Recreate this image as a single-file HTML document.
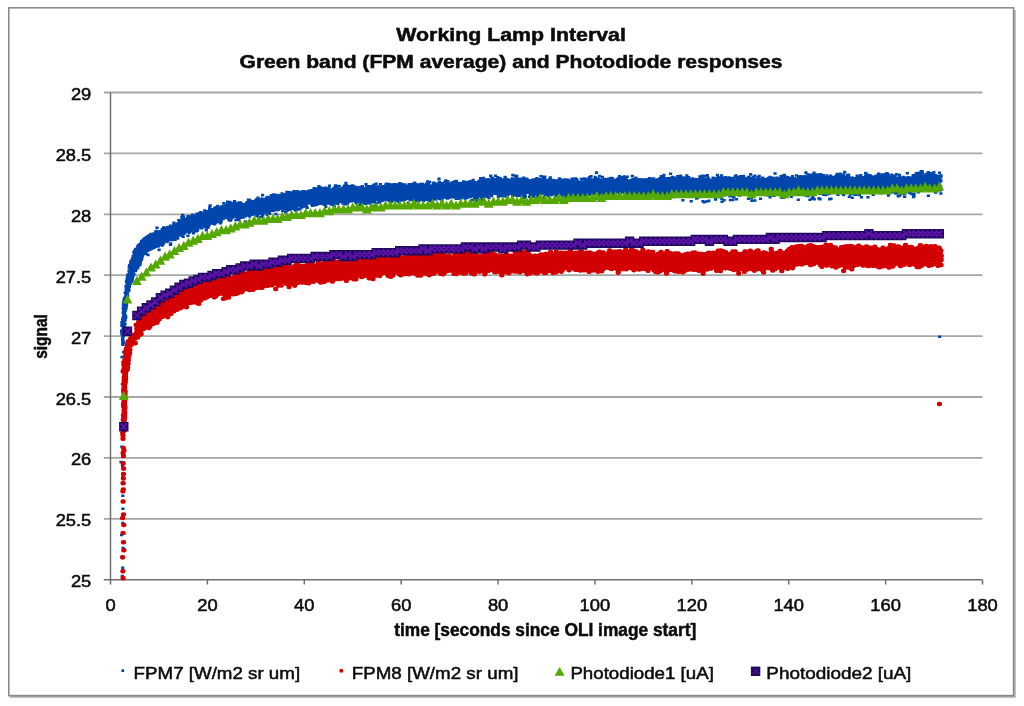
<!DOCTYPE html>
<html lang="en"><head><meta charset="utf-8"><title>Working Lamp Interval</title>
<style>html,body{margin:0;padding:0;background:#fff}svg{display:block}</style></head>
<body>
<svg width="1024" height="706" viewBox="0 0 1024 706">
<rect width="1024" height="706" fill="#fff"/>
<path d="M1014.9 10V696.9H10" fill="none" stroke="#adadad" stroke-width="1.6"/>
<rect x="8.8" y="7.8" width="1004.8" height="687.8" fill="#fff" stroke="#8a8a8a" stroke-width="1.6"/>
<path d="M103.8 92.50H982.5M103.8 153.40H982.5M103.8 214.30H982.5M103.8 275.20H982.5M103.8 336.10H982.5M103.8 397.00H982.5M103.8 457.90H982.5M103.8 518.80H982.5" stroke="#a6a6a6" stroke-width="1.8" fill="none"/>
<path d="M110.5 92.5V579.75M110.5 579.75H982.5M103.8 579.75H110.5M110.50 579.75V584.6M207.39 579.75V584.6M304.28 579.75V584.6M401.17 579.75V584.6M498.06 579.75V584.6M594.94 579.75V584.6M691.83 579.75V584.6M788.72 579.75V584.6M885.61 579.75V584.6M982.50 579.75V584.6" stroke="#707070" stroke-width="1.5" fill="none"/>
<path d="M131 263.5L132.6 258.6L134.2 252L135.8 250.2L137.4 248.1L139 246.7L140.6 243.8L142.2 240.8L143.8 239.7L145.4 238.9L147 237.3L148.6 236.1L150.2 235.8L151.8 233.7L153.4 234L155 232.3L156.6 231.3L158.2 232.6L159.8 229.7L161.4 230.4L163 229.9L164.6 227.4L166.2 226.6L167.8 225.8L169.4 227.3L171 225.7L172.6 224.1L174.2 225.1L175.8 223.1L177.4 222.6L179 219.4L180.6 219.5L182.2 219.5L183.8 218.5L185.4 218.4L187 217.1L188.6 217.3L190.2 217.3L191.8 216.9L193.4 214.9L195 214.3L196.6 214.7L198.2 214.9L199.8 212.3L201.4 212.6L203 212L204.6 212.2L206.2 211.2L207.8 210.6L209.4 208.8L211 208.1L212.6 208.6L214.2 207.1L215.8 207L217.4 206L219 207.1L220.6 205.2L222.2 205.6L223.8 204.9L225.4 204.7L227 203.1L228.6 202.7L230.2 204.4L231.8 203.4L233.4 203.8L235 203L236.6 201.8L238.2 201.8L239.8 201.7L241.4 201.2L243 202.8L244.6 203.2L246.2 201.4L247.8 202.4L249.4 199.7L251 199.8L252.6 200L254.2 199.7L255.8 197.8L257.4 199.8L259 199.7L260.6 197.6L262.2 197.3L263.8 198L265.4 197.2L267 197.4L268.6 198.2L270.2 197.5L271.8 195.9L273.4 196L275 196.9L276.6 196.7L278.2 194.6L279.8 193.5L281.4 195L283 193.3L284.6 193L286.2 193.2L287.8 192L289.4 193.3L291 193.8L292.6 192.5L294.2 193.4L295.8 192.1L297.4 192.7L299 192L300.6 191.4L302.2 191.4L303.8 191.3L305.4 189.9L307 191.2L308.6 190.8L310.2 189.5L311.8 189.5L313.4 188.7L315 187.9L316.6 189.9L318.2 189.8L319.8 188.6L321.4 189.5L323 188.7L324.6 189.8L326.2 188.9L327.8 189.4L329.4 188.5L331 188.3L332.6 188.4L334.2 188.8L335.8 186.6L337.4 187.9L339 187.6L340.6 188.1L342.2 186.3L343.8 187L345.4 186.1L347 186.6L348.6 184.9L350.2 186.9L351.8 185.2L353.4 186.1L355 185.5L356.6 187.7L358.2 187.3L359.8 187.8L361.4 187.7L363 188.2L364.6 187.6L366.2 186.2L367.8 186.3L369.4 188.1L371 186.8L372.6 187.7L374.2 186.7L375.8 187.6L377.4 186L379 185.1L380.6 186.8L382.2 185.3L383.8 185.3L385.4 186.1L387 184.6L388.6 186.3L390.2 184L391.8 186L393.4 186.3L395 185.8L396.6 184.7L398.2 184.5L399.8 186.2L401.4 186L403 186.1L404.6 186.6L406.2 185.5L407.8 186.1L409.4 186L411 184.7L412.6 184.9L414.2 183L415.8 185.1L417.4 183.8L419 183.9L420.6 184.5L422.2 185L423.8 183.5L425.4 184.8L427 185L428.6 183.9L430.2 184L431.8 185.2L433.4 183.7L435 184.7L436.6 184.7L438.2 183L439.8 182.6L441.4 182.1L443 181.9L444.6 183.4L446.2 181.8L447.8 181.6L449.4 182.4L451 181.3L452.6 181.4L454.2 183.2L455.8 183.5L457.4 183L459 183.2L460.6 182.2L462.2 182L463.8 183.1L465.4 182.3L467 181.4L468.6 181.6L470.2 182.6L471.8 181.8L473.4 183L475 181.5L476.6 181L478.2 181.4L479.8 180.8L481.4 180.6L483 182.1L484.6 180.8L486.2 179.8L487.8 178.8L489.4 180.6L491 180.2L492.6 179.2L494.2 179.8L495.8 180.8L497.4 181L499 180.9L500.6 179.9L502.2 179.7L503.8 179.3L505.4 178.1L507 178.7L508.6 179.9L510.2 178.5L511.8 179.1L513.4 179.7L515 179.3L516.6 178.3L518.2 178.4L519.8 180.4L521.4 178.8L523 180.3L524.6 180.2L526.2 180L527.8 179.4L529.4 181.1L531 180.6L532.6 179.6L534.2 178.7L535.8 179.1L537.4 177.9L539 178L540.6 177.9L542.2 177.9L543.8 179.2L545.4 178.5L547 178.7L548.6 179L550.2 181.4L551.8 179.3L553.4 181.5L555 181.3L556.6 180.1L558.2 181L559.8 178.7L561.4 180.6L563 179.9L564.6 180.1L566.2 181.1L567.8 178.9L569.4 179.2L571 180.2L572.6 178.8L574.2 180.7L575.8 178.7L577.4 179.3L579 180.3L580.6 180.7L582.2 180.6L583.8 180.7L585.4 179.7L587 179.4L588.6 179.5L590.2 178.1L591.8 178.7L593.4 178.3L595 177.4L596.6 177.2L598.2 177.4L599.8 178.3L601.4 179.1L603 180.6L604.6 178.7L606.2 178.2L607.8 178.9L609.4 179.3L611 179.6L612.6 179L614.2 180.2L615.8 177.9L617.4 177.7L619 177.3L620.6 178.8L622.2 177.2L623.8 177.2L625.4 176.8L627 178L628.6 179.5L630.2 179.9L631.8 180.3L633.4 178.3L635 177.8L636.6 178L638.2 177.7L639.8 179.7L641.4 178.3L643 179.9L644.6 178.6L646.2 178.3L647.8 178.9L649.4 179.9L651 180.7L652.6 179.6L654.2 179.8L655.8 178.9L657.4 179.8L659 179.5L660.6 179.9L662.2 179.6L663.8 179.2L665.4 179.6L667 179.8L668.6 179.2L670.2 177.7L671.8 178.7L673.4 180.1L675 179.4L676.6 178.6L678.2 179.6L679.8 178L681.4 177.9L683 178L684.6 178.1L686.2 178L687.8 177.5L689.4 178.3L691 178L692.6 179L694.2 178.9L695.8 177.6L697.4 178.8L699 179.5L700.6 178.5L702.2 176.9L703.8 178.1L705.4 177.2L707 177.9L708.6 177.3L710.2 179.3L711.8 179L713.4 178.3L715 177.4L716.6 176.7L718.2 178.1L719.8 176.7L721.4 178.3L723 178.5L724.6 176.8L726.2 179.2L727.8 179.4L729.4 177.3L731 178.4L732.6 177.7L734.2 178.5L735.8 178.9L737.4 177.3L739 176.7L740.6 177.4L742.2 176.8L743.8 178L745.4 176.8L747 177.5L748.6 176.2L750.2 176.7L751.8 178.1L753.4 178.4L755 177.8L756.6 178L758.2 176.8L759.8 178.3L761.4 178.4L763 177.5L764.6 178.9L766.2 177.5L767.8 178.6L769.4 177.6L771 179.6L772.6 178.5L774.2 180.1L775.8 178.5L777.4 178.8L779 177.5L780.6 175.8L782.2 175.9L783.8 176L785.4 176.8L787 175.3L788.6 176.8L790.2 177.8L791.8 176.7L793.4 177.3L795 177L796.6 178.1L798.2 176.8L799.8 178.3L801.4 178L803 177.1L804.6 178.1L806.2 176.3L807.8 175.4L809.4 177L811 177.2L812.6 177.3L814.2 175.1L815.8 174.6L817.4 175.9L819 175.2L820.6 174.8L822.2 176.3L823.8 176.3L825.4 176.9L827 178.1L828.6 178.3L830.2 176.3L831.8 175.6L833.4 176.7L835 174.6L836.6 174.8L838.2 176.3L839.8 175.2L841.4 176.4L843 176.5L844.6 175.4L846.2 177.3L847.8 177.5L849.4 175.7L851 178.3L852.6 176.2L854.2 177.3L855.8 177.4L857.4 177L859 177.8L860.6 175.2L862.2 176.4L863.8 176.1L865.4 173.8L867 173.7L868.6 174.5L870.2 174.1L871.8 174.4L873.4 176.5L875 174.4L876.6 174.8L878.2 174.2L879.8 174.2L881.4 175L883 175.8L884.6 175.9L886.2 174.2L887.8 176.2L889.4 176.6L891 175.2L892.6 175.3L894.2 175.9L895.8 177.1L897.4 177.8L899 176.8L900.6 176.6L902.2 176.6L903.8 176.8L905.4 176.3L907 177.6L908.6 177.3L910.2 176.6L911.8 176.9L913.4 176.4L915 174.2L916.6 174.1L918.2 174.1L919.8 174.1L921.4 172.5L923 172.8L924.6 174.7L926.2 174.8L927.8 173.5L929.4 174.1L931 175L932.6 174.7L934.2 175.6L935.8 174.3L937.4 175L939 174.8L940.6 176.2L940.6 189.9L939 189.6L937.4 189.4L935.8 190.4L934.2 189.6L932.6 190.4L931 190.6L929.4 188.8L927.8 190.1L926.2 190.1L924.6 188.9L923 188.7L921.4 188.1L919.8 188.4L918.2 188.3L916.6 190.1L915 191.1L913.4 191.5L911.8 190.7L910.2 192.8L908.6 193L907 192.2L905.4 192.7L903.8 192.9L902.2 193.3L900.6 192.1L899 190.6L897.4 192.8L895.8 190.7L894.2 192.5L892.6 190.8L891 192.3L889.4 190.7L887.8 189.6L886.2 191.6L884.6 189.1L883 188.9L881.4 191L879.8 190.2L878.2 190.7L876.6 191.8L875 190L873.4 191.4L871.8 191.7L870.2 189.5L868.6 190.2L867 190.3L865.4 189.4L863.8 189.7L862.2 191.2L860.6 191.3L859 192.6L857.4 193.2L855.8 191.8L854.2 192.9L852.6 192.7L851 193L849.4 192L847.8 192.2L846.2 190.6L844.6 192L843 190.9L841.4 191.8L839.8 190.2L838.2 191.2L836.6 190.2L835 190.6L833.4 192L831.8 191.7L830.2 192.1L828.6 192.9L827 193.5L825.4 190.6L823.8 192.7L822.2 190.8L820.6 190.2L819 189.5L817.4 191.7L815.8 192.1L814.2 190L812.6 191L811 192.6L809.4 191.9L807.8 190.9L806.2 191.4L804.6 191L803 192.4L801.4 193.2L799.8 191.7L798.2 191.9L796.6 193.2L795 194L793.4 192.7L791.8 193.7L790.2 191.1L788.6 192L787 190.9L785.4 190.2L783.8 189.8L782.2 190.6L780.6 193.2L779 191.5L777.4 194.3L775.8 194.1L774.2 194.9L772.6 194.7L771 193.3L769.4 193.3L767.8 193.8L766.2 193.2L764.6 194.7L763 194.2L761.4 192.7L759.8 192.3L758.2 193.1L756.6 193L755 193.5L753.4 193.1L751.8 192.9L750.2 191.4L748.6 192.9L747 191.2L745.4 193L743.8 192.3L742.2 194L740.6 192.9L739 193.6L737.4 192L735.8 193.1L734.2 193.7L732.6 193.6L731 193.3L729.4 192.6L727.8 193.6L726.2 193L724.6 193.1L723 192.6L721.4 192.7L719.8 191.8L718.2 192.1L716.6 191.8L715 194.3L713.4 192.6L711.8 193.4L710.2 194.1L708.6 193.6L707 193.9L705.4 193.7L703.8 191.9L702.2 193.1L700.6 193.6L699 194.4L697.4 194.7L695.8 193.8L694.2 195.1L692.6 195L691 192.6L689.4 192.6L687.8 194.4L686.2 193.5L684.6 193.6L683 191.9L681.4 194.3L679.8 193.5L678.2 195L676.6 193.6L675 193L673.4 193.1L671.8 195.1L670.2 193.5L668.6 193.8L667 192.8L665.4 194.4L663.8 193L662.2 193.6L660.6 193.3L659 192.8L657.4 193.6L655.8 194.4L654.2 193.2L652.6 193.9L651 194.8L649.4 193.9L647.8 194.2L646.2 195.4L644.6 193.7L643 193.8L641.4 195.3L639.8 194.6L638.2 193.7L636.6 193.9L635 195.4L633.4 194.4L631.8 195.3L630.2 194.4L628.6 194.5L627 192.6L625.4 192.5L623.8 193.8L622.2 192.4L620.6 194L619 194.1L617.4 192.6L615.8 195L614.2 193.5L612.6 195.4L611 193.4L609.4 194.1L607.8 194.1L606.2 194.6L604.6 193.5L603 194.6L601.4 194.5L599.8 192.7L598.2 194.7L596.6 193.2L595 193.4L593.4 192.5L591.8 195L590.2 194.5L588.6 195.7L587 194L585.4 194.6L583.8 194.3L582.2 194.6L580.6 194.8L579 194.6L577.4 195.9L575.8 195.5L574.2 196L572.6 195.4L571 195.8L569.4 195.8L567.8 194.4L566.2 194.1L564.6 195.5L563 196.2L561.4 194.2L559.8 196.3L558.2 195.6L556.6 194.2L555 194.2L553.4 195.7L551.8 196.5L550.2 195.7L548.6 196.3L547 194.9L545.4 193.4L543.8 193.8L542.2 192.9L540.6 194.7L539 194.2L537.4 194.5L535.8 195L534.2 195.2L532.6 194.8L531 195.7L529.4 194.1L527.8 193.8L526.2 194.1L524.6 194.4L523 194.2L521.4 193.8L519.8 194.4L518.2 193.1L516.6 193.1L515 193.1L513.4 193.9L511.8 193.1L510.2 194.4L508.6 193.6L507 194.3L505.4 193.4L503.8 194.4L502.2 195.3L500.6 196L499 196.1L497.4 195.3L495.8 195.1L494.2 195L492.6 194.6L491 194.4L489.4 194.8L487.8 194.8L486.2 194L484.6 195.3L483 196.8L481.4 196.2L479.8 196.1L478.2 196.4L476.6 197.3L475 196.3L473.4 196.5L471.8 197.4L470.2 196.6L468.6 198.1L467 196.8L465.4 198.2L463.8 197.1L462.2 198.5L460.6 197.5L459 198.4L457.4 198.4L455.8 197.4L454.2 197L452.6 197.5L451 196.9L449.4 198.5L447.8 198.4L446.2 196.4L444.6 198.6L443 196.9L441.4 198.5L439.8 199.1L438.2 197.3L436.6 198.9L435 200.1L433.4 198.5L431.8 199.6L430.2 198.5L428.6 200.4L427 200.4L425.4 200L423.8 198.9L422.2 199L420.6 199.1L419 198.8L417.4 198.7L415.8 198.5L414.2 198.7L412.6 199.8L411 200.5L409.4 200.9L407.8 199.9L406.2 199.9L404.6 199.8L403 201.2L401.4 201.1L399.8 200.4L398.2 202L396.6 199.6L395 200.5L393.4 201.1L391.8 199.5L390.2 201.3L388.6 201.1L387 200.2L385.4 200L383.8 202.1L382.2 199.9L380.6 202.4L379 201.1L377.4 200.8L375.8 201.1L374.2 201L372.6 203.2L371 201.5L369.4 202.3L367.8 203.4L366.2 201.5L364.6 202.4L363 203.4L361.4 201.5L359.8 202.6L358.2 201.4L356.6 202.4L355 200.5L353.4 202.3L351.8 200.9L350.2 201.5L348.6 202.4L347 202.1L345.4 201.3L343.8 202.7L342.2 201L340.6 202.1L339 202.2L337.4 203.1L335.8 203.5L334.2 203.9L332.6 203L331 204.6L329.4 203L327.8 202.9L326.2 203L324.6 203.4L323 203.5L321.4 202.9L319.8 204.6L318.2 204.2L316.6 204.5L315 204.9L313.4 203.6L311.8 206L310.2 204.6L308.6 204.6L307 206L305.4 206L303.8 206.9L302.2 207.9L300.6 207.2L299 206.9L297.4 208.5L295.8 207.1L294.2 208L292.6 207.4L291 208.9L289.4 207.7L287.8 208.5L286.2 208.2L284.6 209.5L283 209.5L281.4 209.2L279.8 210.7L278.2 211.5L276.6 209.9L275 211.2L273.4 212.6L271.8 211.4L270.2 211.7L268.6 213.7L267 213.5L265.4 211.7L263.8 213.2L262.2 213.2L260.6 213.4L259 214.8L257.4 212.8L255.8 213.4L254.2 213.9L252.6 215.7L251 215.1L249.4 216.3L247.8 216.8L246.2 216L244.6 216.3L243 217.7L241.4 217.8L239.8 218.5L238.2 218.7L236.6 219.5L235 217.5L233.4 218.7L231.8 219.6L230.2 218L228.6 217.9L227 218.7L225.4 219.2L223.8 219.6L222.2 221.1L220.6 220.4L219 222.7L217.4 223.1L215.8 222.8L214.2 223.1L212.6 224.4L211 224.6L209.4 226L207.8 226.8L206.2 226L204.6 225.7L203 226.9L201.4 226.6L199.8 227.8L198.2 228.9L196.6 230.3L195 230.9L193.4 231.4L191.8 232.3L190.2 233.9L188.6 234.5L187 232.2L185.4 233.9L183.8 234.8L182.2 235.3L180.6 235.2L179 236.6L177.4 238L175.8 236.9L174.2 238.8L172.6 239.8L171 241L169.4 241.4L167.8 243.4L166.2 242.2L164.6 244.2L163 244.6L161.4 244.6L159.8 247.2L158.2 247.9L156.6 247.2L155 249.3L153.4 248.7L151.8 250.3L150.2 251.1L148.6 252L147 252.6L145.4 253.7L143.8 256.4L142.2 257.6L140.6 257.2L139 259.8L137.4 263.5L135.8 264.8L134.2 268.3L132.6 273.9L131 277.7z" fill="#0046ad"/>
<path d="M126.2 281.3h0.6M126.4 282.2h0.6M126.7 290.2h0.6M126.7 279.9h0.6M127.2 284.9h0.6M127.3 276.6h0.6M127.4 286.2h0.6M127.5 288.9h0.6M127.6 285.2h0.6M127.7 274.6h0.6M127.7 286.8h0.6M127.7 281.2h0.6M127.9 288.5h0.6M127.9 274.9h0.6M128 278.2h0.6M128.1 287.6h0.6M128.2 286h0.6M128.3 285.4h0.6M128.4 276.9h0.6M128.4 279h0.6M128.4 289.1h0.6M128.7 280.3h0.6M128.7 270.9h0.6M128.7 270.9h0.6M128.9 267.4h0.6M129.2 273.5h0.6M129.2 265.2h0.6M129.3 272.6h0.6M129.4 276.2h0.6M129.9 276.9h0.6M129.9 269.2h0.6M130 265.8h0.6M130.1 278.4h0.6M130.2 278.1h0.6M130.3 280.9h0.6M130.4 261.6h0.6M130.4 273.7h0.6M130.4 276.2h0.6M130.5 273.2h0.6M130.5 263.9h0.6M130.6 272.6h0.6M131.1 271.5h0.6M131.2 262.2h0.6M131.2 265.4h0.6M131.6 273.7h0.6M132.2 260.5h0.6M132.3 270.5h0.6M132.4 258.9h0.6M132.4 264.9h0.6M132.4 261.2h0.6M132.8 257.1h0.6M132.8 272.3h0.6M132.9 261.5h0.6M133 265.2h0.6M133.3 270.4h0.6M133.4 260.2h0.6M133.6 252h0.6M133.7 261.4h0.6M134.1 256.1h0.6M134.2 265.8h0.6M134.3 254.5h0.6M134.5 264.3h0.6M134.6 250.6h0.6M135 258.5h0.6M135.2 252.2h0.6M135.3 263.2h0.6M135.6 262.9h0.6M135.8 264.2h0.6M135.9 250.5h0.6M136.1 253.6h0.6M136.1 261.8h0.6M136.1 260.9h0.6M136.2 261.5h0.6M136.5 255h0.6M136.5 252.2h0.6M136.6 265.5h0.6M136.7 253.4h0.6M136.8 254.3h0.6M136.9 260.3h0.6M137 249.6h0.6M137.1 259.8h0.6M137.2 259.8h0.6M137.2 255.5h0.6M137.3 256.9h0.6M137.7 256.2h0.6M138 247.5h0.6M138 248.4h0.6M138 253.7h0.6M138.3 245.2h0.6M138.3 246.3h0.6M138.4 254.3h0.6M138.5 256.5h0.6M138.6 252.8h0.6M138.6 248.2h0.6M138.6 257.1h0.6M138.6 255.2h0.6M138.7 255.5h0.6M139 253.4h0.6M139.1 248.7h0.6M139.2 257.7h0.6M139.2 255.6h0.6M139.5 246.3h0.6M139.5 255.5h0.6M139.6 253.4h0.6M139.6 252.2h0.6M140 248.3h0.6M140 257.2h0.6M140.3 254.7h0.6M140.4 251h0.6M140.4 243.6h0.6M140.7 244.9h0.6M140.7 256.7h0.6M140.8 248.7h0.6M140.9 254.1h0.6M141.2 243.1h0.6M141.2 248.4h0.6M141.2 250.3h0.6M141.4 256.8h0.6M141.5 255.8h0.6M141.6 250.6h0.6M141.7 245.7h0.6M141.8 244.8h0.6M141.9 246.1h0.6M142.1 245.2h0.6M142.2 255.8h0.6M142.4 252.5h0.6M142.5 251.3h0.6M142.6 253.4h0.6M142.9 239.6h0.6M143.1 243.4h0.6M143.1 249.3h0.6M143.2 241.5h0.6M143.3 245.9h0.6M143.8 251.7h0.6M143.9 250.1h0.6M144.2 240.1h0.6M144.6 238.4h0.6M144.8 249.7h0.6M144.9 247.4h0.6M145.2 240.3h0.6M145.3 252.4h0.6M145.7 250.4h0.6M145.7 253.8h0.6M146.1 237.2h0.6M146.1 250.2h0.6M146.2 245h0.6M146.4 243.3h0.6M146.4 244.2h0.6M146.6 236.8h0.6M146.6 239.1h0.6M146.7 238.4h0.6M146.7 247.5h0.6M146.7 245.9h0.6M146.7 238.2h0.6M147.1 240.6h0.6M147.3 249h0.6M147.3 244.7h0.6M147.5 246.1h0.6M147.6 254.9h0.6M147.8 245.9h0.6M147.9 248.2h0.6M148.1 245.9h0.6M148.5 235.5h0.6M148.9 245.9h0.6M149.1 246.6h0.6M149.1 245.4h0.6M149.4 249.5h0.6M149.7 242.7h0.6M150.2 241.7h0.6M150.3 240h0.6M150.4 237.1h0.6M150.5 234.1h0.6M150.8 238.2h0.6M150.9 237.5h0.6M151.2 239.7h0.6M151.7 239.5h0.6M151.9 245.4h0.6M152 248.5h0.6M152.2 243.6h0.6M152.3 245.1h0.6M152.5 242.3h0.6M152.5 238.1h0.6M152.6 242.8h0.6M152.6 243.1h0.6M152.6 247.2h0.6M152.7 246h0.6M152.9 235h0.6M152.9 244.3h0.6M153 236.8h0.6M153.4 240.8h0.6M153.5 247h0.6M153.5 245.6h0.6M153.7 233.5h0.6M154 240.5h0.6M154.1 235.5h0.6M154.4 241.9h0.6M154.4 246.5h0.6M154.4 242.7h0.6M154.5 240.4h0.6M154.8 241.9h0.6M154.8 234.5h0.6M155 246.4h0.6M155.1 246.8h0.6M155.5 231.3h0.6M155.7 242h0.6M155.7 240.9h0.6M155.7 238.1h0.6M155.9 234h0.6M156.2 234.3h0.6M156.3 241.9h0.6M156.7 227.9h0.6M156.9 236.9h0.6M157 244.5h0.6M157.1 232.8h0.6M157.2 242.2h0.6M157.3 238.3h0.6M157.5 238h0.6M157.5 236.6h0.6M157.7 240.1h0.6M157.8 243.5h0.6M158 242.5h0.6M158.1 239.2h0.6M158.2 231.6h0.6M158.8 239h0.6M158.8 249.9h0.6M159.1 244.7h0.6M159.5 233.1h0.6M159.7 236.5h0.6M159.7 238.3h0.6M160 237.9h0.6M160 231.4h0.6M160.2 232.5h0.6M160.5 240.2h0.6M160.6 242h0.6M160.7 242.3h0.6M160.7 238.7h0.6M160.9 240.6h0.6M161 231.6h0.6M161.4 234.3h0.6M161.5 235.3h0.6M161.5 232.5h0.6M161.6 234.5h0.6M161.8 236.4h0.6M161.8 237h0.6M161.9 229.2h0.6M162 245.5h0.6M162.4 244h0.6M162.5 240.9h0.6M162.5 231.4h0.6M162.6 236.3h0.6M162.9 241.7h0.6M163.1 239.4h0.6M163.1 240.8h0.6M163.1 238.3h0.6M163.2 243.3h0.6M163.2 238.4h0.6M163.3 227.5h0.6M163.4 235h0.6M163.5 242h0.6M163.6 231.6h0.6M163.6 231.3h0.6M163.7 228.1h0.6M163.8 228.7h0.6M163.9 231.1h0.6M164.1 239.8h0.6M164.3 237.3h0.6M164.9 241.1h0.6M164.9 237.1h0.6M165.1 233.2h0.6M165.2 239.4h0.6M165.7 232.5h0.6M165.8 232.1h0.6M166 234.1h0.6M166 236.5h0.6M166.2 238.6h0.6M166.2 236.5h0.6M166.3 236.3h0.6M166.3 232.4h0.6M166.5 236.8h0.6M166.5 238.4h0.6M166.7 230.1h0.6M166.7 240.9h0.6M166.9 234h0.6M167 237.6h0.6M167 236.7h0.6M167.1 227.6h0.6M167.1 231h0.6M167.2 228.9h0.6M167.6 235.2h0.6M167.6 235.8h0.6M167.7 239.1h0.6M168.2 231.4h0.6M168.4 230.6h0.6M168.9 231.2h0.6M169.2 235.6h0.6M169.3 233h0.6M169.6 227.2h0.6M170 225.8h0.6M170.1 244.6h0.6M170.2 235.7h0.6M170.4 243.6h0.6M170.7 227.5h0.6M170.8 229h0.6M171 237.6h0.6M171.7 239.9h0.6M171.9 227.7h0.6M171.9 237.3h0.6M172 234h0.6M172.1 237.5h0.6M172.1 239.5h0.6M172.2 232.1h0.6M172.3 238.6h0.6M172.4 226.7h0.6M172.5 230.8h0.6M172.6 231.5h0.6M172.6 229.7h0.6M172.6 232.5h0.6M172.8 237.1h0.6M173.6 222.8h0.6M173.8 230.6h0.6M173.8 233.4h0.6M174 225h0.6M174 233h0.6M174.2 225.6h0.6M174.4 234.6h0.6M174.4 231.6h0.6M174.6 233.9h0.6M174.8 239.2h0.6M174.8 239.8h0.6M175 231.6h0.6M175.3 228.3h0.6M175.4 226.5h0.6M175.5 234.9h0.6M175.5 234h0.6M175.6 234.4h0.6M175.8 234.7h0.6M175.8 231.9h0.6M175.9 236.5h0.6M176.2 232.7h0.6M176.6 232.8h0.6M176.6 235.1h0.6M176.7 229.8h0.6M176.9 232.5h0.6M176.9 234.6h0.6M177.1 224.3h0.6M177.1 233.6h0.6M177.1 223.8h0.6M177.2 226.8h0.6M177.3 233.5h0.6M177.4 238.4h0.6M177.6 235.8h0.6M177.8 234.7h0.6M177.8 234.3h0.6M178.1 234.2h0.6M178.1 231.3h0.6M178.5 224.9h0.6M178.5 220.4h0.6M178.6 230.7h0.6M178.7 231.6h0.6M178.7 229.9h0.6M179 228.8h0.6M179 230.6h0.6M179.2 233.9h0.6M179.4 230.5h0.6M179.5 231.3h0.6M179.5 224.5h0.6M179.5 228.4h0.6M179.5 234.3h0.6M179.5 231.2h0.6M179.6 227.9h0.6M179.6 221.8h0.6M179.6 230.6h0.6M179.6 222.7h0.6M179.7 232.5h0.6M179.8 222.5h0.6M179.8 230h0.6M180 226.3h0.6M180.1 233.9h0.6M180.1 223.8h0.6M180.2 220.9h0.6M180.2 226.8h0.6M180.4 232.2h0.6M180.4 226.3h0.6M180.7 223.9h0.6M180.8 227.6h0.6M180.8 222.7h0.6M181.1 224.3h0.6M181.2 224.7h0.6M181.4 226.2h0.6M181.4 222.3h0.6M181.4 232.2h0.6M181.5 217.1h0.6M181.5 235.2h0.6M181.6 235.6h0.6M181.6 227h0.6M181.7 234.4h0.6M181.7 217.6h0.6M182.1 227.8h0.6M182.3 221.4h0.6M182.3 226.4h0.6M182.3 233.9h0.6M182.3 215.1h0.6M182.4 229.2h0.6M182.7 220.2h0.6M182.7 229.5h0.6M182.8 222.2h0.6M182.8 227.8h0.6M182.9 236.8h0.6M182.9 231.9h0.6M183.2 216.6h0.6M183.4 222.7h0.6M183.5 223.8h0.6M183.5 228.5h0.6M183.5 218.6h0.6M183.5 232h0.6M183.7 230.1h0.6M183.7 233.7h0.6M183.9 219.8h0.6M184.3 222.3h0.6M184.5 231.2h0.6M184.6 227h0.6M184.9 221.4h0.6M185.1 219.3h0.6M185.1 221.1h0.6M185.4 228.9h0.6M185.5 228.9h0.6M185.8 223.8h0.6M185.8 229.9h0.6M185.9 230.6h0.6M185.9 225.1h0.6M185.9 224.3h0.6M186.2 223.5h0.6M186.3 222.7h0.6M186.3 231.9h0.6M186.8 224h0.6M186.8 220.6h0.6M187 222.4h0.6M187 231.3h0.6M187.1 226.1h0.6M187.1 222.3h0.6M187.3 222.1h0.6M187.4 223.4h0.6M187.4 218h0.6M187.6 235.8h0.6M187.7 229.7h0.6M187.7 216.4h0.6M188 226.7h0.6M188 223.1h0.6M188.5 218.5h0.6M188.9 218.8h0.6M188.9 216.6h0.6M189.2 230h0.6M189.4 223.3h0.6M189.6 230.2h0.6M189.8 230.6h0.6M190.1 226.5h0.6M190.2 223.8h0.6M190.3 219.1h0.6M190.4 228.2h0.6M190.7 226.4h0.6M191 228.6h0.6M191 219.7h0.6M191.1 216.9h0.6M191.3 229.8h0.6M191.5 227.5h0.6M191.6 218.8h0.6M191.8 227.9h0.6M191.9 215.8h0.6M192 228.1h0.6M192.1 229.5h0.6M192.2 226.4h0.6M192.2 214.9h0.6M192.5 229.6h0.6M192.5 229.8h0.6M192.9 229.8h0.6M193 226.2h0.6M193 222.1h0.6M193.2 233.1h0.6M193.3 228.1h0.6M193.8 228.3h0.6M193.9 225.2h0.6M194.1 220.2h0.6M194.1 228h0.6M194.2 225h0.6M194.2 216.6h0.6M194.2 223.2h0.6M194.3 218.9h0.6M194.5 221.1h0.6M194.5 230.6h0.6M194.5 221.1h0.6M194.7 221.5h0.6M194.8 229.3h0.6M194.8 216h0.6M194.9 217.2h0.6M195.2 224.2h0.6M195.3 215.9h0.6M195.4 221.3h0.6M195.6 230.7h0.6M195.6 225.8h0.6M195.7 216.6h0.6M195.8 219.3h0.6M195.9 226.3h0.6M196.1 231.3h0.6M196.2 222h0.6M196.2 225h0.6M196.3 219.6h0.6M196.3 217.8h0.6M196.5 221.6h0.6M196.6 213.7h0.6M196.6 221.1h0.6M196.7 225.4h0.6M196.7 216.4h0.6M196.7 224.7h0.6M196.7 225.2h0.6M196.8 215.7h0.6M197.2 223.4h0.6M197.3 216.5h0.6M197.3 230.5h0.6M197.4 219.3h0.6M197.4 220.8h0.6M197.7 228.3h0.6M197.9 226.9h0.6M198.2 219.1h0.6M198.4 216.9h0.6M198.5 221.4h0.6M199 221.5h0.6M199.1 213.2h0.6M199.1 222.4h0.6M199.2 227h0.6M199.4 220h0.6M199.4 216.4h0.6M199.5 222.1h0.6M199.7 220h0.6M199.9 223.4h0.6M200.3 220.6h0.6M200.4 212.3h0.6M200.6 212.4h0.6M200.6 217.1h0.6M200.6 227.2h0.6M200.7 217.5h0.6M200.9 215.3h0.6M200.9 225.2h0.6M200.9 214.2h0.6M201.1 219.4h0.6M201.3 228.2h0.6M201.3 228.2h0.6M201.3 213.2h0.6M201.4 216.7h0.6M201.5 215.1h0.6M201.7 221.4h0.6M202 215.8h0.6M202.6 214.5h0.6M202.6 215.1h0.6M202.8 213.5h0.6M202.8 224.9h0.6M203 218.7h0.6M203.1 216.9h0.6M203.2 216.9h0.6M203.6 216.9h0.6M203.8 214.2h0.6M203.8 219h0.6M204.1 223.3h0.6M204.2 213.9h0.6M204.3 222.8h0.6M204.4 216.2h0.6M204.4 210.5h0.6M204.6 215.7h0.6M204.6 227.1h0.6M204.8 211.8h0.6M205 216.8h0.6M205.2 227h0.6M205.3 211.5h0.6M205.3 215h0.6M205.4 214.4h0.6M205.7 225.3h0.6M205.9 211.8h0.6M206 230.1h0.6M206.1 211.6h0.6M206.1 220.5h0.6M206.3 223.8h0.6M206.5 218.8h0.6M206.5 220.1h0.6M206.6 217.2h0.6M206.8 213.5h0.6M207.1 226.4h0.6M207.6 215.2h0.6M207.6 222.5h0.6M207.7 220.5h0.6M207.8 227.4h0.6M208 211.4h0.6M208.1 212.7h0.6M208.1 223.2h0.6M208.3 218.1h0.6M208.4 222.3h0.6M208.5 220.3h0.6M208.7 222.1h0.6M208.8 225.2h0.6M209 222.6h0.6M209.2 212.4h0.6M209.2 219.9h0.6M209.3 210.4h0.6M209.4 222.6h0.6M209.4 207.6h0.6M209.5 222.1h0.6M209.7 217.6h0.6M209.8 205.6h0.6M209.8 219.9h0.6M210 218h0.6M210.2 214h0.6M210.5 222h0.6M210.7 216.4h0.6M211.1 212.7h0.6M211.4 223.4h0.6M211.5 211.2h0.6M211.7 211.4h0.6M211.8 220.5h0.6M212.1 209.4h0.6M212.1 217.7h0.6M212.3 211.7h0.6M212.3 218.8h0.6M212.5 210h0.6M212.8 220h0.6M213 218.6h0.6M213 214.8h0.6M213.3 216.8h0.6M213.3 216.6h0.6M213.4 211.6h0.6M214.1 220.7h0.6M214.3 224.1h0.6M214.5 210.9h0.6M214.6 207.7h0.6M214.6 215.1h0.6M215.2 223h0.6M215.7 214.8h0.6M215.8 213.6h0.6M216 218.9h0.6M216 208.7h0.6M216.2 213.8h0.6M216.3 221h0.6M216.4 207.3h0.6M216.5 216.4h0.6M216.5 214.2h0.6M216.7 220.8h0.6M216.9 213h0.6M217 213.1h0.6M217.1 220.9h0.6M217.4 206h0.6M217.6 221.2h0.6M217.7 213.3h0.6M217.7 210.8h0.6M218 222h0.6M218 210.2h0.6M218.2 212.2h0.6M218.4 208.1h0.6M218.7 216.9h0.6M218.7 219h0.6M218.7 209.1h0.6M218.8 211.1h0.6M219 208.7h0.6M219 218.7h0.6M219.2 214.4h0.6M219.3 216h0.6M219.5 220.1h0.6M219.5 210.7h0.6M220.2 223.1h0.6M220.3 211.8h0.6M220.3 218.1h0.6M220.5 210.9h0.6M220.5 217.3h0.6M220.6 212.9h0.6M220.6 215.1h0.6M220.9 221.5h0.6M220.9 212.2h0.6M221 209h0.6M221.2 220h0.6M221.6 212.3h0.6M221.8 215.7h0.6M221.8 215h0.6M222 206.6h0.6M222.3 208.8h0.6M222.6 208h0.6M222.7 214.1h0.6M222.8 218.6h0.6M222.9 213h0.6M223 216.3h0.6M223.2 209.9h0.6M223.4 203.4h0.6M223.7 209.9h0.6M223.8 206.3h0.6M224.3 209.2h0.6M224.4 209h0.6M224.5 207.9h0.6M224.8 216.7h0.6M225.1 213.7h0.6M225.3 216.1h0.6M225.5 216.9h0.6M225.6 206.6h0.6M225.6 217.5h0.6M225.7 212.8h0.6M225.9 215.3h0.6M225.9 216.2h0.6M226.1 212.2h0.6M226.2 204.5h0.6M226.3 204.8h0.6M226.6 212.6h0.6M226.7 214.6h0.6M226.8 211h0.6M227.1 217.3h0.6M227.3 201.8h0.6M227.5 204.5h0.6M227.5 210.4h0.6M227.5 212.7h0.6M227.6 210.1h0.6M227.6 207.1h0.6M227.6 205.4h0.6M228.1 216.1h0.6M228.2 218.6h0.6M228.2 205.7h0.6M228.2 218.4h0.6M228.2 204.8h0.6M228.4 208.8h0.6M228.4 209h0.6M228.6 214.5h0.6M228.7 210.5h0.6M228.7 215.9h0.6M228.9 220.2h0.6M229.3 205.1h0.6M229.5 202.1h0.6M229.5 207.4h0.6M229.6 209.5h0.6M229.8 205.7h0.6M229.8 203.8h0.6M230 218.2h0.6M230.2 220.5h0.6M230.3 218.4h0.6M230.3 211h0.6M230.5 208.7h0.6M230.5 214.1h0.6M230.8 219.1h0.6M230.8 210.2h0.6M231 215.7h0.6M231 215.8h0.6M231.4 206.6h0.6M231.7 209.2h0.6M231.8 203h0.6M231.8 208.9h0.6M232.2 211.4h0.6M232.3 217.2h0.6M232.5 206.7h0.6M232.6 215.2h0.6M232.6 215.1h0.6M232.9 212.8h0.6M233 209.3h0.6M233.1 207h0.6M233.2 213.9h0.6M233.3 209.2h0.6M233.3 216.5h0.6M233.5 203.1h0.6M233.6 214.5h0.6M233.8 214.4h0.6M234.3 201.4h0.6M234.3 213.3h0.6M234.4 209.3h0.6M234.5 208.8h0.6M234.5 213h0.6M234.7 210.8h0.6M234.8 214.8h0.6M235 210.6h0.6M235.3 207h0.6M235.4 205.1h0.6M235.6 213.4h0.6M235.6 220h0.6M235.6 203.4h0.6M235.8 214.4h0.6M235.9 209.3h0.6M235.9 215.1h0.6M236 205.8h0.6M236.3 210.8h0.6M236.3 208.5h0.6M236.4 216h0.6M236.8 207.3h0.6M236.8 209.6h0.6M236.9 213.5h0.6M237 204.8h0.6M237.2 214.9h0.6M237.3 216.1h0.6M237.3 218.4h0.6M237.4 206.6h0.6M237.4 213.3h0.6M237.5 205.2h0.6M237.6 203.6h0.6M237.6 212.2h0.6M237.6 212.6h0.6M237.6 212.4h0.6M237.8 213.3h0.6M237.9 204.6h0.6M238 214.3h0.6M238 205.7h0.6M238.1 209.1h0.6M238.1 215.1h0.6M238.3 215.1h0.6M238.3 217.1h0.6M238.5 213.7h0.6M238.7 219.9h0.6M238.7 206.2h0.6M239 217.6h0.6M239.2 207.3h0.6M239.2 210.7h0.6M239.4 202.6h0.6M239.5 208.5h0.6M239.5 210.9h0.6M239.5 205.6h0.6M239.7 213.3h0.6M240 209.5h0.6M240.1 215.4h0.6M240.2 217.6h0.6M240.6 211.6h0.6M240.8 204.3h0.6M240.8 208.5h0.6M240.9 205.7h0.6M241.1 213.1h0.6M241.3 213.5h0.6M241.4 207.9h0.6M241.4 213.1h0.6M241.8 205.3h0.6M241.9 214.4h0.6M241.9 217.5h0.6M242.4 215h0.6M242.5 217.5h0.6M242.6 211.4h0.6M243.4 217.3h0.6M243.5 210.6h0.6M243.8 207.9h0.6M243.9 211.3h0.6M244.1 214.3h0.6M244.2 210.2h0.6M244.3 214.1h0.6M244.6 205.6h0.6M244.7 216.3h0.6M245 221.5h0.6M245 209.5h0.6M245.2 216h0.6M245.4 206.4h0.6M245.7 206.6h0.6M246 204.4h0.6M246.2 210.1h0.6M246.4 213.9h0.6M246.5 214.9h0.6M246.5 202.5h0.6M246.8 212.3h0.6M246.9 206.5h0.6M247.1 205.1h0.6M247.5 215h0.6M248 208.6h0.6M248.1 199.9h0.6M248.2 202.6h0.6M248.4 214.3h0.6M248.7 213.4h0.6M248.9 204.3h0.6M249.1 212.2h0.6M249.4 203.3h0.6M249.4 215.4h0.6M249.4 200.1h0.6M249.5 216.5h0.6M249.7 210.8h0.6M249.9 213.2h0.6M250.1 210h0.6M250.3 208.8h0.6M250.4 207.5h0.6M250.4 204.2h0.6M250.7 204.6h0.6M250.8 203.4h0.6M250.8 204.3h0.6M250.9 211.9h0.6M251.4 208.5h0.6M251.5 207.7h0.6M251.7 206.3h0.6M251.7 214.6h0.6M252 214.2h0.6M252.1 205.7h0.6M252.2 208.1h0.6M252.5 214.1h0.6M252.5 202.5h0.6M252.7 212.8h0.6M252.9 209.8h0.6M253 209.1h0.6M253 209.4h0.6M253.5 208.7h0.6M253.8 205.1h0.6M254.2 214.1h0.6M254.2 207.8h0.6M254.8 202.1h0.6M255.2 210.7h0.6M255.3 212.7h0.6M255.4 211.3h0.6M255.7 209.1h0.6M255.7 208.1h0.6M255.9 208.1h0.6M255.9 204.6h0.6M256.2 201.3h0.6M256.4 208.5h0.6M256.5 216h0.6M256.6 208.1h0.6M256.8 201.9h0.6M256.9 201.8h0.6M256.9 208.9h0.6M256.9 199.2h0.6M257 211.1h0.6M257 215.1h0.6M257.1 211.2h0.6M257.1 208.1h0.6M257.2 213.2h0.6M257.3 205.1h0.6M257.4 212.2h0.6M257.5 208.4h0.6M257.7 197.7h0.6M257.8 211.5h0.6M258.1 200.1h0.6M258.5 217.2h0.6M258.6 199.7h0.6M258.7 207.5h0.6M259 200.9h0.6M259.4 209h0.6M259.5 204.2h0.6M259.5 214h0.6M259.7 202h0.6M259.8 210.7h0.6M260 211.5h0.6M260.1 199.9h0.6M260.2 206.9h0.6M260.3 201.1h0.6M260.3 207.7h0.6M260.5 207.9h0.6M260.6 200.6h0.6M260.8 211.7h0.6M260.9 204.8h0.6M261 203.1h0.6M261.1 213.2h0.6M261.2 202.1h0.6M261.2 201.1h0.6M261.2 203.3h0.6M261.5 213.1h0.6M261.5 217h0.6M261.6 203.4h0.6M261.7 205.5h0.6M262.1 208h0.6M262.2 210.2h0.6M262.3 195.1h0.6M262.3 209.3h0.6M262.4 215.1h0.6M262.5 203.3h0.6M262.6 205.4h0.6M262.9 211.6h0.6M263.3 204.5h0.6M263.4 202h0.6M263.5 209.7h0.6M263.6 205h0.6M263.7 207.7h0.6M263.8 204.2h0.6M264.1 205.3h0.6M264.3 203.8h0.6M264.3 212.7h0.6M264.5 207.4h0.6M264.6 211.4h0.6M264.9 204.7h0.6M264.9 210.1h0.6M265.1 204.6h0.6M265.4 208.2h0.6M265.5 201.7h0.6M265.6 207.5h0.6M266.1 205.8h0.6M266.3 197.8h0.6M266.3 203.5h0.6M266.6 209.6h0.6M266.8 199.8h0.6M266.9 205.2h0.6M266.9 214.9h0.6M267.3 204.6h0.6M267.4 197.1h0.6M267.8 207.8h0.6M267.9 202.9h0.6M267.9 212.5h0.6M268 209.3h0.6M268 210.8h0.6M268.2 203.4h0.6M268.3 210.8h0.6M268.3 208.1h0.6M268.6 197.8h0.6M269 206.4h0.6M269 212.7h0.6M269.3 207h0.6M269.3 213.6h0.6M269.4 198h0.6M269.5 207.9h0.6M269.5 203.8h0.6M269.6 198.7h0.6M269.9 207h0.6M270 202.5h0.6M270.1 209.2h0.6M270.1 210.7h0.6M270.2 206.5h0.6M270.2 198.3h0.6M270.8 197.1h0.6M270.9 207.3h0.6M271.1 205.4h0.6M271.1 195.2h0.6M271.3 196.9h0.6M271.3 199.9h0.6M271.5 197.8h0.6M271.7 210h0.6M271.7 198.5h0.6M271.9 210.3h0.6M272 210h0.6M272 204.7h0.6M272.1 207.6h0.6M272.9 208.6h0.6M272.9 202.1h0.6M273 205.1h0.6M273.1 195.9h0.6M273.5 194.5h0.6M273.6 209.9h0.6M273.9 208.8h0.6M274 208h0.6M274 197.1h0.6M274.1 207.7h0.6M274.2 207.1h0.6M274.4 205.6h0.6M274.6 203.4h0.6M274.9 206.5h0.6M275.2 196.8h0.6M275.3 197.9h0.6M275.5 201.7h0.6M275.5 203.2h0.6M275.5 204.9h0.6M275.6 199.1h0.6M275.6 214h0.6M275.7 209.2h0.6M275.7 207.4h0.6M275.8 210.1h0.6M275.8 203h0.6M276 198h0.6M276 209.6h0.6M276.1 195.1h0.6M276.2 206h0.6M276.3 205.6h0.6M276.5 198.6h0.6M276.6 196.1h0.6M276.9 208h0.6M277 209.4h0.6M277.2 204.5h0.6M277.2 202.3h0.6M277.7 209.4h0.6M277.8 205.3h0.6M278.2 203.3h0.6M278.3 203.6h0.6M278.3 207h0.6M278.6 208.7h0.6M278.6 202.1h0.6M278.9 203.1h0.6M279.1 196h0.6M279.2 199.3h0.6M279.4 207.7h0.6M279.5 199.3h0.6M279.5 201.7h0.6M279.9 208.7h0.6M280 196.6h0.6M280.3 204.3h0.6M280.5 200h0.6M280.6 204.4h0.6M281.1 207.6h0.6M281.1 204.8h0.6M281.1 207.1h0.6M281.2 201h0.6M281.3 201.7h0.6M281.3 198.2h0.6M281.7 193.5h0.6M282 205.5h0.6M282 195.4h0.6M282.3 210.9h0.6M282.4 195.5h0.6M282.6 205.8h0.6M282.7 201.2h0.6M282.7 201.5h0.6M282.7 202.1h0.6M283.4 194.7h0.6M283.4 207.9h0.6M284 205.8h0.6M284.1 200.3h0.6M284.2 201.4h0.6M284.2 198.7h0.6M284.3 208.5h0.6M284.4 199.4h0.6M284.4 200.8h0.6M284.5 200.9h0.6M284.5 208.5h0.6M284.7 206.9h0.6M284.9 201.4h0.6M285 197.8h0.6M285 204.9h0.6M285.2 201.2h0.6M285.2 207.1h0.6M285.2 207h0.6M285.3 202.9h0.6M285.4 212.3h0.6M285.4 201.5h0.6M285.7 209.5h0.6M285.7 207.3h0.6M285.9 195.1h0.6M286.3 205.3h0.6M286.3 207.8h0.6M286.4 200.2h0.6M286.5 192.1h0.6M286.5 200.9h0.6M286.5 205.7h0.6M286.5 195h0.6M286.6 194.9h0.6M286.8 205.8h0.6M286.9 210.4h0.6M287 205.9h0.6M287 206.7h0.6M287 202.7h0.6M287.2 200.9h0.6M287.3 201.6h0.6M287.3 203.5h0.6M287.5 198.1h0.6M287.5 195.4h0.6M287.6 204.2h0.6M287.9 204.5h0.6M287.9 208.5h0.6M288 195.9h0.6M288.1 198.6h0.6M288.3 194.3h0.6M288.4 194.1h0.6M288.8 196.2h0.6M288.8 203.6h0.6M289 207.7h0.6M289 195.1h0.6M289.1 192.2h0.6M289.3 205.7h0.6M289.4 197.9h0.6M289.5 193.7h0.6M289.6 206.2h0.6M289.6 194.7h0.6M289.6 198.2h0.6M289.7 205.6h0.6M289.9 202.8h0.6M289.9 209.7h0.6M289.9 202.9h0.6M290 198.1h0.6M290 193.4h0.6M290 202.6h0.6M290.1 201.3h0.6M290.3 196.3h0.6M290.3 194.7h0.6M290.4 196h0.6M290.6 195h0.6M290.7 197.1h0.6M290.8 197.5h0.6M291 202.6h0.6M291.2 197.8h0.6M291.4 205.8h0.6M291.4 201.8h0.6M291.5 196.7h0.6M291.8 208.7h0.6M291.8 204.7h0.6M291.8 207.5h0.6M292 195.3h0.6M292.2 207.7h0.6M292.7 199.5h0.6M292.7 197.3h0.6M292.8 197.2h0.6M292.8 192h0.6M293.1 195.1h0.6M293.2 198h0.6M293.4 196.8h0.6M293.6 202.7h0.6M293.7 196.4h0.6M293.7 191.2h0.6M293.8 194h0.6M293.9 192.6h0.6M294.1 192.6h0.6M294.2 195.7h0.6M294.3 206.3h0.6M294.6 195.3h0.6M294.8 207.5h0.6M294.8 209.9h0.6M294.8 202.8h0.6M295 192.7h0.6M295.2 194.4h0.6M295.2 198h0.6M295.6 210.4h0.6M296 207h0.6M296.2 201.7h0.6M296.9 205.8h0.6M297 191.2h0.6M297 204.3h0.6M297.1 201h0.6M297.1 198.4h0.6M297.3 204.3h0.6M297.4 202.7h0.6M297.9 209.5h0.6M298.2 192.1h0.6M298.3 197.1h0.6M298.4 194h0.6M298.6 196h0.6M298.7 196.2h0.6M298.8 200.4h0.6M298.9 209.3h0.6M298.9 197.4h0.6M299.3 197.1h0.6M299.5 195.9h0.6M299.6 197.1h0.6M299.7 195.4h0.6M299.7 199.1h0.6M299.8 197.6h0.6M299.9 198.3h0.6M300.1 197.2h0.6M300.1 193h0.6M300.1 203h0.6M300.3 192.7h0.6M300.4 201.6h0.6M300.5 208.2h0.6M300.6 195.3h0.6M300.8 191.8h0.6M301 199.6h0.6M301 206.1h0.6M301.1 200.2h0.6M301.3 194.6h0.6M301.5 202.2h0.6M301.7 201.2h0.6M302 200.8h0.6M302.3 201.8h0.6M302.6 207h0.6M302.6 199h0.6M302.7 195.3h0.6M302.8 203.6h0.6M302.8 199.3h0.6M303.1 191.3h0.6M303.1 204.8h0.6M303.3 191.8h0.6M303.5 202.2h0.6M303.8 195.4h0.6M303.8 205.9h0.6M303.9 200.1h0.6M304 206.1h0.6M304.5 197.9h0.6M304.6 195.3h0.6M304.7 203.7h0.6M304.9 206.3h0.6M305.1 200.2h0.6M305.3 206.5h0.6M305.4 201h0.6M305.4 203.8h0.6M305.6 192.2h0.6M305.8 204.9h0.6M306.1 202.1h0.6M306.1 203.8h0.6M306.2 198.9h0.6M306.4 199.9h0.6M306.4 201.5h0.6M306.5 199.4h0.6M306.5 192.6h0.6M306.5 195.4h0.6M306.9 207.6h0.6M306.9 199.5h0.6M307.1 192h0.6M307.1 193.8h0.6M307.2 201.2h0.6M307.2 195.5h0.6M307.3 198.3h0.6M307.8 202.2h0.6M307.9 191.2h0.6M308 193.4h0.6M308.1 202.4h0.6M308.7 190.9h0.6M308.8 191.4h0.6M308.8 202.6h0.6M308.9 200.7h0.6M309.1 197.1h0.6M309.3 202h0.6M309.3 192.1h0.6M309.4 191.6h0.6M309.4 202.6h0.6M309.7 202.4h0.6M310.3 192.9h0.6M310.3 196.5h0.6M310.5 190.8h0.6M310.5 195.7h0.6M311 197.4h0.6M311.2 204.2h0.6M311.2 195.9h0.6M311.3 191.9h0.6M311.4 190.3h0.6M311.5 194h0.6M311.9 196.4h0.6M311.9 200.6h0.6M312.3 200.8h0.6M312.3 205.7h0.6M312.5 197.9h0.6M312.5 198.4h0.6M312.6 196.9h0.6M312.9 201.3h0.6M313.3 196.3h0.6M313.4 202.9h0.6M313.4 195.1h0.6M313.6 200.3h0.6M313.8 188.2h0.6M314 191.7h0.6M314.5 205.1h0.6M314.6 195.9h0.6M314.7 197.3h0.6M314.7 190.4h0.6M314.9 198.1h0.6M315 188.5h0.6M315.4 199.1h0.6M315.8 204.5h0.6M315.8 198.6h0.6M316 201.5h0.6M316.1 196.3h0.6M316.2 194h0.6M316.3 199.7h0.6M316.3 194h0.6M316.5 193.1h0.6M316.5 195.9h0.6M316.6 204.6h0.6M316.6 202.4h0.6M316.8 202.4h0.6M316.9 192.6h0.6M317 201.1h0.6M317.1 197.5h0.6M317.3 199.1h0.6M317.4 200.4h0.6M317.4 198.9h0.6M317.6 191.1h0.6M317.7 188.6h0.6M317.8 194.6h0.6M317.8 190.5h0.6M318.3 200.9h0.6M318.5 189.4h0.6M318.6 186.3h0.6M318.7 195.1h0.6M318.7 188.7h0.6M318.7 201.2h0.6M318.9 189.6h0.6M319 190.9h0.6M319.2 196.6h0.6M319.5 203.8h0.6M319.6 193h0.6M320 190.3h0.6M320 191.5h0.6M320.1 201.4h0.6M320.1 202.9h0.6M320.4 192h0.6M320.5 187.6h0.6M320.6 194.1h0.6M320.6 191.8h0.6M320.6 200.8h0.6M320.6 199.4h0.6M320.7 201.1h0.6M320.8 192.9h0.6M321 194.9h0.6M321.1 202.1h0.6M321.1 188.5h0.6M321.2 189.4h0.6M321.2 193.4h0.6M321.2 201.6h0.6M321.3 197.8h0.6M321.6 199.7h0.6M321.6 200.8h0.6M321.7 202.3h0.6M322.1 198.5h0.6M322.3 194h0.6M322.4 193.9h0.6M322.5 197.1h0.6M322.5 188.3h0.6M322.6 203.9h0.6M322.7 200.8h0.6M323.1 188.9h0.6M323.1 195h0.6M323.3 195h0.6M323.6 196.7h0.6M323.7 203.9h0.6M323.8 189.5h0.6M324.1 199.4h0.6M324.2 197.7h0.6M324.2 204.4h0.6M324.3 191h0.6M324.3 198.7h0.6M324.5 188.7h0.6M324.6 198.9h0.6M324.7 204.8h0.6M324.8 203.3h0.6M325.1 187.8h0.6M325.5 206.7h0.6M325.8 195.9h0.6M325.9 197.2h0.6M326.4 201.7h0.6M326.4 198.4h0.6M326.5 191.4h0.6M326.5 196h0.6M326.6 202.8h0.6M326.6 194.3h0.6M326.6 191.3h0.6M326.7 195.8h0.6M326.8 189.4h0.6M326.8 188.5h0.6M327 190.4h0.6M327 197.1h0.6M327.1 194.4h0.6M327.2 192.2h0.6M327.3 198.9h0.6M327.4 198.7h0.6M327.5 203.5h0.6M327.5 189.6h0.6M327.5 198.7h0.6M327.6 191h0.6M327.8 196.2h0.6M327.8 198.1h0.6M327.8 197.7h0.6M327.9 195.5h0.6M328 203.5h0.6M328.1 198.4h0.6M328.1 195.4h0.6M328.1 198.5h0.6M328.1 188.8h0.6M328.2 200.4h0.6M328.4 194.6h0.6M328.6 193.9h0.6M328.8 196.7h0.6M328.8 188.1h0.6M329.2 185.7h0.6M329.2 191h0.6M329.4 197.3h0.6M329.7 199.1h0.6M330.4 194.3h0.6M330.5 198.1h0.6M330.8 200.3h0.6M331.2 204.5h0.6M331.3 196.3h0.6M331.4 191.6h0.6M331.5 194.7h0.6M331.7 199.9h0.6M331.7 203h0.6M331.7 201.8h0.6M331.8 196.8h0.6M331.8 194h0.6M332.1 195h0.6M332.1 201.7h0.6M332.1 204.8h0.6M332.1 196.7h0.6M332.4 198.1h0.6M332.5 196.6h0.6M332.5 195.1h0.6M332.8 196.8h0.6M332.9 190.1h0.6M332.9 189.5h0.6M333.1 192.8h0.6M333.2 193.2h0.6M333.5 191.1h0.6M333.5 203.5h0.6M333.6 200.1h0.6M333.7 191.9h0.6M333.7 200.6h0.6M333.7 188h0.6M333.8 192.6h0.6M333.9 206.1h0.6M334.2 202.9h0.6M334.3 202.1h0.6M334.6 191.6h0.6M334.6 200.1h0.6M334.7 188.5h0.6M334.7 189.2h0.6M335 201h0.6M335.1 185.6h0.6M335.3 186.9h0.6M335.3 187.4h0.6M335.6 201.2h0.6M335.6 197.8h0.6M335.6 190.2h0.6M336 193.7h0.6M336.1 201.7h0.6M336.1 190.2h0.6M336.2 187.9h0.6M336.3 198.6h0.6M336.4 190.1h0.6M336.4 193.2h0.6M336.5 191.4h0.6M336.5 189.6h0.6M336.6 195.9h0.6M336.8 198.7h0.6M336.9 192.2h0.6M337.3 191.1h0.6M337.4 203.8h0.6M337.5 190.2h0.6M337.5 191.5h0.6M337.8 194.3h0.6M337.8 191.2h0.6M338 193.7h0.6M338 202.5h0.6M338.3 186h0.6M338.8 198.8h0.6M339.1 194.9h0.6M339.1 186.5h0.6M339.1 189.9h0.6M339.6 197.7h0.6M339.7 198.4h0.6M339.7 191.6h0.6M339.8 193.6h0.6M339.9 200.3h0.6M340.1 197.7h0.6M340.4 198.3h0.6M340.7 201.6h0.6M340.7 191h0.6M340.8 192h0.6M340.9 199h0.6M341.1 196.3h0.6M341.3 195.4h0.6M341.4 196.8h0.6M341.5 201.6h0.6M341.7 200.8h0.6M341.7 200h0.6M341.7 193.3h0.6M341.8 195.4h0.6M341.8 191.2h0.6M342 189.8h0.6M342.2 191.4h0.6M342.3 197.8h0.6M342.5 203.4h0.6M342.5 199.9h0.6M342.7 191.8h0.6M342.7 196h0.6M342.8 193.5h0.6M342.9 199.9h0.6M343 191.8h0.6M343.2 189.4h0.6M343.4 190.1h0.6M343.4 188.1h0.6M343.7 193h0.6M343.7 189.6h0.6M343.8 194.7h0.6M343.8 196.7h0.6M343.9 199.5h0.6M343.9 200.8h0.6M344 194.1h0.6M344 189.8h0.6M344.1 189.9h0.6M344.1 197.2h0.6M344.1 185.8h0.6M344.4 188.5h0.6M344.7 198.2h0.6M344.7 187.6h0.6M344.7 203.3h0.6M344.7 196.8h0.6M344.8 194.9h0.6M344.9 197.3h0.6M345.1 189h0.6M345.2 189.9h0.6M345.2 194.9h0.6M345.2 198.9h0.6M345.2 189h0.6M345.3 198.2h0.6M345.3 204.2h0.6M345.6 183.1h0.6M345.7 198.4h0.6M345.9 197.8h0.6M345.9 186.6h0.6M345.9 193.4h0.6M346 201.1h0.6M346.2 195.9h0.6M346.4 191.9h0.6M346.5 195.4h0.6M346.7 186.1h0.6M346.8 199.7h0.6M346.9 185.8h0.6M347.1 203.4h0.6M347.2 203.4h0.6M347.4 196.9h0.6M347.4 202.4h0.6M347.6 194.6h0.6M347.8 190.2h0.6M347.8 197.5h0.6M347.9 197h0.6M348 188.9h0.6M348.3 199.8h0.6M348.4 191.6h0.6M348.8 193.2h0.6M348.8 188.4h0.6M349 191.4h0.6M349 201.4h0.6M349.1 198.9h0.6M349.4 186.2h0.6M349.8 199.7h0.6M349.9 200.8h0.6M350.1 194.8h0.6M350.1 197.4h0.6M350.2 190.7h0.6M350.2 198.4h0.6M350.4 190.2h0.6M350.6 199.5h0.6M350.7 197.7h0.6M350.8 190h0.6M350.9 200h0.6M350.9 199.9h0.6M351 189.4h0.6M351 192.1h0.6M351.2 186.1h0.6M351.2 201.1h0.6M351.2 188.7h0.6M351.3 194.3h0.6M351.5 197.7h0.6M351.8 190.3h0.6M351.9 192.4h0.6M352.2 185.7h0.6M352.3 185.5h0.6M352.4 195.4h0.6M352.7 188.5h0.6M352.7 199.2h0.6M352.8 186.4h0.6M352.8 190.3h0.6M352.9 188.6h0.6M353 200.8h0.6M353.2 197.7h0.6M353.4 189.3h0.6M353.8 187.4h0.6M353.9 186.7h0.6M354.4 198.2h0.6M354.7 199.9h0.6M354.8 197.6h0.6M355 196.1h0.6M355 193.3h0.6M355 196h0.6M355.2 191.1h0.6M355.2 199h0.6M355.4 201.6h0.6M355.4 198.6h0.6M355.6 189.1h0.6M355.7 187.1h0.6M356.1 203.3h0.6M356.3 200.6h0.6M356.4 197.2h0.6M356.7 196.2h0.6M356.7 195.7h0.6M356.8 200.8h0.6M356.8 197.6h0.6M356.8 194h0.6M356.9 197.8h0.6M357.1 187.6h0.6M357.3 193.5h0.6M357.3 199.7h0.6M357.4 189.7h0.6M357.7 196.6h0.6M357.7 196.2h0.6M357.7 201.9h0.6M357.8 192.2h0.6M357.9 195.1h0.6M357.9 188.8h0.6M358.3 192.7h0.6M358.4 187.8h0.6M358.7 193.7h0.6M359.1 188.7h0.6M359.2 197.1h0.6M359.4 191.5h0.6M359.4 194h0.6M359.6 204.7h0.6M359.8 190.3h0.6M360 195.7h0.6M360 193.9h0.6M360 187.4h0.6M360.2 193.3h0.6M360.3 200.3h0.6M360.5 188.1h0.6M360.5 195.5h0.6M360.6 194.2h0.6M360.6 195.3h0.6M360.7 193.9h0.6M360.8 187h0.6M361.1 202.5h0.6M361.2 195.6h0.6M361.3 189h0.6M361.3 190.3h0.6M361.5 204.4h0.6M361.6 201.6h0.6M361.7 192.4h0.6M361.8 189.4h0.6M362 198.4h0.6M362.1 186.2h0.6M362.1 198.7h0.6M362.1 186.3h0.6M362.1 189h0.6M362.3 193.3h0.6M362.7 193.8h0.6M362.8 189.9h0.6M363.1 190.1h0.6M363.2 202.9h0.6M363.3 197.2h0.6M363.5 188.9h0.6M363.7 201h0.6M363.8 191.6h0.6M363.8 201.7h0.6M363.9 195h0.6M363.9 193h0.6M363.9 198.1h0.6M364 196.2h0.6M364.2 188.6h0.6M364.3 194h0.6M364.3 195h0.6M364.4 190.5h0.6M364.6 199.7h0.6M364.6 200h0.6M364.6 200.9h0.6M364.7 199.3h0.6M364.7 195.1h0.6M364.7 197.6h0.6M364.8 189.6h0.6M364.9 189.9h0.6M365 193.7h0.6M365 189.1h0.6M365.1 189.5h0.6M365.2 195.1h0.6M365.4 203.7h0.6M365.4 189.7h0.6M365.5 192.2h0.6M365.7 184.4h0.6M365.8 195.8h0.6M366.3 194.6h0.6M366.5 195.2h0.6M366.6 186.7h0.6M366.6 198.9h0.6M366.8 197.2h0.6M366.8 197.7h0.6M366.9 197.3h0.6M366.9 199.9h0.6M366.9 189.8h0.6M366.9 198.3h0.6M367 188.4h0.6M367.2 194.5h0.6M367.3 188.6h0.6M367.3 192h0.6M367.4 199.1h0.6M367.8 200.2h0.6M367.8 191.8h0.6M367.8 192.5h0.6M367.9 188.8h0.6M367.9 202.9h0.6M368 192.6h0.6M368 191h0.6M368.1 201.1h0.6M368.4 196.6h0.6M368.4 195.9h0.6M368.4 200.5h0.6M368.6 197.6h0.6M368.7 186.3h0.6M368.8 201.5h0.6M369.3 195.5h0.6M369.3 189.6h0.6M369.4 201.9h0.6M369.5 194.5h0.6M369.7 197.4h0.6M369.8 201.1h0.6M370.1 186.9h0.6M370.1 203.5h0.6M370.5 196.9h0.6M370.7 186.3h0.6M370.7 194.4h0.6M370.7 188.5h0.6M370.7 202.4h0.6M370.7 194.5h0.6M370.9 190.6h0.6M371.1 201.6h0.6M371.4 198.3h0.6M371.4 200.4h0.6M371.5 192.8h0.6M371.7 187.7h0.6M371.9 201.6h0.6M372.1 199.8h0.6M372.1 191.5h0.6M372.4 191.6h0.6M372.6 194.1h0.6M372.8 188.8h0.6M372.8 201.7h0.6M372.9 195.2h0.6M373 199h0.6M373.1 192.8h0.6M373.5 184.7h0.6M373.5 185.9h0.6M373.5 188.3h0.6M373.6 194.7h0.6M373.8 196.9h0.6M374.2 206.1h0.6M374.3 202.2h0.6M374.4 199.3h0.6M374.7 191.6h0.6M374.8 193.1h0.6M374.9 198.8h0.6M375 192.9h0.6M375.3 198.5h0.6M375.6 199.1h0.6M375.6 190.5h0.6M375.6 197.9h0.6M375.8 183.8h0.6M375.8 192.5h0.6M375.9 203.3h0.6M375.9 196.3h0.6M375.9 199.3h0.6M375.9 205.9h0.6M376.2 189.4h0.6M376.4 196.9h0.6M376.5 191.1h0.6M376.5 187.7h0.6M376.6 186.5h0.6M376.6 187.2h0.6M377 196.7h0.6M377.1 195.6h0.6M377.2 199.9h0.6M377.7 190.4h0.6M378 196.4h0.6M378.1 190.1h0.6M378.2 188.7h0.6M378.4 197.9h0.6M378.8 190.3h0.6M378.8 201.6h0.6M378.9 187.6h0.6M379 188.6h0.6M379.1 197.9h0.6M379.3 202.4h0.6M379.3 187.8h0.6M379.6 191.8h0.6M379.6 190.8h0.6M380.1 184.3h0.6M380.3 191.1h0.6M380.4 195.7h0.6M380.6 199.9h0.6M380.8 187h0.6M380.8 190.4h0.6M380.9 190.1h0.6M380.9 196.3h0.6M380.9 188.6h0.6M381.1 200.4h0.6M381.4 187.6h0.6M381.4 195.9h0.6M381.5 197.1h0.6M381.6 201h0.6M381.6 194.7h0.6M381.7 199.3h0.6M381.8 195h0.6M382 188.3h0.6M382.2 189.2h0.6M382.2 195.3h0.6M382.3 193.5h0.6M382.5 198.7h0.6M382.7 194h0.6M382.7 193.9h0.6M382.8 191.5h0.6M382.9 191.9h0.6M382.9 186.2h0.6M383.1 188.6h0.6M383.1 194.9h0.6M383.5 196.6h0.6M383.5 188.6h0.6M383.6 198.3h0.6M383.9 195.5h0.6M384 191.3h0.6M384.6 186.4h0.6M385 199.2h0.6M385 198.2h0.6M385.1 196.6h0.6M385.1 189h0.6M385.2 195.1h0.6M385.3 190.2h0.6M385.6 199.7h0.6M385.6 184.6h0.6M385.7 196h0.6M385.7 191h0.6M386 200h0.6M386.1 194.4h0.6M386.6 183.8h0.6M386.7 195h0.6M387 193.6h0.6M387.1 188.5h0.6M387.2 186.1h0.6M387.2 188.7h0.6M387.3 193.1h0.6M387.6 191.3h0.6M387.7 184.7h0.6M387.8 188.7h0.6M387.8 197.2h0.6M387.8 194.5h0.6M387.9 196.9h0.6M388 190.7h0.6M388.2 189.2h0.6M388.4 196.8h0.6M388.4 187.4h0.6M388.5 184h0.6M388.5 190.4h0.6M388.8 191.8h0.6M389.1 190.9h0.6M389.1 201.2h0.6M389.2 187.6h0.6M389.2 187.7h0.6M389.3 194.6h0.6M389.4 188.5h0.6M389.6 190.4h0.6M389.6 196.1h0.6M389.6 187.2h0.6M389.8 195.2h0.6M389.9 186.6h0.6M390 195.6h0.6M390.5 187.6h0.6M390.5 192.5h0.6M390.6 199.5h0.6M390.8 198.1h0.6M391.1 201.8h0.6M391.1 191.7h0.6M391.5 184.6h0.6M391.7 192.6h0.6M391.7 198.8h0.6M391.9 188.5h0.6M392.1 194h0.6M392.1 189.6h0.6M392.2 200.2h0.6M392.5 191.1h0.6M392.6 189.7h0.6M393 189h0.6M393 195.2h0.6M393.1 199.7h0.6M393.1 192.7h0.6M393.4 196.2h0.6M393.5 192.4h0.6M393.5 186.2h0.6M393.6 194h0.6M393.9 193.8h0.6M394.1 196.9h0.6M394.2 190.1h0.6M394.2 188.5h0.6M394.2 192.2h0.6M394.4 184.3h0.6M394.5 187.4h0.6M394.7 189.3h0.6M394.7 192.3h0.6M394.7 199.2h0.6M394.8 196.5h0.6M395 190.9h0.6M395.3 196h0.6M395.5 192.5h0.6M395.5 186h0.6M395.6 196.6h0.6M395.7 200.3h0.6M395.7 196.7h0.6M395.8 198.7h0.6M395.8 197.5h0.6M396 198.5h0.6M396.1 186.2h0.6M396.1 200.9h0.6M396.3 197h0.6M396.5 192.8h0.6M396.6 196h0.6M396.6 190.1h0.6M396.7 188h0.6M396.8 200.4h0.6M396.8 195.6h0.6M396.8 199.7h0.6M396.9 192h0.6M397 195.6h0.6M397 194.2h0.6M397.1 184.6h0.6M397.1 194h0.6M397.2 191.6h0.6M397.3 192h0.6M397.5 185.6h0.6M397.9 192.9h0.6M397.9 194.8h0.6M398.1 198.9h0.6M398.1 198.1h0.6M398.1 199.9h0.6M398.5 202h0.6M398.8 197.9h0.6M399 189.5h0.6M399 190.1h0.6M399.2 185.8h0.6M399.3 195h0.6M399.3 189.6h0.6M399.3 194h0.6M399.3 197.3h0.6M399.4 183.3h0.6M399.4 195.1h0.6M399.5 186.3h0.6M399.6 192h0.6M399.6 189h0.6M399.7 184.8h0.6M399.8 192.4h0.6M399.8 191.2h0.6M399.8 184.1h0.6M400 198.3h0.6M400 187h0.6M400 200.4h0.6M400.2 195.5h0.6M400.3 191.6h0.6M400.3 185.9h0.6M401.1 196.6h0.6M401.1 186.8h0.6M401.2 199h0.6M401.2 195h0.6M401.2 195.7h0.6M401.4 186.9h0.6M401.4 190h0.6M401.5 184.1h0.6M401.9 197.4h0.6M402.1 198h0.6M402.3 185h0.6M402.3 194.5h0.6M402.4 188.6h0.6M402.5 195h0.6M402.7 188.7h0.6M402.9 186.2h0.6M403 189.3h0.6M403.3 200.2h0.6M403.5 198.5h0.6M403.6 189.4h0.6M403.6 198.6h0.6M403.6 187.1h0.6M403.9 187h0.6M404.2 198.5h0.6M404.3 187.7h0.6M404.7 198.6h0.6M404.7 199.7h0.6M404.7 184.5h0.6M404.9 198.8h0.6M405 196.5h0.6M405.2 188.8h0.6M405.6 187.4h0.6M405.8 188.9h0.6M406.1 186.9h0.6M406.1 192.4h0.6M406.2 189.7h0.6M406.2 187.2h0.6M406.3 188h0.6M406.4 190.9h0.6M406.4 195.5h0.6M406.5 197.8h0.6M406.7 196.8h0.6M407 190.1h0.6M407 198h0.6M407.4 190.9h0.6M407.6 190.9h0.6M407.8 185.7h0.6M407.9 196.2h0.6M407.9 194.2h0.6M408 187.2h0.6M408 191.7h0.6M408.1 202.9h0.6M408.4 194.5h0.6M408.5 188.9h0.6M408.8 195h0.6M408.8 189.5h0.6M408.9 184.2h0.6M409 185h0.6M409.7 199h0.6M409.7 185.3h0.6M410 195h0.6M410.2 184.3h0.6M410.2 188.3h0.6M410.4 187h0.6M410.5 188.2h0.6M410.5 186.6h0.6M410.6 191.1h0.6M410.7 196.4h0.6M410.8 190.5h0.6M411.1 185.2h0.6M411.3 198.2h0.6M411.4 200h0.6M412.6 188.6h0.6M412.6 188.6h0.6M413 183.8h0.6M413 185h0.6M413.2 189.5h0.6M413.2 186.2h0.6M413.2 197h0.6M413.2 196.5h0.6M413.2 186.6h0.6M413.4 193h0.6M413.7 186.8h0.6M413.8 200.3h0.6M413.9 192.9h0.6M414 196.2h0.6M414.1 188.2h0.6M414.1 190.7h0.6M414.3 196.2h0.6M414.3 192h0.6M414.5 182.9h0.6M414.6 188.6h0.6M414.9 195.1h0.6M414.9 193h0.6M415.2 201.3h0.6M415.3 191.8h0.6M415.3 198.1h0.6M415.3 184.4h0.6M415.5 195.2h0.6M415.6 188.5h0.6M415.7 188.1h0.6M416.4 197.6h0.6M416.4 185.1h0.6M416.6 191.3h0.6M417 187.7h0.6M417 199.5h0.6M417.1 191.9h0.6M417.2 191.4h0.6M417.5 186.6h0.6M417.6 184.9h0.6M417.8 185h0.6M417.9 199.2h0.6M418.6 201h0.6M418.9 199.4h0.6M419.3 190h0.6M419.3 189.2h0.6M419.3 193h0.6M419.3 196.2h0.6M419.6 184.7h0.6M419.7 184.2h0.6M419.8 192.6h0.6M419.8 186h0.6M420.1 198h0.6M420.1 185.7h0.6M420.3 197.6h0.6M420.3 184.8h0.6M420.4 185.9h0.6M420.5 191.7h0.6M420.7 193.4h0.6M420.7 198.6h0.6M420.8 192.5h0.6M420.8 198.5h0.6M420.9 197.2h0.6M421 199.8h0.6M421.3 188.9h0.6M421.4 192.2h0.6M421.5 183.9h0.6M421.6 188.4h0.6M421.7 188.4h0.6M421.8 184.7h0.6M421.8 197.7h0.6M422.1 188.6h0.6M422.2 184.2h0.6M422.5 185h0.6M422.6 184.3h0.6M422.7 197.7h0.6M422.8 192.6h0.6M423.2 195.2h0.6M423.3 190.3h0.6M423.4 200.6h0.6M423.5 189.1h0.6M423.9 189.7h0.6M424 195h0.6M424.2 199.6h0.6M424.2 198.2h0.6M424.3 198.3h0.6M424.5 185.9h0.6M425 197.8h0.6M425.1 196.6h0.6M425.1 189.7h0.6M425.3 198.3h0.6M425.4 193.9h0.6M425.8 196.8h0.6M425.8 197.5h0.6M425.9 199.4h0.6M426.2 198.6h0.6M426.3 197.5h0.6M426.4 184h0.6M426.6 186.8h0.6M426.7 186.3h0.6M426.7 189.4h0.6M426.8 183.2h0.6M426.8 192.9h0.6M427.1 196.6h0.6M427.1 199.8h0.6M427.4 181.6h0.6M427.4 195.1h0.6M427.5 185.9h0.6M427.8 196.8h0.6M427.9 182.4h0.6M428 184.3h0.6M428 185.2h0.6M428.2 182.9h0.6M428.2 194.6h0.6M428.5 188.8h0.6M428.8 194.6h0.6M428.8 198.9h0.6M428.9 193.5h0.6M429.1 194.1h0.6M429.2 199.2h0.6M429.2 190.4h0.6M429.3 200.1h0.6M429.4 196.1h0.6M429.4 182h0.6M429.6 186.9h0.6M429.7 196.4h0.6M429.8 188h0.6M430.1 197.4h0.6M430.2 201.2h0.6M430.2 199.2h0.6M430.2 194.9h0.6M430.3 192.4h0.6M430.4 199.4h0.6M430.4 192.8h0.6M430.4 191.2h0.6M430.8 195.1h0.6M430.9 192.2h0.6M431.1 187.6h0.6M431.3 192h0.6M431.5 188.9h0.6M431.5 186.9h0.6M431.5 196.3h0.6M431.8 198.9h0.6M431.8 195.9h0.6M431.9 197.4h0.6M432.3 187.8h0.6M432.4 189.5h0.6M432.6 195.8h0.6M432.6 184.9h0.6M432.7 192.8h0.6M432.8 191.3h0.6M433 197.6h0.6M433 194.9h0.6M433 194.9h0.6M433.3 191h0.6M433.4 182.7h0.6M433.4 197.6h0.6M433.7 199.1h0.6M433.8 189.7h0.6M434.1 194.8h0.6M434.1 186.7h0.6M434.2 189.1h0.6M434.5 192.1h0.6M434.6 197.6h0.6M434.7 185.1h0.6M434.8 183.6h0.6M434.9 199.5h0.6M434.9 196.7h0.6M435 184.7h0.6M435 199.4h0.6M435.1 195.6h0.6M435.1 186.7h0.6M435.2 195.8h0.6M435.5 189h0.6M435.6 186.3h0.6M435.9 187.2h0.6M436.1 192.1h0.6M436.1 195.2h0.6M436.1 189.5h0.6M436.2 183.8h0.6M436.4 196.9h0.6M436.7 188.3h0.6M436.7 186.2h0.6M436.7 193.3h0.6M436.8 183.8h0.6M436.8 198h0.6M437.4 189.2h0.6M437.8 196.1h0.6M437.8 190.5h0.6M437.9 191.2h0.6M438.3 188.2h0.6M438.3 186.1h0.6M438.3 190.3h0.6M438.5 195h0.6M438.6 190.7h0.6M438.6 196.2h0.6M438.7 178.9h0.6M438.8 188.8h0.6M438.9 183.8h0.6M439 199h0.6M439 182h0.6M439 192.6h0.6M439.1 194.4h0.6M439.3 182.2h0.6M439.4 195.8h0.6M439.5 198.8h0.6M439.5 185.3h0.6M439.9 184.6h0.6M440.3 192h0.6M440.3 193.2h0.6M440.5 189.1h0.6M440.6 190.2h0.6M440.6 196.5h0.6M440.8 192.7h0.6M440.9 186.4h0.6M441 194.5h0.6M441.5 187.3h0.6M441.7 198.8h0.6M441.7 192.1h0.6M441.7 184h0.6M441.8 200.5h0.6M441.8 188.5h0.6M441.8 195.6h0.6M442.3 195h0.6M442.3 195.5h0.6M442.3 197.3h0.6M442.6 196.7h0.6M442.8 192.3h0.6M443.5 190.7h0.6M443.6 187.6h0.6M443.6 190.9h0.6M443.7 186.1h0.6M443.7 189.1h0.6M443.8 187.6h0.6M443.8 187.7h0.6M443.9 188.2h0.6M443.9 187h0.6M444.2 187.1h0.6M444.4 187.3h0.6M444.4 193.3h0.6M444.6 182h0.6M444.7 186.2h0.6M445 181.8h0.6M445.2 193.4h0.6M445.3 187h0.6M445.5 180.5h0.6M445.7 197.8h0.6M446 192.2h0.6M446.7 195.7h0.6M446.7 188.4h0.6M446.9 189.8h0.6M447 190.5h0.6M447.1 184.4h0.6M447.1 198.4h0.6M447.6 181.2h0.6M447.8 195.1h0.6M448 191.5h0.6M448 195.9h0.6M448.3 185.1h0.6M448.5 197.8h0.6M448.7 189.5h0.6M448.9 186.1h0.6M449 187.9h0.6M449.1 188.6h0.6M449.2 196.3h0.6M449.2 197.1h0.6M449.3 190.2h0.6M449.4 191.5h0.6M449.4 192.6h0.6M449.6 187.1h0.6M450 190h0.6M450.1 190.8h0.6M450.3 186.3h0.6M450.5 192.5h0.6M450.6 185.6h0.6M451 188.2h0.6M451.2 186.2h0.6M451.6 196.9h0.6M452 184.6h0.6M452.1 191.8h0.6M452.3 192.1h0.6M452.6 186.3h0.6M452.9 197.1h0.6M453.1 183.2h0.6M453.2 182.5h0.6M453.3 188.2h0.6M453.7 193.2h0.6M453.8 191.2h0.6M453.8 193.4h0.6M453.9 195.3h0.6M453.9 182.9h0.6M453.9 190.8h0.6M454 186.7h0.6M454.1 193.1h0.6M454.1 191.8h0.6M454.1 187.8h0.6M454.3 181.6h0.6M454.4 187h0.6M454.4 188.1h0.6M454.5 186.3h0.6M454.6 184.7h0.6M454.6 192h0.6M454.6 188.7h0.6M454.6 195h0.6M455.4 186.1h0.6M455.6 190.2h0.6M455.7 189h0.6M455.7 196.8h0.6M455.7 192.4h0.6M455.8 198.7h0.6M455.9 181.6h0.6M456 196.1h0.6M456 187.7h0.6M456 196.6h0.6M456.2 181.1h0.6M456.4 196.1h0.6M456.6 194.1h0.6M456.6 190.7h0.6M456.7 190.3h0.6M456.9 187.9h0.6M457 187.5h0.6M457.1 185.1h0.6M457.3 191.9h0.6M457.4 189.4h0.6M457.5 184.2h0.6M457.7 184h0.6M457.7 184.9h0.6M457.8 184.1h0.6M457.9 190.8h0.6M457.9 194.5h0.6M457.9 191.1h0.6M458 190.6h0.6M458.3 184.5h0.6M458.3 189.6h0.6M458.5 194.4h0.6M458.9 198.7h0.6M459.2 193.1h0.6M459.3 191.2h0.6M459.4 196.2h0.6M459.4 183.2h0.6M459.5 192.2h0.6M459.6 194.3h0.6M459.6 195.2h0.6M459.7 189h0.6M459.8 183.1h0.6M460.1 186.2h0.6M460.1 193.8h0.6M460.2 188.5h0.6M460.3 198.2h0.6M460.3 183.9h0.6M460.4 194.1h0.6M460.5 185.5h0.6M460.7 187.7h0.6M460.8 185.8h0.6M460.8 190.9h0.6M460.9 184.7h0.6M460.9 186.9h0.6M461.1 183.9h0.6M461.2 197.9h0.6M461.3 187.3h0.6M461.3 192.7h0.6M461.3 193.4h0.6M461.4 188.7h0.6M461.5 197.5h0.6M461.7 187.4h0.6M461.8 187h0.6M462.2 183.3h0.6M462.3 185.8h0.6M462.3 184.7h0.6M462.3 191.9h0.6M462.6 191.9h0.6M463.3 181.5h0.6M463.6 196.3h0.6M463.9 188.8h0.6M464 191.9h0.6M464.1 195.4h0.6M464.2 191.6h0.6M464.3 187.4h0.6M464.7 192.4h0.6M464.9 198.8h0.6M465.3 182.4h0.6M465.7 190.6h0.6M465.8 183.3h0.6M465.8 196.5h0.6M465.9 183.3h0.6M466.2 197.2h0.6M466.3 188.4h0.6M466.6 192.6h0.6M466.7 192.3h0.6M466.9 197.6h0.6M467.3 182.1h0.6M467.4 189.3h0.6M467.5 183.6h0.6M467.5 184.3h0.6M467.8 185.2h0.6M467.8 182.9h0.6M468 196.7h0.6M468 193.7h0.6M468.3 188.2h0.6M468.4 190.1h0.6M468.4 182.7h0.6M468.7 184.5h0.6M468.7 193.4h0.6M468.8 192h0.6M468.9 191.8h0.6M468.9 196.9h0.6M469.1 196.6h0.6M469.2 195.3h0.6M469.3 189.1h0.6M469.4 193h0.6M469.4 185.4h0.6M469.4 195.8h0.6M469.5 184.7h0.6M469.9 196.8h0.6M470.1 181.4h0.6M470.1 195.7h0.6M470.4 191.5h0.6M470.4 195.3h0.6M470.4 189.6h0.6M470.5 195.2h0.6M470.6 196.3h0.6M471.3 193.5h0.6M471.3 195.7h0.6M471.4 183.3h0.6M471.4 196h0.6M471.5 189.5h0.6M471.5 190.5h0.6M471.6 192.6h0.6M471.7 185.8h0.6M471.7 189.2h0.6M471.8 200.1h0.6M471.9 191.2h0.6M472.6 195.3h0.6M472.9 180h0.6M473.1 189.6h0.6M473.2 189.9h0.6M473.2 186.5h0.6M473.4 182.4h0.6M473.6 193h0.6M473.8 195.2h0.6M473.9 187.8h0.6M474.1 182.3h0.6M474.2 198.3h0.6M474.3 195.6h0.6M474.5 195.5h0.6M474.6 198.1h0.6M474.6 188h0.6M474.9 190.8h0.6M475 189.8h0.6M475.4 187.4h0.6M475.4 186.1h0.6M475.7 195.8h0.6M475.8 200.6h0.6M475.9 187.4h0.6M476 188.5h0.6M476.1 189.4h0.6M476.3 193.8h0.6M476.4 188.3h0.6M476.4 191.9h0.6M476.5 194.6h0.6M476.6 194h0.6M477 184h0.6M477 194h0.6M477.2 188.1h0.6M477.4 197.7h0.6M477.4 191.9h0.6M477.5 196.5h0.6M477.8 196.1h0.6M478.1 186.4h0.6M478.6 181.1h0.6M478.7 197.1h0.6M478.8 182h0.6M478.9 199.9h0.6M479.2 191.7h0.6M479.6 187.7h0.6M479.7 191.8h0.6M479.8 185.1h0.6M480 190.9h0.6M480.1 196.9h0.6M480.3 178.4h0.6M480.4 195.7h0.6M480.6 186.4h0.6M480.7 187.2h0.6M480.8 193.3h0.6M481.2 194.7h0.6M481.3 185.5h0.6M481.9 199.9h0.6M482 180.7h0.6M482 195.1h0.6M482.4 189.9h0.6M482.6 195.8h0.6M482.6 179.8h0.6M482.6 185.4h0.6M482.6 188.9h0.6M482.7 178.3h0.6M482.7 192.6h0.6M482.8 192.4h0.6M482.9 194.8h0.6M483.3 178h0.6M483.3 189.2h0.6M483.4 197.6h0.6M483.4 181.7h0.6M483.6 192.2h0.6M483.7 184.1h0.6M483.7 195.3h0.6M484 192h0.6M484 194h0.6M484.5 181.4h0.6M484.6 190.9h0.6M484.7 186.3h0.6M484.7 181.8h0.6M484.8 186.8h0.6M484.9 191.1h0.6M484.9 193.3h0.6M485.1 188.7h0.6M485.1 187h0.6M485.1 189.8h0.6M485.2 183.6h0.6M485.4 195h0.6M485.5 195.7h0.6M485.6 188h0.6M485.6 186.3h0.6M485.7 184.7h0.6M485.8 186.8h0.6M485.9 179.8h0.6M486.2 194.9h0.6M486.2 186.4h0.6M486.5 181.9h0.6M486.7 184.6h0.6M486.9 196.6h0.6M487 182.3h0.6M487.2 183.6h0.6M487.4 194.5h0.6M487.4 195h0.6M487.8 182.9h0.6M487.9 179.2h0.6M488 185.5h0.6M488.1 187.3h0.6M488.2 191.3h0.6M488.3 187.6h0.6M488.4 192.2h0.6M488.7 197.9h0.6M488.8 194.7h0.6M488.8 186.3h0.6M488.8 185.5h0.6M489.4 187.8h0.6M489.5 190.6h0.6M489.5 192.1h0.6M489.6 191.2h0.6M489.6 182.5h0.6M489.7 191.4h0.6M490.2 184.1h0.6M490.4 193.5h0.6M490.4 175.9h0.6M490.5 194.2h0.6M490.5 191.6h0.6M490.5 183.6h0.6M490.5 182.9h0.6M490.6 181.8h0.6M491 186.1h0.6M491.1 196h0.6M491.1 194.7h0.6M491.2 188.5h0.6M491.2 180h0.6M491.2 195.3h0.6M491.5 194.7h0.6M491.6 178h0.6M491.6 189.2h0.6M491.7 191.9h0.6M491.8 192.5h0.6M492 191h0.6M492.1 178.4h0.6M492.7 186.5h0.6M492.9 184.5h0.6M493.4 188h0.6M493.5 180.5h0.6M493.9 184.9h0.6M494 184.7h0.6M494 179.2h0.6M494.1 187.9h0.6M494.2 182h0.6M494.5 189.1h0.6M494.6 183h0.6M495 192.8h0.6M495 179.4h0.6M495.1 191.5h0.6M495.2 189.6h0.6M495.2 175.9h0.6M495.2 186.9h0.6M496.2 185.5h0.6M496.4 186.4h0.6M496.5 189.8h0.6M496.6 179.5h0.6M496.8 182.3h0.6M496.8 188.6h0.6M496.9 180.9h0.6M497.1 193.3h0.6M497.4 185.3h0.6M497.5 177.3h0.6M497.6 191.6h0.6M497.6 181.1h0.6M498 196.2h0.6M498.1 196.6h0.6M498.3 195.2h0.6M498.3 193.2h0.6M498.5 179.4h0.6M498.5 178.6h0.6M498.7 186.3h0.6M498.9 184.9h0.6M498.9 185h0.6M499.2 184.8h0.6M499.2 190.6h0.6M499.3 190.8h0.6M499.3 193.6h0.6M499.5 192.3h0.6M499.7 191.3h0.6M499.8 178.3h0.6M500.2 180.4h0.6M500.2 184.9h0.6M500.2 193.4h0.6M500.2 185.7h0.6M500.3 180.8h0.6M500.4 179.8h0.6M500.7 184.3h0.6M500.8 195.8h0.6M501.1 182.9h0.6M501.8 192.7h0.6M501.8 196.1h0.6M501.8 191.4h0.6M502.4 192.6h0.6M502.4 182.4h0.6M502.7 183.5h0.6M503 181.2h0.6M503.1 179.6h0.6M503.1 194.9h0.6M503.4 181.2h0.6M503.5 190.2h0.6M503.6 184.6h0.6M503.6 189.4h0.6M503.8 187.6h0.6M504 188.3h0.6M504 183.6h0.6M504.2 184.5h0.6M504.2 182.7h0.6M504.4 182.8h0.6M504.4 194.1h0.6M504.7 195.4h0.6M504.8 177.1h0.6M504.9 194.9h0.6M505 189.6h0.6M505 178.4h0.6M505.1 182h0.6M505.2 192.1h0.6M505.4 182.5h0.6M505.5 193.3h0.6M505.6 188.1h0.6M505.6 196.4h0.6M505.6 187h0.6M505.7 182.3h0.6M505.9 190.1h0.6M506.1 184.6h0.6M506.2 181.2h0.6M506.3 193.2h0.6M506.5 193.7h0.6M506.5 196.4h0.6M506.7 192h0.6M506.8 189.5h0.6M506.8 179.3h0.6M506.9 195.2h0.6M506.9 190.5h0.6M507 189.2h0.6M507.1 190.6h0.6M507.2 191.9h0.6M507.2 186.9h0.6M507.3 180.8h0.6M507.6 194.9h0.6M507.9 180.2h0.6M507.9 184.2h0.6M507.9 188.5h0.6M508 180.1h0.6M508.3 183.4h0.6M508.4 193h0.6M508.6 185.1h0.6M508.6 185.6h0.6M508.7 180.3h0.6M508.8 184.8h0.6M508.8 183.3h0.6M508.9 187.7h0.6M509 182.7h0.6M509.3 185.8h0.6M509.4 188.2h0.6M509.4 189.9h0.6M509.7 186.5h0.6M509.9 192.9h0.6M510 183.5h0.6M510.1 180.1h0.6M510.4 184h0.6M510.6 193.8h0.6M510.6 182.7h0.6M511.5 192.4h0.6M511.6 188.3h0.6M511.8 183.1h0.6M511.9 181.6h0.6M512 178.5h0.6M512 185.6h0.6M512.4 188.2h0.6M512.4 181.4h0.6M512.4 195.6h0.6M512.5 175.1h0.6M512.7 191.8h0.6M512.7 181.8h0.6M513.2 193.4h0.6M513.4 181.2h0.6M514.2 194.6h0.6M514.3 182.3h0.6M514.4 183.4h0.6M514.5 179.3h0.6M514.6 180.3h0.6M514.6 185.2h0.6M514.7 194.6h0.6M514.9 192.8h0.6M515 175.9h0.6M515.6 188h0.6M515.9 177.4h0.6M516 177h0.6M516.3 187.7h0.6M516.3 182.9h0.6M516.4 192.5h0.6M516.4 195.6h0.6M516.5 176.1h0.6M516.5 189.4h0.6M516.6 190h0.6M516.6 190.3h0.6M516.8 186.1h0.6M517 187.8h0.6M517 187.7h0.6M517 183.8h0.6M517.1 185.5h0.6M517.2 192.4h0.6M517.5 186h0.6M517.5 183.6h0.6M517.7 186.3h0.6M517.9 193.3h0.6M517.9 179.1h0.6M517.9 187.5h0.6M518.6 190.9h0.6M518.6 188.7h0.6M518.9 195.6h0.6M518.9 187h0.6M519.3 180h0.6M519.4 183h0.6M520.1 178.9h0.6M520.2 187.3h0.6M520.3 184.4h0.6M520.4 183.7h0.6M520.6 192.3h0.6M521 194.9h0.6M521.2 193h0.6M521.4 191.6h0.6M521.5 193.4h0.6M521.6 194.4h0.6M521.7 185.3h0.6M521.9 190.4h0.6M522 179.8h0.6M522.1 184.3h0.6M522.5 192.5h0.6M522.5 183.5h0.6M522.9 197.3h0.6M523.1 197.9h0.6M523.4 177.8h0.6M523.5 190.7h0.6M523.6 194.1h0.6M523.7 189.7h0.6M523.9 188.4h0.6M524 190.4h0.6M524.2 187.1h0.6M524.2 189.1h0.6M524.4 189.6h0.6M524.6 194.6h0.6M524.6 179.8h0.6M524.7 181.3h0.6M524.7 181.1h0.6M524.8 180.8h0.6M525 184.3h0.6M525 192.5h0.6M525 181.1h0.6M525 188.1h0.6M525.1 184.1h0.6M525.1 196.9h0.6M525.3 184.1h0.6M525.4 187.7h0.6M525.5 187.9h0.6M525.9 183.9h0.6M525.9 180.6h0.6M526.1 184.4h0.6M526.2 183.7h0.6M526.5 178.7h0.6M526.5 192.5h0.6M526.7 185.8h0.6M526.9 179.7h0.6M526.9 190.8h0.6M527.2 185.9h0.6M527.4 192.6h0.6M527.6 185.8h0.6M527.7 181.2h0.6M528 188.5h0.6M528.1 184h0.6M528.4 191.5h0.6M528.5 187h0.6M528.8 180.5h0.6M528.9 183.3h0.6M529 183h0.6M529 182.2h0.6M529.1 187.1h0.6M529.1 185.2h0.6M529.2 196.8h0.6M529.2 183.5h0.6M530 194.8h0.6M530.1 182.5h0.6M530.2 184.3h0.6M530.8 198.3h0.6M530.9 190.5h0.6M531 192.3h0.6M531 190h0.6M531.1 182h0.6M531.3 191.7h0.6M531.3 192.2h0.6M531.5 180.3h0.6M531.6 182.6h0.6M531.7 192.6h0.6M531.7 189.2h0.6M531.9 192.5h0.6M532.1 182.3h0.6M532.2 195.2h0.6M532.4 184.9h0.6M532.5 180.2h0.6M532.7 181.5h0.6M532.7 185.6h0.6M533.3 179.6h0.6M533.3 194.4h0.6M533.6 196.8h0.6M533.6 182.3h0.6M533.7 189h0.6M533.9 191.8h0.6M533.9 186.7h0.6M534 187.9h0.6M534.1 183.3h0.6M534.1 188.1h0.6M534.6 182.1h0.6M535 193.3h0.6M535.1 182.1h0.6M535.1 181.9h0.6M535.5 190.6h0.6M535.5 181.3h0.6M535.6 191.4h0.6M535.8 189.7h0.6M536 183.2h0.6M536.2 196.9h0.6M536.2 188.3h0.6M536.4 181.9h0.6M536.5 178.4h0.6M536.6 192.4h0.6M536.7 181.4h0.6M536.7 191.9h0.6M536.8 184.6h0.6M536.9 194.2h0.6M536.9 179.9h0.6M537 193.4h0.6M537.1 194.7h0.6M537.2 188.1h0.6M537.7 181.7h0.6M537.7 195.3h0.6M538.1 190.6h0.6M538.1 181.2h0.6M538.1 194.9h0.6M538.6 179.7h0.6M538.7 180.1h0.6M538.9 179.6h0.6M539 189.7h0.6M539 184.3h0.6M539 179.5h0.6M539.6 184.3h0.6M539.7 192.3h0.6M539.8 180.3h0.6M539.9 190h0.6M539.9 181h0.6M540.2 186.3h0.6M540.5 182.4h0.6M540.5 182.8h0.6M540.6 176.3h0.6M540.7 187.7h0.6M540.7 185.3h0.6M540.8 187.8h0.6M540.9 181.5h0.6M540.9 193.9h0.6M541.4 179.4h0.6M541.4 180.5h0.6M541.4 189.5h0.6M541.6 182.9h0.6M542 182.8h0.6M542.2 187.8h0.6M542.3 189.7h0.6M542.6 192h0.6M542.7 180.4h0.6M543.2 189.1h0.6M543.2 176.9h0.6M543.4 193.4h0.6M544 186.3h0.6M544 192.1h0.6M544 182.2h0.6M544.1 187.5h0.6M544.1 188.2h0.6M544.1 178.3h0.6M544.2 196.8h0.6M544.3 191.7h0.6M544.4 192h0.6M544.5 176.8h0.6M544.6 190h0.6M544.8 189h0.6M544.8 181.6h0.6M545 181.7h0.6M545.2 194.7h0.6M545.4 185.6h0.6M545.4 184.8h0.6M545.6 182h0.6M545.6 194.4h0.6M545.8 180.7h0.6M546.1 180.6h0.6M546.1 192.3h0.6M546.5 195h0.6M546.6 191.9h0.6M546.8 193.8h0.6M547.1 184.4h0.6M547.1 186.3h0.6M547.1 183.5h0.6M547.5 184.9h0.6M547.6 183.4h0.6M547.6 192h0.6M547.8 182.9h0.6M547.9 184.2h0.6M548.1 188h0.6M548.5 196.5h0.6M548.6 186.9h0.6M548.8 190.9h0.6M548.8 183.9h0.6M548.8 190.5h0.6M549 186.2h0.6M549 179.5h0.6M549.1 191.7h0.6M549.3 189.1h0.6M549.4 186.7h0.6M549.8 183.1h0.6M550 177.5h0.6M550.7 191.4h0.6M550.7 187.3h0.6M550.7 192.6h0.6M550.8 189.4h0.6M550.8 185.4h0.6M551 187.3h0.6M551 189.7h0.6M551.1 193.3h0.6M551.2 186.3h0.6M551.2 180h0.6M551.4 180.7h0.6M551.9 184.1h0.6M552 189.7h0.6M552.5 189.5h0.6M552.5 193.7h0.6M552.8 191.7h0.6M552.8 180h0.6M552.8 183.9h0.6M553.1 184.4h0.6M553.3 180.7h0.6M553.6 188.9h0.6M553.7 191.1h0.6M553.8 182h0.6M553.8 189.9h0.6M553.9 181.1h0.6M554 191.6h0.6M554.6 188.4h0.6M555 180.5h0.6M555 188h0.6M555.1 180.8h0.6M555.1 182.2h0.6M555.2 187.4h0.6M555.4 186.2h0.6M555.6 196h0.6M555.6 192.9h0.6M556 193.8h0.6M556 185.2h0.6M556.3 193.2h0.6M556.4 183.8h0.6M556.5 193.7h0.6M556.7 186.1h0.6M557.4 193h0.6M557.5 180.5h0.6M558.2 188.5h0.6M558.2 181.2h0.6M558.3 182.7h0.6M558.4 188.5h0.6M558.5 180.9h0.6M558.7 188.4h0.6M558.7 190.6h0.6M558.9 184.3h0.6M558.9 186.9h0.6M559 184.2h0.6M559.1 178.6h0.6M559.2 189.6h0.6M559.4 190.1h0.6M559.4 191.8h0.6M559.4 193.5h0.6M559.7 185.5h0.6M560.2 190.6h0.6M560.3 186h0.6M560.3 180.1h0.6M560.3 189.6h0.6M560.4 182h0.6M560.5 185.7h0.6M560.7 188.4h0.6M560.8 188.7h0.6M561.1 185h0.6M561.9 193.2h0.6M561.9 179.7h0.6M562.1 192.2h0.6M562.3 185.4h0.6M562.3 195.2h0.6M562.5 194.5h0.6M562.7 192.7h0.6M562.9 196.3h0.6M563 191h0.6M563 193h0.6M563.1 191.3h0.6M563.3 196.1h0.6M563.3 181.9h0.6M563.3 191.4h0.6M563.5 181.4h0.6M564 186.8h0.6M564.2 186.5h0.6M564.5 188.2h0.6M564.5 189.2h0.6M564.7 195h0.6M564.8 192.3h0.6M564.8 183.6h0.6M565.1 179.5h0.6M565.1 184.1h0.6M565.2 189.8h0.6M565.3 186.5h0.6M565.3 198h0.6M565.5 183.6h0.6M565.7 192.6h0.6M565.7 191.1h0.6M565.8 191.9h0.6M565.8 190.1h0.6M566 195.4h0.6M566.1 184.9h0.6M566.1 196h0.6M566.1 192.1h0.6M566.2 190.8h0.6M567 187.1h0.6M567.4 183.1h0.6M567.5 185.4h0.6M567.6 185.8h0.6M567.6 185.9h0.6M567.6 179.7h0.6M567.9 196.5h0.6M568 189.8h0.6M568 183.1h0.6M568.1 187.7h0.6M568.1 187.8h0.6M568.2 195.1h0.6M568.5 187.3h0.6M568.6 190.5h0.6M568.7 190.5h0.6M569 182.9h0.6M569.2 188.2h0.6M569.2 192.5h0.6M569.3 193.9h0.6M569.4 195.1h0.6M569.5 182.1h0.6M569.8 192.3h0.6M570.1 183h0.6M570.9 193.3h0.6M570.9 188.3h0.6M571 182.6h0.6M571.1 186.5h0.6M571.2 187.3h0.6M571.3 196.7h0.6M571.3 187.9h0.6M571.6 179.8h0.6M571.9 189.8h0.6M572 178.7h0.6M572.1 182.3h0.6M572.3 187.8h0.6M572.4 184.4h0.6M572.4 180.6h0.6M572.6 185h0.6M572.9 181.8h0.6M572.9 182h0.6M573.3 184.1h0.6M573.3 181.8h0.6M573.7 183h0.6M574.1 184h0.6M574.2 193.5h0.6M574.2 192.2h0.6M574.3 193.8h0.6M574.3 183.5h0.6M574.5 195.3h0.6M574.5 190.9h0.6M574.6 194.8h0.6M574.6 190.8h0.6M574.7 185.1h0.6M574.8 186h0.6M575.1 186.2h0.6M575.1 178.5h0.6M575.4 188.7h0.6M575.6 183.1h0.6M575.9 196.6h0.6M576.1 191.3h0.6M576.3 193h0.6M576.4 179.3h0.6M576.4 190.2h0.6M576.5 192.2h0.6M576.6 187.8h0.6M576.6 183.3h0.6M577 187.5h0.6M577.1 188h0.6M577.1 186h0.6M577.3 183.1h0.6M577.5 186.8h0.6M577.5 194.7h0.6M577.9 184.3h0.6M578.1 191.9h0.6M578.1 183.1h0.6M578.1 188.4h0.6M578.5 186.4h0.6M578.7 188.1h0.6M578.8 185.4h0.6M578.9 182.2h0.6M579.1 183.3h0.6M579.2 195.4h0.6M579.6 184.1h0.6M579.6 192.7h0.6M579.9 188h0.6M580 196.6h0.6M580 187.9h0.6M580.3 195.4h0.6M580.6 187.5h0.6M580.6 184.5h0.6M580.8 184.9h0.6M581 179h0.6M581.5 182.1h0.6M581.5 190.9h0.6M581.7 183.8h0.6M581.7 191.9h0.6M581.7 184.5h0.6M581.8 195.2h0.6M582 181.9h0.6M582.1 183.8h0.6M582.2 186.4h0.6M582.4 183.7h0.6M582.4 188.8h0.6M582.7 192h0.6M583.5 179h0.6M583.8 183.1h0.6M583.9 178.5h0.6M584 191.5h0.6M584.1 183.3h0.6M584.1 190.6h0.6M584.7 194.7h0.6M584.7 184.8h0.6M585 179.6h0.6M585 182h0.6M585.1 195.5h0.6M585.3 181.1h0.6M585.3 192.6h0.6M585.4 180.5h0.6M585.6 184.6h0.6M585.6 193.8h0.6M585.6 190h0.6M585.6 185h0.6M585.9 193.1h0.6M586 182.3h0.6M586.5 194.1h0.6M586.5 186h0.6M586.9 191.8h0.6M587 185.6h0.6M587.4 184.6h0.6M587.4 193.1h0.6M587.7 189.1h0.6M587.8 178.7h0.6M588 189.6h0.6M588 184.4h0.6M588.1 189.2h0.6M588.1 192.8h0.6M588.5 191.2h0.6M588.7 194.7h0.6M588.8 183.4h0.6M589.1 182h0.6M589.1 179.3h0.6M589.3 177.4h0.6M589.4 181.3h0.6M589.6 179.7h0.6M589.7 183.1h0.6M590 186.4h0.6M590.1 192.6h0.6M590.3 191.5h0.6M590.3 188.3h0.6M590.3 193.4h0.6M590.4 187.2h0.6M590.4 186h0.6M590.5 185.8h0.6M590.6 179.6h0.6M590.7 176.4h0.6M590.8 192.1h0.6M590.8 180.2h0.6M591 192.5h0.6M591.5 187.1h0.6M591.8 181.7h0.6M592 194.2h0.6M592.1 188.5h0.6M592.2 193h0.6M592.4 186.7h0.6M592.5 193.8h0.6M592.8 182.5h0.6M592.8 180.9h0.6M593.1 187.2h0.6M593.1 186.4h0.6M593.2 191h0.6M593.3 189.8h0.6M593.5 193.7h0.6M594.1 186.1h0.6M594.1 184.4h0.6M594.5 183.3h0.6M594.6 193.7h0.6M594.6 183.2h0.6M594.8 177h0.6M594.9 183.7h0.6M595.4 189.4h0.6M595.4 188.6h0.6M595.5 190.3h0.6M595.5 187h0.6M595.6 189.3h0.6M595.6 185.6h0.6M595.7 189.7h0.6M595.7 189.2h0.6M595.8 192.4h0.6M596.1 193.9h0.6M596.2 172.6h0.6M596.8 179.3h0.6M597 196.4h0.6M597.1 191.3h0.6M597.3 179.1h0.6M597.4 191.4h0.6M597.6 179.8h0.6M597.6 184.5h0.6M597.8 183.5h0.6M597.9 179.7h0.6M598 181.8h0.6M598.1 179.2h0.6M598.2 186.8h0.6M598.3 180.1h0.6M598.3 187h0.6M598.3 183h0.6M598.6 188.4h0.6M598.8 193.5h0.6M599 192.3h0.6M599.2 190.9h0.6M599.2 192.5h0.6M599.3 176.1h0.6M599.9 194.8h0.6M600.2 189h0.6M600.2 185.1h0.6M600.3 192.6h0.6M600.4 180.1h0.6M600.7 190.2h0.6M600.9 181.6h0.6M601.1 195.2h0.6M601.1 187.1h0.6M601.4 182.3h0.6M601.4 192.7h0.6M601.5 186.7h0.6M601.6 187.6h0.6M601.6 192.7h0.6M601.6 188.7h0.6M601.7 187.1h0.6M601.8 184.1h0.6M602.1 177.1h0.6M602.3 190.1h0.6M602.5 180.8h0.6M602.9 185.1h0.6M603 194.2h0.6M603.1 193.6h0.6M603.2 192.4h0.6M603.3 183.7h0.6M603.7 192.7h0.6M603.8 179.1h0.6M603.9 192.7h0.6M604.3 193h0.6M604.3 194.3h0.6M604.5 198.4h0.6M604.6 182.2h0.6M604.6 182.7h0.6M604.7 193.3h0.6M605.8 184.4h0.6M605.9 186.6h0.6M605.9 187.9h0.6M606.1 179.4h0.6M606.2 187.8h0.6M606.3 183.7h0.6M606.5 181.9h0.6M606.6 194.8h0.6M606.8 194.5h0.6M606.8 193.2h0.6M607.1 190h0.6M607.2 191.6h0.6M607.3 185.9h0.6M607.7 193.2h0.6M607.9 179h0.6M608.6 182h0.6M608.8 179.6h0.6M608.8 185.7h0.6M608.8 178.7h0.6M608.8 190.7h0.6M609 183h0.6M609.1 190.6h0.6M609.5 189.2h0.6M609.5 187.8h0.6M609.6 191.2h0.6M610.1 192.3h0.6M610.2 185.6h0.6M610.3 187.9h0.6M610.5 178.1h0.6M610.7 187.2h0.6M610.7 179.5h0.6M610.7 190.7h0.6M610.8 195h0.6M610.8 178.8h0.6M610.9 179.4h0.6M611.1 184.8h0.6M611.2 188.3h0.6M611.4 186.8h0.6M611.7 183.8h0.6M611.8 189.9h0.6M611.9 186.8h0.6M612.1 181.6h0.6M612.2 179.3h0.6M612.3 187.5h0.6M612.3 178.2h0.6M612.6 195.1h0.6M612.8 188.2h0.6M612.9 182.8h0.6M613.5 187.6h0.6M613.5 194.6h0.6M613.5 180.2h0.6M613.5 184.6h0.6M614 191.2h0.6M614 192.5h0.6M614.4 186.7h0.6M614.6 183.4h0.6M614.7 191.5h0.6M615 182.5h0.6M615 181.6h0.6M615.2 190h0.6M615.3 188.5h0.6M615.6 189.5h0.6M615.8 187.8h0.6M616 191.1h0.6M616.1 181.7h0.6M616.3 187h0.6M616.8 192.1h0.6M616.9 181.5h0.6M616.9 190.9h0.6M617 187.6h0.6M617.1 186.9h0.6M617.3 191.9h0.6M617.4 179.1h0.6M617.6 189.4h0.6M617.8 183.3h0.6M617.9 180.4h0.6M618.1 179.7h0.6M618.4 181.5h0.6M618.6 180.4h0.6M618.6 178.1h0.6M618.7 191.8h0.6M619 194.5h0.6M619 194.6h0.6M619.1 187.1h0.6M619.1 186.3h0.6M619.3 176.4h0.6M619.6 179.9h0.6M619.6 189.1h0.6M619.7 184.8h0.6M619.9 187.6h0.6M619.9 186.7h0.6M620.3 189.4h0.6M620.5 189.9h0.6M620.7 178.5h0.6M620.8 185.1h0.6M621.1 190.6h0.6M621.1 191.2h0.6M621.2 192.3h0.6M621.2 183.9h0.6M621.4 186h0.6M621.6 177.2h0.6M621.6 185.2h0.6M622.1 187.9h0.6M622.4 192.4h0.6M622.5 190.6h0.6M622.6 178h0.6M622.7 182.4h0.6M622.8 181.9h0.6M622.8 189.3h0.6M622.8 178.2h0.6M623 190.3h0.6M623.3 184.6h0.6M623.5 192.2h0.6M623.5 183.9h0.6M623.8 182.3h0.6M623.9 176.5h0.6M624.1 183.1h0.6M624.4 190h0.6M624.5 183.7h0.6M624.6 184.7h0.6M624.7 191.7h0.6M624.8 188.8h0.6M625.2 183.9h0.6M625.3 195.7h0.6M625.3 185.7h0.6M625.8 181h0.6M626 181.4h0.6M626.2 186.9h0.6M626.2 185h0.6M626.3 187.8h0.6M626.4 182h0.6M626.4 192.2h0.6M626.4 191.3h0.6M626.7 184.8h0.6M626.8 182.1h0.6M626.8 193.5h0.6M627 191.9h0.6M627 176.7h0.6M627.9 186.2h0.6M627.9 186.8h0.6M628 183.8h0.6M628.3 183.4h0.6M628.6 188.8h0.6M628.7 183.1h0.6M628.8 183.7h0.6M629 190.6h0.6M629 190.6h0.6M629.6 183h0.6M629.7 181.8h0.6M630.2 186.2h0.6M630.3 190.7h0.6M630.3 191.8h0.6M630.5 184.5h0.6M630.6 188.6h0.6M630.6 180.3h0.6M630.8 194.2h0.6M631.2 193.2h0.6M631.2 182.5h0.6M631.3 185.9h0.6M631.5 185.6h0.6M631.6 184h0.6M631.6 187.9h0.6M631.8 186.1h0.6M632 176.1h0.6M632.1 181.8h0.6M632.2 189h0.6M632.5 191.1h0.6M632.6 179.2h0.6M632.9 189.6h0.6M633 187.9h0.6M633.1 190.4h0.6M633.3 189.8h0.6M633.4 191.3h0.6M633.6 181.8h0.6M633.7 193.4h0.6M633.7 186.2h0.6M633.8 180.7h0.6M633.9 189.1h0.6M634 183.6h0.6M634.1 189.5h0.6M634.2 185.3h0.6M634.2 187.7h0.6M634.3 190.7h0.6M634.4 189h0.6M634.4 186.6h0.6M634.6 184.4h0.6M634.8 183.7h0.6M635 190h0.6M635.2 185.5h0.6M635.5 177.9h0.6M635.7 180.6h0.6M635.7 186.5h0.6M636.1 181.6h0.6M636.2 189.1h0.6M636.3 184.8h0.6M636.4 184.3h0.6M636.6 196.7h0.6M636.7 192.9h0.6M636.7 181.5h0.6M636.7 192.2h0.6M636.7 184.9h0.6M636.8 190.6h0.6M636.9 191.9h0.6M637.2 182h0.6M637.7 180.8h0.6M637.9 193.1h0.6M638 185.8h0.6M638 191.3h0.6M638 192.3h0.6M638.1 194.3h0.6M638.2 188.3h0.6M638.2 180.6h0.6M638.3 193.6h0.6M638.3 181.8h0.6M638.5 182.9h0.6M638.6 184.1h0.6M638.7 182.9h0.6M638.8 179.6h0.6M638.9 189.7h0.6M639 194h0.6M639 181.5h0.6M639 181.7h0.6M639.1 186.5h0.6M639.1 181.4h0.6M639.2 187.1h0.6M639.5 192.9h0.6M639.6 179.4h0.6M639.8 187.7h0.6M640 182.8h0.6M640.1 193.2h0.6M640.1 180.5h0.6M640.3 192.4h0.6M640.3 185.9h0.6M640.4 191.9h0.6M640.5 184.3h0.6M640.6 184.7h0.6M641 179.5h0.6M641.1 183.5h0.6M641.1 182.2h0.6M641.3 191.5h0.6M641.5 186.6h0.6M641.6 191.8h0.6M642 191.2h0.6M642.1 180.4h0.6M642.3 182h0.6M642.5 191.2h0.6M642.5 191.9h0.6M642.9 188.2h0.6M643 185.3h0.6M643.1 186.6h0.6M643.2 180.3h0.6M643.2 182.8h0.6M643.3 183.7h0.6M643.5 179.5h0.6M643.6 180.5h0.6M643.7 194.7h0.6M643.7 189.7h0.6M644.1 188.4h0.6M644.1 188.3h0.6M644.2 195.5h0.6M644.3 180.2h0.6M644.4 188.6h0.6M644.5 183.1h0.6M644.6 193h0.6M644.6 187h0.6M645 182.8h0.6M645.3 190.9h0.6M645.7 192.2h0.6M645.8 191.1h0.6M645.9 191.5h0.6M646 179.8h0.6M646.6 186.8h0.6M647.3 191.1h0.6M647.3 192.6h0.6M647.4 187.4h0.6M647.4 181.7h0.6M647.5 186.1h0.6M647.6 188.5h0.6M647.8 194.8h0.6M647.8 193.9h0.6M647.8 189.2h0.6M648 186.2h0.6M648.1 184h0.6M648.2 193.1h0.6M648.3 185.8h0.6M648.5 179.4h0.6M648.6 191.4h0.6M648.6 185h0.6M648.7 182.5h0.6M648.8 187h0.6M648.9 191.1h0.6M649.1 178.2h0.6M649.1 191.4h0.6M649.3 182.4h0.6M649.7 190.1h0.6M649.7 189.2h0.6M650.3 191.4h0.6M650.4 183.9h0.6M650.4 185.8h0.6M650.5 194.6h0.6M650.6 184.9h0.6M650.6 186.2h0.6M650.7 179.8h0.6M651.2 182.9h0.6M651.3 179.1h0.6M651.5 192.5h0.6M651.6 183.5h0.6M651.8 192.3h0.6M651.8 183.1h0.6M652.1 190.3h0.6M652.2 191.7h0.6M652.2 188.7h0.6M652.3 191.8h0.6M652.5 179.3h0.6M652.5 190.8h0.6M652.6 178.5h0.6M652.6 183.2h0.6M652.6 189.2h0.6M652.9 187.5h0.6M652.9 195.1h0.6M653.3 189.4h0.6M653.4 184.9h0.6M653.4 184.1h0.6M653.4 183.9h0.6M653.6 178.9h0.6M653.6 191h0.6M653.7 194.7h0.6M654 181.3h0.6M654.1 185.7h0.6M654.3 191.1h0.6M654.4 190.6h0.6M654.8 185.5h0.6M654.8 193.1h0.6M655.2 184.8h0.6M655.3 183.9h0.6M655.3 186.1h0.6M655.4 183.5h0.6M655.8 184.2h0.6M656 183.8h0.6M656.2 182.3h0.6M656.4 190.1h0.6M656.7 190.2h0.6M656.9 189.6h0.6M657 182.2h0.6M657.2 179.6h0.6M657.2 191.1h0.6M657.5 180.9h0.6M657.6 188.4h0.6M657.6 180.7h0.6M657.8 183.5h0.6M657.8 181.1h0.6M657.9 188.9h0.6M658.3 189.5h0.6M658.7 181.7h0.6M659 185.5h0.6M659 185.4h0.6M659.1 188.2h0.6M659.5 183.7h0.6M659.6 178.3h0.6M659.9 186.6h0.6M659.9 186.9h0.6M660.1 194.3h0.6M660.3 187.4h0.6M660.3 180.4h0.6M660.3 189.1h0.6M660.5 180.9h0.6M660.9 184.3h0.6M661 176.3h0.6M661.1 186h0.6M661.3 178h0.6M661.4 195.5h0.6M661.4 181.9h0.6M661.5 193.2h0.6M661.5 191.4h0.6M661.5 187.2h0.6M661.7 185.4h0.6M661.8 185h0.6M661.9 189h0.6M662.1 179.2h0.6M662.1 186.5h0.6M662.3 177.3h0.6M662.4 185h0.6M662.7 183.4h0.6M663 190.2h0.6M663 186.6h0.6M663.2 181.8h0.6M663.2 182.3h0.6M663.3 181.4h0.6M663.5 177.5h0.6M663.6 175.1h0.6M663.7 193.1h0.6M663.9 179.3h0.6M664.1 193.5h0.6M664.2 195.9h0.6M664.5 193.7h0.6M664.5 181.7h0.6M664.9 192.4h0.6M664.9 190.6h0.6M665.1 194.6h0.6M665.1 185h0.6M665.2 187.6h0.6M665.3 187.5h0.6M665.3 181.3h0.6M665.4 188.7h0.6M665.4 191h0.6M665.5 194.7h0.6M665.5 193.7h0.6M665.7 178.6h0.6M665.9 194h0.6M666 184h0.6M666.3 191.4h0.6M666.4 181.4h0.6M666.6 183.7h0.6M667 183h0.6M667.1 189.8h0.6M667.5 187.8h0.6M667.5 190.1h0.6M667.7 178.4h0.6M667.8 182.5h0.6M667.8 189.3h0.6M667.9 179.1h0.6M667.9 191.8h0.6M667.9 186.2h0.6M668.1 190.7h0.6M668.5 180.8h0.6M668.6 193.3h0.6M668.7 181.7h0.6M668.8 183.8h0.6M669.1 183.8h0.6M669.2 184h0.6M669.2 184.6h0.6M669.4 186.9h0.6M669.8 191.8h0.6M670 197.1h0.6M670 190.2h0.6M670.1 190.8h0.6M670.1 180.3h0.6M670.2 180.7h0.6M670.3 173.8h0.6M670.4 178.1h0.6M670.5 193.1h0.6M670.6 179.9h0.6M670.7 182.9h0.6M671 188.6h0.6M671.3 181.7h0.6M671.4 181.7h0.6M671.6 182h0.6M671.8 184.8h0.6M672 183.8h0.6M672.2 177.1h0.6M672.2 194h0.6M672.3 192.1h0.6M672.4 189.6h0.6M672.6 182.5h0.6M672.8 190.4h0.6M672.8 192.2h0.6M673 181.2h0.6M673.2 182.3h0.6M673.4 194.2h0.6M673.5 179.2h0.6M673.6 187.8h0.6M673.6 192.8h0.6M673.6 197h0.6M673.7 194.5h0.6M673.8 187h0.6M674.1 177.7h0.6M674.1 183.3h0.6M674.1 180.9h0.6M674.2 187.5h0.6M674.3 189.1h0.6M674.4 196.1h0.6M674.4 184.6h0.6M674.5 184h0.6M674.5 178.7h0.6M674.6 187.2h0.6M674.7 185.5h0.6M675.1 182.6h0.6M675.2 187.7h0.6M675.2 181.1h0.6M675.2 187.7h0.6M675.5 182.3h0.6M675.5 184.9h0.6M675.6 185.2h0.6M675.8 179.1h0.6M676 181.4h0.6M676.1 179h0.6M676.1 184.4h0.6M676.4 188.9h0.6M676.4 190.8h0.6M676.5 191.8h0.6M677 180.3h0.6M677 194.7h0.6M677.1 183.4h0.6M677.2 192.1h0.6M677.3 184.6h0.6M677.3 189.9h0.6M677.4 190.9h0.6M677.4 176.3h0.6M677.7 193.7h0.6M678 178.3h0.6M678.1 184.5h0.6M678.3 180.4h0.6M678.3 189.6h0.6M678.4 179.9h0.6M678.5 187.3h0.6M678.7 189.5h0.6M678.7 186.3h0.6M678.8 193.3h0.6M678.8 187.8h0.6M678.9 191.1h0.6M679.1 186h0.6M679.4 194.2h0.6M679.5 178.7h0.6M680 191.2h0.6M680.4 175.8h0.6M680.4 194.2h0.6M680.6 178.4h0.6M680.6 187.9h0.6M680.8 178.1h0.6M680.8 190.8h0.6M681.4 180.2h0.6M681.5 178.6h0.6M681.5 192.1h0.6M681.5 189.2h0.6M681.7 189.3h0.6M681.9 191h0.6M682 177.7h0.6M682.2 178.2h0.6M682.5 191.8h0.6M682.5 192.3h0.6M682.6 179.6h0.6M682.6 192.8h0.6M682.8 177.6h0.6M682.8 191.8h0.6M683 186.8h0.6M683.2 184.4h0.6M683.4 183.1h0.6M683.6 182.2h0.6M684.8 184.6h0.6M684.8 184.2h0.6M684.9 179.9h0.6M685.2 178.9h0.6M685.4 184.8h0.6M685.4 179.5h0.6M685.7 179.3h0.6M685.9 180h0.6M685.9 181h0.6M686.1 192.7h0.6M686.1 178.1h0.6M686.3 186.8h0.6M686.5 175.5h0.6M686.6 189.5h0.6M686.7 194.6h0.6M686.7 187.7h0.6M686.9 188.7h0.6M686.9 184h0.6M687.1 184.5h0.6M687.3 193.4h0.6M687.6 182.9h0.6M687.9 186.7h0.6M687.9 191.3h0.6M688 184.5h0.6M688.1 185.1h0.6M688.4 177.3h0.6M689.4 187.6h0.6M689.6 181.7h0.6M689.6 183.4h0.6M689.7 183h0.6M689.7 189h0.6M689.8 183.6h0.6M689.9 194.5h0.6M690.1 193h0.6M690.1 193.6h0.6M690.3 189.4h0.6M690.3 180.1h0.6M690.4 183.8h0.6M690.5 184.6h0.6M690.9 179.5h0.6M691 188.4h0.6M691.2 189.4h0.6M691.2 188h0.6M691.2 180.2h0.6M691.2 190.2h0.6M691.4 192.5h0.6M691.4 184.7h0.6M691.6 181.3h0.6M691.7 189.6h0.6M691.8 186.2h0.6M691.9 192.8h0.6M692 189.1h0.6M692.1 192.6h0.6M692.1 178.5h0.6M692.1 191.6h0.6M692.2 187.6h0.6M692.6 191.5h0.6M692.7 182.3h0.6M693.1 185.4h0.6M693.3 179.2h0.6M693.3 190.8h0.6M693.3 180.8h0.6M693.3 181h0.6M693.4 192.9h0.6M693.5 189.2h0.6M693.7 183.6h0.6M693.9 182.8h0.6M693.9 182.6h0.6M694 183.1h0.6M694.2 180.8h0.6M694.2 194.8h0.6M694.3 183.3h0.6M694.3 192.7h0.6M694.5 190.9h0.6M694.7 189.9h0.6M694.8 179.5h0.6M695 182.2h0.6M695.2 187.9h0.6M695.3 196.7h0.6M695.3 186.5h0.6M695.3 182.4h0.6M695.3 188.7h0.6M695.6 180.9h0.6M695.7 183.6h0.6M695.8 188.7h0.6M695.9 181.4h0.6M696.1 185.7h0.6M696.4 190.3h0.6M696.5 179.3h0.6M697.3 181.5h0.6M697.4 197.7h0.6M698 189.9h0.6M698.2 191.9h0.6M698.4 187.2h0.6M698.4 187.7h0.6M698.5 182.8h0.6M698.5 183.7h0.6M698.5 179.5h0.6M698.6 185.1h0.6M698.9 184.8h0.6M698.9 180.4h0.6M699.1 179.7h0.6M699.3 185.6h0.6M699.5 182.5h0.6M699.6 176.6h0.6M699.7 182.4h0.6M699.8 191.2h0.6M699.8 186.6h0.6M700 186.2h0.6M700 181.3h0.6M700.1 185h0.6M700.4 179h0.6M700.5 182.1h0.6M700.6 189.7h0.6M700.7 180.9h0.6M701.2 185.5h0.6M701.3 180.6h0.6M701.4 180.4h0.6M701.6 180.2h0.6M701.7 185.6h0.6M701.7 190.6h0.6M701.9 175.9h0.6M701.9 183.5h0.6M701.9 186.4h0.6M701.9 186.5h0.6M702 191.7h0.6M702.1 190.9h0.6M702.2 178.9h0.6M702.3 186h0.6M702.3 194.8h0.6M702.5 190.2h0.6M702.6 183.6h0.6M702.6 184.3h0.6M702.8 184.9h0.6M702.9 182h0.6M703.1 195h0.6M703.4 181.8h0.6M703.5 182.8h0.6M704.1 176.1h0.6M704.2 196.4h0.6M704.3 192.4h0.6M704.4 185.7h0.6M704.5 185.5h0.6M704.6 185.9h0.6M704.7 183.6h0.6M704.7 192.6h0.6M704.7 182.7h0.6M704.8 193.7h0.6M705 191.8h0.6M705.1 186.9h0.6M705.2 191h0.6M705.4 192.4h0.6M705.5 192.6h0.6M705.9 191.5h0.6M706.2 180.4h0.6M706.6 183h0.6M706.7 179h0.6M706.7 195.6h0.6M706.9 183.8h0.6M707 175.4h0.6M707 189.3h0.6M707.1 192.8h0.6M707.1 192.7h0.6M707.2 193.2h0.6M707.3 192.9h0.6M707.4 183.3h0.6M707.4 184.8h0.6M707.4 188.3h0.6M707.5 187.1h0.6M707.6 183.3h0.6M707.9 178.1h0.6M708 190.1h0.6M708 190.9h0.6M708.6 189.7h0.6M708.7 183.4h0.6M708.8 181.2h0.6M708.9 191.1h0.6M709.2 190.9h0.6M709.2 191.4h0.6M709.2 179.9h0.6M709.6 182h0.6M710.3 189.8h0.6M710.5 194.6h0.6M710.7 183.3h0.6M711.2 192.4h0.6M711.2 181h0.6M711.5 185h0.6M711.5 182.4h0.6M711.8 186.2h0.6M711.8 181.5h0.6M711.8 183.7h0.6M711.9 183.8h0.6M711.9 185.2h0.6M712.4 180.9h0.6M712.6 185.5h0.6M712.7 179h0.6M712.8 193.5h0.6M712.8 181.8h0.6M712.8 177.9h0.6M713 178.9h0.6M713 187.4h0.6M713.1 186.2h0.6M713.2 187.7h0.6M713.6 178.6h0.6M713.7 180.3h0.6M713.8 188.1h0.6M713.9 191.7h0.6M714.1 193.3h0.6M714.2 185.8h0.6M714.3 182h0.6M714.5 178.9h0.6M714.5 184.7h0.6M714.8 191.2h0.6M715.3 182.4h0.6M715.7 189.3h0.6M716.1 183.4h0.6M716.2 189.6h0.6M716.2 184.2h0.6M716.3 179.3h0.6M716.5 191.9h0.6M716.8 187.4h0.6M716.9 193h0.6M716.9 178.7h0.6M716.9 191h0.6M717.1 175.1h0.6M717.6 187.1h0.6M717.6 185.8h0.6M717.7 180.2h0.6M717.7 182h0.6M717.8 187.5h0.6M718.1 186.3h0.6M718.2 185.2h0.6M718.2 177.6h0.6M718.7 190.3h0.6M718.7 183.6h0.6M718.8 186.8h0.6M718.9 191.5h0.6M719 196.9h0.6M719.3 177.6h0.6M719.5 191.7h0.6M719.6 185.6h0.6M719.7 187.7h0.6M720 180.7h0.6M720 178h0.6M720.1 189.6h0.6M720.8 188.1h0.6M720.9 181.7h0.6M721 194.9h0.6M721.1 189.2h0.6M721.2 175.6h0.6M721.2 190.6h0.6M721.7 178.1h0.6M721.7 184.8h0.6M721.7 186.8h0.6M721.9 190.5h0.6M722 179.3h0.6M722.1 180.6h0.6M722.5 180.1h0.6M722.8 178.8h0.6M722.9 186.1h0.6M723 186.7h0.6M723.3 188.8h0.6M723.5 178.4h0.6M723.5 184.5h0.6M723.6 182.5h0.6M723.6 191.7h0.6M723.7 183h0.6M724 186.6h0.6M724 189.3h0.6M724.1 189.9h0.6M724.2 185.7h0.6M724.3 195.2h0.6M724.6 186.7h0.6M724.7 183.4h0.6M724.7 183.9h0.6M724.7 190.1h0.6M724.8 185.5h0.6M724.8 192.6h0.6M725 186.3h0.6M725.1 192.2h0.6M725.1 177.2h0.6M725.2 188h0.6M725.4 183.7h0.6M725.4 180.6h0.6M725.6 187.1h0.6M725.9 179.1h0.6M726 178.4h0.6M726.2 191.7h0.6M726.2 183.9h0.6M726.2 181.7h0.6M726.3 184h0.6M726.3 182.1h0.6M726.6 180.5h0.6M726.9 188.1h0.6M726.9 180.1h0.6M726.9 182.3h0.6M727.2 187h0.6M727.3 191.7h0.6M728 191.7h0.6M728.1 191.6h0.6M728.2 182.3h0.6M728.5 177.5h0.6M728.9 190.9h0.6M728.9 190h0.6M729 180.9h0.6M729.5 185.5h0.6M729.6 196.2h0.6M729.9 189.6h0.6M730.2 195.7h0.6M730.3 184.8h0.6M730.3 179.3h0.6M730.4 187h0.6M730.5 181.3h0.6M730.6 178.4h0.6M730.8 178h0.6M731.1 181.1h0.6M731.3 179.2h0.6M731.4 182.2h0.6M731.5 188h0.6M732.2 188.3h0.6M732.3 178.6h0.6M732.5 191.1h0.6M732.7 193.1h0.6M732.7 192.1h0.6M733 179.8h0.6M733 193.1h0.6M733.1 189.3h0.6M733.2 189.4h0.6M733.3 193.9h0.6M733.4 179.4h0.6M733.6 190.6h0.6M733.7 192.9h0.6M733.7 188.7h0.6M733.7 186.3h0.6M733.7 183.3h0.6M733.9 181.2h0.6M734.3 190.1h0.6M734.4 185.4h0.6M734.6 186.2h0.6M734.7 188.5h0.6M734.8 176.8h0.6M734.8 177.2h0.6M735.6 180.7h0.6M735.6 176.1h0.6M735.6 190h0.6M735.8 175.5h0.6M735.8 182.6h0.6M736 188.9h0.6M736 181.5h0.6M736 192.5h0.6M736.2 190.6h0.6M736.3 184.8h0.6M736.3 185.5h0.6M736.4 191.9h0.6M736.7 193.9h0.6M737 188.1h0.6M737.2 187.2h0.6M737.3 177.3h0.6M737.3 189.6h0.6M737.3 188.4h0.6M737.5 188.7h0.6M737.6 184.7h0.6M737.6 192.3h0.6M737.6 187h0.6M737.9 183.3h0.6M737.9 181.6h0.6M738.3 177.8h0.6M738.4 188.4h0.6M738.6 180.6h0.6M738.8 186.9h0.6M738.8 182.3h0.6M739.1 181.8h0.6M739.2 192.2h0.6M739.4 184.2h0.6M739.4 195.4h0.6M739.5 189.4h0.6M739.6 192.5h0.6M739.8 177.7h0.6M740 179.2h0.6M740.1 176.2h0.6M740.1 191.1h0.6M740.4 187.4h0.6M740.6 190.1h0.6M740.8 187.6h0.6M740.9 190.7h0.6M741.4 190.4h0.6M741.5 186.8h0.6M741.5 177.7h0.6M741.8 183.6h0.6M741.8 184.1h0.6M741.9 179h0.6M741.9 191.5h0.6M742 189.6h0.6M742.4 190.4h0.6M742.6 183h0.6M742.6 176.6h0.6M742.6 188.8h0.6M742.7 188.2h0.6M742.7 189.9h0.6M742.9 190.4h0.6M743 184.7h0.6M743.2 176h0.6M743.2 183.6h0.6M743.4 183.1h0.6M743.5 178.4h0.6M743.6 187.6h0.6M743.6 184.8h0.6M743.6 188.9h0.6M744.5 191.9h0.6M744.7 186.1h0.6M745 189.5h0.6M745.1 190.4h0.6M745.2 186.3h0.6M745.5 186.8h0.6M745.6 186.9h0.6M745.7 179.8h0.6M745.8 193h0.6M745.8 186.3h0.6M746 180.8h0.6M746.1 184.4h0.6M746.2 186.9h0.6M746.3 179.4h0.6M746.4 188.5h0.6M746.5 184.7h0.6M746.6 192.2h0.6M747.4 190.7h0.6M747.6 180.3h0.6M747.7 181.9h0.6M747.8 187.8h0.6M748.1 177h0.6M748.3 192.5h0.6M748.3 186.9h0.6M748.5 190.5h0.6M748.8 184.6h0.6M748.9 188.8h0.6M748.9 183.1h0.6M748.9 185h0.6M749.2 191.6h0.6M749.3 180.3h0.6M749.6 180.2h0.6M749.8 194.4h0.6M749.8 184.2h0.6M749.9 185.7h0.6M750 193.4h0.6M750.1 192.2h0.6M750.1 187.9h0.6M750.4 174.4h0.6M750.4 194.8h0.6M750.7 183.9h0.6M750.7 182.3h0.6M750.7 179h0.6M750.7 177.7h0.6M750.8 180.3h0.6M751 186.1h0.6M751.1 183.4h0.6M751.2 180.9h0.6M751.2 191.5h0.6M751.3 179.8h0.6M751.6 182.8h0.6M751.7 191.1h0.6M751.7 189.8h0.6M751.8 186.5h0.6M751.9 184.9h0.6M752 180.5h0.6M752.1 184.3h0.6M752.2 190.8h0.6M752.4 188.6h0.6M752.4 186.5h0.6M752.5 191.9h0.6M752.6 187.3h0.6M752.9 190.8h0.6M753 190.3h0.6M753.3 177.1h0.6M753.3 181.3h0.6M753.3 195.1h0.6M753.6 180.7h0.6M753.7 186.9h0.6M754.1 183.9h0.6M754.2 191.8h0.6M754.3 179.4h0.6M754.4 184.3h0.6M754.5 183.4h0.6M754.6 175.7h0.6M755 185h0.6M755.1 192.3h0.6M755.1 179.4h0.6M755.1 182.3h0.6M755.4 187.4h0.6M755.4 188.1h0.6M755.8 188h0.6M755.9 183.5h0.6M756 180.1h0.6M756 183.1h0.6M756.2 193.9h0.6M756.5 185.2h0.6M756.7 186.1h0.6M756.7 191.7h0.6M756.9 186.6h0.6M757 182.8h0.6M757.2 185.4h0.6M757.2 192.4h0.6M757.4 177.5h0.6M757.5 188.1h0.6M757.5 182.1h0.6M757.6 189.3h0.6M757.7 180.3h0.6M757.8 187.4h0.6M758.2 192.5h0.6M758.3 178.3h0.6M758.5 190.5h0.6M758.6 178.2h0.6M758.9 176h0.6M759.1 188.8h0.6M759.3 185.4h0.6M759.4 179.5h0.6M759.6 186.3h0.6M759.7 182.4h0.6M760 193.6h0.6M760.3 198.7h0.6M760.5 191h0.6M760.6 186.6h0.6M760.7 190.3h0.6M761.1 191.2h0.6M761.2 184.5h0.6M761.7 189.7h0.6M762.1 184.5h0.6M762.1 182.7h0.6M762.2 179.2h0.6M762.2 177.7h0.6M762.5 186.2h0.6M762.6 190.4h0.6M762.7 191.2h0.6M762.7 178.3h0.6M762.9 187h0.6M762.9 182.9h0.6M762.9 180h0.6M763.1 182.3h0.6M763.3 186.9h0.6M763.4 192.3h0.6M763.4 179.9h0.6M764 182.3h0.6M764 190.4h0.6M764.1 188.1h0.6M764.5 183.6h0.6M764.8 191.5h0.6M765.1 179.4h0.6M765.3 194.3h0.6M765.9 183h0.6M766 192h0.6M766 194.9h0.6M766.1 191.6h0.6M766.3 187.4h0.6M766.4 189.6h0.6M766.5 181.4h0.6M766.7 187.3h0.6M766.8 188.3h0.6M766.9 183.8h0.6M766.9 190h0.6M767.1 187.2h0.6M767.5 190.1h0.6M767.6 193.1h0.6M767.6 183.7h0.6M767.7 191.2h0.6M768.1 178.1h0.6M768.3 193.5h0.6M768.4 195h0.6M768.7 193h0.6M768.8 189.9h0.6M768.9 186.9h0.6M769.1 180.6h0.6M769.3 191.1h0.6M769.4 184.3h0.6M769.7 185h0.6M769.7 177.1h0.6M769.8 191.8h0.6M770.1 187.4h0.6M770.3 185.4h0.6M770.3 180.8h0.6M770.5 185.5h0.6M770.5 186.4h0.6M770.6 187h0.6M770.6 187.8h0.6M770.7 181.4h0.6M770.8 184.3h0.6M771.1 178.7h0.6M771.3 187.6h0.6M771.8 184.1h0.6M771.9 190.4h0.6M772.1 190.5h0.6M772.4 177.7h0.6M772.4 188.1h0.6M772.4 193h0.6M772.9 191.8h0.6M773.5 179.3h0.6M774 180.5h0.6M774 185.5h0.6M774.1 192.2h0.6M774.2 182.7h0.6M774.3 194.2h0.6M774.6 190.4h0.6M774.7 173.5h0.6M774.8 190h0.6M775.5 186.3h0.6M775.7 178.9h0.6M775.8 191.2h0.6M775.8 186.5h0.6M775.8 190.5h0.6M775.9 181.2h0.6M776 179.1h0.6M776 178h0.6M776.2 180.1h0.6M776.3 182h0.6M776.4 180.9h0.6M776.8 177.8h0.6M776.8 193.2h0.6M777.2 181.2h0.6M777.3 181h0.6M777.4 179.8h0.6M777.4 184.1h0.6M777.6 187.1h0.6M777.7 178.8h0.6M777.7 180.5h0.6M778.3 180.5h0.6M778.3 184.8h0.6M778.5 193.8h0.6M778.6 192.2h0.6M778.7 189.7h0.6M778.9 189.7h0.6M779.1 181.5h0.6M779.5 187.6h0.6M779.6 183.7h0.6M779.8 184.1h0.6M779.8 188.5h0.6M779.8 185.6h0.6M780 187.4h0.6M780 182h0.6M780.2 193.6h0.6M780.3 187.4h0.6M780.4 187.2h0.6M780.6 184.7h0.6M780.6 193.4h0.6M780.7 176.4h0.6M780.8 180.4h0.6M780.9 196.5h0.6M781 186.7h0.6M781.1 188h0.6M781.5 184.1h0.6M781.6 191.2h0.6M781.7 182.6h0.6M781.8 188.8h0.6M781.9 192.1h0.6M781.9 185.6h0.6M782.1 182.3h0.6M782.2 185.8h0.6M782.2 176.2h0.6M782.4 177.8h0.6M782.6 190.1h0.6M782.8 187.4h0.6M782.9 175.6h0.6M783 184.3h0.6M783.2 181.9h0.6M783.5 187.2h0.6M783.5 179.1h0.6M783.6 176.4h0.6M783.8 185.7h0.6M783.9 190.9h0.6M783.9 187.1h0.6M784 194.7h0.6M784.2 175.1h0.6M784.4 179.6h0.6M784.4 188.4h0.6M784.5 181.3h0.6M784.8 178.2h0.6M784.8 181.8h0.6M784.8 178.5h0.6M785.1 188.9h0.6M785.4 186.3h0.6M785.4 187.4h0.6M785.4 187.1h0.6M785.4 193.3h0.6M785.8 187.8h0.6M785.8 180.4h0.6M786.2 184.5h0.6M786.3 190.9h0.6M786.3 192.1h0.6M786.4 187h0.6M786.5 186.4h0.6M786.7 187h0.6M786.7 179.3h0.6M786.8 185.2h0.6M787 177.3h0.6M787.2 178.7h0.6M787.3 177.3h0.6M787.3 189h0.6M787.5 180.4h0.6M787.7 177.6h0.6M787.9 179.3h0.6M788 188.6h0.6M788.1 189.9h0.6M788.3 185.2h0.6M788.4 191.9h0.6M788.6 184h0.6M789.1 186.4h0.6M789.5 186.6h0.6M789.6 184.7h0.6M789.7 189.3h0.6M790 189.9h0.6M790 183.3h0.6M790.1 180.8h0.6M790.3 192.3h0.6M790.4 187.3h0.6M790.4 182.2h0.6M790.5 178h0.6M790.5 185.2h0.6M790.5 184.1h0.6M790.8 189.6h0.6M791.2 188.8h0.6M791.4 185.1h0.6M791.8 189.2h0.6M791.8 186.2h0.6M791.9 194h0.6M791.9 178.8h0.6M791.9 180.2h0.6M791.9 190h0.6M792 186.5h0.6M792.1 180h0.6M792.1 181.2h0.6M792.2 176.4h0.6M792.2 180.9h0.6M792.3 193.5h0.6M792.6 179.7h0.6M792.7 180.8h0.6M792.8 191.5h0.6M792.8 180.2h0.6M793.1 180.4h0.6M793.5 189.8h0.6M793.7 189.9h0.6M794 192.5h0.6M794 178.8h0.6M794 180.6h0.6M794 186.7h0.6M794.3 180.5h0.6M794.6 190.5h0.6M794.8 181.7h0.6M794.8 188.5h0.6M794.9 181.3h0.6M795 181.1h0.6M795.3 191.3h0.6M795.3 185.9h0.6M795.4 187.8h0.6M795.4 181.5h0.6M795.5 192h0.6M795.8 193.1h0.6M796 184h0.6M796.2 175.5h0.6M796.3 182.9h0.6M796.3 191.7h0.6M796.4 179h0.6M796.6 188.3h0.6M796.9 179.3h0.6M796.9 185.5h0.6M797 185.1h0.6M797.2 189.2h0.6M797.3 181.1h0.6M797.4 188.3h0.6M797.6 188.5h0.6M797.7 190.6h0.6M798 179.6h0.6M798.2 176.5h0.6M798.2 192.4h0.6M798.3 177.1h0.6M798.4 184.9h0.6M798.5 188.8h0.6M798.5 194.8h0.6M798.7 189.7h0.6M798.8 177.8h0.6M799.1 191.3h0.6M799.1 177.1h0.6M799.1 179.2h0.6M799.5 188.7h0.6M799.7 190.7h0.6M799.8 192.8h0.6M799.9 188.4h0.6M800 186.9h0.6M800 178.8h0.6M800.1 185h0.6M800.2 189.2h0.6M800.2 184h0.6M800.2 185.8h0.6M800.3 185h0.6M800.5 176.2h0.6M800.6 189.5h0.6M800.6 182h0.6M800.7 178h0.6M800.8 179.6h0.6M800.9 184.2h0.6M801 184.8h0.6M801 180.5h0.6M801.1 178.7h0.6M801.6 181.5h0.6M801.7 176.8h0.6M801.9 185.3h0.6M802.6 177.2h0.6M802.6 176.9h0.6M802.7 179.8h0.6M802.8 188.6h0.6M802.9 190.6h0.6M802.9 191.8h0.6M803 186.8h0.6M803 187.4h0.6M803.1 183.8h0.6M803.2 186.9h0.6M803.3 184.3h0.6M803.4 192.4h0.6M803.7 182.3h0.6M803.8 189.9h0.6M803.8 194.8h0.6M803.9 188.6h0.6M804 187.8h0.6M804.1 183.2h0.6M804.3 190h0.6M804.5 180.8h0.6M804.5 190h0.6M804.6 176.2h0.6M804.8 178.9h0.6M804.8 182.9h0.6M805 185.8h0.6M805.1 177.5h0.6M805.2 188h0.6M805.3 185h0.6M805.4 177.6h0.6M805.6 172.6h0.6M805.6 181.5h0.6M805.6 191.7h0.6M805.7 191.4h0.6M805.8 188.5h0.6M806 178.5h0.6M806.1 189.7h0.6M806.1 178.4h0.6M806.3 180.2h0.6M806.3 186.7h0.6M806.3 178.7h0.6M806.7 181.9h0.6M806.7 180.4h0.6M806.9 192h0.6M807.2 185.3h0.6M807.3 174.5h0.6M807.6 182.8h0.6M807.7 184.8h0.6M807.9 186.7h0.6M808.2 190.7h0.6M808.2 183.7h0.6M808.3 188.3h0.6M808.3 190.3h0.6M808.5 180.1h0.6M808.6 183.9h0.6M808.9 183.4h0.6M809.3 176.8h0.6M809.3 176.6h0.6M809.7 179.1h0.6M809.7 179.2h0.6M810 179.8h0.6M810.5 181h0.6M810.5 174.8h0.6M810.6 190.8h0.6M810.8 181.9h0.6M810.9 174.8h0.6M811 188.5h0.6M811.1 191.2h0.6M811.2 191.8h0.6M811.3 176.5h0.6M811.7 182.4h0.6M811.8 186.7h0.6M812 185.8h0.6M812.1 187.1h0.6M812.3 191.4h0.6M812.4 191.7h0.6M812.5 175.9h0.6M812.6 183h0.6M812.7 192h0.6M812.7 179.1h0.6M813 175.8h0.6M813 186.6h0.6M813.1 175.5h0.6M813.2 186.4h0.6M813.2 190.8h0.6M813.3 185.5h0.6M813.7 172.8h0.6M813.7 176.6h0.6M813.9 183h0.6M814 175.2h0.6M814.1 185.4h0.6M814.1 180h0.6M814.2 183.6h0.6M814.6 184.5h0.6M814.6 189.9h0.6M814.7 188.8h0.6M814.7 176.7h0.6M814.8 181.8h0.6M814.9 185.6h0.6M815.2 185.3h0.6M815.4 187h0.6M815.6 183.4h0.6M815.7 188.5h0.6M815.9 179.1h0.6M815.9 186.9h0.6M816 188h0.6M816.1 192.4h0.6M816.2 180.1h0.6M816.2 191.3h0.6M816.6 183.9h0.6M816.6 184.2h0.6M816.8 178.8h0.6M816.9 189.3h0.6M816.9 174.5h0.6M817.2 192.5h0.6M817.3 183.9h0.6M817.5 185.4h0.6M817.6 175.1h0.6M817.6 183.7h0.6M817.7 176.8h0.6M817.8 186.9h0.6M817.8 186.9h0.6M818.1 178.4h0.6M818.1 189.6h0.6M818.2 187.7h0.6M818.6 180.9h0.6M819 184.4h0.6M819.1 187h0.6M819.1 182h0.6M819.1 187h0.6M819.4 185.9h0.6M819.5 191.6h0.6M819.5 189h0.6M819.8 175.8h0.6M820 186.6h0.6M820 190.8h0.6M820.1 181.7h0.6M820.1 190.1h0.6M820.1 177.1h0.6M820.2 174.4h0.6M820.2 183.1h0.6M820.2 179.1h0.6M820.8 174.8h0.6M820.8 181.8h0.6M820.9 191.6h0.6M821 183.2h0.6M821.3 190.5h0.6M821.3 187h0.6M821.6 181.2h0.6M821.7 175.9h0.6M821.7 175.5h0.6M822.1 189.4h0.6M822.2 182.6h0.6M822.3 186h0.6M822.4 189.6h0.6M822.4 184.3h0.6M822.8 182.7h0.6M822.9 189.1h0.6M822.9 186.3h0.6M823.2 175.2h0.6M823.4 191h0.6M824 181.6h0.6M824.2 189h0.6M824.5 187.1h0.6M824.5 189.1h0.6M824.6 178.1h0.6M824.7 187.8h0.6M824.8 177.4h0.6M824.9 188.4h0.6M825.2 178.1h0.6M825.2 194.9h0.6M825.4 190.7h0.6M825.5 180.6h0.6M825.7 186.3h0.6M825.8 185.2h0.6M826 188.6h0.6M826 178.4h0.6M826.6 189.8h0.6M826.7 180.2h0.6M826.7 180.6h0.6M826.7 190.4h0.6M826.7 178.3h0.6M826.7 175.5h0.6M826.8 189.1h0.6M826.9 186.1h0.6M827 182.3h0.6M827.3 188.3h0.6M827.3 181.8h0.6M827.3 177.3h0.6M827.3 179.6h0.6M827.4 178.8h0.6M827.5 186.6h0.6M827.5 182.8h0.6M827.5 184.1h0.6M827.7 189.9h0.6M828 182.8h0.6M828.1 181.2h0.6M828.2 190.1h0.6M828.4 187.7h0.6M828.5 188.7h0.6M828.6 182.1h0.6M828.7 185.9h0.6M829 183.5h0.6M829.1 193.7h0.6M829.1 179.5h0.6M829.3 191.6h0.6M829.5 182.4h0.6M829.5 186.5h0.6M829.5 187.8h0.6M829.7 191.5h0.6M829.7 181.8h0.6M830 191.8h0.6M830.2 183.7h0.6M830.4 175.8h0.6M830.4 186.6h0.6M830.7 176.9h0.6M830.8 188h0.6M831 188h0.6M831.1 177.8h0.6M831.1 179.3h0.6M831.3 179.6h0.6M831.4 185.8h0.6M831.5 187.8h0.6M831.9 190.9h0.6M832 178.3h0.6M832.1 177.6h0.6M832.2 187.3h0.6M832.4 192.8h0.6M832.5 188h0.6M832.6 183.2h0.6M832.8 179.7h0.6M832.9 188.6h0.6M833 191.1h0.6M833.4 177.6h0.6M833.5 187.5h0.6M833.6 189.2h0.6M833.8 188.4h0.6M834 183.8h0.6M834.2 181.3h0.6M834.4 177.3h0.6M834.6 177.7h0.6M834.6 187h0.6M834.7 179.4h0.6M835 190.6h0.6M835.1 181.7h0.6M835.3 187.7h0.6M835.3 179h0.6M835.4 186.2h0.6M835.7 180.4h0.6M835.7 179.6h0.6M836.2 176.5h0.6M836.2 182h0.6M836.3 176.9h0.6M836.4 188.9h0.6M836.4 192.1h0.6M836.6 187.2h0.6M836.8 174.1h0.6M837.1 190.4h0.6M837.2 188.9h0.6M837.5 186.7h0.6M837.6 189h0.6M837.7 178.7h0.6M837.8 177.1h0.6M837.8 180.5h0.6M838 179h0.6M838 175.2h0.6M838 191.7h0.6M838.1 184.9h0.6M838.1 186.1h0.6M838.3 179.6h0.6M838.5 189.9h0.6M838.9 185.9h0.6M839.2 177.8h0.6M839.2 176.8h0.6M839.3 188.6h0.6M839.5 176.7h0.6M840.1 173.7h0.6M840.3 175.6h0.6M840.3 176.9h0.6M840.4 188.4h0.6M840.4 190.1h0.6M840.6 184.5h0.6M840.7 183.2h0.6M840.8 189.4h0.6M840.9 184.4h0.6M841 174.9h0.6M841.1 178.3h0.6M841.1 185.7h0.6M841.1 184.2h0.6M841.2 182.9h0.6M841.3 184.3h0.6M841.4 180.7h0.6M841.5 183.6h0.6M841.5 175.9h0.6M841.5 189.1h0.6M841.6 185.7h0.6M841.7 182.6h0.6M841.8 191.5h0.6M841.9 186.1h0.6M842 184.8h0.6M842 189.4h0.6M842.3 185h0.6M842.3 191.2h0.6M842.4 187.4h0.6M842.8 177.7h0.6M842.9 178.6h0.6M842.9 190.6h0.6M843 189.8h0.6M843.1 183.1h0.6M843.2 186.7h0.6M843.3 195h0.6M843.3 174.7h0.6M843.4 178h0.6M843.4 180.5h0.6M843.5 193h0.6M843.6 184.8h0.6M843.8 186.3h0.6M844 182.5h0.6M844.2 177.2h0.6M844.4 172.1h0.6M844.4 176.8h0.6M844.4 177.9h0.6M844.6 185.5h0.6M844.7 180.7h0.6M845 190h0.6M845 192.1h0.6M845.2 185.7h0.6M845.4 179.8h0.6M845.5 181.2h0.6M845.9 178.2h0.6M846.5 187.9h0.6M846.5 179.4h0.6M846.5 191.8h0.6M846.6 182.6h0.6M846.6 190.3h0.6M846.6 185.1h0.6M846.8 186.2h0.6M846.9 183.2h0.6M847.1 187.4h0.6M847.2 179.8h0.6M847.2 177.8h0.6M847.2 175.3h0.6M847.3 180.2h0.6M847.4 188.7h0.6M847.8 184.6h0.6M847.9 189.1h0.6M848 183.8h0.6M848 183.5h0.6M848.1 185.8h0.6M848.2 174.8h0.6M848.3 187.9h0.6M848.4 176.5h0.6M848.5 178.1h0.6M848.6 179h0.6M848.8 181.1h0.6M848.8 185.8h0.6M849 179.7h0.6M849.1 178.7h0.6M849.1 184.7h0.6M849.4 191.9h0.6M849.5 179.8h0.6M849.6 180.6h0.6M849.7 180.9h0.6M849.8 181.6h0.6M850.1 183.3h0.6M850.1 186.5h0.6M850.4 194.1h0.6M850.7 182h0.6M850.9 190.7h0.6M851.6 177.7h0.6M851.6 184.3h0.6M851.8 191.4h0.6M852.1 178.4h0.6M852.2 190.6h0.6M852.3 183h0.6M852.5 184.6h0.6M852.8 192.9h0.6M852.8 191.9h0.6M852.9 179.9h0.6M853 185.9h0.6M853.4 186.9h0.6M853.4 187.9h0.6M853.6 191.2h0.6M853.7 178.2h0.6M853.7 194.1h0.6M853.8 188.8h0.6M853.9 188.9h0.6M854.3 190.5h0.6M854.4 181.9h0.6M854.5 184.1h0.6M854.9 181h0.6M855 190.1h0.6M855 181.3h0.6M855.1 181.8h0.6M855.3 194.6h0.6M855.4 182.5h0.6M855.5 192.1h0.6M855.6 183.3h0.6M855.9 184.7h0.6M856 188.6h0.6M856.2 184.3h0.6M856.3 192.2h0.6M856.3 188.3h0.6M856.4 188.1h0.6M856.6 186.4h0.6M856.8 181.5h0.6M856.8 175.7h0.6M856.8 178.6h0.6M856.8 186.7h0.6M856.9 190.2h0.6M856.9 183.2h0.6M856.9 183.6h0.6M857.1 177.8h0.6M857.3 181.4h0.6M857.3 182.1h0.6M857.4 186.4h0.6M857.5 185h0.6M857.6 191.6h0.6M857.6 182.2h0.6M857.7 192.3h0.6M857.8 176.5h0.6M858.2 184.3h0.6M858.4 190.1h0.6M858.5 182.3h0.6M858.6 178.5h0.6M858.8 184.4h0.6M859 186.1h0.6M859 190.1h0.6M859 179.3h0.6M859 176.7h0.6M859.1 188.6h0.6M859.1 186h0.6M859.6 180.8h0.6M859.6 183.6h0.6M859.8 183.3h0.6M860.1 185.5h0.6M860.1 187.3h0.6M860.1 181.1h0.6M860.1 190.6h0.6M860.2 183.1h0.6M860.3 182.4h0.6M860.4 180.2h0.6M860.5 175.3h0.6M860.6 180.6h0.6M860.9 182.3h0.6M860.9 181h0.6M861.2 179h0.6M861.5 188.3h0.6M861.9 180h0.6M861.9 188h0.6M861.9 179.2h0.6M862.1 183.7h0.6M862.7 180.6h0.6M862.7 188.6h0.6M862.8 179.9h0.6M862.9 186.1h0.6M863.2 180.8h0.6M863.3 184h0.6M863.6 177.4h0.6M863.7 185.7h0.6M863.7 180.8h0.6M864.3 177.3h0.6M864.3 177.3h0.6M864.6 184.7h0.6M864.9 184.3h0.6M864.9 177.5h0.6M865.1 179h0.6M865.1 187.9h0.6M865.2 189.5h0.6M865.3 173.1h0.6M865.3 190.4h0.6M865.6 176.5h0.6M865.7 189h0.6M865.8 188h0.6M866 175.4h0.6M866 189.1h0.6M866.2 186.6h0.6M866.3 180.8h0.6M866.4 186.8h0.6M866.5 183.2h0.6M866.6 177.4h0.6M866.7 174.6h0.6M866.8 177.4h0.6M866.8 185.8h0.6M867 185.9h0.6M867.1 188.9h0.6M867.1 180h0.6M867.2 182.1h0.6M867.4 180.7h0.6M867.5 179.5h0.6M867.9 184.9h0.6M868 187.8h0.6M868 182.7h0.6M868 178.6h0.6M868.1 182.9h0.6M868.2 183.5h0.6M868.2 189.2h0.6M869.3 187.5h0.6M869.3 179.8h0.6M869.4 185.4h0.6M869.4 175.9h0.6M869.5 186h0.6M869.6 180.3h0.6M869.8 185.3h0.6M869.8 184.5h0.6M869.9 180.1h0.6M870 179.1h0.6M870.1 187.8h0.6M870.1 185.9h0.6M870.1 190.6h0.6M870.5 181.7h0.6M870.9 177.1h0.6M871.1 177.1h0.6M871.4 189.9h0.6M871.4 188.8h0.6M871.4 176.8h0.6M871.7 185.2h0.6M871.7 179.7h0.6M871.8 190.7h0.6M871.9 186h0.6M872 188.8h0.6M872.1 182.9h0.6M872.2 182.9h0.6M872.3 188.3h0.6M872.3 183.8h0.6M872.4 187.6h0.6M872.4 180.1h0.6M872.6 177.6h0.6M872.8 184.2h0.6M872.8 180.4h0.6M872.9 190.7h0.6M873 181.6h0.6M873.3 191.2h0.6M873.3 183.8h0.6M873.4 186.2h0.6M873.5 183.3h0.6M873.5 178h0.6M873.6 181.8h0.6M873.7 192.1h0.6M873.8 186.1h0.6M874.2 190.1h0.6M874.4 180.4h0.6M874.5 179h0.6M874.5 186.5h0.6M874.8 182.5h0.6M874.9 186.5h0.6M875 176.3h0.6M875.1 182h0.6M875.2 184.3h0.6M875.3 187.6h0.6M875.4 178.1h0.6M875.5 192.3h0.6M875.5 186.7h0.6M875.5 176.9h0.6M875.7 176.7h0.6M875.7 190h0.6M876 187.5h0.6M876.4 185.5h0.6M877.1 182.5h0.6M877.3 178.3h0.6M877.4 181.7h0.6M877.4 185h0.6M877.4 180.5h0.6M877.5 191.7h0.6M877.6 188.3h0.6M877.9 174.9h0.6M878 177h0.6M878 189.7h0.6M878.1 185h0.6M878.2 188.2h0.6M878.3 173.9h0.6M878.4 191.8h0.6M878.4 188.9h0.6M878.6 182.2h0.6M878.6 184.6h0.6M879 178.2h0.6M879 191.1h0.6M879.1 177.1h0.6M879.1 177.9h0.6M879.5 188.5h0.6M879.7 182.7h0.6M880 190.1h0.6M880.1 187.7h0.6M880.4 185.8h0.6M880.7 179.2h0.6M881 182h0.6M881.1 178.8h0.6M881.2 181.6h0.6M881.6 174.6h0.6M881.7 179h0.6M881.7 186.4h0.6M881.8 183.9h0.6M881.9 177.4h0.6M882.1 181.9h0.6M882.3 177.4h0.6M882.4 174.6h0.6M882.5 175.2h0.6M882.5 183.4h0.6M882.6 188.6h0.6M882.7 185.6h0.6M882.8 178.5h0.6M882.8 183.8h0.6M883.5 176.8h0.6M883.6 174.5h0.6M883.7 179.1h0.6M884.1 183.6h0.6M884.7 184.8h0.6M884.9 177.3h0.6M885 189.9h0.6M885.3 178h0.6M885.8 185.4h0.6M885.8 185.3h0.6M886 173.7h0.6M886.1 180.1h0.6M886.2 179.9h0.6M886.5 186.2h0.6M886.5 185.7h0.6M886.6 186.3h0.6M886.8 173.4h0.6M886.9 175h0.6M886.9 187.3h0.6M887.1 176.3h0.6M887.5 181.9h0.6M887.8 188.5h0.6M888.1 174.7h0.6M888.3 191.2h0.6M888.4 185.8h0.6M888.4 178h0.6M888.5 177.2h0.6M888.7 184.3h0.6M888.7 189.4h0.6M888.7 178.7h0.6M888.8 179.5h0.6M889.2 181.8h0.6M889.2 188.3h0.6M889.2 180h0.6M889.2 180.5h0.6M889.3 189.5h0.6M889.4 182.5h0.6M889.5 187.6h0.6M889.5 185.9h0.6M889.5 182.8h0.6M889.8 184.1h0.6M889.8 185.2h0.6M890.2 191.5h0.6M890.3 179.2h0.6M890.6 177.6h0.6M890.6 180.2h0.6M890.9 186.3h0.6M891.5 183.1h0.6M891.6 183.3h0.6M891.6 182.2h0.6M891.6 187.5h0.6M891.6 174.7h0.6M891.8 176.1h0.6M891.9 191.6h0.6M892.1 180.9h0.6M892.2 181.1h0.6M892.4 191.9h0.6M892.7 177.2h0.6M892.8 176.1h0.6M892.8 190.1h0.6M893 190.3h0.6M893.2 182.8h0.6M893.5 180.9h0.6M893.6 186.4h0.6M893.6 178.4h0.6M894 180.7h0.6M894 178h0.6M894 183.3h0.6M894.1 177.7h0.6M894.1 180.2h0.6M894.3 181.8h0.6M894.5 190.3h0.6M894.5 183.9h0.6M894.6 183h0.6M894.6 179.3h0.6M894.7 179.4h0.6M894.8 177h0.6M894.8 192h0.6M894.9 175.8h0.6M895.2 187.5h0.6M895.4 190.9h0.6M895.4 193.5h0.6M895.8 185.7h0.6M896.1 181.4h0.6M896.2 192.6h0.6M896.2 181.3h0.6M896.2 188.2h0.6M896.3 193.4h0.6M896.3 174.3h0.6M896.4 188.3h0.6M896.4 186.2h0.6M896.4 186.7h0.6M896.5 179.3h0.6M896.6 192h0.6M896.7 178.4h0.6M896.8 181.1h0.6M896.9 188.1h0.6M896.9 191.7h0.6M897.2 181.3h0.6M897.3 183.9h0.6M897.3 191.9h0.6M897.5 186.1h0.6M897.7 180.3h0.6M897.7 184h0.6M897.7 184.3h0.6M898.1 187.9h0.6M898.2 178.1h0.6M898.3 179.1h0.6M898.6 188.1h0.6M898.6 182.4h0.6M898.7 179.3h0.6M898.7 179.7h0.6M898.8 179.7h0.6M898.8 178h0.6M898.9 183.3h0.6M899 177.7h0.6M899.1 184.3h0.6M899.2 175.1h0.6M899.4 183.9h0.6M900.1 189.8h0.6M900.5 183h0.6M900.6 189.1h0.6M900.7 181.4h0.6M900.7 188.3h0.6M900.9 179.7h0.6M901.1 190.8h0.6M901.2 192.7h0.6M901.2 189h0.6M901.2 181.2h0.6M901.5 186.8h0.6M901.5 188.9h0.6M901.5 186.9h0.6M901.5 186h0.6M901.9 181.6h0.6M902 189.8h0.6M902 180.8h0.6M902.1 182.3h0.6M902.2 183.1h0.6M902.3 180.5h0.6M902.3 182.2h0.6M902.4 190h0.6M902.6 178.4h0.6M902.7 187.7h0.6M902.8 183.5h0.6M903 177.4h0.6M903 177.1h0.6M903.1 181h0.6M903.2 181.6h0.6M903.3 183.3h0.6M903.5 178.9h0.6M904 179.7h0.6M904.2 188.9h0.6M904.7 193.5h0.6M905.1 181.8h0.6M905.5 182.4h0.6M905.5 187.7h0.6M905.6 181.4h0.6M906.5 179.6h0.6M906.6 187.2h0.6M906.8 183.8h0.6M907 173.3h0.6M907.1 183.2h0.6M907.2 190.1h0.6M907.7 177.3h0.6M907.8 190.4h0.6M907.9 187.6h0.6M908.4 190h0.6M908.4 186.7h0.6M908.4 186.8h0.6M908.5 191.4h0.6M908.6 181.3h0.6M908.6 180.1h0.6M908.7 185.3h0.6M909 184.6h0.6M909.1 184.4h0.6M909.2 182.2h0.6M909.2 192.7h0.6M909.2 188.5h0.6M909.6 187.5h0.6M909.7 179.3h0.6M909.8 183.6h0.6M909.8 178.9h0.6M910 193.3h0.6M910 177.8h0.6M910.2 181.9h0.6M910.2 186.5h0.6M910.3 185.7h0.6M910.4 191.6h0.6M910.5 182.2h0.6M910.7 178.4h0.6M910.7 179.7h0.6M910.8 183.8h0.6M910.8 184.9h0.6M910.9 182.5h0.6M910.9 188.4h0.6M910.9 181.7h0.6M911 185.1h0.6M911.5 186.7h0.6M911.5 185.2h0.6M911.9 189.7h0.6M912.3 183h0.6M912.8 175.4h0.6M912.8 184.7h0.6M913 175.5h0.6M913 177.7h0.6M913.2 187.1h0.6M913.3 190.5h0.6M913.3 188.6h0.6M913.4 179.3h0.6M913.7 183.5h0.6M914 189.5h0.6M914.1 190.3h0.6M914.3 177.2h0.6M914.4 178.1h0.6M914.5 184.7h0.6M914.5 177.1h0.6M914.6 175.8h0.6M914.6 177.5h0.6M914.7 183.1h0.6M914.8 189h0.6M914.8 186.3h0.6M914.9 181.1h0.6M915 184.4h0.6M915 183.4h0.6M915.3 186.5h0.6M915.3 185.1h0.6M915.6 187.1h0.6M915.6 188.1h0.6M915.7 175.6h0.6M916 173.3h0.6M916.1 183.2h0.6M916.2 181h0.6M916.3 187.3h0.6M916.4 178.6h0.6M916.5 187.9h0.6M916.7 182.3h0.6M916.7 175.2h0.6M916.7 174.3h0.6M916.9 178.1h0.6M917.1 180h0.6M917.5 173.9h0.6M917.5 178.7h0.6M918 175.2h0.6M918 184.1h0.6M918.5 184.4h0.6M918.5 181.6h0.6M918.5 182.7h0.6M918.5 178.3h0.6M918.5 179.3h0.6M918.8 187.4h0.6M918.9 189.2h0.6M919.1 172.8h0.6M919.4 178.7h0.6M919.5 186.8h0.6M919.6 184.7h0.6M919.6 179h0.6M919.9 189.8h0.6M919.9 188.6h0.6M920.3 184h0.6M920.5 175.3h0.6M920.9 187.7h0.6M920.9 179.7h0.6M921 181.6h0.6M921 171.2h0.6M921.3 185.6h0.6M921.6 185.8h0.6M921.7 174.5h0.6M921.9 171.2h0.6M922 187.7h0.6M922.3 173.8h0.6M922.3 186.3h0.6M922.4 179.4h0.6M922.5 180.5h0.6M922.6 186.4h0.6M922.6 180h0.6M923 182h0.6M923.1 187.2h0.6M923.7 180.3h0.6M923.8 184.2h0.6M923.9 182.7h0.6M923.9 178.4h0.6M924 180.1h0.6M924.5 183.7h0.6M924.6 182.5h0.6M924.7 176.3h0.6M924.8 188.5h0.6M925 182.7h0.6M925.2 179.3h0.6M925.2 176.4h0.6M925.4 189.9h0.6M925.5 184.3h0.6M925.5 177.5h0.6M925.7 177.6h0.6M925.8 188.1h0.6M925.9 174h0.6M926.6 182h0.6M926.7 183.3h0.6M926.8 188.2h0.6M927.3 187.1h0.6M927.4 173.8h0.6M927.4 181.1h0.6M927.4 189.6h0.6M927.9 178.2h0.6M927.9 175.4h0.6M928 172.2h0.6M928 187.4h0.6M928.1 188.5h0.6M928.2 180h0.6M928.3 177.8h0.6M928.4 179.8h0.6M928.5 178h0.6M928.6 184h0.6M929.1 181.8h0.6M929.4 185.1h0.6M929.9 175.8h0.6M929.9 187.6h0.6M930 184.3h0.6M930 185.5h0.6M930 189.9h0.6M930.4 173.2h0.6M930.6 187.3h0.6M930.8 178.8h0.6M930.8 183.4h0.6M931.2 188.7h0.6M931.3 177.5h0.6M931.4 177.5h0.6M931.7 181.3h0.6M931.7 179.2h0.6M931.9 187.7h0.6M932.2 186.1h0.6M932.6 184.4h0.6M932.6 176.5h0.6M932.7 184.4h0.6M932.9 180.3h0.6M932.9 173.7h0.6M933.1 186.6h0.6M933.1 190.2h0.6M933.1 185.6h0.6M933.3 177h0.6M933.4 185.6h0.6M933.4 179.3h0.6M933.6 184.8h0.6M933.6 172.4h0.6M933.6 183.3h0.6M933.6 183.7h0.6M933.6 189.9h0.6M934 182.8h0.6M934.2 188.9h0.6M934.2 180.3h0.6M934.2 182.1h0.6M934.2 180.3h0.6M934.3 188.1h0.6M934.6 190.9h0.6M934.7 176.8h0.6M935 184.5h0.6M935.3 175.9h0.6M935.3 183.1h0.6M935.3 192.5h0.6M935.4 175.4h0.6M935.6 185.8h0.6M935.7 183.5h0.6M935.8 190.9h0.6M936.2 181.7h0.6M936.3 187.9h0.6M936.4 183.1h0.6M936.6 188.9h0.6M936.7 188.8h0.6M936.7 186.8h0.6M937.1 182.6h0.6M937.4 183.9h0.6M937.5 186.5h0.6M937.5 187.5h0.6M937.7 184h0.6M937.8 178.9h0.6M937.9 178.7h0.6M938 177.2h0.6M938.1 189.2h0.6M938.6 180.3h0.6M938.7 186.9h0.6M938.7 183.8h0.6M938.7 181.2h0.6M938.8 179.7h0.6M938.8 188.7h0.6M938.9 179.1h0.6M938.9 185.4h0.6M939.2 172.7h0.6M939.4 189.5h0.6M939.6 176h0.6M939.8 185.8h0.6M940.3 189.2h0.6M940.4 179.9h0.6M940.4 186.5h0.6M940.6 181.2h0.6M940.6 193.5h0.6M940.7 176.7h0.6M940.7 175.6h0.6M880.8 193.3h0.6M723.8 200.2h0.6M748.1 198.7h0.6M811.6 198.6h0.6M785.2 195.3h0.6M730.1 200h0.6M814 199.1h0.6M940.2 190.2h0.6M809.6 199.8h0.6M904.2 191.9h0.6M897.9 196.2h0.6M715.3 199.5h0.6M806.8 195.9h0.6M791 196.6h0.6M891.9 192.2h0.6M861.2 197.2h0.6M842.3 193.3h0.6M913.2 196.9h0.6M703.8 202.3h0.6M706.2 201.5h0.6M803.8 194.9h0.6M849 196.7h0.6M852 197.8h0.6M903.5 194h0.6M721.5 198.7h0.6M702.6 201.3h0.6M767.6 195.2h0.6M859.2 195h0.6M754.6 200.5h0.6M867.7 197.3h0.6M819.8 199.3h0.6M751.6 200.7h0.6M823.3 194.8h0.6M798 199.8h0.6M899.5 193.2h0.6M888.2 195.4h0.6M736.2 199.3h0.6M732.5 200h0.6M899.7 195.4h0.6M900.4 193.1h0.6M904.3 196.7h0.6M773.8 195.8h0.6M708.6 200.9h0.6M819.9 193.7h0.6M928.1 195.8h0.6M830.7 198.7h0.6M856.7 194.3h0.6M682.6 200.3h0.6M783.8 197.5h0.6M721.7 201.7h0.6M696.3 198.4h0.6M733 196.4h0.6M751.3 197.9h0.6M807.8 195.9h0.6M837.7 194.8h0.6M818.7 198.4h0.6M769.8 197.3h0.6M715.3 197.1h0.6M806.5 195.2h0.6M913.7 196.3h0.6M913.8 193.9h0.6M918 192.1h0.6M911.7 194h0.6M827.3 194.2h0.6M812.6 196.8h0.6M733.6 197.3h0.6M872.9 194.7h0.6M829.4 199.1h0.6M781.6 197.6h0.6M690.9 201.2h0.6M130.9 276.9h0.6M128.8 280.1h0.6M131.3 276.4h0.6M129.1 283.3h0.6M133.8 264.5h0.6M136.5 266.8h0.6M129.9 283.4h0.6M137 265h0.6M133.9 256.9h0.6M138.4 253.2h0.6M137.9 266h0.6M140.8 253.7h0.6M136.7 251h0.6M126.7 294.8h0.6M131.2 264h0.6M132.1 279.1h0.6M139.7 257.4h0.6M139.6 264.1h0.6M129.2 273.2h0.6M140.1 261.8h0.6M132.3 263.5h0.6M136.5 249.2h0.6M136.4 264.6h0.6M132.6 276.8h0.6M134.7 271h0.6M133.2 256.9h0.6M136.6 259.8h0.6M138.9 258.8h0.6M134.4 257.8h0.6M139.7 258.9h0.6M133.7 260.9h0.6M126.6 296.8h0.6M135.2 262.1h0.6M130.9 270.6h0.6M137.5 257.2h0.6M130.2 272.2h0.6M136 259.1h0.6M128.8 283.5h0.6M136.1 255.5h0.6M135.3 249.8h0.6M136.8 262.3h0.6M126.2 288.9h0.6M132.9 274.3h0.6M137.6 246.2h0.6M132.9 272.3h0.6M130.4 269.3h0.6M137.8 263.9h0.6M136.5 254.7h0.6M132.8 258h0.6M139.2 257.9h0.6M136.6 252.1h0.6M141.6 258.2h0.6M136.2 260.3h0.6M141.2 259.8h0.6M137.5 261.1h0.6M132.9 265.1h0.6M125.8 293.9h0.6M137.5 247.2h0.6M132.6 258.2h0.6M139.5 248.5h0.6M139.8 253.9h0.6M139 263.8h0.6M134.5 250.8h0.6M135.8 254.4h0.6M136 250.3h0.6M132.8 273.5h0.6M132.1 277.1h0.6M141.4 252.9h0.6M125.7 285.9h0.6M139.6 261.3h0.6M127.8 279.5h0.6M127.5 287.2h0.6M138 263h0.6M125.9 287.6h0.6M136.3 252.6h0.6M129.6 266.5h0.6M139.4 263.6h0.6M134.7 251h0.6M129.4 283.9h0.6M135 270.8h0.6M137.4 255.4h0.6M139.3 246.2h0.6M126 295.1h0.6M140.5 245.7h0.6M138.9 253.6h0.6M129.4 272.8h0.6M135.3 265.6h0.6M134.1 268.2h0.6M135.4 263.1h0.6M129.6 276.2h0.6M140.5 258h0.6M137 250.8h0.6M134.8 254.7h0.6M140.9 244.8h0.6M131.6 263h0.6M134.3 261h0.6M135.8 251.7h0.6M135.6 269.7h0.6M131.1 262h0.6M135.2 270.4h0.6M132.6 273.8h0.6M137.3 258.6h0.6M131.5 270.9h0.6M132.9 272.8h0.6M135.1 256.9h0.6M128.7 286.6h0.6M134.4 260.4h0.6M139.8 260.5h0.6M136.8 258.6h0.6M133.7 274.5h0.6M127.8 286h0.6M134.9 264.4h0.6M132.3 262h0.6M131.7 280.9h0.6M137.2 247.9h0.6M141.3 241.1h0.6M134 259.6h0.6M128.7 290.3h0.6M136.6 253.2h0.6M132.9 256.4h0.6M139.3 250.3h0.6M137.8 262.7h0.6M131.4 277.2h0.6M138.9 245.6h0.6M134.2 260.3h0.6M137 256.3h0.6M126.7 280.7h0.6M130.1 266.5h0.6M139.4 250.2h0.6M126 288.2h0.6M136.7 260.8h0.6M140.5 256h0.6M139.2 257.1h0.6M128.1 280.1h0.6M127.7 276.2h0.6M131.7 261h0.6M126.7 280h0.6M135.5 265.5h0.6M136.2 252.2h0.6M136.6 257.9h0.6M138.9 249.3h0.6M130.8 267.1h0.6M125.9 296.7h0.6M128.6 286.5h0.6M138.8 255.9h0.6M128.1 284.9h0.6M127.4 288h0.6M136.7 265.1h0.6M135.4 249.1h0.6M140.4 247.6h0.6M138.7 262h0.6M139.7 265h0.6M140.1 257.6h0.6M125.9 298.7h0.6M140.9 245h0.6M129.9 264.7h0.6M127.2 295.7h0.6M140.1 247.3h0.6M130.5 268.4h0.6M128 285.4h0.6M134.8 261.7h0.6M138.9 262.7h0.6M130.9 266.3h0.6M139.4 247h0.6M141.2 242.4h0.6M134.2 268.7h0.6M129.4 280.1h0.6M130.5 277.4h0.6M128.4 275.4h0.6M132.8 259.8h0.6M132.1 273.8h0.6M130.4 280.5h0.6M132.2 263.6h0.6M129.9 271h0.6M139.4 260.8h0.6M140.4 259.6h0.6M132.7 259.5h0.6M127.6 278.9h0.6M130.4 279.5h0.6M136.6 263.1h0.6M141.4 249.1h0.6M137.8 263.5h0.6M126.8 292h0.6M131.3 269.6h0.6M126.8 287.6h0.6M134.7 255h0.6M132 266.7h0.6M132.8 257.6h0.6M130.3 274.4h0.6M127.1 276.5h0.6M138.2 245h0.6M131.2 281.6h0.6M126.8 279.3h0.6M128.9 274.3h0.6M126.5 297.5h0.6M139.7 244.4h0.6M128.5 282.2h0.6M140.7 252.2h0.6M141.2 253.8h0.6M127.7 287.3h0.6M138.3 255.8h0.6M129.1 286.5h0.6M137.1 261h0.6M141.2 244.2h0.6M133.1 267.3h0.6M129.1 267.4h0.6M136.3 253.7h0.6M135.4 269.4h0.6M129.6 266.1h0.6M134.3 258.5h0.6M133.8 253.7h0.6M132.3 276.9h0.6M131.7 259.9h0.6M140.5 254.1h0.6M136.3 258.2h0.6M132.3 276.6h0.6M134.7 251.3h0.6M135.7 249h0.6M139.6 261.2h0.6M132.9 259h0.6M138.7 253.9h0.6M128.2 290.6h0.6M137.4 253.3h0.6M136.9 251.6h0.6M125.9 298.7h0.6M136 266.3h0.6M126.9 298.3h0.6M140.2 259.5h0.6M134.6 263.9h0.6M128.1 275.4h0.6M137.4 263h0.6M130.1 275.9h0.6M126.8 285.8h0.6M134.7 263.4h0.6M138.5 247.9h0.6M137.1 267.5h0.6M138.5 252.7h0.6M137.1 267.5h0.6M131.9 275.6h0.6M129.2 280.7h0.6M131.1 266.6h0.6M139 259.3h0.6M126.1 287.7h0.6M126.9 296.4h0.6M140.4 249.6h0.6M125.9 299.6h0.6M134.6 251.5h0.6M140 260.2h0.6M134 262.8h0.6M137.6 259.3h0.6M126.2 292.9h0.6M137.5 268h0.6M135.6 262.8h0.6M135.8 269.8h0.6M130.1 279.2h0.6M135.5 259.2h0.6M137.9 266h0.6M139.2 260.3h0.6M126.9 291.4h0.6M139.9 262.9h0.6M126 296h0.6M125.3 296.8h0.6M125.9 297.6h0.6M124.6 298.4h0.6M125 299.2h0.6M125.2 300h0.6M125.2 300.8h0.6M125.6 301.6h0.6M124.8 302.4h0.6M124.4 303.2h0.6M124.9 304h0.6M124.8 304.8h0.6M124.9 305.6h0.6M124.4 306.4h0.6M124.6 307.2h0.6M124.2 308h0.6M124.7 308.8h0.6M124 309.6h0.6M124 310.4h0.6M124.8 311.2h0.6M123.8 312h0.6M124.1 312.8h0.6M124.3 313.6h0.6M123.8 314.4h0.6M124.3 315.2h0.6M123.5 316h0.6M124.3 316.8h0.6M122.9 317.6h0.6M123 318.4h0.6M123.6 319.2h0.6M124.2 320h0.6M124.3 320.8h0.6M123 321.6h0.6M123.4 322.4h0.6M123.1 323.2h0.6M122.3 324h0.6M123.7 324.8h0.6M123.1 325.6h0.6M123.9 326.4h0.6M123.4 327.2h0.6M122.9 328h0.6M122.8 328.8h0.6M123.1 329.6h0.6M123.3 330.4h0.6M122.9 331.2h0.6M124.4 332h0.6M123.1 332.8h0.6M122.5 333.6h0.6M123 334.4h0.6M123.5 335.2h0.6M123.1 336h0.6M122.7 336.8h0.6M122.5 337.6h0.6M122.4 338.4h0.6M122.2 339.2h0.6M122.5 340h0.6M122.9 340.8h0.6M122.4 341.6h0.6M123.5 342.4h0.6M122.8 343.2h0.6M122.4 344h0.6M122.6 344.8h0.6M123.3 352h0.6M121.7 357h0.6M122.7 362h0.6M123.9 369h0.6M123 377h0.6M122.1 384h0.6M122.5 390h0.6M122.3 405h0.6M123.8 412h0.6M122.1 419h0.6M122.3 428h0.6M122.2 434h0.6M121.6 446.8h0.6M120.7 462h0.6M122.2 465.6h0.6M122.5 477h0.6M122 483h0.6M122.5 495.8h0.6M122.6 508.7h0.6M122.5 523h0.6M121.3 535h0.6M122.8 548.1h0.6M122.5 558h0.6M122.4 567.8h0.6M122 576h0.6M127.5 291.3h0.6M124.1 332.5h0.6M124.5 299.6h0.6M122.6 320.1h0.6M121.5 333.1h0.6M124.3 312.9h0.6M125 299.3h0.6M124.2 334h0.6M125 297.9h0.6M123.5 320.8h0.6M123.5 314.5h0.6M123.3 310.8h0.6M121.7 323.9h0.6M123.2 331.2h0.6M122.1 332.7h0.6M124.8 324h0.6M123.7 326.2h0.6M127.5 286.5h0.6M126.1 303.6h0.6M122.9 313.1h0.6M125.7 308.8h0.6M124 331.8h0.6M121.8 330.8h0.6M123.3 309.1h0.6M121.3 331h0.6M124.7 302.7h0.6M121.9 324.7h0.6M127.5 291.7h0.6M121.9 334.5h0.6M123.4 307.6h0.6M124.3 333.7h0.6M124.9 297.8h0.6M124.8 298.9h0.6M125.6 299h0.6M125.4 299.7h0.6M125.9 289.4h0.6M123.7 324.4h0.6M123.2 310.5h0.6M124.8 310.7h0.6M124.8 298.2h0.6M123.3 309.1h0.6M123.8 308h0.6M126.2 285.8h0.6M126.3 300h0.6M127 293.5h0.6M123.9 299.9h0.6M125.9 306.4h0.6M123.9 334.3h0.6M123.3 303.7h0.6M123 329.6h0.6M123.5 322h0.6M122.8 334.3h0.6M121.5 325.8h0.6M124.4 332.1h0.6M126 292.3h0.6M124.1 324.2h0.6M125.1 302.5h0.6M126.2 304.6h0.6M125.8 290.5h0.6M127 292.2h0.6M122.9 318.9h0.6M127.3 296h0.6M123 317.3h0.6M123.2 302.8h0.6M123.7 316.7h0.6M124.5 316.3h0.6M125.5 295.8h0.6M123.8 330.4h0.6M124.3 320.6h0.6M123 313.3h0.6M123.5 316h0.6M125.5 317.4h0.6M125 302.7h0.6M125.2 315.5h0.6M125.8 292.8h0.6M121.7 334.4h0.6M124.9 320h0.6M123.2 323.4h0.6M121.6 322.3h0.6M123.8 327.5h0.6M124.5 308.1h0.6M126.7 297.7h0.6M128.7 286.6h0.6M124.9 310.8h0.6M124.9 292.7h0.6M122.9 308.2h0.6M128.1 288.1h0.6M124.2 323.8h0.6M126 302.9h0.6M125.4 300.3h0.6M123.6 325.1h0.6M123.1 304.9h0.6M124.1 308.5h0.6M123.9 318.2h0.6M126.2 286.7h0.6M123.7 300.5h0.6M124.1 334.8h0.6M122.3 319.3h0.6M126.4 291.5h0.6M123.5 332.5h0.6M122.9 331.5h0.6M125.1 317.8h0.6M126.1 285.8h0.6M126 305.8h0.6M126 304.3h0.6M126.2 293.9h0.6M123.6 315.2h0.6M126.6 299.4h0.6M123.6 318.5h0.6M127.3 297.3h0.6M121.7 330.6h0.6M124 298.7h0.6M125.9 285.7h0.6M124.3 327.4h0.6M125.5 296.1h0.6M126.8 287.2h0.6M123.4 332.4h0.6M124 301.2h0.6M123.3 320.1h0.6M126.9 290.5h0.6M939.3 336.8h0.6" stroke="#0046ad" stroke-width="2.6" stroke-linecap="square" fill="none"/>
<path d="M137 320.4L138.6 319.3L140.2 317.7L141.8 314.2L143.4 312.5L145 311.4L146.6 310.9L148.2 307.7L149.8 307L151.4 305.6L153 304.2L154.6 303.4L156.2 303.8L157.8 301.6L159.4 300.5L161 300.4L162.6 298.2L164.2 298.7L165.8 296.8L167.4 295L169 295.9L170.6 293.4L172.2 295L173.8 293.8L175.4 291.7L177 291.5L178.6 290.7L180.2 291.8L181.8 290L183.4 290L185 289.4L186.6 289.2L188.2 289.1L189.8 286.7L191.4 287.1L193 286.8L194.6 284.1L196.2 284.5L197.8 283.9L199.4 282.1L201 283.4L202.6 282.8L204.2 281.4L205.8 280.6L207.4 280.3L209 279.2L210.6 278.5L212.2 278.6L213.8 277.9L215.4 276.4L217 276.5L218.6 277.8L220.2 275.8L221.8 275.9L223.4 277.6L225 277.5L226.6 275.8L228.2 277L229.8 277.8L231.4 275.7L233 277.3L234.6 274.7L236.2 274.7L237.8 273.9L239.4 274.1L241 272.2L242.6 273.1L244.2 273L245.8 272.6L247.4 271L249 271.9L250.6 271L252.2 269.6L253.8 269.7L255.4 271.5L257 269.3L258.6 270.1L260.2 269.8L261.8 269.4L263.4 268.2L265 267.9L266.6 267.5L268.2 268L269.8 266.6L271.4 266.9L273 266.3L274.6 265.5L276.2 266.1L277.8 266.9L279.4 266.2L281 266.6L282.6 265L284.2 266.6L285.8 266.1L287.4 264.3L289 265.1L290.6 265.6L292.2 266.2L293.8 265.4L295.4 266.1L297 264L298.6 264.7L300.2 263.5L301.8 264.7L303.4 263.5L305 263.7L306.6 264.1L308.2 264.6L309.8 264.6L311.4 266.1L313 263.5L314.6 263.4L316.2 264.8L317.8 264.3L319.4 263.8L321 261.8L322.6 261.9L324.2 263.3L325.8 261.1L327.4 262.3L329 261.3L330.6 261.2L332.2 261.5L333.8 262.3L335.4 262.8L337 262.3L338.6 261.8L340.2 262.3L341.8 260.4L343.4 261.2L345 262.5L346.6 260.9L348.2 260.1L349.8 261.5L351.4 260L353 261.3L354.6 259L356.2 259.6L357.8 259.5L359.4 257L361 259.2L362.6 257.9L364.2 258.3L365.8 258L367.4 257.1L369 259.6L370.6 257.6L372.2 258.1L373.8 257.7L375.4 257.7L377 257.6L378.6 258.6L380.2 256.2L381.8 256.9L383.4 258.2L385 257.9L386.6 258.2L388.2 257.3L389.8 257.2L391.4 256.7L393 256.5L394.6 255.6L396.2 257.2L397.8 255.7L399.4 255.6L401 255.2L402.6 256.5L404.2 255.6L405.8 256.2L407.4 255.8L409 257.3L410.6 256.1L412.2 256.7L413.8 256.4L415.4 255L417 257.4L418.6 257.1L420.2 256.7L421.8 255.1L423.4 256.9L425 257.1L426.6 256.7L428.2 256L429.8 256.4L431.4 254.9L433 256L434.6 254.7L436.2 254.6L437.8 255.7L439.4 253.6L441 253.5L442.6 255.2L444.2 255.8L445.8 255.1L447.4 255.2L449 253.9L450.6 255.1L452.2 256L453.8 254.6L455.4 254.7L457 253.7L458.6 253.3L460.2 255.1L461.8 253.2L463.4 255.1L465 254.9L466.6 252.7L468.2 254.5L469.8 252.4L471.4 254.9L473 254.8L474.6 252.9L476.2 255L477.8 254.4L479.4 254L481 254.5L482.6 254.3L484.2 255.3L485.8 254.1L487.4 254.8L489 253.7L490.6 253.2L492.2 253L493.8 254.7L495.4 254.7L497 253.6L498.6 254.4L500.2 255.2L501.8 254.7L503.4 254L505 256.5L506.6 255.8L508.2 255.6L509.8 255.2L511.4 255L513 253.4L514.6 253.4L516.2 253.3L517.8 253.9L519.4 252L521 253.2L522.6 251.8L524.2 253.7L525.8 252.5L527.4 253.8L529 253.3L530.6 254L532.2 255.3L533.8 254.7L535.4 255L537 254.2L538.6 253.3L540.2 252.5L541.8 254.1L543.4 252.5L545 252.9L546.6 253.8L548.2 252.9L549.8 254.4L551.4 252.6L553 252.6L554.6 253L556.2 253.2L557.8 252.6L559.4 252.3L561 252.9L562.6 253.8L564.2 253.2L565.8 252.7L567.4 251.9L569 250.5L570.6 250.6L572.2 251.7L573.8 251.5L575.4 250.5L577 251L578.6 252.4L580.2 252.6L581.8 251.5L583.4 252.4L585 250.8L586.6 251.6L588.2 250.6L589.8 250.6L591.4 253.2L593 251.4L594.6 252.5L596.2 253.1L597.8 251.7L599.4 252.9L601 253.5L602.6 252.3L604.2 252.7L605.8 252L607.4 250.6L609 250.2L610.6 251.6L612.2 250.6L613.8 252.2L615.4 250.4L617 250.9L618.6 251.1L620.2 252.9L621.8 251.5L623.4 250.7L625 252.6L626.6 251.8L628.2 251L629.8 249.5L631.4 250.2L633 250.8L634.6 251.1L636.2 251L637.8 252.2L639.4 250.4L641 251.3L642.6 252L644.2 250.9L645.8 250.3L647.4 251.4L649 252.1L650.6 251.9L652.2 252.5L653.8 251L655.4 253.4L657 253.4L658.6 253.5L660.2 254.5L661.8 252.4L663.4 253.1L665 253.7L666.6 253.9L668.2 252.5L669.8 251.3L671.4 252.9L673 253.4L674.6 252.7L676.2 254.8L677.8 253.8L679.4 254.1L681 255L682.6 253L684.2 252.3L685.8 252.6L687.4 253.5L689 252.9L690.6 252.9L692.2 251.9L693.8 251.2L695.4 251.8L697 252L698.6 251.3L700.2 252.3L701.8 252.6L703.4 251.7L705 252.7L706.6 251.3L708.2 252.7L709.8 251L711.4 252.2L713 251L714.6 252.2L716.2 252.4L717.8 250.7L719.4 250L721 251L722.6 249.7L724.2 251.4L725.8 250L727.4 251.7L729 252L730.6 251.3L732.2 251.9L733.8 252.6L735.4 252.9L737 251.2L738.6 251.9L740.2 253.3L741.8 252.4L743.4 252.7L745 252L746.6 251.8L748.2 251.5L749.8 250.5L751.4 251.6L753 251.7L754.6 252L756.2 251.9L757.8 250.9L759.4 251.8L761 251.1L762.6 251.4L764.2 252.2L765.8 250.9L767.4 252.6L769 252.2L770.6 252.1L772.2 250.7L773.8 252L775.4 251L777 250.6L778.6 251.6L780.2 250.7L781.8 251.7L783.4 251.1L785 250.6L786.6 250.7L788.2 248L789.8 248.7L791.4 248L793 246.7L794.6 246.7L796.2 248.5L797.8 248.2L799.4 245.5L801 245.9L802.6 245.5L804.2 245.1L805.8 245.1L807.4 244.8L809 244.8L810.6 246.7L812.2 245.8L813.8 246.6L815.4 244.8L817 245.8L818.6 245.5L820.2 245.8L821.8 247.5L823.4 247.4L825 247L826.6 247.4L828.2 247.2L829.8 246L831.4 246L833 248.6L834.6 248.5L836.2 248.5L837.8 248.6L839.4 248.9L841 249.9L842.6 248L844.2 249.2L845.8 247.8L847.4 247.5L849 248L850.6 246.6L852.2 247.2L853.8 247.8L855.4 246.8L857 247.6L858.6 246.3L860.2 246.5L861.8 247.4L863.4 246.1L865 247.4L866.6 247.4L868.2 247L869.8 245.6L871.4 246.3L873 247.5L874.6 247.6L876.2 247.1L877.8 249L879.4 247.8L881 249.2L882.6 247.8L884.2 247.2L885.8 249.2L887.4 247.2L889 247.5L890.6 247.6L892.2 247.3L893.8 248.2L895.4 246.5L897 246.2L898.6 247.1L900.2 246.3L901.8 246.1L903.4 246.7L905 247L906.6 246.8L908.2 246.9L909.8 246.7L911.4 245.8L913 246.9L914.6 246.2L916.2 248.9L917.8 248.7L919.4 247.2L921 248.2L922.6 247.8L924.2 247.8L925.8 248.5L927.4 247.4L929 248.1L930.6 246.3L932.2 246.3L933.8 247L935.4 246.5L937 246.1L938.6 247.5L940.2 245.7L940.2 264.3L938.6 264.4L937 266.2L935.4 266.3L933.8 265.5L932.2 264.5L930.6 265.6L929 267L927.4 266L925.8 266.2L924.2 265.8L922.6 265.8L921 266.3L919.4 265.9L917.8 267.7L916.2 266.5L914.6 266.8L913 266.2L911.4 266.6L909.8 265.6L908.2 264.9L906.6 264.4L905 264.4L903.4 266.4L901.8 265.8L900.2 266.3L898.6 265.4L897 264.2L895.4 266.4L893.8 264.9L892.2 266.6L890.6 265.2L889 266L887.4 265.2L885.8 267.4L884.2 266.6L882.6 266.3L881 267.7L879.4 266.2L877.8 266.7L876.2 266.5L874.6 266.3L873 267.2L871.4 265.8L869.8 265.5L868.2 266.5L866.6 266.2L865 264.9L863.4 265.4L861.8 266L860.2 266.3L858.6 266.5L857 266.9L855.4 266.5L853.8 265.7L852.2 265.4L850.6 265.6L849 264.8L847.4 266.6L845.8 267.1L844.2 265.4L842.6 266.7L841 267.6L839.4 268.5L837.8 267.6L836.2 265.7L834.6 265.6L833 265.6L831.4 266.5L829.8 265.6L828.2 265.1L826.6 264.6L825 264.2L823.4 266.3L821.8 265.4L820.2 265.1L818.6 264.3L817 263.7L815.4 265.9L813.8 265.8L812.2 263.6L810.6 264.2L809 264.6L807.4 264.3L805.8 264.1L804.2 264.3L802.6 265.1L801 265.7L799.4 265.9L797.8 265.9L796.2 266.3L794.6 267.4L793 266.2L791.4 266.5L789.8 266.8L788.2 267.1L786.6 269.2L785 269.3L783.4 268.8L781.8 270.9L780.2 268.9L778.6 269.2L777 269.6L775.4 270.3L773.8 271.3L772.2 268.9L770.6 270.7L769 270.3L767.4 268.8L765.8 270.6L764.2 270L762.6 269L761 270.2L759.4 270.7L757.8 269.5L756.2 269.4L754.6 271L753 269.1L751.4 269.9L749.8 270.2L748.2 270.7L746.6 271.3L745 271.8L743.4 270.6L741.8 270.4L740.2 270.1L738.6 270.9L737 272.2L735.4 270.2L733.8 270.1L732.2 269.1L730.6 270.4L729 268.8L727.4 269.3L725.8 270.9L724.2 269.7L722.6 268.6L721 268.9L719.4 269.6L717.8 269.5L716.2 269.5L714.6 269.6L713 269.3L711.4 269.8L709.8 269.6L708.2 271.8L706.6 271.4L705 271.1L703.4 270L701.8 271.3L700.2 271.5L698.6 271.7L697 270.7L695.4 269.9L693.8 271.2L692.2 269.9L690.6 271.6L689 271L687.4 271.2L685.8 271.8L684.2 272.8L682.6 271.8L681 271.9L679.4 272.9L677.8 273.7L676.2 273.3L674.6 272.8L673 272.6L671.4 271.5L669.8 272.5L668.2 272.1L666.6 270.8L665 270.7L663.4 271.8L661.8 272.9L660.2 271.5L658.6 271.4L657 271.7L655.4 270L653.8 271.5L652.2 270.1L650.6 270.6L649 269.8L647.4 271.1L645.8 270.9L644.2 271.1L642.6 270.6L641 270.6L639.4 270.2L637.8 270.3L636.2 268.6L634.6 269.6L633 268.5L631.4 269.4L629.8 268L628.2 269.1L626.6 268.6L625 269.2L623.4 271.5L621.8 271L620.2 271.8L618.6 269.5L617 270.7L615.4 269.8L613.8 269.8L612.2 270.4L610.6 269L609 270L607.4 269.5L605.8 269.5L604.2 270.1L602.6 270.2L601 272.1L599.4 270.5L597.8 270.9L596.2 271.9L594.6 272L593 271.2L591.4 270.9L589.8 271.5L588.2 270.8L586.6 269.7L585 270.9L583.4 269.9L581.8 269.5L580.2 270.3L578.6 270.2L577 269.5L575.4 268.9L573.8 269.3L572.2 268.8L570.6 269.9L569 270.3L567.4 269.6L565.8 269.5L564.2 271.7L562.6 272L561 272.6L559.4 271.8L557.8 272.5L556.2 271.1L554.6 273.1L553 272.9L551.4 271.7L549.8 273L548.2 273.2L546.6 271.4L545 272.3L543.4 271.1L541.8 272L540.2 272L538.6 270.7L537 272.8L535.4 272.4L533.8 271.5L532.2 273.8L530.6 272.7L529 272.8L527.4 272.2L525.8 271.1L524.2 270.7L522.6 272.1L521 271.5L519.4 270.4L517.8 270.8L516.2 271.9L514.6 273.4L513 271.8L511.4 272.2L509.8 273.4L508.2 273.8L506.6 272.7L505 273.4L503.4 274.6L501.8 272.9L500.2 274.4L498.6 273.5L497 274.2L495.4 274.2L493.8 273.9L492.2 271.9L490.6 271.7L489 272.8L487.4 273L485.8 271.9L484.2 272.3L482.6 272.2L481 273.8L479.4 274.3L477.8 273.6L476.2 272.1L474.6 274L473 273.5L471.4 273L469.8 271.1L468.2 272.5L466.6 271.3L465 271.4L463.4 273L461.8 273.3L460.2 272.4L458.6 274.1L457 273.8L455.4 272L453.8 272.8L452.2 272.2L450.6 272.6L449 273.1L447.4 273L445.8 274.5L444.2 272.9L442.6 274L441 273.1L439.4 274L437.8 272.9L436.2 272.4L434.6 274.9L433 273.1L431.4 273.3L429.8 274.7L428.2 275L426.6 275.5L425 273.6L423.4 274.7L421.8 273.7L420.2 274.1L418.6 274.3L417 275.8L415.4 274.9L413.8 274.1L412.2 275L410.6 275.5L409 275.2L407.4 274.6L405.8 274.3L404.2 275L402.6 274.3L401 273.6L399.4 275.5L397.8 276L396.2 274.3L394.6 274.3L393 274.5L391.4 276.1L389.8 275.3L388.2 276.3L386.6 275L385 274.9L383.4 275.1L381.8 274.6L380.2 276.4L378.6 276.3L377 275.5L375.4 277L373.8 275.6L372.2 278L370.6 277.5L369 277.8L367.4 275.9L365.8 277.7L364.2 276.4L362.6 275.6L361 276L359.4 276.2L357.8 277.3L356.2 277.2L354.6 277.9L353 278.6L351.4 280.1L349.8 280.7L348.2 279.7L346.6 279.8L345 280.8L343.4 278.8L341.8 279.6L340.2 279.8L338.6 280.5L337 279L335.4 279L333.8 280.8L332.2 280.6L330.6 279.5L329 281.6L327.4 279.4L325.8 279.8L324.2 280.7L322.6 282.5L321 282L319.4 281.6L317.8 283.5L316.2 281.7L314.6 283.1L313 282.9L311.4 283.4L309.8 283.7L308.2 283.3L306.6 283.1L305 283.2L303.4 284.4L301.8 282.8L300.2 283.9L298.6 282.5L297 283.3L295.4 284.6L293.8 283.7L292.2 285L290.6 283.1L289 283.3L287.4 284.8L285.8 282.9L284.2 283.8L282.6 284.2L281 284.6L279.4 285.6L277.8 284.7L276.2 286.3L274.6 284.5L273 284.3L271.4 286.5L269.8 287.1L268.2 286L266.6 286.6L265 287.5L263.4 288.1L261.8 288.3L260.2 289.8L258.6 289.7L257 289.9L255.4 290.4L253.8 290.2L252.2 289.6L250.6 287.9L249 289.1L247.4 288.8L245.8 291L244.2 291.8L242.6 291.9L241 291.6L239.4 293.4L237.8 294L236.2 294L234.6 295.5L233 295.3L231.4 296.3L229.8 295.6L228.2 295.3L226.6 294.5L225 295.1L223.4 295.2L221.8 295.2L220.2 294.3L218.6 294.8L217 295.8L215.4 297.3L213.8 295.4L212.2 295.4L210.6 298.2L209 296.4L207.4 297.2L205.8 300L204.2 300.2L202.6 300.6L201 301L199.4 301.9L197.8 302.2L196.2 303L194.6 304.5L193 303.7L191.4 304.9L189.8 304.9L188.2 305.4L186.6 306.6L185 307L183.4 307.4L181.8 309.9L180.2 310.8L178.6 309.6L177 309.3L175.4 311.9L173.8 312.1L172.2 312.6L170.6 313.6L169 313L167.4 314.7L165.8 314.5L164.2 317.5L162.6 317.8L161 318.5L159.4 319.1L157.8 321.1L156.2 322L154.6 321.8L153 324.3L151.4 326.2L149.8 325.5L148.2 328.3L146.6 327.6L145 330.3L143.4 331.6L141.8 333.4L140.2 336.1L138.6 337.3L137 340z" fill="#d20000"/>
<path d="M134.7 335.7h0.8M134.8 342.9h0.8M134.8 343.3h0.8M135 337.9h0.8M135.1 335.4h0.8M135.5 335.6h0.8M135.7 325h0.8M136.1 332.7h0.8M136.2 335.9h0.8M136.4 328.9h0.8M136.6 334.1h0.8M136.8 329.1h0.8M137.2 337.4h0.8M137.4 328.1h0.8M137.5 329.9h0.8M137.8 323.8h0.8M137.8 333.4h0.8M138.2 328.3h0.8M138.2 323.8h0.8M138.2 327.3h0.8M138.2 322.1h0.8M138.4 322.6h0.8M138.4 326.2h0.8M138.5 331.2h0.8M138.5 329.6h0.8M138.6 333.6h0.8M138.9 326.1h0.8M138.9 333.7h0.8M139 334.9h0.8M139.3 319.1h0.8M139.5 321.3h0.8M139.6 319.7h0.8M140.1 331.9h0.8M140.3 318.9h0.8M140.4 323.5h0.8M140.7 326.5h0.8M140.8 319.2h0.8M140.8 334h0.8M140.9 319.4h0.8M141 317.5h0.8M141.5 315h0.8M141.5 323h0.8M141.6 324.9h0.8M141.6 326.4h0.8M141.8 317.7h0.8M141.8 317h0.8M142 319h0.8M142 318.2h0.8M142.2 317.3h0.8M142.5 319.8h0.8M142.8 321.5h0.8M143.3 325.2h0.8M143.5 328.6h0.8M143.8 316.3h0.8M144.1 325.4h0.8M144.2 313.7h0.8M144.3 319.5h0.8M144.4 314.2h0.8M144.4 313.7h0.8M144.6 318.5h0.8M144.7 320.2h0.8M144.8 325.1h0.8M145.2 326.3h0.8M145.4 327h0.8M145.5 320.4h0.8M145.5 322.5h0.8M145.6 323.2h0.8M145.6 320.4h0.8M145.7 320.2h0.8M145.7 315.1h0.8M146 326.7h0.8M146.2 316.4h0.8M146.4 310.2h0.8M146.4 319.9h0.8M146.5 318h0.8M146.7 321h0.8M146.8 324.9h0.8M147 324.7h0.8M147 319.8h0.8M147 323.3h0.8M147.4 319.9h0.8M147.5 319.2h0.8M147.5 321.3h0.8M147.6 326.5h0.8M147.9 314.7h0.8M148 321.6h0.8M148.3 315.6h0.8M148.5 319h0.8M148.5 327.9h0.8M148.6 315.1h0.8M148.8 321.1h0.8M148.9 315h0.8M149.3 315.4h0.8M149.4 308.5h0.8M149.4 325h0.8M149.6 326.2h0.8M149.6 320.4h0.8M149.9 314.3h0.8M150 321.6h0.8M150.1 316.8h0.8M150.3 317h0.8M150.3 321.5h0.8M150.4 308.3h0.8M150.5 320.4h0.8M151.1 315.4h0.8M151.2 321.8h0.8M151.2 314.8h0.8M151.3 309.8h0.8M151.4 318.3h0.8M151.4 318.9h0.8M152.2 315.9h0.8M152.3 312.6h0.8M152.5 321.6h0.8M152.6 307.9h0.8M152.6 317.8h0.8M152.8 309.8h0.8M152.8 321.3h0.8M152.9 323.8h0.8M153.2 322.1h0.8M153.2 317.3h0.8M153.2 313h0.8M153.3 310h0.8M153.4 316h0.8M153.4 319.3h0.8M153.7 321h0.8M153.7 313.3h0.8M153.7 309.9h0.8M153.9 314.2h0.8M154.1 307.3h0.8M154.3 314.2h0.8M154.4 316.6h0.8M154.4 304h0.8M154.5 319.8h0.8M154.5 311.9h0.8M154.5 316.5h0.8M154.6 315.4h0.8M154.6 319.2h0.8M154.9 321.4h0.8M154.9 315.8h0.8M155.2 311.7h0.8M155.4 319.4h0.8M155.5 316.6h0.8M155.8 306h0.8M156.1 318.2h0.8M156.1 306.3h0.8M156.5 304h0.8M156.5 306.7h0.8M156.6 314.3h0.8M156.6 322.7h0.8M156.8 308.8h0.8M156.8 306.7h0.8M157 318.3h0.8M157 321.6h0.8M157.3 307.6h0.8M157.4 312.9h0.8M157.4 310.7h0.8M157.7 314h0.8M157.8 309.6h0.8M157.9 308.1h0.8M158 315.7h0.8M158.1 303.1h0.8M158.1 316.5h0.8M158.2 310.7h0.8M158.4 312.7h0.8M158.9 319.2h0.8M159 316.9h0.8M159.1 313.8h0.8M159.2 310.2h0.8M159.2 310.3h0.8M159.3 308h0.8M159.7 309.3h0.8M160 316.5h0.8M160.2 309.8h0.8M160.8 311.5h0.8M160.8 309.1h0.8M160.8 305.6h0.8M160.9 311.4h0.8M160.9 305.7h0.8M161 315.2h0.8M161 313.2h0.8M161.2 304.6h0.8M161.3 310.2h0.8M161.3 314.5h0.8M161.5 303.1h0.8M161.5 307.6h0.8M161.5 310.7h0.8M161.9 300.9h0.8M162.1 310.8h0.8M162.2 316.8h0.8M162.4 309.3h0.8M162.6 299.6h0.8M162.6 299.9h0.8M163.1 312.4h0.8M163.4 309.8h0.8M163.4 307.2h0.8M163.5 313.3h0.8M163.5 315.8h0.8M163.6 308.1h0.8M164 302.7h0.8M164.1 311.1h0.8M164.3 302h0.8M164.4 300.4h0.8M164.4 308h0.8M164.5 300.5h0.8M164.8 311.9h0.8M165.1 301.2h0.8M165.1 304.5h0.8M165.2 303h0.8M165.5 302.1h0.8M165.6 298.6h0.8M165.9 304.3h0.8M166.3 301h0.8M166.3 308.8h0.8M166.4 307.9h0.8M166.8 301h0.8M167.1 308.8h0.8M167.1 301.5h0.8M167.1 313.4h0.8M167.3 307h0.8M167.3 310.4h0.8M167.4 317.1h0.8M167.5 304.1h0.8M168 308.8h0.8M168.1 297.5h0.8M168.2 306.5h0.8M168.5 295.6h0.8M168.5 299.3h0.8M168.6 309.2h0.8M168.7 305.8h0.8M169 303.7h0.8M169.2 297.4h0.8M169.3 296.1h0.8M169.5 307.7h0.8M169.9 300h0.8M170.2 298.4h0.8M170.2 293.5h0.8M170.5 302.7h0.8M170.5 307.2h0.8M170.6 313.8h0.8M170.6 307.1h0.8M170.8 297.7h0.8M170.9 295.8h0.8M171.1 300.5h0.8M171.2 304h0.8M171.3 296.7h0.8M171.8 305.8h0.8M171.8 301h0.8M171.8 305.8h0.8M172.1 301h0.8M172.1 298.1h0.8M172.4 301.9h0.8M172.6 303.9h0.8M172.9 301.1h0.8M172.9 310.6h0.8M173 301.5h0.8M173.2 304.3h0.8M173.2 299.9h0.8M173.2 306.6h0.8M173.2 302h0.8M173.4 311.3h0.8M173.6 306.1h0.8M173.7 299.6h0.8M173.9 302.4h0.8M174 297.7h0.8M174.2 301.8h0.8M174.2 296h0.8M174.2 310h0.8M174.3 305.3h0.8M174.8 296.7h0.8M174.9 297.1h0.8M174.9 299.8h0.8M174.9 303.3h0.8M175.1 296.1h0.8M175.1 308.9h0.8M175.2 294.4h0.8M175.2 303.4h0.8M175.5 302.3h0.8M176.4 309.8h0.8M176.7 305h0.8M176.7 308.5h0.8M176.8 305.6h0.8M176.9 295.5h0.8M176.9 300.8h0.8M177 297.3h0.8M177.2 293.8h0.8M177.3 307h0.8M177.7 307h0.8M177.7 307h0.8M177.8 290.6h0.8M177.9 308.3h0.8M178 306.3h0.8M178.3 294.6h0.8M178.4 297.7h0.8M178.4 303.4h0.8M178.6 300h0.8M178.6 293.7h0.8M178.8 302.3h0.8M178.8 302.4h0.8M179 296h0.8M179.2 302.2h0.8M179.2 305.6h0.8M179.3 292.7h0.8M179.3 292.7h0.8M179.8 305.2h0.8M180.1 307.2h0.8M180.1 299.6h0.8M180.1 292.7h0.8M180.1 292.1h0.8M180.2 296.5h0.8M180.2 306.1h0.8M180.7 298h0.8M181 307.4h0.8M181 304h0.8M181.2 299.7h0.8M181.2 304.5h0.8M181.3 304.5h0.8M181.5 299.7h0.8M181.6 294.1h0.8M181.8 301.9h0.8M181.8 302.8h0.8M182 297.2h0.8M182.1 295.5h0.8M182.3 293.4h0.8M182.4 291.6h0.8M182.5 296.9h0.8M182.7 303h0.8M182.7 297h0.8M182.9 299.7h0.8M183 295.6h0.8M183.1 301.1h0.8M183.2 291.8h0.8M183.2 291.6h0.8M183.3 292.4h0.8M183.3 294.8h0.8M183.4 301.2h0.8M183.7 299.1h0.8M183.8 300.2h0.8M184 302.4h0.8M184.1 295.1h0.8M184.2 295.6h0.8M184.2 289.7h0.8M184.2 298.9h0.8M184.3 306.2h0.8M184.4 304.9h0.8M184.5 302h0.8M185 301.3h0.8M185.1 302.4h0.8M185.1 292h0.8M185.6 297.3h0.8M185.6 304.4h0.8M186 307h0.8M186.2 307.1h0.8M186.6 297.3h0.8M186.8 290.6h0.8M187.1 298.7h0.8M187.2 295.3h0.8M187.3 294.9h0.8M187.3 299.5h0.8M187.4 302.7h0.8M187.5 302.4h0.8M187.9 300.1h0.8M188 291.7h0.8M188 296.5h0.8M188.4 298.9h0.8M188.4 288.9h0.8M188.4 297.5h0.8M188.4 286.1h0.8M188.5 294.5h0.8M188.5 290.9h0.8M188.6 299.6h0.8M188.7 297h0.8M188.9 292.1h0.8M189 287.2h0.8M189.3 301.8h0.8M189.3 290.3h0.8M189.5 298.3h0.8M189.7 298.1h0.8M189.8 290.5h0.8M190.1 292.1h0.8M190.4 302.7h0.8M190.6 302.8h0.8M190.6 287.1h0.8M190.9 301.8h0.8M191 294h0.8M191.1 300.3h0.8M191.2 290.7h0.8M191.4 296.2h0.8M191.5 298.3h0.8M191.6 290.4h0.8M191.6 294.2h0.8M191.9 300.6h0.8M192.2 290.2h0.8M192.5 293.4h0.8M192.5 298.4h0.8M192.5 301.9h0.8M192.8 295.1h0.8M193 290.5h0.8M193.1 301.6h0.8M193.3 294.7h0.8M193.4 294.1h0.8M193.4 290h0.8M193.5 293.1h0.8M193.8 298.2h0.8M193.8 289h0.8M193.8 301.1h0.8M194.2 298.9h0.8M194.7 302.2h0.8M194.7 299.1h0.8M194.8 289.1h0.8M194.8 297.4h0.8M195 291.2h0.8M195.1 295.2h0.8M195.3 295.7h0.8M195.4 286.7h0.8M196 295.7h0.8M196.1 293.2h0.8M196.5 295.1h0.8M196.8 293.3h0.8M196.8 284.7h0.8M196.8 299.8h0.8M197.1 298.3h0.8M197.2 292.4h0.8M197.3 302.2h0.8M197.3 299.8h0.8M197.4 286.2h0.8M197.4 299.8h0.8M197.4 291.8h0.8M197.5 296.7h0.8M197.5 303.2h0.8M197.7 285.6h0.8M197.8 285.1h0.8M197.8 293.7h0.8M197.8 294.5h0.8M198.4 303.7h0.8M198.5 302h0.8M198.7 297.8h0.8M199 293.4h0.8M199.1 297.7h0.8M199.1 287.3h0.8M199.4 291.8h0.8M199.5 294.9h0.8M199.7 283.8h0.8M199.7 288.8h0.8M199.8 282.3h0.8M199.9 288.5h0.8M199.9 290.5h0.8M200 285.3h0.8M200 285.2h0.8M200.1 286.2h0.8M200.4 300.3h0.8M200.6 283.1h0.8M201 283.4h0.8M201.1 293.1h0.8M201.2 290.3h0.8M201.2 298.1h0.8M201.2 288.6h0.8M201.3 285.7h0.8M201.6 287.8h0.8M201.7 294h0.8M201.7 289.2h0.8M201.7 291.3h0.8M201.8 288.5h0.8M201.8 297.3h0.8M201.8 284.6h0.8M201.9 292.5h0.8M201.9 296.5h0.8M201.9 297h0.8M202.6 296.1h0.8M202.6 286.6h0.8M202.9 293.9h0.8M203.1 292.4h0.8M203.2 298h0.8M203.5 296.7h0.8M203.8 289.9h0.8M204 281.6h0.8M204 297.5h0.8M204.2 283.8h0.8M204.5 290h0.8M204.5 284.1h0.8M204.6 282h0.8M204.7 293.2h0.8M204.8 298.2h0.8M205 286.7h0.8M205 290.5h0.8M205 279.9h0.8M205.1 278.1h0.8M205.1 286.1h0.8M205.3 294.1h0.8M205.3 281.5h0.8M205.4 282.2h0.8M205.5 291.3h0.8M205.5 285.6h0.8M205.5 295.4h0.8M205.6 294.4h0.8M205.9 292.1h0.8M206 285.5h0.8M206 290h0.8M206.1 295h0.8M206.1 283.2h0.8M206.2 292.6h0.8M206.5 296.9h0.8M207.2 287.4h0.8M207.2 293.8h0.8M207.5 282.9h0.8M207.5 279.8h0.8M208 287h0.8M208.1 291.9h0.8M208.2 286h0.8M208.3 281.9h0.8M208.5 278.8h0.8M208.5 285.5h0.8M208.6 278.6h0.8M208.8 280.8h0.8M208.9 292.3h0.8M209 293.6h0.8M209.1 294.4h0.8M209.4 286.1h0.8M209.4 289.1h0.8M209.5 295.6h0.8M209.9 292.5h0.8M210 279.8h0.8M210 293.7h0.8M210 283.4h0.8M210.2 289.1h0.8M210.3 278.8h0.8M210.3 286h0.8M210.7 285.6h0.8M210.8 286.3h0.8M210.9 284.9h0.8M210.9 279.6h0.8M211.1 289.1h0.8M211.1 283.7h0.8M211.2 284.4h0.8M211.9 288.5h0.8M211.9 291.4h0.8M212.6 280.8h0.8M212.6 280.2h0.8M212.7 278.5h0.8M213 286.1h0.8M213.2 286.9h0.8M213.3 294.2h0.8M213.4 281.7h0.8M213.4 280.8h0.8M213.4 295.1h0.8M213.5 283h0.8M213.8 291.6h0.8M213.9 280.7h0.8M214 297.2h0.8M214.1 280.3h0.8M214.3 277.7h0.8M214.4 279h0.8M214.4 293.7h0.8M214.9 288.3h0.8M215.1 290h0.8M215.3 281.6h0.8M215.4 296h0.8M215.8 294h0.8M216 283.6h0.8M216.4 290.5h0.8M216.4 294.3h0.8M216.7 288.3h0.8M216.8 284.2h0.8M216.9 287.1h0.8M217 280.2h0.8M217.2 279.1h0.8M217.6 288.7h0.8M217.7 285.8h0.8M217.7 282.9h0.8M217.7 288.5h0.8M217.8 285.8h0.8M217.8 286h0.8M217.9 294.1h0.8M218.1 281.6h0.8M218.1 291.6h0.8M218.2 291.2h0.8M218.5 284.4h0.8M218.5 288.8h0.8M218.7 292.8h0.8M218.8 289.6h0.8M219.1 279.3h0.8M219.3 283.6h0.8M219.6 289.1h0.8M219.7 290.1h0.8M219.8 284.1h0.8M220.1 288.7h0.8M220.3 290.6h0.8M220.6 289.8h0.8M220.9 289.9h0.8M220.9 286.9h0.8M221 293.5h0.8M221.2 278.5h0.8M221.2 285.8h0.8M221.4 280h0.8M221.5 279.7h0.8M221.6 286.6h0.8M221.7 286.2h0.8M221.7 293.3h0.8M222 287.4h0.8M222.2 289.2h0.8M222.4 285.8h0.8M222.4 284.8h0.8M222.5 290.3h0.8M222.8 292.7h0.8M222.8 282h0.8M222.9 279.2h0.8M222.9 285.5h0.8M222.9 284.2h0.8M223 298.8h0.8M223.2 288.7h0.8M223.3 292.9h0.8M223.5 292.2h0.8M223.5 290.2h0.8M223.5 279.1h0.8M223.8 277.1h0.8M224 290.3h0.8M224.1 293.3h0.8M224.2 282.4h0.8M224.3 293.9h0.8M224.3 281.3h0.8M224.4 277.2h0.8M224.5 295.1h0.8M224.5 282.1h0.8M224.5 282.1h0.8M224.5 293.1h0.8M224.5 280.3h0.8M224.6 293h0.8M224.7 294.3h0.8M224.8 281.8h0.8M224.8 286.9h0.8M225.2 288.8h0.8M225.2 282.5h0.8M225.3 298h0.8M225.4 293.4h0.8M225.8 277h0.8M226.1 292.6h0.8M226.3 278.8h0.8M226.4 287h0.8M226.8 279.8h0.8M226.8 294.2h0.8M226.8 289.9h0.8M227 287h0.8M227 287.7h0.8M227.2 286.3h0.8M227.2 290.6h0.8M227.3 278.5h0.8M227.4 287.2h0.8M227.5 287.3h0.8M227.5 286.1h0.8M227.5 286.1h0.8M227.5 290.7h0.8M227.6 283.4h0.8M227.7 289h0.8M227.8 281.8h0.8M228.2 297.4h0.8M228.2 293.6h0.8M228.5 277.5h0.8M228.5 279.9h0.8M228.5 282.9h0.8M228.6 287.1h0.8M228.6 293.9h0.8M228.9 294.2h0.8M229 278.5h0.8M229.1 281.7h0.8M229.1 293.6h0.8M229.3 284.2h0.8M229.4 287.5h0.8M229.5 286.4h0.8M229.7 287h0.8M229.9 280h0.8M230 290.9h0.8M230.1 283.9h0.8M230.5 286h0.8M230.7 282.6h0.8M231.3 279.9h0.8M231.3 281.5h0.8M231.8 284h0.8M231.9 281.8h0.8M232 288.1h0.8M232.1 280.1h0.8M232.4 293.6h0.8M233.1 294.3h0.8M233.4 292.6h0.8M233.7 285h0.8M233.8 287.7h0.8M234 280.8h0.8M234.1 276.8h0.8M234.4 289.4h0.8M234.5 285h0.8M234.6 282.9h0.8M234.6 286.8h0.8M234.7 291.2h0.8M234.8 279.6h0.8M234.9 275.8h0.8M234.9 283h0.8M235 280.6h0.8M235.1 293.3h0.8M235.1 287.8h0.8M235.1 278.9h0.8M235.4 280.1h0.8M235.5 284.9h0.8M235.9 285.6h0.8M236 293.7h0.8M236.2 289.9h0.8M236.4 277.1h0.8M236.4 292h0.8M236.6 278.9h0.8M237 281.6h0.8M237.1 290.1h0.8M237.1 287.2h0.8M237.2 276h0.8M237.4 290.6h0.8M237.4 282.9h0.8M237.4 284.8h0.8M237.4 278.5h0.8M237.6 291h0.8M237.6 292.7h0.8M237.7 282.8h0.8M237.8 281.7h0.8M238 279.9h0.8M238 289.6h0.8M238.1 277.2h0.8M238.4 286h0.8M238.4 277.8h0.8M238.5 287h0.8M238.8 290.7h0.8M238.8 278.4h0.8M239.1 279.1h0.8M239.2 284h0.8M239.5 284.6h0.8M239.6 273.8h0.8M239.7 282.6h0.8M239.8 280.4h0.8M239.8 277.5h0.8M239.9 279.3h0.8M240 287.1h0.8M240 287.1h0.8M240.2 277h0.8M240.6 281.4h0.8M240.7 290.1h0.8M240.9 291.7h0.8M240.9 282.7h0.8M240.9 288.4h0.8M241 284h0.8M241 279h0.8M241 289h0.8M241.1 279h0.8M241.1 286.9h0.8M241.2 292.1h0.8M241.5 279.6h0.8M241.5 273.1h0.8M241.6 288.7h0.8M241.7 283.4h0.8M241.7 281.5h0.8M241.8 282.2h0.8M242 291h0.8M242.1 285.9h0.8M242.5 281.9h0.8M242.6 285.7h0.8M243.3 285.6h0.8M243.4 278.1h0.8M243.4 287.4h0.8M243.5 281.7h0.8M243.7 286.7h0.8M243.8 274.7h0.8M244 285.4h0.8M244.3 288.9h0.8M244.4 276.6h0.8M244.5 286.2h0.8M244.6 288.9h0.8M244.6 284.2h0.8M244.7 279.1h0.8M244.9 278h0.8M245.2 274h0.8M245.4 280.6h0.8M245.5 276.1h0.8M245.9 278.1h0.8M246 278.8h0.8M246.1 276.5h0.8M246.1 287.3h0.8M246.3 279.8h0.8M246.5 282.7h0.8M246.6 273.6h0.8M246.7 285.2h0.8M246.7 278.8h0.8M246.8 279.4h0.8M247 282h0.8M247 285.8h0.8M247.1 280.7h0.8M247.3 281h0.8M247.6 275.3h0.8M247.8 277h0.8M247.9 277.2h0.8M248 275.6h0.8M248.1 282.8h0.8M248.2 283.2h0.8M248.6 284h0.8M248.6 274.6h0.8M248.9 279.6h0.8M249 290h0.8M249.1 276.3h0.8M249.1 275.6h0.8M249.2 284h0.8M249.2 277.9h0.8M249.3 285.7h0.8M249.5 284.2h0.8M249.5 271.9h0.8M249.6 274.5h0.8M249.6 275h0.8M249.9 284.9h0.8M249.9 282.7h0.8M250.1 277.7h0.8M250.4 274.9h0.8M250.5 277.5h0.8M250.6 283.7h0.8M250.7 280.9h0.8M250.8 272.2h0.8M250.8 280.5h0.8M250.8 287.6h0.8M250.9 275.6h0.8M251.3 273.7h0.8M251.6 284h0.8M251.8 283.1h0.8M251.9 288h0.8M252.1 275.9h0.8M252.2 280h0.8M252.2 282h0.8M252.3 281.8h0.8M252.5 278.6h0.8M252.5 281.5h0.8M252.5 289.7h0.8M252.7 276.7h0.8M252.7 287.7h0.8M252.8 281.3h0.8M253.2 286.6h0.8M253.2 282.5h0.8M253.5 285.1h0.8M253.5 284.6h0.8M254.2 275.5h0.8M254.3 278.7h0.8M254.5 276.3h0.8M254.6 274h0.8M254.7 270.3h0.8M255 287.4h0.8M255.3 283h0.8M255.5 278h0.8M255.5 277.9h0.8M255.6 274.8h0.8M255.7 285.7h0.8M255.9 286.2h0.8M256 277.7h0.8M256.1 283.9h0.8M256.3 272.3h0.8M256.5 283.3h0.8M256.5 278.2h0.8M256.6 283.9h0.8M256.7 270.5h0.8M256.8 279h0.8M257 279.8h0.8M257.3 277.9h0.8M258 282.9h0.8M258.4 284.7h0.8M258.4 286.9h0.8M258.6 285h0.8M258.6 274.6h0.8M259 272.7h0.8M259.2 276.4h0.8M259.3 280.2h0.8M259.3 285.5h0.8M259.4 287.3h0.8M259.4 287.4h0.8M259.5 277.5h0.8M259.9 280.1h0.8M259.9 287h0.8M260 281h0.8M260.2 283h0.8M260.3 286.2h0.8M260.4 273.8h0.8M260.6 281.4h0.8M261.6 277.7h0.8M261.7 276h0.8M261.7 287.8h0.8M262 275h0.8M262 286.5h0.8M262 282.6h0.8M262.2 268.7h0.8M262.4 273.4h0.8M262.6 281.4h0.8M262.7 281.1h0.8M263 286.2h0.8M263 280.6h0.8M263.1 274.2h0.8M263.1 285.6h0.8M263.1 274.8h0.8M263.2 279.4h0.8M263.2 283h0.8M263.3 273.3h0.8M263.4 280.4h0.8M263.6 282.4h0.8M263.7 274.9h0.8M263.7 283.9h0.8M264 281.2h0.8M264.1 269.1h0.8M264.2 270.7h0.8M264.2 271.8h0.8M264.4 274.8h0.8M264.5 283.4h0.8M264.5 277.6h0.8M264.6 275.2h0.8M264.7 279.5h0.8M264.8 270.8h0.8M264.9 274.7h0.8M265 281.4h0.8M265 274.9h0.8M265.3 269.9h0.8M265.3 273.5h0.8M265.5 275.8h0.8M265.6 276.6h0.8M265.7 282h0.8M266 279.4h0.8M266.2 274.6h0.8M266.7 285.8h0.8M266.7 275.6h0.8M266.7 272h0.8M266.8 269h0.8M267 279.1h0.8M267.2 278.6h0.8M267.4 281.1h0.8M267.5 280h0.8M267.5 280.4h0.8M267.6 285.6h0.8M267.6 277.9h0.8M267.7 282.5h0.8M268 284.4h0.8M268 270.6h0.8M268.2 275.7h0.8M268.2 280.9h0.8M268.7 271h0.8M268.8 281.5h0.8M268.8 280.4h0.8M268.9 277.7h0.8M269.4 273.2h0.8M269.4 278.3h0.8M269.5 283.3h0.8M269.5 275.7h0.8M269.5 270.5h0.8M269.5 284.9h0.8M269.6 274.8h0.8M269.7 283.5h0.8M269.9 280.4h0.8M270.6 282.3h0.8M270.7 271h0.8M270.8 268h0.8M270.8 279.9h0.8M270.9 280.4h0.8M271.1 273.5h0.8M271.2 272.4h0.8M271.2 274.3h0.8M271.2 284.3h0.8M271.2 269.3h0.8M271.6 285.3h0.8M271.7 275.2h0.8M271.7 281h0.8M271.8 271.8h0.8M271.8 282.2h0.8M272.1 279h0.8M272.3 284.1h0.8M272.3 283.6h0.8M272.3 280.2h0.8M272.5 278.8h0.8M272.7 274.2h0.8M272.8 272.7h0.8M273 278.6h0.8M273.1 271h0.8M273.3 270.9h0.8M273.3 277.4h0.8M273.4 269.5h0.8M273.5 270.2h0.8M273.7 279.2h0.8M273.8 276.6h0.8M274.1 268h0.8M274.5 275h0.8M274.5 281.1h0.8M274.7 271.7h0.8M274.9 266.8h0.8M275.1 268.4h0.8M275.2 281.8h0.8M275.2 271.1h0.8M275.3 289h0.8M275.3 282.5h0.8M275.7 271h0.8M275.7 271.7h0.8M275.7 281.8h0.8M275.8 283.7h0.8M276.3 282.6h0.8M276.6 278.1h0.8M276.7 276.4h0.8M276.8 271.7h0.8M276.9 270.6h0.8M277.2 280.1h0.8M277.4 281.4h0.8M277.4 279.6h0.8M277.7 271.3h0.8M277.7 279.5h0.8M277.8 277.5h0.8M277.9 271.5h0.8M278.1 266.1h0.8M278.3 285.5h0.8M278.3 275.8h0.8M278.6 279.5h0.8M278.8 268h0.8M278.9 276.9h0.8M279 276.3h0.8M279.1 276.4h0.8M279.1 276.2h0.8M279.3 283.3h0.8M279.4 281.9h0.8M279.4 267.1h0.8M279.5 265.4h0.8M279.6 271.5h0.8M279.6 277.6h0.8M279.8 269.2h0.8M280 271.8h0.8M280.2 272h0.8M280.3 275.3h0.8M280.9 285.5h0.8M280.9 276.8h0.8M281 276h0.8M281.2 275.3h0.8M281.3 278.5h0.8M281.4 280.5h0.8M282.1 274.3h0.8M282.2 278.3h0.8M282.6 280.5h0.8M282.7 271.5h0.8M282.7 274.5h0.8M283.3 267.4h0.8M283.5 269.1h0.8M283.5 277.9h0.8M283.6 280.4h0.8M284.1 273.7h0.8M284.3 279.9h0.8M284.4 279.1h0.8M284.5 273.3h0.8M284.6 278.3h0.8M284.7 270.4h0.8M285.1 269.4h0.8M285.2 281.3h0.8M285.4 278.5h0.8M285.4 263.8h0.8M285.4 277.2h0.8M285.7 283h0.8M286 283.8h0.8M286.3 280.4h0.8M286.3 274.9h0.8M286.4 271.1h0.8M286.5 282.1h0.8M286.6 282.6h0.8M286.6 270.1h0.8M286.7 268.4h0.8M286.8 271.3h0.8M286.9 272.5h0.8M287.1 280.1h0.8M287.2 272h0.8M287.3 268.2h0.8M287.4 280.4h0.8M287.7 274.7h0.8M287.7 278.1h0.8M287.8 275h0.8M287.9 281.3h0.8M287.9 273.7h0.8M288.5 273.4h0.8M288.7 287h0.8M288.8 268.9h0.8M289.1 272.4h0.8M289.1 283.8h0.8M289.4 280.8h0.8M289.4 279h0.8M289.5 278.9h0.8M289.5 279.1h0.8M289.6 282.8h0.8M289.6 275.9h0.8M289.7 274.7h0.8M289.9 277.4h0.8M289.9 273.2h0.8M290.1 272.7h0.8M290.2 279.4h0.8M290.4 267.9h0.8M290.6 280.3h0.8M290.7 269h0.8M290.9 277.5h0.8M291.1 270.9h0.8M291.5 280.3h0.8M291.5 278.4h0.8M291.6 267.3h0.8M291.8 273.1h0.8M291.9 273.9h0.8M292.5 276.4h0.8M292.6 267.7h0.8M292.7 279.3h0.8M292.7 278.4h0.8M292.7 274.3h0.8M292.8 272h0.8M293 278.4h0.8M293 274.6h0.8M293.1 267.5h0.8M293.4 273.8h0.8M293.4 284.4h0.8M293.5 272.1h0.8M293.9 273.3h0.8M294 272.6h0.8M294 273.9h0.8M294 272.6h0.8M294.1 280.3h0.8M294.2 270.1h0.8M294.2 269.2h0.8M294.3 285.6h0.8M294.5 280.8h0.8M294.6 281.3h0.8M294.6 275h0.8M294.7 265.6h0.8M294.9 266h0.8M294.9 280.4h0.8M295.4 283h0.8M295.4 272.8h0.8M295.5 277.4h0.8M295.6 270.1h0.8M295.8 279.1h0.8M295.8 270.1h0.8M296 274.1h0.8M296 280h0.8M296.7 273.6h0.8M296.7 276.6h0.8M296.9 262.3h0.8M297.2 268.4h0.8M297.2 269h0.8M297.4 273.6h0.8M297.5 271.5h0.8M297.7 282.6h0.8M297.7 279.9h0.8M297.7 279.1h0.8M297.7 269.5h0.8M297.8 275.5h0.8M297.8 273h0.8M297.8 270.8h0.8M297.8 280.1h0.8M298.2 278.8h0.8M298.3 279.2h0.8M298.4 273.2h0.8M298.4 276.6h0.8M298.5 281.3h0.8M299 273.2h0.8M299.2 269.6h0.8M299.5 268.3h0.8M299.5 281.3h0.8M299.6 268.8h0.8M300.2 266.7h0.8M300.2 274.7h0.8M300.4 265.7h0.8M300.5 273.1h0.8M300.5 270.7h0.8M300.8 272.6h0.8M300.9 278.4h0.8M301 270h0.8M301.3 282.4h0.8M301.3 279.4h0.8M301.6 281.2h0.8M301.7 273.5h0.8M301.9 272.6h0.8M301.9 268h0.8M302 271h0.8M302.1 271.2h0.8M302.2 269.6h0.8M302.4 275.4h0.8M302.5 276h0.8M302.6 277.7h0.8M302.8 278.5h0.8M302.8 272h0.8M302.9 280.4h0.8M303.1 271.6h0.8M303.2 270.1h0.8M303.2 271.1h0.8M303.3 269.9h0.8M303.4 271.9h0.8M303.5 268.9h0.8M303.6 280.7h0.8M303.7 269.5h0.8M303.9 281.5h0.8M304 281.6h0.8M304 280.5h0.8M304 270.4h0.8M304.3 267.8h0.8M304.4 277.5h0.8M304.4 281.8h0.8M304.4 282.4h0.8M304.5 274.6h0.8M304.6 279.5h0.8M304.7 271.4h0.8M304.8 267.9h0.8M305.2 270.4h0.8M305.2 282.8h0.8M305.2 279.3h0.8M305.3 267.3h0.8M305.4 272.5h0.8M305.7 275h0.8M305.9 281.4h0.8M306 278.4h0.8M306.2 268.5h0.8M306.4 271.1h0.8M306.7 280h0.8M306.8 281.5h0.8M307 279.9h0.8M307 269.5h0.8M307.1 279.5h0.8M307.1 269h0.8M307.2 264.2h0.8M307.3 281.6h0.8M307.5 269.1h0.8M307.5 267h0.8M307.7 278h0.8M307.9 275.1h0.8M308.1 283.3h0.8M308.2 272.7h0.8M308.2 277.6h0.8M308.6 272.5h0.8M308.6 272.7h0.8M309 272h0.8M309.1 269.1h0.8M309.3 272.6h0.8M309.6 269.6h0.8M309.7 278.3h0.8M309.9 266.5h0.8M309.9 271h0.8M309.9 265.4h0.8M310 266.7h0.8M310 271.9h0.8M310.4 267.8h0.8M310.6 270.3h0.8M311.1 275.7h0.8M311.1 276.2h0.8M311.2 269.5h0.8M311.5 264.9h0.8M311.5 278.3h0.8M311.8 281.5h0.8M311.9 270.7h0.8M312 274h0.8M312.1 269.3h0.8M312.2 276h0.8M312.4 273.4h0.8M312.6 275.1h0.8M312.7 280.1h0.8M312.9 278.2h0.8M313 271.2h0.8M313 281.8h0.8M313 272.6h0.8M313 276.2h0.8M313.1 270.9h0.8M313.2 280h0.8M313.2 268.9h0.8M313.8 268.4h0.8M313.9 276h0.8M314.4 266.1h0.8M314.4 276.6h0.8M314.6 270.5h0.8M314.6 280h0.8M315 266.7h0.8M315 274.9h0.8M315.1 272.9h0.8M315.1 280.3h0.8M316.5 269.6h0.8M316.8 265h0.8M316.9 279h0.8M317 269.8h0.8M317.1 278.5h0.8M317.4 271.7h0.8M317.5 269.4h0.8M317.5 269h0.8M317.6 278.7h0.8M317.6 267.8h0.8M318 273.5h0.8M318 272.8h0.8M318 273.5h0.8M318 275.9h0.8M318 262.5h0.8M318.7 277.3h0.8M318.8 274.8h0.8M318.8 267.7h0.8M319.3 265.7h0.8M319.5 276.6h0.8M319.5 276.4h0.8M319.6 280.2h0.8M319.6 276.3h0.8M319.7 270.1h0.8M319.7 273.9h0.8M319.8 280.9h0.8M320 266.9h0.8M320.3 282.4h0.8M320.5 270.9h0.8M320.7 271.4h0.8M320.9 272.8h0.8M321.4 265.9h0.8M321.6 270.7h0.8M321.7 269.3h0.8M321.7 270.5h0.8M321.7 264.1h0.8M321.8 275h0.8M321.9 276.1h0.8M322 268.7h0.8M322.1 264.6h0.8M322.1 274.4h0.8M322.2 273.6h0.8M322.2 266.6h0.8M322.3 281.7h0.8M322.7 274.9h0.8M322.7 275.8h0.8M322.8 267.1h0.8M323.2 268.9h0.8M323.8 273.9h0.8M323.9 268.3h0.8M324 278.8h0.8M324.1 281.6h0.8M324.3 274.3h0.8M324.3 268h0.8M324.4 268.8h0.8M324.4 269.4h0.8M324.5 265.2h0.8M324.5 273.2h0.8M324.5 273.7h0.8M324.6 260.8h0.8M324.6 273.7h0.8M324.6 274.2h0.8M324.7 272.9h0.8M325 265.5h0.8M325.1 275.5h0.8M325.5 267.7h0.8M325.5 270.2h0.8M325.6 278.3h0.8M325.6 277.3h0.8M325.7 268.6h0.8M325.7 278.5h0.8M325.9 266.8h0.8M326 263.1h0.8M326 277.7h0.8M326.1 264.9h0.8M326.2 273.3h0.8M326.3 260.9h0.8M326.7 263.6h0.8M326.9 270.8h0.8M327 265.9h0.8M327.1 277.1h0.8M327.3 275.3h0.8M327.4 280.1h0.8M327.7 262.3h0.8M327.7 270.6h0.8M327.9 272.6h0.8M328.2 262.5h0.8M328.4 276.5h0.8M328.5 275.1h0.8M328.6 268.9h0.8M329 272.3h0.8M329 269.7h0.8M329.3 270h0.8M329.4 266.2h0.8M329.4 263.7h0.8M329.6 264.9h0.8M330 274.8h0.8M330.2 269.7h0.8M330.4 273.2h0.8M330.4 278.7h0.8M330.5 264.1h0.8M330.6 274h0.8M330.8 272.2h0.8M330.9 270.4h0.8M330.9 276.8h0.8M331.1 274.7h0.8M331.2 277.1h0.8M331.2 263.9h0.8M331.3 276.5h0.8M332 280h0.8M332 281.5h0.8M332.3 277.5h0.8M332.3 274.3h0.8M332.6 274.6h0.8M332.6 278.3h0.8M333.3 273.4h0.8M333.3 264.2h0.8M333.5 266.9h0.8M333.5 263.5h0.8M333.7 276.5h0.8M333.8 261.4h0.8M333.9 266.7h0.8M334 276.3h0.8M334.2 269.4h0.8M334.3 279.2h0.8M334.4 268.6h0.8M334.6 268.5h0.8M334.9 268.3h0.8M335.2 279h0.8M335.2 272.2h0.8M335.4 276h0.8M335.4 271.8h0.8M335.4 268.6h0.8M335.6 263h0.8M335.7 275.3h0.8M335.9 278.3h0.8M335.9 262.4h0.8M336.2 271.8h0.8M336.5 273.1h0.8M336.5 264h0.8M336.7 272.5h0.8M336.7 272.7h0.8M336.8 276.9h0.8M336.8 269.2h0.8M336.9 262.8h0.8M337 274.1h0.8M337.3 277.9h0.8M337.3 269.6h0.8M337.5 274.9h0.8M337.7 262h0.8M337.8 276.3h0.8M338.1 269.1h0.8M338.1 263.1h0.8M338.2 278.1h0.8M338.2 266.3h0.8M338.3 276h0.8M338.4 268.1h0.8M338.7 266.2h0.8M338.7 279h0.8M338.8 263.4h0.8M338.9 269.8h0.8M338.9 271.9h0.8M339 279h0.8M339.2 269.1h0.8M339.4 269.9h0.8M339.5 268h0.8M339.8 268h0.8M339.8 268.6h0.8M339.9 270h0.8M340.6 262.9h0.8M340.8 275.4h0.8M340.8 276.8h0.8M340.9 269h0.8M340.9 274.9h0.8M341 278.6h0.8M341 278.2h0.8M341.5 271.2h0.8M341.6 260.1h0.8M341.7 270h0.8M341.8 265.6h0.8M342.2 263.4h0.8M342.3 262.8h0.8M342.3 269.9h0.8M342.5 277.7h0.8M342.5 264.3h0.8M342.5 265.8h0.8M342.7 262.1h0.8M342.8 273.5h0.8M342.8 272.8h0.8M343 266.4h0.8M343.5 276.1h0.8M343.5 267.6h0.8M343.7 277.7h0.8M343.8 276.7h0.8M344.2 276.1h0.8M344.2 275.7h0.8M344.4 277.9h0.8M345 271.2h0.8M345 273.4h0.8M345.4 261.8h0.8M345.5 269.8h0.8M345.8 275.9h0.8M345.8 274.3h0.8M345.8 266.2h0.8M345.9 280.7h0.8M346 266.4h0.8M346.1 266h0.8M346.7 260.6h0.8M346.7 266.8h0.8M346.7 275.6h0.8M346.9 269.4h0.8M347 264h0.8M347 269.5h0.8M347 271.8h0.8M347.2 272.6h0.8M347.2 272.8h0.8M347.3 265.3h0.8M347.4 271.4h0.8M347.5 273.6h0.8M347.5 263.4h0.8M347.6 274.5h0.8M347.6 275.6h0.8M347.6 275.9h0.8M347.8 275.2h0.8M348.2 272.7h0.8M348.3 270.1h0.8M348.4 275.1h0.8M348.5 260.4h0.8M348.6 272.2h0.8M348.7 266.1h0.8M348.8 270.8h0.8M348.9 273.2h0.8M349 264.3h0.8M349 269.4h0.8M349.5 265.6h0.8M349.5 273.3h0.8M349.5 267.1h0.8M349.5 269.5h0.8M349.6 265.2h0.8M349.7 270h0.8M349.8 264.6h0.8M350 277.3h0.8M350.4 275.8h0.8M350.5 262.1h0.8M350.5 263.9h0.8M350.5 260.6h0.8M350.7 275.6h0.8M350.7 271.2h0.8M350.8 261.1h0.8M350.9 270.1h0.8M351 271.8h0.8M351.5 263.7h0.8M351.6 261.5h0.8M351.8 266h0.8M352.1 262.8h0.8M352.2 261.8h0.8M352.3 269.6h0.8M352.3 261.8h0.8M352.4 272.1h0.8M352.5 265.3h0.8M352.5 264.9h0.8M352.7 269.4h0.8M352.8 276.1h0.8M353.1 276h0.8M353.4 279.2h0.8M353.4 270.4h0.8M353.7 264.1h0.8M354.2 262h0.8M354.3 276.6h0.8M354.3 269h0.8M354.4 274.3h0.8M354.5 274.3h0.8M354.7 273.3h0.8M354.9 277.1h0.8M355.2 269.4h0.8M355.5 279.2h0.8M355.9 266.6h0.8M356.1 268.8h0.8M356.2 275.9h0.8M356.3 275.5h0.8M356.4 268h0.8M356.4 262.3h0.8M356.9 260h0.8M357 275h0.8M357.2 258h0.8M357.3 274.9h0.8M357.4 272h0.8M357.5 264.4h0.8M357.7 264.3h0.8M358.2 269.1h0.8M358.3 274.6h0.8M358.3 268.6h0.8M358.6 267.4h0.8M358.7 268.5h0.8M358.8 264.9h0.8M358.8 267.8h0.8M359.1 271.1h0.8M359.1 264.9h0.8M359.2 274.5h0.8M359.6 276.1h0.8M359.6 261.2h0.8M359.6 262.4h0.8M359.7 270.6h0.8M359.8 267.1h0.8M359.9 259.6h0.8M359.9 263.8h0.8M360.1 263.6h0.8M360.3 274h0.8M360.4 256.5h0.8M360.5 272.6h0.8M360.9 276.2h0.8M361 266.8h0.8M361.1 267.1h0.8M361.3 268.6h0.8M361.5 277h0.8M361.6 260.6h0.8M361.6 268.5h0.8M361.6 263.7h0.8M361.6 274.8h0.8M361.9 274.8h0.8M362 261.7h0.8M362 268.7h0.8M362.7 271.6h0.8M362.7 256.8h0.8M363.1 264.8h0.8M363.7 261.8h0.8M363.7 263.8h0.8M364.2 265.3h0.8M364.2 261.1h0.8M364.5 263.5h0.8M364.5 265.1h0.8M364.6 261.2h0.8M364.8 273h0.8M364.9 275.8h0.8M365 272h0.8M365 271.2h0.8M365.2 263.9h0.8M365.4 266h0.8M366.1 257h0.8M366.2 261.2h0.8M366.3 260.4h0.8M366.6 274.5h0.8M366.7 273.5h0.8M366.7 261.6h0.8M366.7 260.6h0.8M366.9 262.1h0.8M367 273.4h0.8M367.1 263.4h0.8M367.2 264.7h0.8M367.3 274.9h0.8M367.5 260.5h0.8M367.7 265.5h0.8M367.7 268.3h0.8M367.9 261.6h0.8M367.9 270.9h0.8M368 272.6h0.8M368.2 261.7h0.8M368.4 259.7h0.8M368.4 270.2h0.8M368.6 275.3h0.8M368.6 273.4h0.8M368.8 278.3h0.8M368.9 276.3h0.8M369 267.5h0.8M369.1 267.8h0.8M369.2 268.9h0.8M369.2 267.7h0.8M369.2 272h0.8M369.3 262.5h0.8M370.5 270.5h0.8M370.5 262.5h0.8M370.8 263.6h0.8M370.8 264.6h0.8M370.8 274.2h0.8M370.8 276.2h0.8M370.9 272.8h0.8M370.9 268.7h0.8M371.4 274.2h0.8M371.4 259.7h0.8M371.6 268.6h0.8M371.7 272.7h0.8M371.8 269.7h0.8M371.8 266.5h0.8M371.9 264.6h0.8M372 264.9h0.8M372.2 264.4h0.8M372.4 271.6h0.8M372.6 278.9h0.8M372.7 265.2h0.8M373.2 267.9h0.8M373.4 268.7h0.8M373.4 261.5h0.8M373.9 270.2h0.8M374 268.7h0.8M374 271.8h0.8M374.1 273.7h0.8M374.4 263.7h0.8M374.5 263.1h0.8M374.6 257.1h0.8M375 271.5h0.8M375.1 271.3h0.8M375.5 267.3h0.8M375.5 272.6h0.8M375.6 275.5h0.8M375.9 264.6h0.8M376 271.5h0.8M376.2 268.6h0.8M376.2 272.9h0.8M376.4 261.7h0.8M376.5 260.6h0.8M376.5 266.6h0.8M376.6 259.6h0.8M376.8 270.9h0.8M377 263.4h0.8M377.2 273.5h0.8M377.3 266.8h0.8M377.7 262.3h0.8M377.7 261.1h0.8M377.9 268.1h0.8M377.9 267.8h0.8M378.1 260h0.8M378.1 268.3h0.8M378.7 270.7h0.8M378.8 273.4h0.8M378.8 264.4h0.8M378.9 260.6h0.8M379 260.5h0.8M379 274.4h0.8M379.1 266.4h0.8M379.1 268.5h0.8M379.2 261.2h0.8M379.2 271.9h0.8M379.3 256.7h0.8M379.3 276h0.8M379.3 268h0.8M379.4 262.8h0.8M379.5 271.5h0.8M379.7 262.8h0.8M379.7 264.7h0.8M379.8 270.4h0.8M380.3 266.8h0.8M380.5 270.8h0.8M380.6 268.4h0.8M380.8 257.8h0.8M380.9 260.4h0.8M380.9 257.7h0.8M380.9 273h0.8M381 268.9h0.8M381.2 273.5h0.8M381.2 269.6h0.8M381.3 266.7h0.8M381.3 269.6h0.8M381.5 262.4h0.8M381.6 266.2h0.8M381.7 267.6h0.8M381.8 262.8h0.8M381.9 265.2h0.8M381.9 256.7h0.8M381.9 266.3h0.8M382 264.6h0.8M382 271.3h0.8M382 269.6h0.8M382.2 271.5h0.8M382.7 271h0.8M382.7 266.5h0.8M383.1 269h0.8M383.3 268h0.8M383.5 264.5h0.8M383.5 263.1h0.8M383.7 272h0.8M383.8 261.2h0.8M384.8 260.6h0.8M384.9 256h0.8M385.2 263.4h0.8M385.2 255.7h0.8M385.5 267.9h0.8M386 260.6h0.8M386 263h0.8M386.1 269.7h0.8M386.1 269.5h0.8M386.4 272.9h0.8M386.4 270.7h0.8M386.6 268.9h0.8M386.9 265.6h0.8M387 273.6h0.8M387.1 265.3h0.8M387.2 268.2h0.8M387.3 265h0.8M387.6 262.8h0.8M387.7 261.2h0.8M387.7 275.8h0.8M387.8 268.5h0.8M388 272.7h0.8M388.2 269h0.8M389.4 266.3h0.8M389.4 269.1h0.8M389.6 268.8h0.8M389.6 264.6h0.8M390 258.5h0.8M390.1 271.5h0.8M390.1 261.6h0.8M390.2 276.8h0.8M390.4 271.5h0.8M390.6 274.6h0.8M390.6 261.3h0.8M390.7 268.3h0.8M391 270.1h0.8M391 260.6h0.8M391.1 271.2h0.8M391.2 271.1h0.8M391.4 270.2h0.8M391.7 274.1h0.8M391.8 273.6h0.8M391.8 261.7h0.8M391.8 266.4h0.8M391.9 265.1h0.8M392.1 271.1h0.8M392.1 268.8h0.8M392.2 270.1h0.8M392.3 275.5h0.8M392.6 268.1h0.8M392.7 273.4h0.8M393.4 266.2h0.8M393.5 268.7h0.8M393.5 258.5h0.8M393.6 270.3h0.8M393.6 271.9h0.8M393.6 262.2h0.8M393.9 268.6h0.8M393.9 271h0.8M394 261.8h0.8M394.5 265.1h0.8M394.6 270.1h0.8M394.7 263.1h0.8M394.7 264.3h0.8M394.8 265.7h0.8M394.9 268.1h0.8M395.5 259.7h0.8M395.6 260.5h0.8M395.6 267.6h0.8M396.2 266.8h0.8M396.3 269.5h0.8M396.6 268.4h0.8M396.8 270.8h0.8M396.9 263.5h0.8M397 266.7h0.8M397.2 271.1h0.8M397.3 266.8h0.8M397.4 258.6h0.8M397.5 270.3h0.8M397.5 268.6h0.8M397.6 267.5h0.8M397.7 261h0.8M397.9 268.6h0.8M397.9 258.8h0.8M398.3 268.7h0.8M398.4 257.4h0.8M398.5 271.2h0.8M398.5 256.6h0.8M398.5 270.6h0.8M398.6 258.5h0.8M398.7 258.6h0.8M399.3 260.5h0.8M399.3 269.2h0.8M399.4 268.8h0.8M399.4 258.4h0.8M399.7 262.3h0.8M399.8 261.2h0.8M399.9 268.3h0.8M399.9 263.9h0.8M400.3 275.3h0.8M400.4 269h0.8M400.4 267.9h0.8M400.5 272.5h0.8M400.7 260.1h0.8M400.9 258.3h0.8M401 262.9h0.8M401.1 267.9h0.8M401.3 259.4h0.8M401.4 272.1h0.8M401.6 261.6h0.8M401.6 262h0.8M401.7 270.5h0.8M401.8 259.8h0.8M401.8 259.3h0.8M402.1 266h0.8M402.1 268.4h0.8M402.4 262.5h0.8M402.4 261.9h0.8M402.5 273.8h0.8M403 257.7h0.8M403 269.3h0.8M403.2 260.6h0.8M403.2 265.5h0.8M403.3 264h0.8M403.7 259.3h0.8M403.7 261.5h0.8M403.8 266.9h0.8M404 267.8h0.8M404.1 273.9h0.8M404.1 271.9h0.8M404.2 265.2h0.8M404.3 266.7h0.8M404.5 268.8h0.8M404.6 260.2h0.8M405 257.3h0.8M405 265.2h0.8M405 262.8h0.8M405 264.7h0.8M405.1 265.4h0.8M405.3 262h0.8M405.4 272.6h0.8M405.5 271.9h0.8M405.5 262.4h0.8M405.5 265.2h0.8M405.7 273.2h0.8M405.9 266.6h0.8M405.9 267.4h0.8M406.1 271.8h0.8M406.2 261.2h0.8M406.2 257.8h0.8M406.3 270.3h0.8M406.3 264.1h0.8M406.6 265h0.8M406.6 256.6h0.8M406.8 259.3h0.8M406.9 270.4h0.8M406.9 264h0.8M407.1 259.9h0.8M407.1 261.3h0.8M407.2 260.2h0.8M407.3 273.4h0.8M407.3 260.2h0.8M407.5 263.3h0.8M407.5 262h0.8M407.6 256.5h0.8M407.7 266.4h0.8M407.7 261.4h0.8M407.7 269.9h0.8M407.8 264.2h0.8M408.1 262.5h0.8M408.2 263.5h0.8M408.3 261.7h0.8M408.4 272.9h0.8M408.5 274.2h0.8M408.7 266.3h0.8M409 271.5h0.8M409.3 264.8h0.8M409.5 271.1h0.8M409.7 264.6h0.8M409.8 263.8h0.8M409.8 268.4h0.8M410.4 267h0.8M410.5 264.1h0.8M410.5 270.1h0.8M410.6 272.7h0.8M410.7 265.2h0.8M410.7 261.9h0.8M410.8 268.1h0.8M410.9 268h0.8M411 259.4h0.8M411 263.2h0.8M411 264.3h0.8M411.2 261.5h0.8M411.4 255.1h0.8M411.5 256.8h0.8M411.6 261.9h0.8M411.8 272.7h0.8M412.3 264.6h0.8M412.3 273h0.8M412.4 267.7h0.8M412.5 266.8h0.8M412.7 266.3h0.8M412.8 270.1h0.8M413.2 267.4h0.8M413.6 256.6h0.8M413.6 261.2h0.8M413.8 265h0.8M414 265.3h0.8M414 256.1h0.8M414.2 261.9h0.8M414.3 272.1h0.8M414.5 261.2h0.8M414.6 271h0.8M414.7 261.7h0.8M414.8 269.3h0.8M414.9 258.2h0.8M414.9 270.2h0.8M415.1 265.9h0.8M415.1 273.5h0.8M415.2 265.5h0.8M415.4 265.2h0.8M415.5 259.7h0.8M415.6 272.4h0.8M416.1 260.1h0.8M416.3 262.8h0.8M416.4 271.3h0.8M416.5 262.1h0.8M416.9 272.3h0.8M417.1 270.1h0.8M417.1 259.5h0.8M417.1 269.5h0.8M417.2 268.9h0.8M417.3 275.4h0.8M417.9 272.5h0.8M417.9 260.1h0.8M418 275.2h0.8M418.6 256.8h0.8M418.7 270.6h0.8M418.8 264.7h0.8M418.8 270.7h0.8M418.9 263.6h0.8M419 259.4h0.8M419.1 273.1h0.8M419.6 262.4h0.8M419.6 268.1h0.8M419.7 272.3h0.8M419.9 268.2h0.8M419.9 269h0.8M419.9 261.1h0.8M419.9 268.5h0.8M420.2 275.4h0.8M420.3 261.3h0.8M420.5 269.3h0.8M420.6 275.3h0.8M420.6 265.3h0.8M420.7 257.5h0.8M420.8 265.7h0.8M421 269.4h0.8M421.3 261.8h0.8M421.7 257.6h0.8M421.7 268.6h0.8M421.9 258.7h0.8M421.9 263.7h0.8M422 267.3h0.8M422.1 260h0.8M422.4 267.3h0.8M422.5 255.7h0.8M422.9 265.9h0.8M423.1 264.7h0.8M423.1 265.1h0.8M423.7 261.1h0.8M423.8 269h0.8M424.1 258.9h0.8M424.3 267.9h0.8M424.3 257h0.8M424.8 270.1h0.8M424.9 270.7h0.8M424.9 265.9h0.8M424.9 263.2h0.8M425.1 269.6h0.8M425.3 269.1h0.8M425.3 272.1h0.8M425.3 267.3h0.8M425.6 270.1h0.8M425.6 272.5h0.8M425.7 264.4h0.8M425.8 273.1h0.8M425.8 273.8h0.8M425.9 261.9h0.8M426 259h0.8M426.3 268.6h0.8M426.4 269.6h0.8M426.4 254.9h0.8M426.4 267.7h0.8M426.6 264.4h0.8M427.2 271.8h0.8M427.4 257.3h0.8M428 266.8h0.8M428 263.7h0.8M428.4 268.2h0.8M428.4 258h0.8M428.6 272.6h0.8M428.7 275.1h0.8M428.8 264.9h0.8M429 262.7h0.8M429.3 274.3h0.8M429.4 269.5h0.8M429.4 264.4h0.8M429.6 260.1h0.8M429.6 260h0.8M429.6 267.5h0.8M430.5 273.3h0.8M430.6 259.8h0.8M430.7 265.2h0.8M431 262h0.8M431 271.3h0.8M431.3 256.7h0.8M431.4 256.8h0.8M431.7 269.9h0.8M431.8 257.1h0.8M431.9 268.5h0.8M432.1 272.6h0.8M432.2 270.6h0.8M432.3 271.8h0.8M432.4 268.1h0.8M432.6 273h0.8M432.6 272.7h0.8M432.6 255.1h0.8M432.7 258.2h0.8M432.8 257.6h0.8M433 266.9h0.8M433.1 273.7h0.8M433.3 269.6h0.8M433.3 257h0.8M433.3 271.5h0.8M433.4 272.8h0.8M433.7 259.6h0.8M434 260.3h0.8M434.1 260.4h0.8M434.2 267.9h0.8M434.2 272.5h0.8M434.2 258.9h0.8M434.2 268.6h0.8M434.4 264.1h0.8M434.6 269.1h0.8M434.6 265.2h0.8M434.6 260.5h0.8M434.7 272.1h0.8M434.9 260.3h0.8M435 272h0.8M435 259h0.8M435.2 264.5h0.8M435.4 257.9h0.8M435.6 262h0.8M435.6 264.5h0.8M435.8 261.6h0.8M435.9 267.4h0.8M436.1 270.5h0.8M436.1 258.8h0.8M436.3 267.9h0.8M436.4 255h0.8M436.4 271.4h0.8M436.6 258.5h0.8M436.8 266.3h0.8M437 261h0.8M437.2 262h0.8M437.3 270.9h0.8M437.4 261.6h0.8M437.4 259.4h0.8M437.6 268.8h0.8M437.6 266.7h0.8M437.6 270.5h0.8M437.7 269.1h0.8M437.8 255.2h0.8M437.8 267.9h0.8M438 257.3h0.8M438 267.1h0.8M438.1 265.2h0.8M438.2 266.3h0.8M438.3 263.1h0.8M438.3 266.9h0.8M438.4 271.6h0.8M438.5 256.1h0.8M438.6 269.9h0.8M438.6 266.1h0.8M438.7 262.5h0.8M438.8 270.2h0.8M438.9 271.8h0.8M438.9 262.8h0.8M438.9 270.5h0.8M438.9 262.7h0.8M439 266.4h0.8M439.1 256.1h0.8M439.5 269.2h0.8M439.5 258.1h0.8M439.6 272.4h0.8M439.6 256.1h0.8M439.7 264.8h0.8M439.8 258.9h0.8M439.8 266.2h0.8M439.8 264h0.8M440 271.4h0.8M440.1 273.6h0.8M440.4 267h0.8M440.5 265.2h0.8M440.5 270.5h0.8M440.7 266.3h0.8M440.9 263.7h0.8M440.9 255.6h0.8M441.1 266.7h0.8M441.2 264.7h0.8M441.3 259.5h0.8M441.4 259.4h0.8M441.4 262.1h0.8M441.5 267h0.8M441.6 270.3h0.8M441.7 262.7h0.8M441.9 271.4h0.8M441.9 252.5h0.8M442.1 260.4h0.8M442.5 261h0.8M442.6 258.5h0.8M442.8 256h0.8M442.8 274.3h0.8M443 260.5h0.8M443.4 261.2h0.8M443.4 254.7h0.8M443.4 257.9h0.8M443.5 270h0.8M443.6 262.1h0.8M443.7 259.8h0.8M443.8 258.4h0.8M443.9 272.8h0.8M444.5 263.8h0.8M444.7 267.8h0.8M444.9 260.4h0.8M445 266.9h0.8M445.2 258h0.8M445.3 267.2h0.8M445.7 256.2h0.8M446.1 265.1h0.8M446.1 257.4h0.8M446.2 260.9h0.8M446.2 264.6h0.8M446.6 270.6h0.8M446.8 270.4h0.8M446.9 264.8h0.8M447.1 265.8h0.8M447.1 267.5h0.8M447.3 264h0.8M447.3 266.9h0.8M447.3 269.6h0.8M447.3 263.1h0.8M447.6 257h0.8M447.7 270.2h0.8M447.8 265.5h0.8M448.3 263h0.8M448.8 255.5h0.8M448.8 267.5h0.8M448.9 265.2h0.8M449 267.7h0.8M449.2 259.7h0.8M449.3 268h0.8M449.4 262.3h0.8M449.5 267.3h0.8M449.6 260.8h0.8M449.7 261h0.8M449.9 260.9h0.8M449.9 266.6h0.8M450 262.3h0.8M450.2 267.7h0.8M450.2 260h0.8M450.2 266.2h0.8M450.4 257.5h0.8M450.4 264.4h0.8M450.7 262.6h0.8M450.8 259.6h0.8M450.8 266.4h0.8M451 260.5h0.8M451.2 261.2h0.8M451.6 263.7h0.8M451.7 258.2h0.8M451.7 261.6h0.8M451.9 270.4h0.8M452.1 257.9h0.8M452.1 263.6h0.8M452.3 268.8h0.8M452.5 270.5h0.8M452.6 260.8h0.8M452.6 270.4h0.8M452.9 267.6h0.8M452.9 267.1h0.8M453.2 268.6h0.8M453.2 257.6h0.8M453.4 259.9h0.8M453.5 273.7h0.8M453.8 262.9h0.8M453.8 256.6h0.8M453.9 266.8h0.8M454.2 252.7h0.8M454.3 257.3h0.8M454.5 263.8h0.8M454.5 264h0.8M454.9 255.6h0.8M455.1 271.3h0.8M455.2 258.6h0.8M455.4 264h0.8M455.6 255.6h0.8M455.8 265.3h0.8M455.9 274h0.8M456 263.1h0.8M456 258h0.8M456.1 261h0.8M456.4 269.3h0.8M456.5 260h0.8M456.5 257.5h0.8M456.5 262.6h0.8M456.8 264.9h0.8M456.9 257.4h0.8M457.1 257.6h0.8M457.2 260.6h0.8M457.3 267.9h0.8M457.5 261.2h0.8M457.6 258.8h0.8M457.7 258.3h0.8M457.8 257.6h0.8M458 257.9h0.8M458 266.7h0.8M458 270.5h0.8M458.2 263.5h0.8M458.3 256.2h0.8M458.3 265.2h0.8M458.4 267.4h0.8M458.4 260.6h0.8M458.7 255.4h0.8M459.1 259.2h0.8M459.3 271.9h0.8M459.3 271.4h0.8M459.4 265.7h0.8M459.5 257.9h0.8M459.5 270.3h0.8M459.6 261.9h0.8M459.8 263.4h0.8M459.9 262.9h0.8M459.9 267.4h0.8M460 255h0.8M460 266.4h0.8M460.3 264.7h0.8M460.4 272.6h0.8M460.5 266.6h0.8M460.9 259.8h0.8M460.9 260.8h0.8M461 267.9h0.8M461.1 260h0.8M461.4 263.1h0.8M461.8 256h0.8M461.8 268.9h0.8M462 261.2h0.8M462.1 272.4h0.8M462.1 265.5h0.8M462.1 255.3h0.8M462.1 268.5h0.8M462.1 251.2h0.8M462.3 259h0.8M462.5 262.3h0.8M462.7 263.2h0.8M462.8 263.7h0.8M463.5 271.3h0.8M463.6 267.2h0.8M463.8 273.5h0.8M463.9 269.1h0.8M463.9 267.6h0.8M464 269.3h0.8M464.2 262.8h0.8M464.2 267.4h0.8M464.2 253.6h0.8M464.3 267.3h0.8M464.3 259.4h0.8M464.4 262.9h0.8M464.6 258.9h0.8M464.6 261.6h0.8M464.7 271.9h0.8M464.7 271.3h0.8M464.9 258.9h0.8M465 259.5h0.8M465.1 273.2h0.8M465.1 254.9h0.8M465.4 256h0.8M465.4 256.4h0.8M465.6 266.1h0.8M465.6 262.6h0.8M465.7 257h0.8M466.1 256.8h0.8M466.2 256.4h0.8M466.2 255.3h0.8M466.4 268.2h0.8M466.7 265.5h0.8M467.1 271.2h0.8M467.1 268.7h0.8M467.2 256.4h0.8M467.3 252.5h0.8M467.5 262.8h0.8M467.7 270.1h0.8M468.2 257h0.8M468.4 264.5h0.8M468.6 255.4h0.8M468.8 266.2h0.8M469.1 270.6h0.8M469.3 270.7h0.8M469.5 269.8h0.8M469.5 256.3h0.8M469.7 255.2h0.8M469.7 255.3h0.8M469.8 262.4h0.8M470.1 257.2h0.8M470.2 263.1h0.8M470.2 258.7h0.8M470.3 256.2h0.8M470.3 253.9h0.8M470.6 265.1h0.8M470.7 268h0.8M470.9 264.8h0.8M471 270h0.8M471.1 273.2h0.8M471.2 267.2h0.8M471.3 265.4h0.8M471.3 262.1h0.8M471.3 254.3h0.8M471.4 265.3h0.8M471.4 268.2h0.8M471.5 266.2h0.8M471.7 258.5h0.8M471.8 266.3h0.8M471.9 263.1h0.8M472 257.2h0.8M472.1 267.3h0.8M472.2 263.5h0.8M472.5 266.7h0.8M472.6 269h0.8M472.9 262.5h0.8M473 270.7h0.8M473.2 259h0.8M473.2 263.2h0.8M473.4 255.7h0.8M473.5 258.4h0.8M473.6 268.1h0.8M473.6 272.5h0.8M473.6 257.2h0.8M473.9 274.3h0.8M474.1 255.8h0.8M474.6 272.3h0.8M474.6 264.7h0.8M474.6 261.6h0.8M474.8 265.6h0.8M474.8 268.9h0.8M474.8 254h0.8M474.8 272.5h0.8M475.1 263.3h0.8M475.1 259.2h0.8M475.2 262h0.8M475.2 264.3h0.8M475.5 255.3h0.8M475.9 261.7h0.8M475.9 269.3h0.8M475.9 257.7h0.8M476.2 266.7h0.8M476.4 267.5h0.8M476.5 258.7h0.8M476.8 259.9h0.8M477 266.5h0.8M477.3 264.1h0.8M477.3 269h0.8M477.4 262.3h0.8M477.4 263.6h0.8M477.5 264.9h0.8M477.7 267.3h0.8M477.7 261h0.8M477.7 268.7h0.8M478.2 264h0.8M478.3 269.1h0.8M478.6 265.8h0.8M478.6 264.9h0.8M478.6 270.8h0.8M478.8 259.6h0.8M478.9 261.4h0.8M479.3 256.1h0.8M479.3 267.2h0.8M479.4 261.9h0.8M479.5 256.7h0.8M479.5 266.7h0.8M479.7 269.8h0.8M479.7 265.5h0.8M479.8 267h0.8M479.8 261.2h0.8M480.3 263.2h0.8M480.6 262.1h0.8M480.7 262.1h0.8M480.7 268.6h0.8M481.1 265.6h0.8M481.4 260.6h0.8M481.7 270.7h0.8M481.7 269.9h0.8M481.8 258.3h0.8M481.8 260.6h0.8M482.2 256.3h0.8M482.4 265.8h0.8M482.6 263.8h0.8M482.9 261.2h0.8M483.3 267.9h0.8M483.3 268.3h0.8M483.3 260.7h0.8M483.3 254.7h0.8M483.3 262.5h0.8M483.3 270.7h0.8M483.5 269.6h0.8M483.5 267.1h0.8M483.8 264.4h0.8M484 269.2h0.8M484.2 268.3h0.8M484.3 260.3h0.8M484.3 271.2h0.8M484.4 274.3h0.8M484.5 269.8h0.8M484.7 272.1h0.8M484.8 262.8h0.8M484.9 271h0.8M484.9 259.7h0.8M485 267h0.8M485.1 254.8h0.8M485.1 266.5h0.8M485.2 268.1h0.8M485.3 272.1h0.8M485.3 268h0.8M485.5 261.5h0.8M485.9 266.8h0.8M486 256.6h0.8M486 263.4h0.8M486 264h0.8M486.1 259.8h0.8M486.3 258.4h0.8M486.3 266.4h0.8M486.5 261.7h0.8M486.6 256.9h0.8M486.6 268.1h0.8M486.8 260.2h0.8M486.8 269.6h0.8M486.8 264.9h0.8M487.2 256.3h0.8M487.4 254.3h0.8M487.4 264.5h0.8M487.5 261.2h0.8M488.1 270.8h0.8M488.1 266.9h0.8M488.2 252.9h0.8M488.5 253.1h0.8M488.5 266.5h0.8M488.5 264h0.8M488.6 258.1h0.8M489 262.5h0.8M489.1 258.7h0.8M489.1 260.4h0.8M489.5 256.9h0.8M489.8 264.3h0.8M489.8 254.7h0.8M489.9 258.2h0.8M490 255.7h0.8M490.2 267.1h0.8M490.3 259.7h0.8M490.4 253.9h0.8M490.5 252.4h0.8M490.7 264.4h0.8M490.8 253.8h0.8M491.1 267.8h0.8M491.2 257.5h0.8M491.3 261.9h0.8M491.3 257.8h0.8M491.4 263.3h0.8M491.4 267.3h0.8M491.7 268.2h0.8M491.8 259.1h0.8M492 259.2h0.8M492.1 265.9h0.8M492.1 265.4h0.8M492.4 260h0.8M492.4 257.1h0.8M492.5 261.8h0.8M492.5 266.2h0.8M492.9 265.4h0.8M493 268.2h0.8M493.1 261.2h0.8M493.2 262.7h0.8M493.4 260.2h0.8M493.5 257.8h0.8M493.6 266h0.8M493.6 259.3h0.8M493.7 257.9h0.8M493.9 265.9h0.8M494 258.3h0.8M494.1 254.2h0.8M494.3 269.8h0.8M494.4 269.1h0.8M494.4 272h0.8M494.4 268.2h0.8M494.4 259.9h0.8M494.7 268.5h0.8M494.8 267.8h0.8M494.9 265.1h0.8M495.1 263.4h0.8M495.1 261.9h0.8M495.1 267.1h0.8M495.2 263.4h0.8M495.2 258.6h0.8M495.2 256.3h0.8M495.4 262.3h0.8M495.7 261.1h0.8M495.8 264.7h0.8M495.9 260.9h0.8M495.9 265.3h0.8M496.2 264.9h0.8M496.3 264.2h0.8M496.3 262.4h0.8M496.7 262.1h0.8M496.7 267.9h0.8M496.7 261.5h0.8M497 269.9h0.8M497 268.1h0.8M497 271.4h0.8M497.1 255.8h0.8M497.4 260.3h0.8M497.6 260.4h0.8M497.8 263.6h0.8M498 259.7h0.8M498.6 263.1h0.8M498.7 266.3h0.8M499 264.2h0.8M499.2 271h0.8M499.4 262h0.8M499.6 261.2h0.8M499.6 265.3h0.8M500.5 262.9h0.8M500.5 266.1h0.8M500.6 258.5h0.8M500.7 258.2h0.8M500.7 271.2h0.8M500.8 264.6h0.8M500.8 257.7h0.8M501.3 259.5h0.8M501.3 269.1h0.8M501.3 273h0.8M501.3 255.7h0.8M501.4 275.2h0.8M501.6 270.7h0.8M501.8 264.6h0.8M502.1 257.2h0.8M502.1 262.4h0.8M502.3 267.4h0.8M502.4 272.2h0.8M502.9 256.2h0.8M503.3 267.1h0.8M503.3 271.8h0.8M503.5 261.3h0.8M503.6 263.6h0.8M503.7 257.7h0.8M503.7 266.6h0.8M504.1 256.8h0.8M504.6 271.4h0.8M504.6 262.3h0.8M505 259.6h0.8M505.1 259.4h0.8M505.1 268.4h0.8M505.3 272.2h0.8M505.7 270.9h0.8M505.9 267.8h0.8M506 254h0.8M506 265h0.8M506.6 264.8h0.8M507 264h0.8M507.1 260.8h0.8M507.1 256.6h0.8M507.1 269.5h0.8M507.3 265h0.8M507.3 268.2h0.8M507.3 267.7h0.8M507.6 258.6h0.8M508 267.4h0.8M508.1 270.1h0.8M508.2 261.6h0.8M508.3 263.1h0.8M508.3 259.9h0.8M508.4 267.6h0.8M508.6 273.1h0.8M508.6 260.6h0.8M508.9 261h0.8M509 261h0.8M509.1 270.8h0.8M509.1 260.6h0.8M509.2 260.1h0.8M509.8 266.3h0.8M510.1 262.2h0.8M510.3 255.7h0.8M510.7 263.2h0.8M510.8 262.5h0.8M511 267.6h0.8M511.1 270.9h0.8M511.2 260.6h0.8M511.3 256.6h0.8M511.5 265.5h0.8M511.5 257.3h0.8M511.6 266h0.8M511.6 257.6h0.8M511.7 260.2h0.8M511.7 266.6h0.8M512 266h0.8M512.7 271.2h0.8M513.1 267.1h0.8M513.2 264.3h0.8M513.3 259.2h0.8M513.4 265.8h0.8M513.5 269h0.8M513.7 255.7h0.8M514.1 271.2h0.8M514.1 270h0.8M514.1 261h0.8M514.2 264.1h0.8M514.5 256.2h0.8M514.6 251.6h0.8M514.6 256.9h0.8M514.6 267.3h0.8M514.6 258.8h0.8M514.8 269.6h0.8M514.9 268.3h0.8M515 263.1h0.8M515 260.3h0.8M515.1 271.4h0.8M515.3 258.2h0.8M515.5 261.1h0.8M515.6 271.5h0.8M515.6 259h0.8M515.7 262.3h0.8M515.7 270.5h0.8M515.8 267.7h0.8M516 259.9h0.8M516.1 256.5h0.8M516.4 254.8h0.8M517 260.2h0.8M517 263.4h0.8M517 264.5h0.8M517.3 258.4h0.8M517.4 258h0.8M517.5 271.5h0.8M517.5 254.8h0.8M517.5 269.1h0.8M517.7 260.2h0.8M517.8 264.2h0.8M517.9 258.5h0.8M518 262.5h0.8M518.1 260.2h0.8M518.7 256.3h0.8M518.9 263.2h0.8M518.9 257.2h0.8M519.1 253.5h0.8M519.3 261.7h0.8M519.3 263.6h0.8M519.4 254.7h0.8M519.5 253.4h0.8M519.5 272.3h0.8M519.6 256.9h0.8M520 259.6h0.8M520 263h0.8M520.2 263.7h0.8M520.3 271h0.8M520.5 264.8h0.8M520.6 258.4h0.8M520.7 256.7h0.8M520.7 261.7h0.8M520.8 252.4h0.8M520.8 268.5h0.8M521 270.6h0.8M521.2 270h0.8M521.4 252.4h0.8M521.6 266.2h0.8M521.7 258h0.8M521.9 256.7h0.8M522 270.2h0.8M522.3 261.8h0.8M522.3 266.2h0.8M522.4 258.2h0.8M522.8 260.4h0.8M522.9 265.2h0.8M523.4 268.9h0.8M523.7 266.5h0.8M523.8 265.8h0.8M524 256.5h0.8M524 252.7h0.8M524 270.8h0.8M524.1 253.5h0.8M524.4 271.1h0.8M524.4 269.8h0.8M524.7 266.5h0.8M524.7 271.1h0.8M524.8 261.6h0.8M525 261.1h0.8M525 254.8h0.8M525.2 266.2h0.8M525.2 252h0.8M525.3 268.6h0.8M525.6 257.5h0.8M525.6 259.6h0.8M525.6 258h0.8M526.3 265.7h0.8M526.3 269.7h0.8M526.3 268h0.8M526.4 268.7h0.8M526.5 263.6h0.8M526.5 264.8h0.8M526.7 264.7h0.8M526.8 274.1h0.8M526.9 265.7h0.8M526.9 270.1h0.8M527.2 269.7h0.8M527.2 264.6h0.8M527.3 260.6h0.8M527.6 263.3h0.8M527.6 252.6h0.8M527.7 262.5h0.8M527.9 260.3h0.8M528 268.1h0.8M528.1 267.1h0.8M528.2 263.3h0.8M528.3 262.1h0.8M528.3 271.5h0.8M528.3 256.4h0.8M528.4 268.1h0.8M528.4 265.7h0.8M528.6 261.9h0.8M528.7 260.6h0.8M529.2 262.8h0.8M529.3 256.4h0.8M529.6 269.6h0.8M529.7 268h0.8M529.8 273.3h0.8M529.8 268.3h0.8M530 262h0.8M530.1 255.6h0.8M530.3 272.4h0.8M530.3 265.3h0.8M530.4 257.3h0.8M530.5 267.9h0.8M530.6 261.2h0.8M530.7 258.9h0.8M530.7 258.6h0.8M530.7 263.6h0.8M530.9 269.6h0.8M531.1 259.1h0.8M531.3 257.6h0.8M531.8 270.9h0.8M531.8 269.9h0.8M532.4 261.1h0.8M532.4 262.4h0.8M533.1 258.7h0.8M533.2 263h0.8M533.2 262.7h0.8M533.7 264.2h0.8M533.8 272.2h0.8M533.9 257h0.8M534 269.5h0.8M534 265.6h0.8M534.1 269.8h0.8M534.2 270.1h0.8M534.3 269.1h0.8M534.4 259.1h0.8M534.6 271.9h0.8M534.6 272h0.8M534.6 258.8h0.8M534.8 255.8h0.8M534.9 261.4h0.8M534.9 267.6h0.8M534.9 263.6h0.8M534.9 259.8h0.8M535 258.6h0.8M535.3 257.9h0.8M535.3 259.4h0.8M535.4 273.1h0.8M535.4 259.8h0.8M535.7 256.9h0.8M536.1 262.8h0.8M536.1 270.7h0.8M536.4 256.4h0.8M536.5 258.7h0.8M536.6 259.5h0.8M536.6 265.8h0.8M536.6 257.9h0.8M536.7 265.3h0.8M536.7 265.7h0.8M536.9 258.3h0.8M536.9 261.1h0.8M537 273.1h0.8M537 257.9h0.8M537 256.7h0.8M537.4 268.3h0.8M537.9 270.2h0.8M538 259.3h0.8M538.2 261.7h0.8M538.4 268.7h0.8M538.5 257.6h0.8M538.5 266.5h0.8M538.6 256.8h0.8M538.8 270.6h0.8M539.3 264.4h0.8M539.5 260.3h0.8M540 263.5h0.8M540.3 260.8h0.8M540.4 271.5h0.8M540.7 255.3h0.8M540.7 264h0.8M540.9 262.5h0.8M541.1 260.2h0.8M541.3 259.6h0.8M541.4 261.6h0.8M541.4 261h0.8M541.4 254.6h0.8M541.8 265h0.8M541.8 257.1h0.8M542 270h0.8M542.2 258.7h0.8M542.2 263.3h0.8M542.4 256.1h0.8M542.8 261.9h0.8M543 268.9h0.8M543.2 258h0.8M543.4 269.4h0.8M543.9 269.4h0.8M544.1 270.8h0.8M544.1 259.9h0.8M544.2 273h0.8M544.3 271.1h0.8M544.4 258.2h0.8M544.4 258.7h0.8M544.6 255.4h0.8M544.7 264.2h0.8M544.8 267.3h0.8M544.8 264.6h0.8M545.1 264.8h0.8M545.1 263.7h0.8M545.2 268h0.8M545.2 269.6h0.8M545.2 263.6h0.8M545.3 257.6h0.8M545.4 272.7h0.8M545.6 265.8h0.8M545.6 254.1h0.8M545.8 271.3h0.8M546.1 266.9h0.8M546.2 266.4h0.8M546.6 258.9h0.8M547.3 258.9h0.8M547.4 260h0.8M547.5 263.3h0.8M547.5 255.3h0.8M547.6 260h0.8M548.1 260.2h0.8M548.2 258.5h0.8M548.2 261.3h0.8M548.6 254.8h0.8M548.7 260.5h0.8M548.9 270h0.8M549.2 255.9h0.8M549.5 253.8h0.8M549.6 260.9h0.8M549.7 268.4h0.8M549.7 265.7h0.8M549.9 262.5h0.8M550.2 253.3h0.8M550.2 252h0.8M550.3 270.9h0.8M550.6 265.3h0.8M550.6 258.4h0.8M550.9 261.7h0.8M551.2 256.6h0.8M551.2 259.2h0.8M551.3 269.1h0.8M551.4 269.2h0.8M551.6 266.3h0.8M551.6 269.3h0.8M551.7 256.7h0.8M551.7 263h0.8M551.8 265h0.8M551.9 257.7h0.8M552 266.4h0.8M552.2 264.7h0.8M552.5 266.2h0.8M552.6 254.5h0.8M552.9 270.2h0.8M552.9 273h0.8M553.3 258.1h0.8M553.8 259.9h0.8M554.2 269.5h0.8M554.3 264.6h0.8M554.3 261.6h0.8M554.4 269.6h0.8M554.5 263.3h0.8M554.8 265.8h0.8M555.1 269.3h0.8M555.1 268.7h0.8M555.2 271.2h0.8M555.3 270.4h0.8M555.6 264.5h0.8M555.7 259.2h0.8M555.7 268.1h0.8M555.8 255.1h0.8M555.9 272.1h0.8M556 251.9h0.8M556.1 260.5h0.8M556.8 257.5h0.8M557 260.8h0.8M557.1 264.2h0.8M557.1 263.5h0.8M557.4 259.4h0.8M557.5 267.3h0.8M557.6 256.9h0.8M557.7 253.7h0.8M557.7 253.8h0.8M557.8 266.1h0.8M557.9 263.7h0.8M558.4 257.6h0.8M558.4 256.7h0.8M558.5 259.1h0.8M558.6 257.6h0.8M558.9 262.9h0.8M559 263h0.8M559.2 258.1h0.8M559.5 254.1h0.8M559.6 264.3h0.8M559.7 260.6h0.8M559.8 264.3h0.8M559.8 258.4h0.8M559.9 270.4h0.8M559.9 269.7h0.8M560.1 266.2h0.8M560.1 258.4h0.8M560.1 254h0.8M560.2 263.2h0.8M560.2 265.8h0.8M560.5 269.4h0.8M560.6 256.6h0.8M560.7 268.5h0.8M560.7 257.6h0.8M560.8 270.1h0.8M560.8 269.1h0.8M560.8 252.8h0.8M561 271.6h0.8M561 264h0.8M561.3 253.6h0.8M561.4 257.1h0.8M561.5 268.3h0.8M561.5 270.4h0.8M561.5 256.5h0.8M561.6 269.9h0.8M561.8 266.7h0.8M562 269.3h0.8M562 264.5h0.8M562.2 265.7h0.8M562.3 260.9h0.8M562.4 254.2h0.8M562.5 261.8h0.8M562.5 267.9h0.8M562.7 263.6h0.8M562.8 263.2h0.8M563 253.2h0.8M563.1 268.6h0.8M563.1 253.1h0.8M563.1 266.7h0.8M563.2 263h0.8M563.4 259.3h0.8M563.4 255.3h0.8M563.5 261.3h0.8M563.8 263.7h0.8M564.1 265.3h0.8M564.4 264.5h0.8M564.7 261.2h0.8M564.9 254h0.8M564.9 265.5h0.8M565.1 266.9h0.8M565.4 254.7h0.8M565.7 268h0.8M566 255h0.8M566.2 266.5h0.8M566.2 252.9h0.8M566.8 255.3h0.8M566.9 266.6h0.8M567 257.7h0.8M567.1 266.1h0.8M567.1 261.7h0.8M567.1 261.9h0.8M567.3 265.2h0.8M567.4 267.5h0.8M567.4 267.5h0.8M567.4 259.9h0.8M568 256.7h0.8M568.2 267h0.8M568.2 258.3h0.8M568.4 263h0.8M568.7 270.1h0.8M568.7 259.4h0.8M568.9 263.8h0.8M569.1 258.9h0.8M569.1 264.9h0.8M569.1 262.8h0.8M569.3 254.1h0.8M569.4 260.3h0.8M569.6 257.6h0.8M570 268h0.8M570.2 257.8h0.8M570.2 251.1h0.8M570.4 268.4h0.8M571.2 256.1h0.8M571.3 263.6h0.8M571.5 262.1h0.8M571.6 259.7h0.8M571.7 255.5h0.8M572 262.7h0.8M572.1 266.3h0.8M572.1 267h0.8M572.2 263.7h0.8M572.2 253.4h0.8M572.6 254.7h0.8M572.7 253.6h0.8M573 261.4h0.8M573.5 268.4h0.8M573.6 255.3h0.8M573.7 264.9h0.8M573.8 257.6h0.8M573.9 258h0.8M574.2 264.4h0.8M574.3 267.1h0.8M574.3 265.9h0.8M574.4 267.8h0.8M574.5 263.8h0.8M574.7 257.1h0.8M574.8 266.4h0.8M574.8 256.4h0.8M574.9 261h0.8M574.9 269.6h0.8M574.9 258.2h0.8M575 261.9h0.8M575 263.3h0.8M575.4 258.6h0.8M575.5 257.8h0.8M575.6 259.3h0.8M575.7 257.4h0.8M575.8 258.8h0.8M575.8 260.8h0.8M576 258.1h0.8M576 269.6h0.8M576 256.7h0.8M576.2 269.8h0.8M576.2 264.9h0.8M576.3 259.6h0.8M576.5 254.1h0.8M576.5 265.3h0.8M577 267.7h0.8M577.1 267.9h0.8M577.2 260.9h0.8M577.2 257.8h0.8M577.4 255.2h0.8M577.4 254.6h0.8M577.5 265.1h0.8M577.5 264.4h0.8M577.6 265.7h0.8M577.7 266.2h0.8M577.8 259.7h0.8M577.9 253.3h0.8M578 259.3h0.8M578 257.7h0.8M578.1 261.1h0.8M578.2 260.1h0.8M578.2 252.6h0.8M578.3 263.9h0.8M578.4 255h0.8M578.5 259.4h0.8M578.6 257.7h0.8M578.6 267.5h0.8M579.3 256.1h0.8M579.4 254h0.8M579.6 260.6h0.8M579.6 268.5h0.8M579.7 264.7h0.8M579.8 270.4h0.8M579.9 258.4h0.8M580 259.7h0.8M580 257.1h0.8M580.2 251.6h0.8M580.2 268.8h0.8M580.3 262.7h0.8M580.9 261.1h0.8M581 265h0.8M581.2 257.3h0.8M581.2 265.5h0.8M581.4 255.8h0.8M581.5 252h0.8M581.5 266.8h0.8M581.8 264.1h0.8M581.9 255.4h0.8M581.9 257h0.8M581.9 252.7h0.8M582 268.7h0.8M582.3 261.6h0.8M582.5 266.1h0.8M582.6 265.3h0.8M582.6 255.9h0.8M583 265.5h0.8M583.1 262.1h0.8M583.4 270.2h0.8M583.4 255.1h0.8M583.8 257.6h0.8M583.9 262.6h0.8M584 261.4h0.8M584.1 261.5h0.8M584.1 264.6h0.8M584.2 256.9h0.8M584.6 263.8h0.8M584.6 258.6h0.8M584.8 259.8h0.8M584.8 253.8h0.8M584.8 260.9h0.8M585.1 258.9h0.8M585.3 262.2h0.8M585.3 267.7h0.8M585.3 263.5h0.8M585.3 256.7h0.8M585.6 258.6h0.8M586 252.9h0.8M586.2 257.5h0.8M586.5 254.3h0.8M586.6 256.9h0.8M586.6 253.9h0.8M586.7 259.7h0.8M587 253.5h0.8M587 260.9h0.8M587.1 266.4h0.8M587.3 265.6h0.8M587.3 267.5h0.8M587.3 268.4h0.8M587.4 266.8h0.8M587.7 267.2h0.8M588 270.8h0.8M588 264.6h0.8M588.2 262h0.8M588.5 267.3h0.8M588.7 255.2h0.8M588.7 271.8h0.8M588.7 270.2h0.8M588.7 261h0.8M589.2 267.3h0.8M589.4 266h0.8M589.5 260.3h0.8M589.9 252.7h0.8M590.1 259.4h0.8M590.6 255.2h0.8M591.1 259.4h0.8M591.3 257.1h0.8M591.4 261.2h0.8M591.4 270.2h0.8M591.5 267.2h0.8M592 264.8h0.8M592.3 256h0.8M592.3 263.2h0.8M592.3 256.4h0.8M592.3 267.9h0.8M592.3 266.4h0.8M592.3 266h0.8M592.4 260.2h0.8M592.4 254.8h0.8M592.7 270.4h0.8M592.9 254.3h0.8M593 266.6h0.8M593 256.9h0.8M593 254.1h0.8M593.2 265.2h0.8M593.3 264h0.8M593.4 267h0.8M593.5 265.2h0.8M593.6 267.9h0.8M593.8 265h0.8M594.8 260h0.8M595 268.6h0.8M595.1 264.8h0.8M595.3 256h0.8M595.4 258.3h0.8M595.5 255.3h0.8M595.7 258.3h0.8M596.5 266.7h0.8M596.6 253.3h0.8M596.7 266.3h0.8M596.7 264.4h0.8M596.7 254.8h0.8M597.4 254.1h0.8M597.4 265.7h0.8M597.5 271.6h0.8M597.5 260.7h0.8M597.7 266.3h0.8M597.9 268.6h0.8M598 268.4h0.8M598.1 258h0.8M598.1 268.9h0.8M598.2 259.6h0.8M598.4 256.8h0.8M598.4 262.3h0.8M598.4 268.1h0.8M598.6 263.9h0.8M598.9 263.7h0.8M598.9 253.1h0.8M599 251.7h0.8M599.1 269.2h0.8M599.1 265.2h0.8M599.8 257.8h0.8M599.9 266.6h0.8M600.2 268.5h0.8M600.4 267.2h0.8M600.4 253.7h0.8M600.5 266.8h0.8M600.6 265.5h0.8M600.7 263.3h0.8M600.8 261.9h0.8M601.1 259.1h0.8M601.3 253.8h0.8M601.3 271.3h0.8M601.3 270.7h0.8M601.4 260.7h0.8M601.6 262h0.8M601.6 267.2h0.8M601.7 261.5h0.8M601.7 254.4h0.8M601.9 256.7h0.8M602 255.4h0.8M602.3 261h0.8M602.5 257h0.8M602.8 266h0.8M602.8 252.5h0.8M603.1 268.7h0.8M603.3 256.4h0.8M603.6 260.9h0.8M603.6 259.7h0.8M603.9 254.6h0.8M603.9 257.9h0.8M604 256.8h0.8M604.2 256.1h0.8M604.2 255.2h0.8M604.5 255.5h0.8M605 265.2h0.8M605 264.5h0.8M605 261h0.8M605 257.5h0.8M605.3 262.6h0.8M605.4 258.4h0.8M605.8 255.6h0.8M606 256.2h0.8M606.2 255.6h0.8M606.2 267.1h0.8M606.4 267.3h0.8M606.7 258.5h0.8M607.9 267h0.8M608 261.6h0.8M608 265.8h0.8M608.2 255h0.8M608.2 262.2h0.8M608.3 267.6h0.8M608.4 254h0.8M608.4 260.3h0.8M608.6 266h0.8M608.9 258h0.8M609.2 250.6h0.8M609.2 256.6h0.8M609.3 256.2h0.8M609.5 254.8h0.8M609.6 254.3h0.8M609.9 264.2h0.8M609.9 264.5h0.8M609.9 257.9h0.8M610 252.7h0.8M610.1 253.2h0.8M610.1 251.3h0.8M610.2 255.6h0.8M610.5 268.6h0.8M610.7 267.4h0.8M610.7 256.6h0.8M610.7 268.1h0.8M610.9 264h0.8M611 267.4h0.8M611.3 268.9h0.8M611.8 266.5h0.8M611.8 258.2h0.8M612.2 264.4h0.8M612.3 265.8h0.8M612.5 263.8h0.8M612.5 264.9h0.8M612.9 265.4h0.8M613.1 253.1h0.8M613.3 265h0.8M613.4 259.3h0.8M613.4 252h0.8M613.4 263.1h0.8M613.5 266.9h0.8M613.5 258.8h0.8M613.7 259.2h0.8M613.9 251.8h0.8M614 258.4h0.8M614.3 255.2h0.8M614.4 253.3h0.8M614.6 266.5h0.8M614.7 261.8h0.8M614.8 264.2h0.8M614.8 258.9h0.8M614.8 255.8h0.8M614.9 253.5h0.8M615.3 266.5h0.8M615.4 255.7h0.8M615.5 251.8h0.8M615.7 263.1h0.8M615.8 259.1h0.8M615.9 267.6h0.8M616 262.6h0.8M616.1 265.6h0.8M616.3 263.5h0.8M616.4 256.7h0.8M616.4 255.1h0.8M616.5 255.2h0.8M616.6 264h0.8M616.7 268.9h0.8M617.2 266.1h0.8M617.3 263.4h0.8M617.4 260.7h0.8M617.5 254.1h0.8M617.5 267h0.8M617.7 256.3h0.8M617.8 258.8h0.8M617.8 272.6h0.8M617.9 262h0.8M618.3 259.8h0.8M618.5 267.2h0.8M618.6 263.9h0.8M618.7 257.7h0.8M618.7 264.3h0.8M618.8 261.4h0.8M618.9 265.6h0.8M619.2 251.4h0.8M619.3 265.6h0.8M619.3 259.4h0.8M619.4 256.1h0.8M619.6 255h0.8M619.9 267.3h0.8M620 267h0.8M620.1 261.2h0.8M620.4 265.5h0.8M620.6 262h0.8M620.8 259.3h0.8M620.9 269h0.8M621.5 263.9h0.8M621.5 261.2h0.8M621.6 268.4h0.8M621.8 252.2h0.8M622 265.7h0.8M622.1 254.7h0.8M622.3 258.1h0.8M622.6 259h0.8M622.7 252.6h0.8M622.8 258.9h0.8M622.8 253.8h0.8M622.9 266.9h0.8M623.5 259.6h0.8M623.8 256.9h0.8M624.2 253.9h0.8M624.6 259.3h0.8M624.6 260.1h0.8M624.7 253.5h0.8M625 267.7h0.8M625 255.3h0.8M625.3 249.5h0.8M625.4 257.7h0.8M625.6 263.7h0.8M625.7 267.6h0.8M625.7 269.2h0.8M625.8 259.1h0.8M626.1 257h0.8M626.2 254.2h0.8M626.4 260.5h0.8M626.4 264.5h0.8M626.6 260.9h0.8M626.8 264.1h0.8M626.8 255.4h0.8M626.9 254.9h0.8M627.1 258.7h0.8M627.2 258.2h0.8M627.4 257.7h0.8M627.4 267.9h0.8M627.5 258.4h0.8M627.6 253.3h0.8M627.6 259h0.8M628 253.2h0.8M628.4 254.4h0.8M628.8 259.1h0.8M629.5 261.8h0.8M629.6 262.3h0.8M629.6 253.8h0.8M629.6 260.5h0.8M629.7 256.3h0.8M629.9 251.2h0.8M630.1 261.6h0.8M630.5 259h0.8M630.6 258.9h0.8M630.7 259h0.8M631.2 263.3h0.8M631.3 250h0.8M631.4 248.8h0.8M631.8 259.5h0.8M631.9 257.3h0.8M631.9 268.4h0.8M632.1 264.9h0.8M632.1 256.6h0.8M632.2 268.7h0.8M632.3 256.8h0.8M632.4 262.9h0.8M632.5 254.3h0.8M632.6 257.8h0.8M632.6 266.3h0.8M633 253.6h0.8M633 251h0.8M633 252.6h0.8M633.1 259.5h0.8M633.1 260.5h0.8M633.1 257.9h0.8M633.1 258.4h0.8M633.1 254.3h0.8M633.2 255h0.8M633.4 267.8h0.8M633.4 266.4h0.8M633.5 264.3h0.8M633.6 270.1h0.8M633.8 262.8h0.8M633.8 254h0.8M633.9 257.3h0.8M634 263.1h0.8M634.3 267.8h0.8M634.4 262.1h0.8M634.4 266h0.8M634.5 258.3h0.8M635 251.9h0.8M635 263.4h0.8M635 265.3h0.8M635.5 265.9h0.8M635.8 251.5h0.8M636 255.1h0.8M636.2 269h0.8M636.4 261.9h0.8M636.5 258.4h0.8M636.5 253.9h0.8M636.5 265.4h0.8M636.7 262h0.8M636.8 256.4h0.8M637.2 269h0.8M637.2 256.9h0.8M637.4 264.6h0.8M637.5 261.8h0.8M637.5 254.8h0.8M637.5 258.2h0.8M637.6 262.3h0.8M637.6 267.7h0.8M638 269.3h0.8M638.1 258.5h0.8M638.3 258.5h0.8M638.3 256.5h0.8M638.5 253.4h0.8M638.6 269.5h0.8M638.7 255.6h0.8M638.7 259.2h0.8M639.4 263.1h0.8M639.5 264.6h0.8M639.7 266.6h0.8M639.9 257.2h0.8M640 256.3h0.8M640.1 257.5h0.8M640.2 267.8h0.8M640.4 264.3h0.8M640.5 266.8h0.8M640.8 253.4h0.8M641.1 265.1h0.8M641.2 264.3h0.8M641.9 253.4h0.8M641.9 255h0.8M642.1 263.3h0.8M642.2 254.3h0.8M642.3 264.5h0.8M642.3 258.2h0.8M642.4 249.8h0.8M642.5 268.8h0.8M642.6 268.1h0.8M642.7 258.3h0.8M642.7 260.3h0.8M642.8 260.5h0.8M642.9 267.1h0.8M643.1 257.3h0.8M643.3 260.5h0.8M643.3 259.6h0.8M643.6 263.3h0.8M643.7 255.7h0.8M644 261.6h0.8M644 256.4h0.8M644.2 268.7h0.8M644.4 260.4h0.8M644.5 261.3h0.8M644.6 263h0.8M644.7 260.5h0.8M644.9 256.8h0.8M645 256.4h0.8M645 257h0.8M645.2 258.4h0.8M645.3 261.9h0.8M645.5 266.9h0.8M645.6 268h0.8M646 262h0.8M646.1 269.3h0.8M646.2 267.8h0.8M646.4 263.8h0.8M646.8 267h0.8M647.2 257.5h0.8M647.3 260.8h0.8M647.5 264.6h0.8M647.6 270.8h0.8M647.9 252h0.8M648 262.2h0.8M648 258h0.8M648.1 251.6h0.8M648.1 261.3h0.8M648.3 253.9h0.8M648.3 263.8h0.8M648.4 252.8h0.8M648.4 258.8h0.8M648.5 267.2h0.8M649.1 263.4h0.8M649.3 256.5h0.8M649.4 255.3h0.8M649.6 257.5h0.8M649.7 265.8h0.8M650 264.1h0.8M650 252.2h0.8M650.1 261.9h0.8M650.2 255.8h0.8M650.3 260.4h0.8M650.4 264.8h0.8M651.3 267.2h0.8M651.5 268.3h0.8M651.5 267.8h0.8M651.6 260.5h0.8M651.6 258.9h0.8M651.8 267.1h0.8M651.9 261.2h0.8M652.4 252.1h0.8M652.5 261.5h0.8M652.7 261.4h0.8M652.8 258.8h0.8M653.2 257.6h0.8M653.3 255.7h0.8M653.4 267.5h0.8M653.5 264.6h0.8M653.7 255.9h0.8M653.7 270.3h0.8M653.7 257.5h0.8M654.2 265.1h0.8M654.5 257.6h0.8M654.7 266.6h0.8M654.9 265.6h0.8M654.9 266.9h0.8M654.9 266.9h0.8M655 266.4h0.8M655 271.7h0.8M655.1 259.9h0.8M655.1 265.5h0.8M655.2 267.5h0.8M655.5 263.9h0.8M655.6 271.2h0.8M655.7 261.2h0.8M655.8 262h0.8M655.8 255.6h0.8M655.9 257.5h0.8M655.9 267.9h0.8M656 258.5h0.8M656.1 255.7h0.8M656.3 268.3h0.8M656.5 256.6h0.8M656.9 272.2h0.8M656.9 261.5h0.8M656.9 267.5h0.8M657.1 263.4h0.8M657.3 256.4h0.8M657.4 261.9h0.8M657.4 264.7h0.8M657.6 266.1h0.8M657.7 272.3h0.8M657.7 257.2h0.8M657.8 258.4h0.8M657.8 265h0.8M657.9 257.9h0.8M658 253.9h0.8M658.1 265.7h0.8M658.3 268.9h0.8M658.4 271.5h0.8M658.5 261.4h0.8M658.5 262.5h0.8M658.7 264.8h0.8M658.7 254.7h0.8M658.7 264.6h0.8M658.8 255.3h0.8M658.9 261.9h0.8M659.2 266.3h0.8M659.2 260.2h0.8M659.4 270.8h0.8M659.5 261.6h0.8M659.7 259.8h0.8M659.7 259.4h0.8M659.7 256.4h0.8M659.8 257.4h0.8M659.8 264.4h0.8M659.8 265.3h0.8M659.9 266.4h0.8M660 268.4h0.8M660.2 259.4h0.8M660.3 259.5h0.8M660.5 260.8h0.8M660.5 261.9h0.8M660.6 252.1h0.8M661.4 261.8h0.8M661.5 269.6h0.8M662 253.4h0.8M662.2 260.5h0.8M662.3 265.3h0.8M662.4 263.7h0.8M662.4 265.5h0.8M662.9 264.4h0.8M663.1 260.4h0.8M663.3 259.7h0.8M663.3 255.8h0.8M663.5 255.7h0.8M663.5 257.3h0.8M663.7 260.7h0.8M663.7 267h0.8M664 257.2h0.8M664.4 254.8h0.8M664.6 255.5h0.8M664.6 263.5h0.8M665 263.1h0.8M665.1 260.8h0.8M665.3 255.6h0.8M665.4 253.3h0.8M665.8 255h0.8M666 258.9h0.8M666 271.5h0.8M666.1 273.4h0.8M666.3 266.3h0.8M666.3 260.2h0.8M666.5 261.3h0.8M666.6 251.8h0.8M666.6 262.7h0.8M666.8 251.4h0.8M667 258.8h0.8M667 269h0.8M667.2 254.3h0.8M667.9 260.7h0.8M667.9 265h0.8M668 257.4h0.8M668.1 260.7h0.8M668.1 258.7h0.8M668.1 260.7h0.8M668.1 252.7h0.8M668.2 259.8h0.8M668.3 267.6h0.8M668.4 267.3h0.8M668.5 255.6h0.8M668.7 256.9h0.8M668.7 256.5h0.8M668.9 255.9h0.8M669 265h0.8M669.2 255.5h0.8M669.4 263h0.8M669.8 262.4h0.8M670.1 259.2h0.8M670.1 254.2h0.8M670.1 264.2h0.8M670.3 253.4h0.8M670.6 265.9h0.8M670.6 257h0.8M670.6 259.9h0.8M670.9 256.1h0.8M671.2 264h0.8M671.6 258.8h0.8M671.6 255.6h0.8M671.8 269.7h0.8M672 257.5h0.8M672.2 256.6h0.8M672.2 257.4h0.8M672.3 254.6h0.8M672.3 262.9h0.8M672.4 258.6h0.8M672.8 264.1h0.8M672.9 260.3h0.8M672.9 261.6h0.8M673.3 259h0.8M673.4 254h0.8M673.4 270.5h0.8M673.7 261.2h0.8M673.7 257.9h0.8M673.8 265.3h0.8M673.8 267.6h0.8M673.9 261.7h0.8M674 263.4h0.8M674.2 255.6h0.8M674.2 264.3h0.8M674.3 257.5h0.8M674.4 271.1h0.8M674.4 262.1h0.8M674.4 255.4h0.8M674.6 269h0.8M674.7 258.6h0.8M674.8 267.6h0.8M674.9 266.4h0.8M675 253.5h0.8M675.3 266.5h0.8M675.6 268h0.8M676.4 270h0.8M676.7 264.1h0.8M676.9 260.9h0.8M677 259.2h0.8M677.2 256.3h0.8M677.3 265.8h0.8M677.4 268.4h0.8M677.4 269h0.8M677.5 259.7h0.8M677.5 257.5h0.8M677.6 258.1h0.8M677.7 253.6h0.8M677.9 256.3h0.8M678 270.9h0.8M678 257.9h0.8M678 256.7h0.8M678.1 270.9h0.8M678.2 271.8h0.8M678.8 267.3h0.8M679 264.3h0.8M679 263.7h0.8M679.1 271.2h0.8M679.1 267.8h0.8M679.2 267.5h0.8M679.2 264.1h0.8M679.5 271.5h0.8M679.6 270.7h0.8M679.7 271.1h0.8M679.8 255.1h0.8M679.8 264.5h0.8M679.9 260.2h0.8M680 262.4h0.8M680.2 270.7h0.8M680.3 266.5h0.8M680.5 270.2h0.8M680.6 257.2h0.8M680.6 256.1h0.8M680.9 259.2h0.8M681.5 258.7h0.8M681.5 262.3h0.8M681.6 264.8h0.8M681.8 257.8h0.8M682.1 262.4h0.8M682.6 272.2h0.8M682.6 261.8h0.8M682.7 263.5h0.8M682.7 257.6h0.8M682.7 256.9h0.8M683 267.5h0.8M683.2 260.5h0.8M683.5 263.3h0.8M683.6 255.8h0.8M683.6 271.1h0.8M683.7 267.9h0.8M683.8 267.1h0.8M684 265.9h0.8M684.3 270.7h0.8M684.4 261.7h0.8M684.5 257.7h0.8M684.6 268.8h0.8M684.7 260.3h0.8M684.7 256.9h0.8M684.7 258.6h0.8M684.9 262.5h0.8M685.7 264.3h0.8M686 264.7h0.8M686.1 259.4h0.8M686.3 267.4h0.8M686.3 267.8h0.8M686.3 261.4h0.8M686.3 266.7h0.8M686.4 265.6h0.8M686.4 259.1h0.8M686.4 269.4h0.8M686.4 262.5h0.8M686.6 264.7h0.8M687 253.8h0.8M687.3 258.3h0.8M687.5 259.9h0.8M687.6 262.9h0.8M687.8 267h0.8M688 269.4h0.8M688.9 255.2h0.8M688.9 254.1h0.8M689.3 259.6h0.8M689.8 264.6h0.8M689.8 257.2h0.8M689.9 255.7h0.8M689.9 255h0.8M690 264.9h0.8M690.1 262.1h0.8M690.5 265.2h0.8M690.9 265.9h0.8M691.7 264.1h0.8M691.8 258.1h0.8M691.8 259h0.8M692.3 265.9h0.8M692.3 252.9h0.8M692.8 269.6h0.8M693.1 264.8h0.8M693.1 257.2h0.8M693.2 269.3h0.8M693.3 263.6h0.8M693.4 255.3h0.8M693.4 264.9h0.8M693.4 265.5h0.8M693.7 266.1h0.8M694.2 268.1h0.8M694.3 267.7h0.8M694.4 252.5h0.8M694.4 257.6h0.8M694.5 264.1h0.8M694.6 263h0.8M694.7 259.1h0.8M694.7 257.6h0.8M694.8 260.4h0.8M695.1 254.1h0.8M695.1 259h0.8M695.2 269.6h0.8M695.4 256.5h0.8M695.4 269.4h0.8M695.7 254.5h0.8M695.8 267.1h0.8M695.9 258h0.8M696 264.6h0.8M696.4 262.7h0.8M696.4 267.3h0.8M696.5 260.2h0.8M696.6 259.1h0.8M696.7 255.1h0.8M696.7 259h0.8M696.7 266.5h0.8M696.8 263.4h0.8M697.7 260.3h0.8M697.9 269h0.8M698 263h0.8M698 265.6h0.8M698.1 264.3h0.8M698.2 258h0.8M698.2 270.6h0.8M698.3 261.5h0.8M698.7 261.2h0.8M698.8 266.3h0.8M698.9 268.6h0.8M698.9 255.2h0.8M699 263.1h0.8M699.3 262.3h0.8M699.4 255.4h0.8M699.5 259.2h0.8M699.5 267.4h0.8M699.8 269.1h0.8M700.1 266.7h0.8M700.3 261.9h0.8M700.5 257.6h0.8M700.5 266.3h0.8M700.7 258.8h0.8M700.8 257.7h0.8M700.8 254h0.8M700.8 264.6h0.8M700.9 254h0.8M701 270.5h0.8M701.1 266.5h0.8M701.2 265h0.8M701.3 269.6h0.8M701.5 256.4h0.8M701.6 257.4h0.8M701.8 266.5h0.8M701.8 259.7h0.8M701.8 263.2h0.8M702.3 262.9h0.8M702.4 264.3h0.8M702.5 258h0.8M702.5 267.6h0.8M702.8 273.5h0.8M702.8 264.1h0.8M702.8 260.2h0.8M703 257.6h0.8M703.2 261.3h0.8M703.3 258h0.8M703.3 268.7h0.8M703.6 258.8h0.8M704.3 269.6h0.8M704.4 266h0.8M704.7 262.3h0.8M704.7 264.4h0.8M704.8 255.3h0.8M704.9 268h0.8M705.1 264.1h0.8M705.3 265.3h0.8M705.5 260.5h0.8M705.6 263.9h0.8M705.7 254.3h0.8M705.8 255h0.8M706 257.5h0.8M706.1 261.4h0.8M706.5 263.9h0.8M706.8 266.7h0.8M707.5 257.2h0.8M707.7 264.5h0.8M708.1 260.9h0.8M708.2 255.4h0.8M708.4 252.7h0.8M708.5 255.6h0.8M708.8 265.5h0.8M709.1 260.3h0.8M709.3 257.2h0.8M709.7 268.4h0.8M709.8 266.9h0.8M710.2 255.1h0.8M710.2 263h0.8M710.3 260.4h0.8M710.4 257.4h0.8M710.5 265.1h0.8M710.6 255.2h0.8M710.8 268.4h0.8M710.9 255h0.8M711.1 254.4h0.8M711.1 260.4h0.8M711.4 265.6h0.8M711.4 256.4h0.8M711.5 258.9h0.8M711.7 260.2h0.8M711.7 253.3h0.8M711.8 255.8h0.8M711.9 253.4h0.8M712 257.3h0.8M712.1 265h0.8M712.1 265.7h0.8M712.2 260.7h0.8M712.4 257.7h0.8M712.4 257.1h0.8M712.6 258.2h0.8M712.6 257h0.8M713 252.7h0.8M713.2 265.9h0.8M713.4 261.6h0.8M713.8 262.1h0.8M713.9 262.2h0.8M714 254.8h0.8M714 259.4h0.8M714.4 254.4h0.8M714.5 256h0.8M714.5 259h0.8M714.7 265.5h0.8M714.8 256.2h0.8M714.9 263.8h0.8M715.1 255.8h0.8M715.9 260.6h0.8M715.9 254.4h0.8M716 258.4h0.8M716.2 270.8h0.8M716.4 264.1h0.8M716.7 260.5h0.8M717 255.5h0.8M717 256.5h0.8M717.1 263.9h0.8M717.2 256.7h0.8M717.3 257.2h0.8M717.4 254.7h0.8M717.5 266.2h0.8M717.7 250.7h0.8M718 261.4h0.8M718 256h0.8M718.4 258.2h0.8M718.7 256.4h0.8M718.9 265.6h0.8M719.1 256.6h0.8M719.2 264h0.8M719.4 255h0.8M719.5 261.4h0.8M719.8 253.7h0.8M719.9 261.4h0.8M720.1 270.9h0.8M720.2 250.5h0.8M720.2 254h0.8M720.4 261.5h0.8M720.5 262.9h0.8M720.5 254h0.8M720.6 263.6h0.8M720.8 256h0.8M720.9 259.6h0.8M721.2 266.1h0.8M721.3 259.4h0.8M721.3 266.2h0.8M721.4 263.6h0.8M721.7 255.9h0.8M721.8 265.4h0.8M721.8 251.7h0.8M722.3 267.9h0.8M722.4 253.7h0.8M722.5 266.9h0.8M722.5 251.3h0.8M722.9 255.7h0.8M723.1 257h0.8M723.2 267.5h0.8M723.2 255.7h0.8M723.3 266.3h0.8M723.6 255.1h0.8M723.7 263.2h0.8M723.9 259.7h0.8M724.3 263.6h0.8M724.3 259.8h0.8M724.3 262.5h0.8M724.6 256h0.8M725.1 253.6h0.8M725.3 252.3h0.8M725.9 266.8h0.8M726 258.4h0.8M726.7 257.6h0.8M726.7 261h0.8M727.8 264.2h0.8M727.9 263.2h0.8M727.9 262.8h0.8M728.1 263.6h0.8M728.1 266.3h0.8M728.4 258.2h0.8M728.5 256.6h0.8M728.5 266h0.8M728.6 268.1h0.8M728.8 255.5h0.8M729 265h0.8M729 263.6h0.8M729.1 266.3h0.8M729.2 264.8h0.8M729.3 261.4h0.8M729.6 267.8h0.8M729.9 257.7h0.8M730.1 266.3h0.8M730.3 257.4h0.8M730.3 268.7h0.8M730.5 257.4h0.8M730.5 259.5h0.8M730.7 261.4h0.8M731 255.4h0.8M731 259.2h0.8M731 259h0.8M731.2 262.1h0.8M731.6 259.1h0.8M731.9 255h0.8M732.2 252.3h0.8M732.4 258h0.8M732.5 251.5h0.8M732.5 265.1h0.8M732.8 265.8h0.8M732.9 265.6h0.8M733.2 261.1h0.8M733.3 265.4h0.8M733.4 269.9h0.8M733.5 266.9h0.8M733.7 269.2h0.8M734.1 252.7h0.8M734.4 262.8h0.8M734.5 266.9h0.8M734.6 264h0.8M734.7 262.8h0.8M734.7 257.9h0.8M734.8 269.1h0.8M734.8 251.5h0.8M734.8 253.5h0.8M735.2 264.1h0.8M735.5 260.2h0.8M735.5 266.3h0.8M735.5 255.1h0.8M735.6 267.1h0.8M735.6 266.5h0.8M735.9 266.6h0.8M736.1 269.2h0.8M736.2 259.4h0.8M736.2 256.1h0.8M736.2 266h0.8M736.9 260.1h0.8M737 256.1h0.8M737.1 262h0.8M737.5 266.6h0.8M737.8 261.7h0.8M738 257.5h0.8M738.2 269.3h0.8M738.3 273.4h0.8M738.5 261.1h0.8M738.5 261.1h0.8M738.5 258h0.8M738.6 260.2h0.8M739 267.9h0.8M739 257h0.8M739.4 259h0.8M739.5 263.1h0.8M739.6 259.8h0.8M739.7 267.6h0.8M739.7 266.3h0.8M740.2 254h0.8M740.5 260.5h0.8M740.5 254.2h0.8M740.6 268.7h0.8M740.6 268.6h0.8M740.7 259.5h0.8M740.8 254.9h0.8M740.9 263.8h0.8M741 266.6h0.8M741.3 266h0.8M741.4 257.6h0.8M741.5 263.7h0.8M741.6 266.6h0.8M741.6 261.7h0.8M741.8 262.9h0.8M741.9 257.2h0.8M741.9 259.2h0.8M742 268.8h0.8M742.2 257.7h0.8M742.2 259.3h0.8M742.3 256h0.8M742.6 267.8h0.8M742.7 256.5h0.8M742.9 258.9h0.8M743 256.1h0.8M743 268.2h0.8M743.3 260h0.8M743.6 262.4h0.8M743.7 262.8h0.8M743.7 253.8h0.8M743.9 264h0.8M744 271.7h0.8M744 265.7h0.8M744 269.9h0.8M744.2 255.3h0.8M744.2 260h0.8M744.3 254h0.8M744.4 270.2h0.8M744.4 253.8h0.8M744.6 251.5h0.8M744.8 253.2h0.8M745.1 256.6h0.8M745.2 263.9h0.8M745.2 257.3h0.8M745.3 261h0.8M745.3 253.5h0.8M745.6 263.7h0.8M745.6 268.1h0.8M745.7 252.4h0.8M745.8 267h0.8M745.9 260.9h0.8M746 257.1h0.8M746.1 263.4h0.8M746.1 251.7h0.8M746.1 261h0.8M746.2 263.4h0.8M746.4 257.5h0.8M746.5 259.1h0.8M746.7 258.8h0.8M746.7 259.8h0.8M746.7 269.5h0.8M747 254.6h0.8M747.2 267.3h0.8M747.3 254.3h0.8M747.5 252.5h0.8M747.6 264.9h0.8M747.6 258.6h0.8M747.7 265.5h0.8M748.3 259.7h0.8M748.3 268.1h0.8M748.8 264.2h0.8M749 261h0.8M749 267.5h0.8M749 264.5h0.8M749 261.3h0.8M749.1 268.5h0.8M749.2 253.8h0.8M749.5 259.3h0.8M749.5 259.3h0.8M749.6 252.9h0.8M749.7 253.7h0.8M749.7 261.1h0.8M749.8 252.1h0.8M750 263.8h0.8M750 268.5h0.8M750 250.9h0.8M750.2 254.8h0.8M750.2 268.3h0.8M750.2 267.1h0.8M750.3 261.8h0.8M750.4 263h0.8M750.5 262h0.8M750.6 256.7h0.8M750.8 266.1h0.8M751 254.6h0.8M751.1 256.4h0.8M751.4 265.6h0.8M751.5 259.4h0.8M751.6 261.9h0.8M751.7 258.9h0.8M751.8 259.3h0.8M751.8 252.5h0.8M752.2 265.1h0.8M752.2 269.3h0.8M752.5 263.8h0.8M752.6 263h0.8M752.8 256.8h0.8M752.9 267.8h0.8M752.9 260.8h0.8M753.2 264h0.8M753.3 260.5h0.8M753.4 266.4h0.8M753.4 261.3h0.8M753.5 253.4h0.8M753.6 262h0.8M753.7 264.4h0.8M753.9 270.6h0.8M754 255.2h0.8M754.1 260.4h0.8M754.3 258.8h0.8M754.4 262.9h0.8M754.4 266h0.8M754.6 259.4h0.8M754.7 256.3h0.8M754.9 259.1h0.8M755.6 261.6h0.8M755.8 261.9h0.8M755.8 269h0.8M755.9 264.7h0.8M756 251.2h0.8M756.2 262.4h0.8M756.2 269.1h0.8M756.2 264h0.8M756.3 253h0.8M756.3 254.2h0.8M756.5 264h0.8M756.5 266.8h0.8M756.7 266.3h0.8M756.7 268h0.8M756.8 263.9h0.8M756.9 259.1h0.8M757.1 258.4h0.8M757.1 259.4h0.8M757.2 267.3h0.8M757.2 255.1h0.8M757.4 252.8h0.8M757.5 260.7h0.8M757.5 268.9h0.8M757.5 263.9h0.8M757.6 263.1h0.8M757.6 263.4h0.8M757.6 264.4h0.8M757.7 255.1h0.8M757.7 250.5h0.8M758.2 258.6h0.8M758.3 256.1h0.8M758.3 260h0.8M758.7 268.6h0.8M758.7 260.2h0.8M759 254.2h0.8M759 254.6h0.8M759.2 254.8h0.8M759.2 266.5h0.8M759.6 263.7h0.8M759.7 254.3h0.8M759.7 254.1h0.8M759.9 266.5h0.8M760.1 264.2h0.8M760.2 254.1h0.8M760.3 258.3h0.8M760.3 254h0.8M760.6 264.6h0.8M760.7 266.7h0.8M760.7 268.7h0.8M761 262.4h0.8M761.3 258.4h0.8M761.4 259.6h0.8M761.5 264.8h0.8M761.6 267.5h0.8M761.7 257.9h0.8M761.7 269.1h0.8M761.8 261.2h0.8M761.9 256.5h0.8M761.9 262.1h0.8M761.9 269.7h0.8M761.9 265.6h0.8M762.3 270.4h0.8M762.3 262.8h0.8M762.5 265.5h0.8M762.5 259h0.8M762.6 264.7h0.8M762.7 262.8h0.8M762.9 258.1h0.8M763.2 272.5h0.8M763.2 255.4h0.8M763.5 254.4h0.8M763.6 266.3h0.8M763.7 252.5h0.8M763.7 261.4h0.8M763.9 255.6h0.8M763.9 259.4h0.8M764.1 268.5h0.8M764.1 260.3h0.8M764.1 259.4h0.8M764.1 261.8h0.8M764.3 259.1h0.8M764.6 259.5h0.8M764.6 254.8h0.8M764.8 266.3h0.8M765 253.9h0.8M765.1 265.2h0.8M765.4 259.6h0.8M765.5 257h0.8M765.6 253.9h0.8M765.8 255.5h0.8M765.9 253.2h0.8M766.2 266.3h0.8M766.3 267.3h0.8M766.7 261.1h0.8M767 261.2h0.8M767 260h0.8M767.6 264h0.8M767.7 267.8h0.8M767.7 267.9h0.8M767.8 265.9h0.8M767.9 264.1h0.8M768.2 258.6h0.8M768.3 255.5h0.8M768.7 260.9h0.8M768.7 265.2h0.8M768.8 266.7h0.8M768.8 261.2h0.8M769.4 256.3h0.8M769.4 259.2h0.8M769.5 265.4h0.8M769.6 259.7h0.8M769.8 256.8h0.8M770 264.8h0.8M770.1 254.3h0.8M770.8 249.1h0.8M770.8 256.9h0.8M770.8 266.2h0.8M770.9 265.2h0.8M771 265.2h0.8M771 251.1h0.8M771 265.2h0.8M771.1 264.3h0.8M771.2 261.2h0.8M771.3 256.2h0.8M771.4 265.5h0.8M771.5 257.1h0.8M771.6 256.9h0.8M771.9 266.2h0.8M772.1 254.1h0.8M772.3 267.8h0.8M772.3 270.4h0.8M772.6 256.4h0.8M772.6 261.7h0.8M772.7 254.2h0.8M772.8 262.6h0.8M772.9 262.5h0.8M773.1 263.1h0.8M773.1 262.8h0.8M773.2 266.4h0.8M773.2 260.5h0.8M773.3 258.8h0.8M773.3 260.9h0.8M773.3 254.9h0.8M773.5 263.3h0.8M773.6 258.3h0.8M773.7 262.4h0.8M773.9 263.5h0.8M773.9 267.4h0.8M774 267h0.8M774.2 253.7h0.8M774.3 267.2h0.8M774.4 264.1h0.8M774.4 255.4h0.8M774.4 261h0.8M774.6 267.6h0.8M774.8 269h0.8M775.1 262h0.8M775.2 266.1h0.8M775.4 255.7h0.8M775.7 261.5h0.8M775.9 253.8h0.8M776 256h0.8M776.1 256.7h0.8M776.2 255h0.8M776.3 265.3h0.8M776.8 254.2h0.8M776.8 262.9h0.8M777 254.7h0.8M777.1 265.4h0.8M777.5 256.5h0.8M777.6 253.6h0.8M777.8 262.7h0.8M777.8 264.3h0.8M778.4 263.5h0.8M778.7 262.9h0.8M778.8 263.9h0.8M778.9 267.5h0.8M779 260.3h0.8M779.3 253h0.8M779.4 261.4h0.8M779.5 259.2h0.8M779.5 259.6h0.8M779.6 266.3h0.8M779.8 260.2h0.8M779.8 265h0.8M779.8 251h0.8M779.9 266.9h0.8M780 255h0.8M780.1 260.9h0.8M780.2 267.6h0.8M780.3 267.4h0.8M780.6 264.1h0.8M781.4 270.9h0.8M781.6 262.6h0.8M781.6 259.6h0.8M781.6 262.7h0.8M781.8 259.9h0.8M781.9 258.7h0.8M782.3 264.5h0.8M782.3 257.2h0.8M782.4 266.8h0.8M782.6 258.3h0.8M783.3 258.7h0.8M783.9 267.4h0.8M784 258.5h0.8M784 255.7h0.8M784 255.9h0.8M784.1 258h0.8M784.5 260.5h0.8M784.6 257.7h0.8M784.7 263.1h0.8M784.7 264.8h0.8M784.8 267.1h0.8M785 258.6h0.8M785 259.5h0.8M785.1 259.7h0.8M785.4 261h0.8M785.5 261.6h0.8M785.6 256.7h0.8M785.9 264.6h0.8M785.9 256.6h0.8M786.1 264.6h0.8M786.3 263.5h0.8M786.3 263h0.8M786.6 261.2h0.8M786.6 266h0.8M786.7 259.3h0.8M786.8 267.3h0.8M786.8 259.3h0.8M786.9 253.5h0.8M787 264.1h0.8M787 264h0.8M787 251h0.8M787.2 268.7h0.8M787.2 253.7h0.8M787.2 253.6h0.8M787.6 253h0.8M787.6 265h0.8M787.7 257.7h0.8M787.9 254.6h0.8M787.9 253.7h0.8M788 266.9h0.8M788.3 253.6h0.8M788.3 262.5h0.8M788.3 260.6h0.8M788.5 255.2h0.8M788.6 249.5h0.8M788.6 255.7h0.8M788.9 261.3h0.8M788.9 257h0.8M789 265.5h0.8M789.1 250.9h0.8M789.3 253.8h0.8M789.3 255.3h0.8M789.4 255.3h0.8M789.5 265.4h0.8M789.5 248.7h0.8M789.5 250.5h0.8M789.7 260.5h0.8M789.8 251.7h0.8M789.8 261.1h0.8M789.9 261.4h0.8M789.9 251.6h0.8M789.9 263.4h0.8M790 264.4h0.8M790.2 252.5h0.8M790.4 260.1h0.8M790.7 248.9h0.8M790.7 262.4h0.8M790.9 256.3h0.8M791.3 259h0.8M791.3 252.2h0.8M791.5 261.1h0.8M791.6 248.1h0.8M791.7 247.2h0.8M791.8 255.6h0.8M791.9 255.6h0.8M792 249.4h0.8M792 257.8h0.8M792.1 248.9h0.8M792.1 268.1h0.8M792.1 259.2h0.8M792.2 264.8h0.8M792.2 251.6h0.8M792.8 255.2h0.8M792.8 262.6h0.8M793.4 257.1h0.8M793.5 257.6h0.8M793.6 265.3h0.8M793.7 259.4h0.8M793.8 264.4h0.8M793.9 252.1h0.8M794 260.4h0.8M794 251.6h0.8M794 248.4h0.8M794.4 253.6h0.8M794.5 262.3h0.8M795.1 256.4h0.8M795.1 251.7h0.8M795.1 258.3h0.8M795.3 262.8h0.8M795.3 262.9h0.8M795.8 246.6h0.8M796.1 254.2h0.8M796.1 251.2h0.8M796.3 257.9h0.8M796.6 258.6h0.8M796.9 262.8h0.8M797 248.7h0.8M797.1 257.7h0.8M797.4 264.1h0.8M797.6 262.7h0.8M797.8 260.6h0.8M797.8 250.3h0.8M797.8 256.1h0.8M798.1 261.8h0.8M798.1 249h0.8M798.1 251.4h0.8M798.3 261.4h0.8M798.3 256.6h0.8M798.4 246.3h0.8M798.4 263.9h0.8M798.4 255.6h0.8M798.4 258.9h0.8M798.6 258.3h0.8M798.6 253.2h0.8M798.6 253.6h0.8M799.2 253h0.8M799.4 260.1h0.8M799.5 262h0.8M799.5 256.9h0.8M799.7 254.7h0.8M800.1 250.8h0.8M800.4 256.6h0.8M800.5 264.1h0.8M800.7 249.7h0.8M800.7 255.1h0.8M800.9 253.1h0.8M801 250.7h0.8M801.1 254.4h0.8M801.3 247.3h0.8M801.3 246.1h0.8M801.4 257.9h0.8M801.5 254.4h0.8M801.5 256.2h0.8M802 262.1h0.8M802 256.2h0.8M802.1 253.6h0.8M802.1 264.1h0.8M802.1 258.2h0.8M802.4 247.2h0.8M802.5 247.4h0.8M802.5 253.7h0.8M802.7 253.7h0.8M802.8 252.5h0.8M803 259.2h0.8M803 259.9h0.8M803 251.7h0.8M803.1 258.6h0.8M803.3 260.1h0.8M803.4 256.4h0.8M803.4 262.6h0.8M803.5 255.6h0.8M803.8 249.2h0.8M804.6 258.5h0.8M804.8 250h0.8M804.8 254h0.8M805.2 254.6h0.8M805.5 253.2h0.8M805.5 255.2h0.8M805.7 260.7h0.8M805.7 255.9h0.8M805.8 263h0.8M805.8 253.5h0.8M805.8 251.9h0.8M805.9 252.4h0.8M806.2 254.6h0.8M806.7 254.9h0.8M806.8 250.3h0.8M806.8 248.3h0.8M806.8 257.9h0.8M806.8 255.2h0.8M807 254.1h0.8M807.1 249.3h0.8M807.1 260.3h0.8M807.2 250.4h0.8M807.4 251.6h0.8M807.4 258.2h0.8M807.7 257.1h0.8M807.8 260.8h0.8M808 245.7h0.8M808.4 257.2h0.8M808.6 260.2h0.8M808.9 246.9h0.8M808.9 247.6h0.8M809.2 250.3h0.8M809.2 258h0.8M809.5 262.7h0.8M809.6 257h0.8M809.6 255.8h0.8M809.7 256.2h0.8M809.8 254.8h0.8M809.9 248.5h0.8M810.1 264.9h0.8M810.3 249.4h0.8M810.3 245.2h0.8M810.3 259.1h0.8M810.4 258.5h0.8M810.5 259h0.8M810.6 251.1h0.8M810.7 256.3h0.8M810.9 251.7h0.8M810.9 253.4h0.8M811.1 257.5h0.8M811.6 247.3h0.8M811.7 253.8h0.8M811.8 251.5h0.8M812 253.4h0.8M812.5 263.4h0.8M812.8 246.4h0.8M812.9 250.8h0.8M813 264.1h0.8M813.3 247.2h0.8M813.5 255.4h0.8M813.6 256.9h0.8M813.9 259.8h0.8M814.4 260.8h0.8M814.7 252.6h0.8M814.7 258.4h0.8M815.1 252.1h0.8M815.1 255.9h0.8M815.2 259.5h0.8M815.2 262.5h0.8M815.4 257.7h0.8M815.8 258.4h0.8M815.8 260.8h0.8M815.9 262h0.8M816.1 251.5h0.8M816.3 247.7h0.8M816.4 261.8h0.8M816.5 252h0.8M816.5 253.2h0.8M816.6 254h0.8M816.7 261.9h0.8M817.1 258.1h0.8M817.1 247.3h0.8M817.3 251.3h0.8M817.5 251.3h0.8M817.6 258.1h0.8M817.7 253.9h0.8M817.7 261.5h0.8M817.9 262.3h0.8M818.2 260.1h0.8M818.2 250.8h0.8M818.4 249.1h0.8M818.4 251.7h0.8M818.6 248.5h0.8M818.9 263.1h0.8M818.9 261.5h0.8M819 260.1h0.8M819.1 255.3h0.8M819.1 255.9h0.8M819.2 253.5h0.8M819.4 247.3h0.8M819.4 253h0.8M819.4 252.8h0.8M819.9 249.9h0.8M820 264.9h0.8M820 250.9h0.8M820.1 247.1h0.8M820.2 254h0.8M820.3 262.4h0.8M820.4 259.7h0.8M820.4 251.2h0.8M820.5 256.2h0.8M820.5 253.1h0.8M820.7 264h0.8M820.7 262.8h0.8M820.8 247.9h0.8M820.8 254.4h0.8M820.9 251.8h0.8M820.9 256.8h0.8M821.3 249.8h0.8M821.5 266.7h0.8M821.6 260.6h0.8M821.8 252h0.8M821.9 263.4h0.8M822.1 264.2h0.8M822.3 263.4h0.8M822.4 253.8h0.8M822.4 251h0.8M822.8 257.1h0.8M822.9 249.5h0.8M823.1 247.7h0.8M823.1 265h0.8M823.2 257.2h0.8M823.2 249.6h0.8M823.4 246.6h0.8M823.4 265h0.8M823.5 249.8h0.8M823.5 254.9h0.8M823.7 263.7h0.8M823.9 247.8h0.8M824 256.4h0.8M824.2 250.3h0.8M824.4 250.1h0.8M824.6 254.5h0.8M825 262.4h0.8M825 249.9h0.8M825.5 252.5h0.8M825.6 263h0.8M825.7 256.2h0.8M825.8 244.9h0.8M825.9 253.3h0.8M826.1 265.2h0.8M826.1 259.8h0.8M826.3 265.5h0.8M826.6 246.3h0.8M826.6 248.4h0.8M826.7 263.6h0.8M826.9 252.9h0.8M827 250.7h0.8M827.2 254.6h0.8M827.3 260.3h0.8M827.4 249.5h0.8M827.4 253.2h0.8M827.4 251.1h0.8M827.5 253.6h0.8M827.5 260.9h0.8M827.6 249.1h0.8M828.1 246.6h0.8M828.1 252.4h0.8M828.2 262.8h0.8M828.2 254.3h0.8M828.2 252.8h0.8M828.3 245.6h0.8M828.3 261h0.8M828.9 253.8h0.8M829 261h0.8M829.4 253.7h0.8M829.6 256h0.8M829.7 261.6h0.8M830 260.4h0.8M830 264.2h0.8M830.1 245h0.8M830.4 258.4h0.8M830.7 252.6h0.8M830.7 263.5h0.8M830.7 248.9h0.8M830.7 251.1h0.8M830.8 251.9h0.8M831 263.1h0.8M831.1 264h0.8M831.5 256.1h0.8M831.5 255h0.8M831.5 266.1h0.8M831.8 260.3h0.8M831.8 251.1h0.8M831.9 252.2h0.8M832 254h0.8M832.3 247h0.8M832.3 257.3h0.8M832.6 248.9h0.8M832.6 255.7h0.8M832.7 252.1h0.8M833.2 258.8h0.8M833.4 255.9h0.8M833.5 256.2h0.8M833.6 260.3h0.8M833.8 258h0.8M833.9 256.5h0.8M833.9 264.2h0.8M834 261.3h0.8M834.1 250.4h0.8M834.2 256.2h0.8M834.3 251.5h0.8M834.6 256.7h0.8M834.6 256.2h0.8M834.7 250.9h0.8M834.7 253.6h0.8M834.9 263h0.8M835 252.8h0.8M835.1 252.3h0.8M835.2 247.6h0.8M835.3 254.1h0.8M835.5 251.2h0.8M835.5 267.4h0.8M835.5 262.3h0.8M835.8 256.8h0.8M835.8 263.3h0.8M835.9 248.8h0.8M836 254.7h0.8M836.1 259.9h0.8M836.1 257.3h0.8M836.1 251.2h0.8M836.3 253.3h0.8M836.4 263.9h0.8M836.5 258.9h0.8M836.5 256.7h0.8M836.7 254.8h0.8M836.7 265.7h0.8M836.8 257.2h0.8M836.8 250.6h0.8M836.9 262.7h0.8M836.9 262.8h0.8M836.9 252.4h0.8M837 260h0.8M837 253.4h0.8M837.2 252.8h0.8M837.4 261.8h0.8M837.5 252.9h0.8M837.7 261.9h0.8M837.8 254.2h0.8M837.9 255.7h0.8M838.2 264.8h0.8M838.3 257.9h0.8M838.3 256.5h0.8M838.5 263.1h0.8M838.7 255h0.8M838.8 250.6h0.8M839.5 260.9h0.8M839.7 252.1h0.8M839.9 255h0.8M839.9 261.7h0.8M840.1 252.3h0.8M840.3 262.8h0.8M840.3 249.7h0.8M840.3 256h0.8M840.3 250.8h0.8M840.6 254.5h0.8M840.8 254.6h0.8M841.1 247.2h0.8M841.2 256.2h0.8M841.5 248.3h0.8M841.8 258.2h0.8M842 247.5h0.8M842 253h0.8M842.2 260.5h0.8M842.4 257.3h0.8M842.4 257.9h0.8M842.4 263.6h0.8M842.6 263.9h0.8M842.7 260.9h0.8M842.9 250h0.8M843 263.1h0.8M843.1 255.3h0.8M843.2 270.9h0.8M843.3 253.5h0.8M843.5 264.5h0.8M843.6 257.1h0.8M843.8 265.5h0.8M843.9 259.1h0.8M844 262.2h0.8M844 246.8h0.8M844.1 264.6h0.8M844.4 252.2h0.8M844.5 250.6h0.8M844.6 252.4h0.8M844.9 267.2h0.8M845 266.4h0.8M845.1 250.6h0.8M845.2 258.8h0.8M845.3 262.4h0.8M845.3 260.2h0.8M845.4 248.1h0.8M845.4 256h0.8M845.8 260.3h0.8M845.8 252h0.8M845.9 247.8h0.8M846 256.3h0.8M846.1 246.4h0.8M846.2 249.8h0.8M846.3 249.3h0.8M846.3 259.8h0.8M846.4 251.5h0.8M846.5 266.8h0.8M846.6 253.4h0.8M846.8 262.7h0.8M846.9 248.9h0.8M846.9 249.3h0.8M847.3 264h0.8M847.3 258.3h0.8M847.4 267.4h0.8M847.6 253.2h0.8M847.7 264.2h0.8M848.1 253.9h0.8M848.4 255.1h0.8M848.6 250.4h0.8M848.8 266.3h0.8M849.1 256.5h0.8M849.2 257.2h0.8M849.5 255.7h0.8M849.6 262.2h0.8M849.6 258.4h0.8M849.8 257.4h0.8M849.8 260h0.8M849.9 246h0.8M850.2 253.1h0.8M850.2 251.4h0.8M850.4 253.8h0.8M850.8 263.9h0.8M850.8 253.7h0.8M850.8 265.6h0.8M850.8 254.3h0.8M850.8 255.8h0.8M851.3 263.2h0.8M851.4 269.3h0.8M851.4 259h0.8M851.4 253h0.8M851.5 260.7h0.8M851.5 261.3h0.8M851.6 256.3h0.8M851.8 260.2h0.8M851.8 258.3h0.8M851.8 254.1h0.8M851.9 250.1h0.8M852 251.5h0.8M852 263.2h0.8M852.1 246.5h0.8M852.2 260.2h0.8M852.7 258.9h0.8M852.8 263.9h0.8M853.1 254.8h0.8M853.5 265.6h0.8M853.5 250.6h0.8M853.6 248.8h0.8M853.6 258.2h0.8M853.7 251.4h0.8M853.9 252.3h0.8M853.9 255.6h0.8M853.9 259.3h0.8M854.1 257.5h0.8M854.1 264.4h0.8M854.3 251.5h0.8M854.3 263.2h0.8M854.5 250.6h0.8M854.7 252h0.8M854.8 250.1h0.8M854.9 254.3h0.8M855.1 258.6h0.8M855.1 247.5h0.8M855.2 251.1h0.8M855.3 252.4h0.8M855.5 247.5h0.8M855.5 259.2h0.8M855.7 256.8h0.8M855.8 247.6h0.8M856.1 254.6h0.8M856.1 252.1h0.8M856.2 257.1h0.8M856.3 247.2h0.8M856.3 263.3h0.8M856.4 261.5h0.8M856.5 255.6h0.8M856.5 257.3h0.8M856.9 264.4h0.8M857.3 251.1h0.8M857.4 263.8h0.8M857.4 261h0.8M858.1 259.6h0.8M858.2 245.7h0.8M858.2 263.3h0.8M858.3 254.8h0.8M858.5 249.1h0.8M858.7 250.6h0.8M858.9 250.2h0.8M859 251.5h0.8M859.4 255.2h0.8M859.6 247.6h0.8M859.7 253.9h0.8M859.7 259.2h0.8M859.8 258.8h0.8M860.1 260.9h0.8M860.3 260.9h0.8M860.3 254h0.8M860.4 256.4h0.8M860.6 255.5h0.8M860.7 257.2h0.8M861.2 258.1h0.8M861.3 247.6h0.8M861.6 258.5h0.8M861.6 254.2h0.8M861.6 248.2h0.8M861.7 262.2h0.8M861.7 255.8h0.8M861.7 248.1h0.8M861.8 253.5h0.8M861.8 250.8h0.8M862.2 256.2h0.8M862.3 263.8h0.8M862.5 254.3h0.8M862.5 257.2h0.8M862.6 265.5h0.8M862.6 263.7h0.8M862.6 255.1h0.8M862.9 260.7h0.8M863 258.9h0.8M863.3 256.9h0.8M863.7 252.6h0.8M863.7 253.6h0.8M864.2 250.7h0.8M864.4 252h0.8M864.8 247.2h0.8M864.9 247.4h0.8M865 256.9h0.8M865.1 250.2h0.8M865.3 261.2h0.8M865.6 263.1h0.8M865.6 260.6h0.8M866 261.7h0.8M866.1 256.6h0.8M866.1 246.6h0.8M866.2 258.7h0.8M866.3 259.2h0.8M866.5 265.5h0.8M866.7 262.6h0.8M866.7 262.4h0.8M866.8 251.1h0.8M867 265.5h0.8M867.1 257.5h0.8M867.2 251.6h0.8M867.3 250.8h0.8M867.5 262.8h0.8M867.8 259.6h0.8M867.8 248.4h0.8M867.8 258.7h0.8M867.8 266h0.8M867.8 255.8h0.8M868.4 254.7h0.8M868.5 254.7h0.8M868.6 251.7h0.8M868.8 255.5h0.8M868.9 261.5h0.8M868.9 260.6h0.8M869.1 253.1h0.8M869.3 262.7h0.8M869.4 261h0.8M869.4 252.3h0.8M869.6 256h0.8M869.6 254.3h0.8M869.7 261.2h0.8M869.8 247.7h0.8M869.9 254.6h0.8M869.9 256.6h0.8M870 265.2h0.8M870.1 265.5h0.8M870.2 255.4h0.8M870.2 261.8h0.8M870.3 252h0.8M870.5 248.3h0.8M871 254h0.8M871.1 253h0.8M871.9 255.1h0.8M872.1 256.4h0.8M872.5 253.6h0.8M872.5 256.2h0.8M872.5 260.2h0.8M872.6 265.7h0.8M872.8 259.5h0.8M872.9 259.6h0.8M873 260.6h0.8M873.1 263.1h0.8M873.1 259.4h0.8M873.2 264.2h0.8M873.3 250.5h0.8M873.4 261.5h0.8M873.6 251.3h0.8M873.9 250.1h0.8M873.9 262h0.8M874 258.5h0.8M874 257.9h0.8M874.2 262.7h0.8M874.3 254.1h0.8M874.3 246.8h0.8M874.3 252.2h0.8M874.8 262.6h0.8M874.8 255.2h0.8M874.9 250.2h0.8M874.9 250.5h0.8M874.9 263.4h0.8M875.3 256.2h0.8M875.5 254.7h0.8M875.6 259.9h0.8M875.8 261.5h0.8M875.9 249.8h0.8M876.7 255.7h0.8M876.8 262.9h0.8M876.8 249.4h0.8M876.8 266.3h0.8M876.8 250.1h0.8M877.1 260.2h0.8M877.3 262.3h0.8M877.4 252.4h0.8M877.5 264.9h0.8M877.5 255.8h0.8M877.7 258.3h0.8M877.7 262.3h0.8M877.9 264.4h0.8M878.1 253.2h0.8M878.2 252.3h0.8M879 258.1h0.8M879 254.1h0.8M879 252.5h0.8M879 257.9h0.8M879.1 267.3h0.8M879.3 264.3h0.8M879.3 266.1h0.8M879.5 262.9h0.8M879.6 256.6h0.8M879.8 251.6h0.8M880 262h0.8M880.1 258.1h0.8M880.1 265.1h0.8M880.2 256.6h0.8M880.2 257.3h0.8M880.5 262.7h0.8M880.6 249.7h0.8M880.7 265.1h0.8M880.7 260.5h0.8M880.7 254.6h0.8M880.8 264h0.8M880.9 250.8h0.8M881 266.1h0.8M881 256.9h0.8M881.4 256.9h0.8M881.6 254.2h0.8M881.8 252.9h0.8M882 260.2h0.8M882 253.7h0.8M882 262.9h0.8M882 249.2h0.8M882.1 251.2h0.8M882.1 256.5h0.8M882.2 265.7h0.8M882.2 252.6h0.8M882.5 247.7h0.8M882.5 261.2h0.8M882.5 261.1h0.8M882.7 265.2h0.8M882.7 262h0.8M882.7 266.2h0.8M882.8 261.5h0.8M883.1 258.1h0.8M883.4 262.6h0.8M883.5 259h0.8M883.7 258.2h0.8M883.7 260h0.8M884.1 259.7h0.8M884.2 261.6h0.8M884.7 262.6h0.8M884.7 253.9h0.8M884.8 255.3h0.8M884.8 262.4h0.8M884.9 264.5h0.8M885.2 250.7h0.8M885.3 262.2h0.8M885.4 255.4h0.8M885.6 252.3h0.8M886.1 261.8h0.8M886.2 265.8h0.8M886.3 254.1h0.8M886.3 263.2h0.8M886.4 256.9h0.8M886.7 258.1h0.8M886.8 253.3h0.8M886.8 256.7h0.8M886.9 255h0.8M886.9 253.6h0.8M887 265.2h0.8M887.3 258.7h0.8M887.4 258.1h0.8M887.5 248.5h0.8M887.6 266h0.8M887.9 257.4h0.8M888 254.1h0.8M888.3 252.3h0.8M888.5 267.5h0.8M888.5 253.7h0.8M888.6 264.1h0.8M888.7 252.8h0.8M888.7 251.1h0.8M888.8 258.8h0.8M889.1 263.9h0.8M889.1 266.2h0.8M889.1 247.8h0.8M889.1 261.4h0.8M889.1 260.5h0.8M889.6 253.8h0.8M889.9 265.1h0.8M890 245h0.8M890 260.3h0.8M890.2 261.9h0.8M890.6 255.5h0.8M890.8 262.9h0.8M890.9 246h0.8M891 254h0.8M891.1 258.1h0.8M891.7 260.4h0.8M891.9 257h0.8M892.2 266.4h0.8M892.4 253.8h0.8M892.5 262.1h0.8M892.7 255h0.8M892.8 260.3h0.8M892.9 258.1h0.8M892.9 251.6h0.8M892.9 250.8h0.8M893.2 255.3h0.8M893.5 245.6h0.8M893.5 261.6h0.8M893.6 256.8h0.8M893.7 249.6h0.8M893.8 246.7h0.8M894 264.5h0.8M894.2 255.9h0.8M894.2 256.6h0.8M894.5 259.1h0.8M894.8 262.5h0.8M894.8 260.9h0.8M894.9 250.5h0.8M894.9 261.1h0.8M895 261.9h0.8M895 248.7h0.8M895.2 248.9h0.8M895.4 256.5h0.8M895.6 255.2h0.8M896 255.4h0.8M896.1 261.4h0.8M896.3 252h0.8M896.4 248h0.8M896.5 262.9h0.8M896.7 248.4h0.8M897 261.8h0.8M897.2 257.2h0.8M897.7 246.5h0.8M897.8 261.5h0.8M897.8 252.6h0.8M898 253.7h0.8M898.1 247.5h0.8M898.1 263.5h0.8M898.2 260.8h0.8M898.3 253h0.8M898.4 251.1h0.8M898.6 261.9h0.8M898.6 253.6h0.8M898.6 263.7h0.8M898.6 246.9h0.8M899 257.7h0.8M899.2 251.4h0.8M899.3 250.7h0.8M899.4 263.2h0.8M899.4 250.2h0.8M899.6 254.8h0.8M899.7 260.4h0.8M899.8 248.5h0.8M899.8 265.7h0.8M899.9 262.5h0.8M900.1 266h0.8M900.4 262.4h0.8M900.6 260.1h0.8M900.7 254.4h0.8M900.7 249.9h0.8M900.8 252.1h0.8M900.9 251.4h0.8M900.9 249h0.8M901.2 250.8h0.8M901.4 248.8h0.8M901.5 254.7h0.8M901.6 254.9h0.8M901.8 249.3h0.8M901.8 262.5h0.8M901.8 248.5h0.8M901.8 256.6h0.8M902 257.3h0.8M902 264.2h0.8M902 257.9h0.8M902.1 265h0.8M902.4 256.4h0.8M902.5 258.5h0.8M902.8 262h0.8M902.8 261.2h0.8M903.1 262h0.8M903.1 247.7h0.8M903.2 251.8h0.8M903.4 252.2h0.8M903.5 250.5h0.8M903.7 255.3h0.8M904 264.5h0.8M904.1 257.6h0.8M904.2 260.1h0.8M904.3 257.2h0.8M904.4 260.1h0.8M904.5 261.5h0.8M904.6 259.9h0.8M904.7 253.9h0.8M904.8 252.4h0.8M904.9 252.1h0.8M905.1 245.1h0.8M905.1 257.8h0.8M905.2 252.4h0.8M905.2 262.3h0.8M905.3 256h0.8M905.4 250.4h0.8M905.5 255h0.8M905.7 254h0.8M905.8 251.3h0.8M905.8 260.9h0.8M905.8 253.6h0.8M906 260.4h0.8M906 254.5h0.8M906 252.1h0.8M906.3 257.1h0.8M906.4 261.9h0.8M906.4 249h0.8M906.5 259.5h0.8M906.9 247.9h0.8M906.9 263.2h0.8M907 258.6h0.8M907 257.8h0.8M907.3 250.2h0.8M907.8 259.3h0.8M908.1 247.2h0.8M908.4 254.9h0.8M908.4 252.8h0.8M908.7 249.9h0.8M909 251.4h0.8M909 256.8h0.8M909.1 254.4h0.8M909.2 265h0.8M909.4 249.5h0.8M909.4 256.3h0.8M909.4 255.2h0.8M909.6 247.4h0.8M909.6 260.1h0.8M909.9 250.6h0.8M910 257.6h0.8M910.5 260.9h0.8M910.9 256.3h0.8M911 255.5h0.8M911 261.7h0.8M911.1 247.1h0.8M911.3 262.5h0.8M911.4 261h0.8M911.4 262.1h0.8M911.5 253h0.8M911.5 256.6h0.8M911.6 249.2h0.8M911.6 250.6h0.8M911.7 248.6h0.8M911.8 252.9h0.8M911.8 259.5h0.8M911.8 258.9h0.8M912 250.2h0.8M912.5 255.5h0.8M912.6 260.8h0.8M912.7 250.7h0.8M912.8 261.7h0.8M913 258.7h0.8M913.3 258.8h0.8M913.9 264h0.8M914 253.7h0.8M914.3 253.1h0.8M914.4 257.5h0.8M914.7 264h0.8M915.2 257.4h0.8M915.2 263.3h0.8M915.3 251.8h0.8M915.4 250h0.8M915.5 263.1h0.8M915.6 262.6h0.8M915.6 261.4h0.8M915.7 260.7h0.8M915.8 258.6h0.8M916 259.2h0.8M916.1 256.5h0.8M916.3 248.8h0.8M916.4 263.6h0.8M916.6 255.8h0.8M916.6 249.3h0.8M916.8 253.9h0.8M916.8 267h0.8M917 257.9h0.8M917.1 257.3h0.8M917.2 256h0.8M917.4 257.4h0.8M917.6 264.3h0.8M917.6 257.4h0.8M917.6 250.3h0.8M918 260.8h0.8M918.1 259.7h0.8M918.1 247.9h0.8M918.1 259.6h0.8M918.3 254.8h0.8M918.3 265h0.8M918.4 251.9h0.8M918.5 256.9h0.8M918.5 260.9h0.8M918.6 262.6h0.8M918.6 266.1h0.8M918.7 249.7h0.8M918.7 267h0.8M918.9 251h0.8M919.1 261.5h0.8M919.6 253.9h0.8M919.7 262.2h0.8M919.7 257.8h0.8M919.9 260.9h0.8M919.9 261.5h0.8M920 245.2h0.8M920.1 251.3h0.8M920.3 250.2h0.8M920.5 257.4h0.8M920.5 255.5h0.8M920.5 265.6h0.8M921.1 265.6h0.8M921.3 254.9h0.8M921.4 262.9h0.8M921.4 263.8h0.8M921.6 253.9h0.8M921.7 249.6h0.8M921.7 260.4h0.8M921.8 255.7h0.8M921.9 260.9h0.8M922 258.1h0.8M922.2 264.7h0.8M922.3 246.8h0.8M922.4 256.2h0.8M922.6 263.7h0.8M923 253.9h0.8M923.4 251.4h0.8M923.6 256.3h0.8M923.6 248.6h0.8M924 259.4h0.8M924.1 250.1h0.8M924.4 252h0.8M924.5 251.4h0.8M924.8 263.3h0.8M924.8 255.9h0.8M925.1 261.6h0.8M925.3 261.5h0.8M925.3 249.2h0.8M925.4 249.7h0.8M925.5 249.5h0.8M925.5 263h0.8M925.7 254.2h0.8M925.8 255.9h0.8M925.8 252.5h0.8M925.9 246.1h0.8M926.2 256.2h0.8M926.2 255.9h0.8M926.2 259.6h0.8M926.4 250.7h0.8M926.5 264.3h0.8M926.8 256.5h0.8M926.9 253.4h0.8M927.2 261.3h0.8M927.4 262.4h0.8M927.4 251.9h0.8M927.4 250.9h0.8M928 263.7h0.8M928.1 260.2h0.8M928.1 263.5h0.8M928.3 259.2h0.8M928.3 249.6h0.8M928.4 264h0.8M928.5 265.7h0.8M928.7 250.1h0.8M929.1 258h0.8M929.2 258.8h0.8M929.6 248.3h0.8M929.8 251h0.8M930.1 253.1h0.8M930.2 247.1h0.8M930.3 251.3h0.8M930.3 252.9h0.8M930.5 248h0.8M930.6 246.2h0.8M930.7 255.7h0.8M930.8 251.8h0.8M930.9 248.5h0.8M931 249.5h0.8M931.4 265h0.8M931.4 257.7h0.8M931.8 248.5h0.8M931.8 255.5h0.8M931.9 249.4h0.8M932 252.6h0.8M932 257.6h0.8M932.2 251.1h0.8M932.3 257.2h0.8M932.3 256.9h0.8M932.3 255.5h0.8M932.3 251.6h0.8M932.4 252.1h0.8M932.4 254.4h0.8M932.5 259.6h0.8M932.7 251.2h0.8M932.7 256.5h0.8M932.7 253.9h0.8M932.8 262.7h0.8M933.3 261.2h0.8M933.6 259.7h0.8M933.7 247.7h0.8M933.7 258.6h0.8M933.9 253h0.8M933.9 261.7h0.8M934 260.7h0.8M934.2 250.8h0.8M934.5 255h0.8M934.6 246.2h0.8M934.6 257.6h0.8M934.6 255.3h0.8M935 249.9h0.8M935.2 260.4h0.8M935.4 256.2h0.8M935.5 262.4h0.8M935.7 263.1h0.8M935.8 259.3h0.8M935.9 259.8h0.8M935.9 263.3h0.8M936.3 255.7h0.8M936.4 262.3h0.8M936.4 256.8h0.8M936.5 262h0.8M936.5 253.4h0.8M936.6 260.4h0.8M936.8 250.7h0.8M936.8 251.6h0.8M937 254.4h0.8M937 256.6h0.8M937 251.6h0.8M937.4 251.5h0.8M937.5 254.4h0.8M937.6 254.8h0.8M937.6 265.8h0.8M937.9 259.5h0.8M938 255h0.8M938.2 260.3h0.8M938.4 255.4h0.8M938.4 251.5h0.8M938.4 251.7h0.8M938.5 260.9h0.8M938.5 249.3h0.8M938.6 250.7h0.8M938.8 247.8h0.8M938.8 255.3h0.8M938.9 257.5h0.8M939.1 250.2h0.8M939.1 248.8h0.8M939.1 256.1h0.8M939.2 256.7h0.8M939.3 251.1h0.8M939.4 261.1h0.8M939.5 260.6h0.8M940 258.9h0.8M940 253.8h0.8M940 255.7h0.8M940.1 258.4h0.8M940.2 258.6h0.8M940.3 256.7h0.8M940.6 250.8h0.8M940.7 265h0.8M940.7 258h0.8M940.8 260h0.8M940.9 255.7h0.8M130.3 338.5h0.8M125.4 364.9h0.8M130.3 341.5h0.8M132.3 335.7h0.8M127.6 343.9h0.8M123.5 369.2h0.8M129.4 342.4h0.8M126.2 358.9h0.8M125.8 370.4h0.8M125.6 355h0.8M128.9 346.8h0.8M125.4 366.2h0.8M127.7 348.9h0.8M125.2 356.6h0.8M127.3 356.4h0.8M124.4 370.4h0.8M125.6 369.7h0.8M130.5 345h0.8M129.7 340.5h0.8M125.5 366h0.8M132.9 338.7h0.8M131.9 339.8h0.8M134.5 336.5h0.8M123.7 370.7h0.8M127.1 367.8h0.8M133.2 337.5h0.8M128.9 344.2h0.8M128.4 351h0.8M125.9 366.1h0.8M125.1 366.3h0.8M127.4 346.3h0.8M127.5 349.9h0.8M126.7 352.6h0.8M133.1 338.2h0.8M125.9 368.5h0.8M130 342.8h0.8M126.7 348.2h0.8M126.9 345.4h0.8M126.6 365.5h0.8M125.6 353.5h0.8M126.1 369.2h0.8M128.3 343.1h0.8M131.6 338h0.8M125.6 359.9h0.8M122.7 371.5h0.8M125.4 353.8h0.8M126.2 365.7h0.8M124.9 359.4h0.8M133.7 335h0.8M125.4 356.4h0.8M125.5 350.9h0.8M126.6 353h0.8M131.7 339.7h0.8M134.3 337h0.8M126 348.9h0.8M134.9 337.2h0.8M132.7 336.2h0.8M128.6 352h0.8M128.1 343.6h0.8M131 340.1h0.8M125.8 368.3h0.8M133.2 336.6h0.8M126.5 355h0.8M126.6 358h0.8M130.5 339h0.8M127.4 350.7h0.8M124.7 359.2h0.8M127.3 355h0.8M130.8 344.8h0.8M132.7 339.4h0.8M123.5 364.6h0.8M127.1 367.1h0.8M127.3 346h0.8M133.2 335.8h0.8M129.5 345.8h0.8M128.8 348.1h0.8M123.8 370.9h0.8M131.5 341.6h0.8M129.2 352.2h0.8M135.1 337.1h0.8M129.7 344.7h0.8M128.9 354.1h0.8M126.6 365.3h0.8M123.7 365.8h0.8M124.3 371.8h0.8M131 339.2h0.8M128.8 345.2h0.8M123.9 366.8h0.8M130.5 339.4h0.8M128.1 348.2h0.8M125.7 370.2h0.8M125.1 371h0.8M131.3 336.6h0.8M126.1 362.7h0.8M127.2 360.4h0.8M127.2 367.4h0.8M128.4 342.9h0.8M132.8 336.6h0.8M124 364.1h0.8M126.9 369.4h0.8M133.9 336.8h0.8M126.1 363.2h0.8M124.8 365.4h0.8M124 370.3h0.8M127.8 355.9h0.8M133.4 335.8h0.8M129.5 349.8h0.8M126.3 370h0.8M127.1 362.6h0.8M130.9 341.7h0.8M124.6 360.1h0.8M125.1 371.8h0.8M130.9 339.8h0.8M131.3 337.6h0.8M127.8 358.7h0.8M125.8 356.6h0.8M129.1 353.5h0.8M127.9 350.6h0.8M134 335.4h0.8M128.2 353.3h0.8M125.8 359.9h0.8M127.7 363.7h0.8M132 337.3h0.8M127.5 353.2h0.8M125.7 350.3h0.8M130.7 340.4h0.8M125.8 353.5h0.8M125.1 369h0.8M126.7 352.9h0.8M127.5 343.2h0.8M126.9 360.1h0.8M133.1 335.5h0.8M123.8 362.5h0.8M127.1 351.6h0.8M129.1 341.6h0.8M128.6 355.8h0.8M126.2 366.9h0.8M128 360.2h0.8M125.9 365.9h0.8M128.1 346.2h0.8M124.1 364.6h0.8M132.5 339.8h0.8M129.6 340.7h0.8M128 341.4h0.8M131.2 343.2h0.8M127 355.7h0.8M129.2 343.5h0.8M126.3 370.1h0.8M128.8 353.5h0.8M129 341.3h0.8M127.4 356.6h0.8M128.6 343.5h0.8M126 360.6h0.8M125.5 359.8h0.8M126.3 364.3h0.8M132.4 341.1h0.8M129 349.7h0.8M125.7 355.8h0.8M132.8 337.7h0.8M125.8 357h0.8M123.7 419.2h0.8M124.9 382.2h0.8M123.8 381.2h0.8M124.3 395.5h0.8M123.9 403.6h0.8M123.8 408.5h0.8M125.9 368.1h0.8M124 392.2h0.8M123.7 393.3h0.8M124.5 391.9h0.8M123.8 414.6h0.8M125.6 365.5h0.8M123.5 431.1h0.8M124.3 389.1h0.8M124.9 374.7h0.8M124.5 383.8h0.8M124.8 368.2h0.8M124.2 382.9h0.8M124.4 399.7h0.8M125.9 365h0.8M123.9 428.7h0.8M123.2 403.4h0.8M123.9 387.5h0.8M123.6 399.6h0.8M124.4 374.3h0.8M123.3 398.4h0.8M124.6 380h0.8M124.7 367.8h0.8M124.6 371.8h0.8M123.9 420.2h0.8M125.2 378.6h0.8M123 415.2h0.8M123.6 387.7h0.8M124.5 392.3h0.8M123.8 407.9h0.8M124.7 376h0.8M124.2 385.9h0.8M124.3 390.7h0.8M124.6 378.3h0.8M123.2 406.3h0.8M123.6 422.6h0.8M124.5 408.3h0.8M123 420h0.8M125.1 379.8h0.8M123.5 402.1h0.8M124.2 376.7h0.8M123.3 419.9h0.8M124.3 384.8h0.8M124.4 413.2h0.8M125.2 377.3h0.8M124.1 382.9h0.8M125 370h0.8M124 401.2h0.8M123.9 399.1h0.8M125.1 373.8h0.8M123.5 384.5h0.8M123.3 427.6h0.8M123.3 404.9h0.8M122.9 428.9h0.8M124.7 378.3h0.8M124 406h0.8M124.7 376.5h0.8M123.4 419.6h0.8M125.2 374.6h0.8M124 395.8h0.8M124.6 382.4h0.8M123.9 378.9h0.8M123.8 413h0.8M123.9 414.5h0.8M124.6 391.7h0.8M123.5 414.7h0.8M125.4 366h0.8M124.2 379.1h0.8M124 417.6h0.8M123.5 422.8h0.8M124.9 366h0.8M123.5 426.1h0.8M125.4 369.9h0.8M124.2 403.5h0.8M124.1 390h0.8M124.4 394h0.8M124.4 391.9h0.8M124.4 400.8h0.8M123.8 407.6h0.8M123.7 396.3h0.8M124.4 375.4h0.8M124.2 381.2h0.8M123.8 385.4h0.8M124.2 400.7h0.8M123.4 391.9h0.8M123.9 381.5h0.8M123.4 403.4h0.8M124.7 393.8h0.8M125.9 365.2h0.8M123.4 389.7h0.8M123.1 422.8h0.8M123.9 418.5h0.8M124.1 385.1h0.8M124.2 400.8h0.8M123.6 428.6h0.8M124.5 392.8h0.8M123.9 380.2h0.8M123.4 423.9h0.8M123.8 409.7h0.8M123.7 411.2h0.8M124.5 397.4h0.8M124.2 401.1h0.8M123.4 404h0.8M124.1 384.7h0.8M124 428.7h0.8M124.1 414.6h0.8M123.9 379.1h0.8M124.3 372.6h0.8M124 406.9h0.8M124 430.2h0.8M123.2 429.1h0.8M123.5 396.2h0.8M124.1 389.7h0.8M125.2 370.6h0.8M125.6 369h0.8M124.8 367h0.8M123.6 387.2h0.8M124.2 417.9h0.8M124.5 406.3h0.8M124.9 379.1h0.8M124 379.8h0.8M123.3 420.2h0.8M123.5 427.5h0.8M124.5 368.5h0.8M123 424.8h0.8M123.8 402.3h0.8M125.1 377.4h0.8M124.1 401.8h0.8M124.3 388h0.8M124.3 411.4h0.8M124 382.9h0.8M125.4 369.9h0.8M124.2 406.8h0.8M123.9 423.4h0.8M123.2 415.9h0.8M123.8 396.2h0.8M124.7 391.4h0.8M123.8 401.6h0.8M125.2 366.3h0.8M124.3 416.2h0.8M124.6 378.9h0.8M124.4 407h0.8M124.8 374.6h0.8M125.3 370.4h0.8M123.5 414.5h0.8M122.3 433h0.8M122.6 435.5h0.8M122.6 438.8h0.8M123 448h0.8M123.6 450.5h0.8M122.7 453h0.8M123 456h0.8M122.8 463.4h0.8M123.2 468.6h0.8M123.1 474h0.8M123 478.5h0.8M122.8 483.2h0.8M122.9 489.5h0.8M122.5 491.2h0.8M122.7 501.5h0.8M123.1 514.5h0.8M122.2 518h0.8M123.4 525h0.8M122.7 533h0.8M123.1 542.3h0.8M123.5 550.3h0.8M122.2 557.3h0.8M122.5 571.3h0.8M122.7 578.1h0.8M939.1 404h0.8" stroke="#d20000" stroke-width="4.6" stroke-linecap="round" fill="none"/>
<path d="M123.8 390.7l4.9 9.2h-9.8zM127.5 294.4l4.9 9.2h-9.8zM136.9 275.8l4.9 9.2h-9.8zM141.6 271.6l4.9 9.2h-9.8zM146.3 267.4l4.9 9.2h-9.8zM151 262.4l4.9 9.2h-9.8zM155.7 259.4l4.9 9.2h-9.8zM160.4 255.5l4.9 9.2h-9.8zM165.1 251.6l4.9 9.2h-9.8zM169.7 249.2l4.9 9.2h-9.8zM174.4 245.9l4.9 9.2h-9.8zM179.1 242.7l4.9 9.2h-9.8zM183.8 240.8l4.9 9.2h-9.8zM188.5 237.5l4.9 9.2h-9.8zM193.2 235.5l4.9 9.2h-9.8zM197.9 233.7l4.9 9.2h-9.8zM202.6 230.8l4.9 9.2h-9.8zM207.3 230.8l4.9 9.2h-9.8zM212 228.9l4.9 9.2h-9.8zM216.7 227l4.9 9.2h-9.8zM221.4 225.1l4.9 9.2h-9.8zM226.1 225.1l4.9 9.2h-9.8zM230.7 223.2l4.9 9.2h-9.8zM235.4 221.3l4.9 9.2h-9.8zM240.1 219.4l4.9 9.2h-9.8zM244.8 219.4l4.9 9.2h-9.8zM249.5 217.5l4.9 9.2h-9.8zM254.2 215.6l4.9 9.2h-9.8zM258.9 215.6l4.9 9.2h-9.8zM263.6 215.6l4.9 9.2h-9.8zM268.3 213.7l4.9 9.2h-9.8zM273 213.7l4.9 9.2h-9.8zM277.7 213.7l4.9 9.2h-9.8zM282.4 211.8l4.9 9.2h-9.8zM287.1 211.8l4.9 9.2h-9.8zM291.7 209.9l4.9 9.2h-9.8zM296.4 209.9l4.9 9.2h-9.8zM301.1 209.9l4.9 9.2h-9.8zM305.8 208l4.9 9.2h-9.8zM310.5 208l4.9 9.2h-9.8zM315.2 208l4.9 9.2h-9.8zM319.9 208l4.9 9.2h-9.8zM324.6 206.1l4.9 9.2h-9.8zM329.3 206.1l4.9 9.2h-9.8zM334 204.2l4.9 9.2h-9.8zM338.7 204.2l4.9 9.2h-9.8zM343.4 204.2l4.9 9.2h-9.8zM348.1 204.2l4.9 9.2h-9.8zM352.8 202.3l4.9 9.2h-9.8zM357.4 202.3l4.9 9.2h-9.8zM362.1 202.3l4.9 9.2h-9.8zM366.8 204.2l4.9 9.2h-9.8zM371.5 202.3l4.9 9.2h-9.8zM376.2 202.3l4.9 9.2h-9.8zM380.9 202.3l4.9 9.2h-9.8zM385.6 200.4l4.9 9.2h-9.8zM390.3 200.4l4.9 9.2h-9.8zM395 200.4l4.9 9.2h-9.8zM399.7 200.4l4.9 9.2h-9.8zM404.4 200.4l4.9 9.2h-9.8zM409.1 200.4l4.9 9.2h-9.8zM413.8 198.5l4.9 9.2h-9.8zM418.4 200.4l4.9 9.2h-9.8zM423.1 200.4l4.9 9.2h-9.8zM427.8 200.4l4.9 9.2h-9.8zM432.5 198.5l4.9 9.2h-9.8zM437.2 200.4l4.9 9.2h-9.8zM441.9 198.5l4.9 9.2h-9.8zM446.6 200.4l4.9 9.2h-9.8zM451.3 198.5l4.9 9.2h-9.8zM456 200.4l4.9 9.2h-9.8zM460.7 198.5l4.9 9.2h-9.8zM465.4 198.5l4.9 9.2h-9.8zM470.1 198.5l4.9 9.2h-9.8zM474.8 198.5l4.9 9.2h-9.8zM479.4 196.6l4.9 9.2h-9.8zM484.1 196.6l4.9 9.2h-9.8zM488.8 198.5l4.9 9.2h-9.8zM493.5 196.6l4.9 9.2h-9.8zM498.2 196.6l4.9 9.2h-9.8zM502.9 196.6l4.9 9.2h-9.8zM507.6 194.7l4.9 9.2h-9.8zM512.3 194.7l4.9 9.2h-9.8zM517 196.6l4.9 9.2h-9.8zM521.7 194.7l4.9 9.2h-9.8zM526.4 196.6l4.9 9.2h-9.8zM531.1 194.7l4.9 9.2h-9.8zM535.8 194.7l4.9 9.2h-9.8zM540.4 192.8l4.9 9.2h-9.8zM545.1 194.7l4.9 9.2h-9.8zM549.8 194.7l4.9 9.2h-9.8zM554.5 194.7l4.9 9.2h-9.8zM559.2 192.8l4.9 9.2h-9.8zM563.9 194.7l4.9 9.2h-9.8zM568.6 192.8l4.9 9.2h-9.8zM573.3 192.8l4.9 9.2h-9.8zM578 192.8l4.9 9.2h-9.8zM582.7 192.8l4.9 9.2h-9.8zM587.4 192.8l4.9 9.2h-9.8zM592.1 192.8l4.9 9.2h-9.8zM596.8 190.9l4.9 9.2h-9.8zM601.4 192.8l4.9 9.2h-9.8zM606.1 190.9l4.9 9.2h-9.8zM610.8 190.9l4.9 9.2h-9.8zM615.5 190.9l4.9 9.2h-9.8zM620.2 190.9l4.9 9.2h-9.8zM624.9 190.9l4.9 9.2h-9.8zM629.6 190.9l4.9 9.2h-9.8zM634.3 190.9l4.9 9.2h-9.8zM639 190.9l4.9 9.2h-9.8zM643.7 190.9l4.9 9.2h-9.8zM648.4 190.9l4.9 9.2h-9.8zM653.1 189l4.9 9.2h-9.8zM657.8 190.9l4.9 9.2h-9.8zM662.4 190.9l4.9 9.2h-9.8zM667.1 190.9l4.9 9.2h-9.8zM671.8 189l4.9 9.2h-9.8zM676.5 189l4.9 9.2h-9.8zM681.2 189l4.9 9.2h-9.8zM685.9 189l4.9 9.2h-9.8zM690.6 189l4.9 9.2h-9.8zM695.3 189l4.9 9.2h-9.8zM700 189l4.9 9.2h-9.8zM704.7 189l4.9 9.2h-9.8zM709.4 189l4.9 9.2h-9.8zM714.1 189l4.9 9.2h-9.8zM718.8 189l4.9 9.2h-9.8zM723.4 187.1l4.9 9.2h-9.8zM728.1 187.1l4.9 9.2h-9.8zM732.8 187.1l4.9 9.2h-9.8zM737.5 187.1l4.9 9.2h-9.8zM742.2 187.1l4.9 9.2h-9.8zM746.9 187.1l4.9 9.2h-9.8zM751.6 189l4.9 9.2h-9.8zM756.3 187.1l4.9 9.2h-9.8zM761 187.1l4.9 9.2h-9.8zM765.7 187.1l4.9 9.2h-9.8zM770.4 187.1l4.9 9.2h-9.8zM775.1 187.1l4.9 9.2h-9.8zM779.8 187.1l4.9 9.2h-9.8zM784.5 189l4.9 9.2h-9.8zM789.1 187.1l4.9 9.2h-9.8zM793.8 187.1l4.9 9.2h-9.8zM798.5 185.2l4.9 9.2h-9.8zM803.2 187.1l4.9 9.2h-9.8zM807.9 187.1l4.9 9.2h-9.8zM812.6 187.1l4.9 9.2h-9.8zM817.3 185.2l4.9 9.2h-9.8zM822 185.2l4.9 9.2h-9.8zM826.7 185.2l4.9 9.2h-9.8zM831.4 185.2l4.9 9.2h-9.8zM836.1 185.2l4.9 9.2h-9.8zM840.8 185.2l4.9 9.2h-9.8zM845.5 185.2l4.9 9.2h-9.8zM850.1 185.2l4.9 9.2h-9.8zM854.8 185.2l4.9 9.2h-9.8zM859.5 185.2l4.9 9.2h-9.8zM864.2 185.2l4.9 9.2h-9.8zM868.9 185.2l4.9 9.2h-9.8zM873.6 185.2l4.9 9.2h-9.8zM878.3 185.2l4.9 9.2h-9.8zM883 185.2l4.9 9.2h-9.8zM887.7 185.2l4.9 9.2h-9.8zM892.4 183.3l4.9 9.2h-9.8zM897.1 183.3l4.9 9.2h-9.8zM901.8 185.2l4.9 9.2h-9.8zM906.5 183.3l4.9 9.2h-9.8zM911.1 183.3l4.9 9.2h-9.8zM915.8 183.3l4.9 9.2h-9.8zM920.5 183.3l4.9 9.2h-9.8zM925.2 181.4l4.9 9.2h-9.8zM929.9 183.3l4.9 9.2h-9.8zM934.6 183.3l4.9 9.2h-9.8zM939.3 181.4l4.9 9.2h-9.8z" fill="#55a800"/>
<path d="M119.1 422h9.4v9.4h-9.4zM122.8 326.6h9.4v9.4h-9.4zM132.2 310.8h9.4v9.4h-9.4zM136.9 306.5h9.4v9.4h-9.4zM141.6 303.1h9.4v9.4h-9.4zM146.3 300.2h9.4v9.4h-9.4zM151 297.2h9.4v9.4h-9.4zM155.7 293h9.4v9.4h-9.4zM160.4 290.4h9.4v9.4h-9.4zM165 288.6h9.4v9.4h-9.4zM169.7 285.5h9.4v9.4h-9.4zM174.4 282.4h9.4v9.4h-9.4zM179.1 279.8h9.4v9.4h-9.4zM183.8 278.5h9.4v9.4h-9.4zM188.5 276.3h9.4v9.4h-9.4zM193.2 274.8h9.4v9.4h-9.4zM197.9 272.7h9.4v9.4h-9.4zM202.6 272.7h9.4v9.4h-9.4zM207.3 270.8h9.4v9.4h-9.4zM212 268.9h9.4v9.4h-9.4zM216.7 268.9h9.4v9.4h-9.4zM221.4 267h9.4v9.4h-9.4zM226 265.1h9.4v9.4h-9.4zM230.7 265.1h9.4v9.4h-9.4zM235.4 263.2h9.4v9.4h-9.4zM240.1 261.3h9.4v9.4h-9.4zM244.8 261.3h9.4v9.4h-9.4zM249.5 259.4h9.4v9.4h-9.4zM254.2 261.3h9.4v9.4h-9.4zM258.9 259.4h9.4v9.4h-9.4zM263.6 259.4h9.4v9.4h-9.4zM268.3 257.5h9.4v9.4h-9.4zM273 257.5h9.4v9.4h-9.4zM277.7 255.6h9.4v9.4h-9.4zM282.4 255.6h9.4v9.4h-9.4zM287 253.7h9.4v9.4h-9.4zM291.7 253.7h9.4v9.4h-9.4zM296.4 253.7h9.4v9.4h-9.4zM301.1 253.7h9.4v9.4h-9.4zM305.8 253.7h9.4v9.4h-9.4zM310.5 251.8h9.4v9.4h-9.4zM315.2 251.8h9.4v9.4h-9.4zM319.9 251.8h9.4v9.4h-9.4zM324.6 251.8h9.4v9.4h-9.4zM329.3 249.9h9.4v9.4h-9.4zM334 249.9h9.4v9.4h-9.4zM338.7 251.8h9.4v9.4h-9.4zM343.4 249.9h9.4v9.4h-9.4zM348.1 251.8h9.4v9.4h-9.4zM352.7 249.9h9.4v9.4h-9.4zM357.4 249.9h9.4v9.4h-9.4zM362.1 249.9h9.4v9.4h-9.4zM366.8 249.9h9.4v9.4h-9.4zM371.5 248h9.4v9.4h-9.4zM376.2 248h9.4v9.4h-9.4zM380.9 248h9.4v9.4h-9.4zM385.6 248h9.4v9.4h-9.4zM390.3 248h9.4v9.4h-9.4zM395 246.1h9.4v9.4h-9.4zM399.7 246.1h9.4v9.4h-9.4zM404.4 246.1h9.4v9.4h-9.4zM409.1 246.1h9.4v9.4h-9.4zM413.7 246.1h9.4v9.4h-9.4zM418.4 244.2h9.4v9.4h-9.4zM423.1 246.1h9.4v9.4h-9.4zM427.8 244.2h9.4v9.4h-9.4zM432.5 244.2h9.4v9.4h-9.4zM437.2 244.2h9.4v9.4h-9.4zM441.9 244.2h9.4v9.4h-9.4zM446.6 244.2h9.4v9.4h-9.4zM451.3 244.2h9.4v9.4h-9.4zM456 244.2h9.4v9.4h-9.4zM460.7 242.3h9.4v9.4h-9.4zM465.4 242.3h9.4v9.4h-9.4zM470.1 244.2h9.4v9.4h-9.4zM474.7 242.3h9.4v9.4h-9.4zM479.4 244.2h9.4v9.4h-9.4zM484.1 242.3h9.4v9.4h-9.4zM488.8 242.3h9.4v9.4h-9.4zM493.5 242.3h9.4v9.4h-9.4zM498.2 244.2h9.4v9.4h-9.4zM502.9 242.3h9.4v9.4h-9.4zM507.6 242.3h9.4v9.4h-9.4zM512.3 242.3h9.4v9.4h-9.4zM517 240.4h9.4v9.4h-9.4zM521.7 240.4h9.4v9.4h-9.4zM526.4 242.3h9.4v9.4h-9.4zM531.1 242.3h9.4v9.4h-9.4zM535.7 240.4h9.4v9.4h-9.4zM540.4 240.4h9.4v9.4h-9.4zM545.1 240.4h9.4v9.4h-9.4zM549.8 240.4h9.4v9.4h-9.4zM554.5 240.4h9.4v9.4h-9.4zM559.2 240.4h9.4v9.4h-9.4zM563.9 240.4h9.4v9.4h-9.4zM568.6 240.4h9.4v9.4h-9.4zM573.3 238.5h9.4v9.4h-9.4zM578 240.4h9.4v9.4h-9.4zM582.7 238.5h9.4v9.4h-9.4zM587.4 238.5h9.4v9.4h-9.4zM592.1 238.5h9.4v9.4h-9.4zM596.7 238.5h9.4v9.4h-9.4zM601.4 238.5h9.4v9.4h-9.4zM606.1 238.5h9.4v9.4h-9.4zM610.8 238.5h9.4v9.4h-9.4zM615.5 238.5h9.4v9.4h-9.4zM620.2 238.5h9.4v9.4h-9.4zM624.9 236.6h9.4v9.4h-9.4zM629.6 238.5h9.4v9.4h-9.4zM634.3 238.5h9.4v9.4h-9.4zM639 236.6h9.4v9.4h-9.4zM643.7 236.6h9.4v9.4h-9.4zM648.4 236.6h9.4v9.4h-9.4zM653.1 236.6h9.4v9.4h-9.4zM657.7 236.6h9.4v9.4h-9.4zM662.4 236.6h9.4v9.4h-9.4zM667.1 236.6h9.4v9.4h-9.4zM671.8 236.6h9.4v9.4h-9.4zM676.5 236.6h9.4v9.4h-9.4zM681.2 236.6h9.4v9.4h-9.4zM685.9 236.6h9.4v9.4h-9.4zM690.6 234.7h9.4v9.4h-9.4zM695.3 234.7h9.4v9.4h-9.4zM700 234.7h9.4v9.4h-9.4zM704.7 236.6h9.4v9.4h-9.4zM709.4 234.7h9.4v9.4h-9.4zM714.1 234.7h9.4v9.4h-9.4zM718.7 234.7h9.4v9.4h-9.4zM723.4 236.6h9.4v9.4h-9.4zM728.1 236.6h9.4v9.4h-9.4zM732.8 234.7h9.4v9.4h-9.4zM737.5 234.7h9.4v9.4h-9.4zM742.2 234.7h9.4v9.4h-9.4zM746.9 234.7h9.4v9.4h-9.4zM751.6 234.7h9.4v9.4h-9.4zM756.3 234.7h9.4v9.4h-9.4zM761 234.7h9.4v9.4h-9.4zM765.7 232.8h9.4v9.4h-9.4zM770.4 234.7h9.4v9.4h-9.4zM775.1 232.8h9.4v9.4h-9.4zM779.8 232.8h9.4v9.4h-9.4zM784.4 232.8h9.4v9.4h-9.4zM789.1 232.8h9.4v9.4h-9.4zM793.8 232.8h9.4v9.4h-9.4zM798.5 232.8h9.4v9.4h-9.4zM803.2 232.8h9.4v9.4h-9.4zM807.9 232.8h9.4v9.4h-9.4zM812.6 232.8h9.4v9.4h-9.4zM817.3 232.8h9.4v9.4h-9.4zM822 230.9h9.4v9.4h-9.4zM826.7 230.9h9.4v9.4h-9.4zM831.4 230.9h9.4v9.4h-9.4zM836.1 230.9h9.4v9.4h-9.4zM840.8 230.9h9.4v9.4h-9.4zM845.4 230.9h9.4v9.4h-9.4zM850.1 230.9h9.4v9.4h-9.4zM854.8 230.9h9.4v9.4h-9.4zM859.5 230.9h9.4v9.4h-9.4zM864.2 229h9.4v9.4h-9.4zM868.9 230.9h9.4v9.4h-9.4zM873.6 230.9h9.4v9.4h-9.4zM878.3 230.9h9.4v9.4h-9.4zM883 230.9h9.4v9.4h-9.4zM887.7 230.9h9.4v9.4h-9.4zM892.4 230.9h9.4v9.4h-9.4zM897.1 230.9h9.4v9.4h-9.4zM901.8 229h9.4v9.4h-9.4zM906.4 229h9.4v9.4h-9.4zM911.1 229h9.4v9.4h-9.4zM915.8 229h9.4v9.4h-9.4zM920.5 229h9.4v9.4h-9.4zM925.2 229h9.4v9.4h-9.4zM929.9 229h9.4v9.4h-9.4zM934.6 229h9.4v9.4h-9.4z" fill="#1d0a5e"/>
<path d="M120.6 423.5l6.4 6.4m0 -6.4l-6.4 6.4M124.3 328.1l6.4 6.4m0 -6.4l-6.4 6.4M133.7 312.3l6.4 6.4m0 -6.4l-6.4 6.4M138.4 308l6.4 6.4m0 -6.4l-6.4 6.4M143.1 304.6l6.4 6.4m0 -6.4l-6.4 6.4M147.8 301.7l6.4 6.4m0 -6.4l-6.4 6.4M152.5 298.7l6.4 6.4m0 -6.4l-6.4 6.4M157.2 294.5l6.4 6.4m0 -6.4l-6.4 6.4M161.9 291.9l6.4 6.4m0 -6.4l-6.4 6.4M166.5 290.1l6.4 6.4m0 -6.4l-6.4 6.4M171.2 287l6.4 6.4m0 -6.4l-6.4 6.4M175.9 283.9l6.4 6.4m0 -6.4l-6.4 6.4M180.6 281.3l6.4 6.4m0 -6.4l-6.4 6.4M185.3 280l6.4 6.4m0 -6.4l-6.4 6.4M190 277.8l6.4 6.4m0 -6.4l-6.4 6.4M194.7 276.3l6.4 6.4m0 -6.4l-6.4 6.4M199.4 274.2l6.4 6.4m0 -6.4l-6.4 6.4M204.1 274.2l6.4 6.4m0 -6.4l-6.4 6.4M208.8 272.3l6.4 6.4m0 -6.4l-6.4 6.4M213.5 270.4l6.4 6.4m0 -6.4l-6.4 6.4M218.2 270.4l6.4 6.4m0 -6.4l-6.4 6.4M222.9 268.5l6.4 6.4m0 -6.4l-6.4 6.4M227.5 266.6l6.4 6.4m0 -6.4l-6.4 6.4M232.2 266.6l6.4 6.4m0 -6.4l-6.4 6.4M236.9 264.7l6.4 6.4m0 -6.4l-6.4 6.4M241.6 262.8l6.4 6.4m0 -6.4l-6.4 6.4M246.3 262.8l6.4 6.4m0 -6.4l-6.4 6.4M251 260.9l6.4 6.4m0 -6.4l-6.4 6.4M255.7 262.8l6.4 6.4m0 -6.4l-6.4 6.4M260.4 260.9l6.4 6.4m0 -6.4l-6.4 6.4M265.1 260.9l6.4 6.4m0 -6.4l-6.4 6.4M269.8 259l6.4 6.4m0 -6.4l-6.4 6.4M274.5 259l6.4 6.4m0 -6.4l-6.4 6.4M279.2 257.1l6.4 6.4m0 -6.4l-6.4 6.4M283.9 257.1l6.4 6.4m0 -6.4l-6.4 6.4M288.5 255.2l6.4 6.4m0 -6.4l-6.4 6.4M293.2 255.2l6.4 6.4m0 -6.4l-6.4 6.4M297.9 255.2l6.4 6.4m0 -6.4l-6.4 6.4M302.6 255.2l6.4 6.4m0 -6.4l-6.4 6.4M307.3 255.2l6.4 6.4m0 -6.4l-6.4 6.4M312 253.3l6.4 6.4m0 -6.4l-6.4 6.4M316.7 253.3l6.4 6.4m0 -6.4l-6.4 6.4M321.4 253.3l6.4 6.4m0 -6.4l-6.4 6.4M326.1 253.3l6.4 6.4m0 -6.4l-6.4 6.4M330.8 251.4l6.4 6.4m0 -6.4l-6.4 6.4M335.5 251.4l6.4 6.4m0 -6.4l-6.4 6.4M340.2 253.3l6.4 6.4m0 -6.4l-6.4 6.4M344.9 251.4l6.4 6.4m0 -6.4l-6.4 6.4M349.6 253.3l6.4 6.4m0 -6.4l-6.4 6.4M354.2 251.4l6.4 6.4m0 -6.4l-6.4 6.4M358.9 251.4l6.4 6.4m0 -6.4l-6.4 6.4M363.6 251.4l6.4 6.4m0 -6.4l-6.4 6.4M368.3 251.4l6.4 6.4m0 -6.4l-6.4 6.4M373 249.5l6.4 6.4m0 -6.4l-6.4 6.4M377.7 249.5l6.4 6.4m0 -6.4l-6.4 6.4M382.4 249.5l6.4 6.4m0 -6.4l-6.4 6.4M387.1 249.5l6.4 6.4m0 -6.4l-6.4 6.4M391.8 249.5l6.4 6.4m0 -6.4l-6.4 6.4M396.5 247.6l6.4 6.4m0 -6.4l-6.4 6.4M401.2 247.6l6.4 6.4m0 -6.4l-6.4 6.4M405.9 247.6l6.4 6.4m0 -6.4l-6.4 6.4M410.6 247.6l6.4 6.4m0 -6.4l-6.4 6.4M415.2 247.6l6.4 6.4m0 -6.4l-6.4 6.4M419.9 245.7l6.4 6.4m0 -6.4l-6.4 6.4M424.6 247.6l6.4 6.4m0 -6.4l-6.4 6.4M429.3 245.7l6.4 6.4m0 -6.4l-6.4 6.4M434 245.7l6.4 6.4m0 -6.4l-6.4 6.4M438.7 245.7l6.4 6.4m0 -6.4l-6.4 6.4M443.4 245.7l6.4 6.4m0 -6.4l-6.4 6.4M448.1 245.7l6.4 6.4m0 -6.4l-6.4 6.4M452.8 245.7l6.4 6.4m0 -6.4l-6.4 6.4M457.5 245.7l6.4 6.4m0 -6.4l-6.4 6.4M462.2 243.8l6.4 6.4m0 -6.4l-6.4 6.4M466.9 243.8l6.4 6.4m0 -6.4l-6.4 6.4M471.6 245.7l6.4 6.4m0 -6.4l-6.4 6.4M476.2 243.8l6.4 6.4m0 -6.4l-6.4 6.4M480.9 245.7l6.4 6.4m0 -6.4l-6.4 6.4M485.6 243.8l6.4 6.4m0 -6.4l-6.4 6.4M490.3 243.8l6.4 6.4m0 -6.4l-6.4 6.4M495 243.8l6.4 6.4m0 -6.4l-6.4 6.4M499.7 245.7l6.4 6.4m0 -6.4l-6.4 6.4M504.4 243.8l6.4 6.4m0 -6.4l-6.4 6.4M509.1 243.8l6.4 6.4m0 -6.4l-6.4 6.4M513.8 243.8l6.4 6.4m0 -6.4l-6.4 6.4M518.5 241.9l6.4 6.4m0 -6.4l-6.4 6.4M523.2 241.9l6.4 6.4m0 -6.4l-6.4 6.4M527.9 243.8l6.4 6.4m0 -6.4l-6.4 6.4M532.6 243.8l6.4 6.4m0 -6.4l-6.4 6.4M537.2 241.9l6.4 6.4m0 -6.4l-6.4 6.4M541.9 241.9l6.4 6.4m0 -6.4l-6.4 6.4M546.6 241.9l6.4 6.4m0 -6.4l-6.4 6.4M551.3 241.9l6.4 6.4m0 -6.4l-6.4 6.4M556 241.9l6.4 6.4m0 -6.4l-6.4 6.4M560.7 241.9l6.4 6.4m0 -6.4l-6.4 6.4M565.4 241.9l6.4 6.4m0 -6.4l-6.4 6.4M570.1 241.9l6.4 6.4m0 -6.4l-6.4 6.4M574.8 240l6.4 6.4m0 -6.4l-6.4 6.4M579.5 241.9l6.4 6.4m0 -6.4l-6.4 6.4M584.2 240l6.4 6.4m0 -6.4l-6.4 6.4M588.9 240l6.4 6.4m0 -6.4l-6.4 6.4M593.6 240l6.4 6.4m0 -6.4l-6.4 6.4M598.2 240l6.4 6.4m0 -6.4l-6.4 6.4M602.9 240l6.4 6.4m0 -6.4l-6.4 6.4M607.6 240l6.4 6.4m0 -6.4l-6.4 6.4M612.3 240l6.4 6.4m0 -6.4l-6.4 6.4M617 240l6.4 6.4m0 -6.4l-6.4 6.4M621.7 240l6.4 6.4m0 -6.4l-6.4 6.4M626.4 238.1l6.4 6.4m0 -6.4l-6.4 6.4M631.1 240l6.4 6.4m0 -6.4l-6.4 6.4M635.8 240l6.4 6.4m0 -6.4l-6.4 6.4M640.5 238.1l6.4 6.4m0 -6.4l-6.4 6.4M645.2 238.1l6.4 6.4m0 -6.4l-6.4 6.4M649.9 238.1l6.4 6.4m0 -6.4l-6.4 6.4M654.6 238.1l6.4 6.4m0 -6.4l-6.4 6.4M659.2 238.1l6.4 6.4m0 -6.4l-6.4 6.4M663.9 238.1l6.4 6.4m0 -6.4l-6.4 6.4M668.6 238.1l6.4 6.4m0 -6.4l-6.4 6.4M673.3 238.1l6.4 6.4m0 -6.4l-6.4 6.4M678 238.1l6.4 6.4m0 -6.4l-6.4 6.4M682.7 238.1l6.4 6.4m0 -6.4l-6.4 6.4M687.4 238.1l6.4 6.4m0 -6.4l-6.4 6.4M692.1 236.2l6.4 6.4m0 -6.4l-6.4 6.4M696.8 236.2l6.4 6.4m0 -6.4l-6.4 6.4M701.5 236.2l6.4 6.4m0 -6.4l-6.4 6.4M706.2 238.1l6.4 6.4m0 -6.4l-6.4 6.4M710.9 236.2l6.4 6.4m0 -6.4l-6.4 6.4M715.6 236.2l6.4 6.4m0 -6.4l-6.4 6.4M720.2 236.2l6.4 6.4m0 -6.4l-6.4 6.4M724.9 238.1l6.4 6.4m0 -6.4l-6.4 6.4M729.6 238.1l6.4 6.4m0 -6.4l-6.4 6.4M734.3 236.2l6.4 6.4m0 -6.4l-6.4 6.4M739 236.2l6.4 6.4m0 -6.4l-6.4 6.4M743.7 236.2l6.4 6.4m0 -6.4l-6.4 6.4M748.4 236.2l6.4 6.4m0 -6.4l-6.4 6.4M753.1 236.2l6.4 6.4m0 -6.4l-6.4 6.4M757.8 236.2l6.4 6.4m0 -6.4l-6.4 6.4M762.5 236.2l6.4 6.4m0 -6.4l-6.4 6.4M767.2 234.3l6.4 6.4m0 -6.4l-6.4 6.4M771.9 236.2l6.4 6.4m0 -6.4l-6.4 6.4M776.6 234.3l6.4 6.4m0 -6.4l-6.4 6.4M781.3 234.3l6.4 6.4m0 -6.4l-6.4 6.4M785.9 234.3l6.4 6.4m0 -6.4l-6.4 6.4M790.6 234.3l6.4 6.4m0 -6.4l-6.4 6.4M795.3 234.3l6.4 6.4m0 -6.4l-6.4 6.4M800 234.3l6.4 6.4m0 -6.4l-6.4 6.4M804.7 234.3l6.4 6.4m0 -6.4l-6.4 6.4M809.4 234.3l6.4 6.4m0 -6.4l-6.4 6.4M814.1 234.3l6.4 6.4m0 -6.4l-6.4 6.4M818.8 234.3l6.4 6.4m0 -6.4l-6.4 6.4M823.5 232.4l6.4 6.4m0 -6.4l-6.4 6.4M828.2 232.4l6.4 6.4m0 -6.4l-6.4 6.4M832.9 232.4l6.4 6.4m0 -6.4l-6.4 6.4M837.6 232.4l6.4 6.4m0 -6.4l-6.4 6.4M842.3 232.4l6.4 6.4m0 -6.4l-6.4 6.4M846.9 232.4l6.4 6.4m0 -6.4l-6.4 6.4M851.6 232.4l6.4 6.4m0 -6.4l-6.4 6.4M856.3 232.4l6.4 6.4m0 -6.4l-6.4 6.4M861 232.4l6.4 6.4m0 -6.4l-6.4 6.4M865.7 230.5l6.4 6.4m0 -6.4l-6.4 6.4M870.4 232.4l6.4 6.4m0 -6.4l-6.4 6.4M875.1 232.4l6.4 6.4m0 -6.4l-6.4 6.4M879.8 232.4l6.4 6.4m0 -6.4l-6.4 6.4M884.5 232.4l6.4 6.4m0 -6.4l-6.4 6.4M889.2 232.4l6.4 6.4m0 -6.4l-6.4 6.4M893.9 232.4l6.4 6.4m0 -6.4l-6.4 6.4M898.6 232.4l6.4 6.4m0 -6.4l-6.4 6.4M903.3 230.5l6.4 6.4m0 -6.4l-6.4 6.4M907.9 230.5l6.4 6.4m0 -6.4l-6.4 6.4M912.6 230.5l6.4 6.4m0 -6.4l-6.4 6.4M917.3 230.5l6.4 6.4m0 -6.4l-6.4 6.4M922 230.5l6.4 6.4m0 -6.4l-6.4 6.4M926.7 230.5l6.4 6.4m0 -6.4l-6.4 6.4M931.4 230.5l6.4 6.4m0 -6.4l-6.4 6.4M936.1 230.5l6.4 6.4m0 -6.4l-6.4 6.4" stroke="#5a12a6" stroke-width="1.9" fill="none"/>
<text x="511.1" y="41.1" font-family="'Liberation Sans', sans-serif" font-size="17.6" text-anchor="middle" fill="#0c0c0c" font-weight="bold" stroke="#0c0c0c" stroke-width="0.5" textLength="229.5" lengthAdjust="spacingAndGlyphs" >Working Lamp Interval</text>
<text x="511" y="67.5" font-family="'Liberation Sans', sans-serif" font-size="17.6" text-anchor="middle" fill="#0c0c0c" font-weight="bold" stroke="#0c0c0c" stroke-width="0.5" textLength="543" lengthAdjust="spacingAndGlyphs" >Green band (FPM average) and Photodiode responses</text>
<text x="0" y="0" font-family="'Liberation Sans', sans-serif" font-size="17.6" text-anchor="middle" fill="#0c0c0c" font-weight="bold" stroke="#0c0c0c" stroke-width="0.5" textLength="44.5" lengthAdjust="spacingAndGlyphs" transform="translate(47 336.5) rotate(-90)">signal</text>
<text x="545.2" y="635.8" font-family="'Liberation Sans', sans-serif" font-size="17.6" text-anchor="middle" fill="#0c0c0c" font-weight="bold" stroke="#0c0c0c" stroke-width="0.5" textLength="302" lengthAdjust="spacingAndGlyphs" >time [seconds since OLI image start]</text>
<text x="91.3" y="100.0" font-family="'Liberation Sans', sans-serif" font-size="16.2" text-anchor="end" fill="#0c0c0c" stroke="#0c0c0c" stroke-width="0.5" textLength="20.4" lengthAdjust="spacingAndGlyphs" >29</text>
<text x="91.3" y="160.9" font-family="'Liberation Sans', sans-serif" font-size="16.2" text-anchor="end" fill="#0c0c0c" stroke="#0c0c0c" stroke-width="0.5" textLength="35.6" lengthAdjust="spacingAndGlyphs" >28.5</text>
<text x="91.3" y="221.8" font-family="'Liberation Sans', sans-serif" font-size="16.2" text-anchor="end" fill="#0c0c0c" stroke="#0c0c0c" stroke-width="0.5" textLength="20.4" lengthAdjust="spacingAndGlyphs" >28</text>
<text x="91.3" y="282.7" font-family="'Liberation Sans', sans-serif" font-size="16.2" text-anchor="end" fill="#0c0c0c" stroke="#0c0c0c" stroke-width="0.5" textLength="35.6" lengthAdjust="spacingAndGlyphs" >27.5</text>
<text x="91.3" y="343.6" font-family="'Liberation Sans', sans-serif" font-size="16.2" text-anchor="end" fill="#0c0c0c" stroke="#0c0c0c" stroke-width="0.5" textLength="20.4" lengthAdjust="spacingAndGlyphs" >27</text>
<text x="91.3" y="404.5" font-family="'Liberation Sans', sans-serif" font-size="16.2" text-anchor="end" fill="#0c0c0c" stroke="#0c0c0c" stroke-width="0.5" textLength="35.6" lengthAdjust="spacingAndGlyphs" >26.5</text>
<text x="91.3" y="465.4" font-family="'Liberation Sans', sans-serif" font-size="16.2" text-anchor="end" fill="#0c0c0c" stroke="#0c0c0c" stroke-width="0.5" textLength="20.4" lengthAdjust="spacingAndGlyphs" >26</text>
<text x="91.3" y="526.3" font-family="'Liberation Sans', sans-serif" font-size="16.2" text-anchor="end" fill="#0c0c0c" stroke="#0c0c0c" stroke-width="0.5" textLength="35.6" lengthAdjust="spacingAndGlyphs" >25.5</text>
<text x="91.3" y="587.2" font-family="'Liberation Sans', sans-serif" font-size="16.2" text-anchor="end" fill="#0c0c0c" stroke="#0c0c0c" stroke-width="0.5" textLength="20.4" lengthAdjust="spacingAndGlyphs" >25</text>
<text x="110.5" y="611.2" font-family="'Liberation Sans', sans-serif" font-size="16.2" text-anchor="middle" fill="#0c0c0c" stroke="#0c0c0c" stroke-width="0.5" textLength="10.2" lengthAdjust="spacingAndGlyphs" >0</text>
<text x="207.4" y="611.2" font-family="'Liberation Sans', sans-serif" font-size="16.2" text-anchor="middle" fill="#0c0c0c" stroke="#0c0c0c" stroke-width="0.5" textLength="20.4" lengthAdjust="spacingAndGlyphs" >20</text>
<text x="304.3" y="611.2" font-family="'Liberation Sans', sans-serif" font-size="16.2" text-anchor="middle" fill="#0c0c0c" stroke="#0c0c0c" stroke-width="0.5" textLength="20.4" lengthAdjust="spacingAndGlyphs" >40</text>
<text x="401.2" y="611.2" font-family="'Liberation Sans', sans-serif" font-size="16.2" text-anchor="middle" fill="#0c0c0c" stroke="#0c0c0c" stroke-width="0.5" textLength="20.4" lengthAdjust="spacingAndGlyphs" >60</text>
<text x="498.1" y="611.2" font-family="'Liberation Sans', sans-serif" font-size="16.2" text-anchor="middle" fill="#0c0c0c" stroke="#0c0c0c" stroke-width="0.5" textLength="20.4" lengthAdjust="spacingAndGlyphs" >80</text>
<text x="594.9" y="611.2" font-family="'Liberation Sans', sans-serif" font-size="16.2" text-anchor="middle" fill="#0c0c0c" stroke="#0c0c0c" stroke-width="0.5" textLength="30.6" lengthAdjust="spacingAndGlyphs" >100</text>
<text x="691.8" y="611.2" font-family="'Liberation Sans', sans-serif" font-size="16.2" text-anchor="middle" fill="#0c0c0c" stroke="#0c0c0c" stroke-width="0.5" textLength="30.6" lengthAdjust="spacingAndGlyphs" >120</text>
<text x="788.7" y="611.2" font-family="'Liberation Sans', sans-serif" font-size="16.2" text-anchor="middle" fill="#0c0c0c" stroke="#0c0c0c" stroke-width="0.5" textLength="30.6" lengthAdjust="spacingAndGlyphs" >140</text>
<text x="885.6" y="611.2" font-family="'Liberation Sans', sans-serif" font-size="16.2" text-anchor="middle" fill="#0c0c0c" stroke="#0c0c0c" stroke-width="0.5" textLength="30.6" lengthAdjust="spacingAndGlyphs" >160</text>
<text x="982.5" y="611.2" font-family="'Liberation Sans', sans-serif" font-size="16.2" text-anchor="middle" fill="#0c0c0c" stroke="#0c0c0c" stroke-width="0.5" textLength="30.6" lengthAdjust="spacingAndGlyphs" >180</text>
<rect x="121.4" y="669.3" width="2.7" height="2.7" fill="#0046ad"/>
<circle cx="341.3" cy="670.7" r="2" fill="#d20000"/>
<path d="M559.6 666.9l5 8.8h-10z" fill="#55a800"/>
<rect x="750.9" y="666.6" width="9.4" height="9.4" fill="#1d0a5e"/><path d="M752.6 668.3l6 6m0 -6l-6 6" stroke="#4a1090" stroke-width="1.3"/>
<text x="133.6" y="678.8" font-family="'Liberation Sans', sans-serif" font-size="16.4" text-anchor="start" fill="#0c0c0c" stroke="#0c0c0c" stroke-width="0.5" textLength="166.5" lengthAdjust="spacingAndGlyphs" >FPM7 [W/m2 sr um]</text>
<text x="351.7" y="678.8" font-family="'Liberation Sans', sans-serif" font-size="16.4" text-anchor="start" fill="#0c0c0c" stroke="#0c0c0c" stroke-width="0.5" textLength="166.8" lengthAdjust="spacingAndGlyphs" >FPM8 [W/m2 sr um]</text>
<text x="570.4" y="678.8" font-family="'Liberation Sans', sans-serif" font-size="16.4" text-anchor="start" fill="#0c0c0c" stroke="#0c0c0c" stroke-width="0.5" textLength="143.5" lengthAdjust="spacingAndGlyphs" >Photodiode1 [uA]</text>
<text x="766.3" y="678.8" font-family="'Liberation Sans', sans-serif" font-size="16.4" text-anchor="start" fill="#0c0c0c" stroke="#0c0c0c" stroke-width="0.5" textLength="145" lengthAdjust="spacingAndGlyphs" >Photodiode2 [uA]</text>
</svg>
</body></html>
